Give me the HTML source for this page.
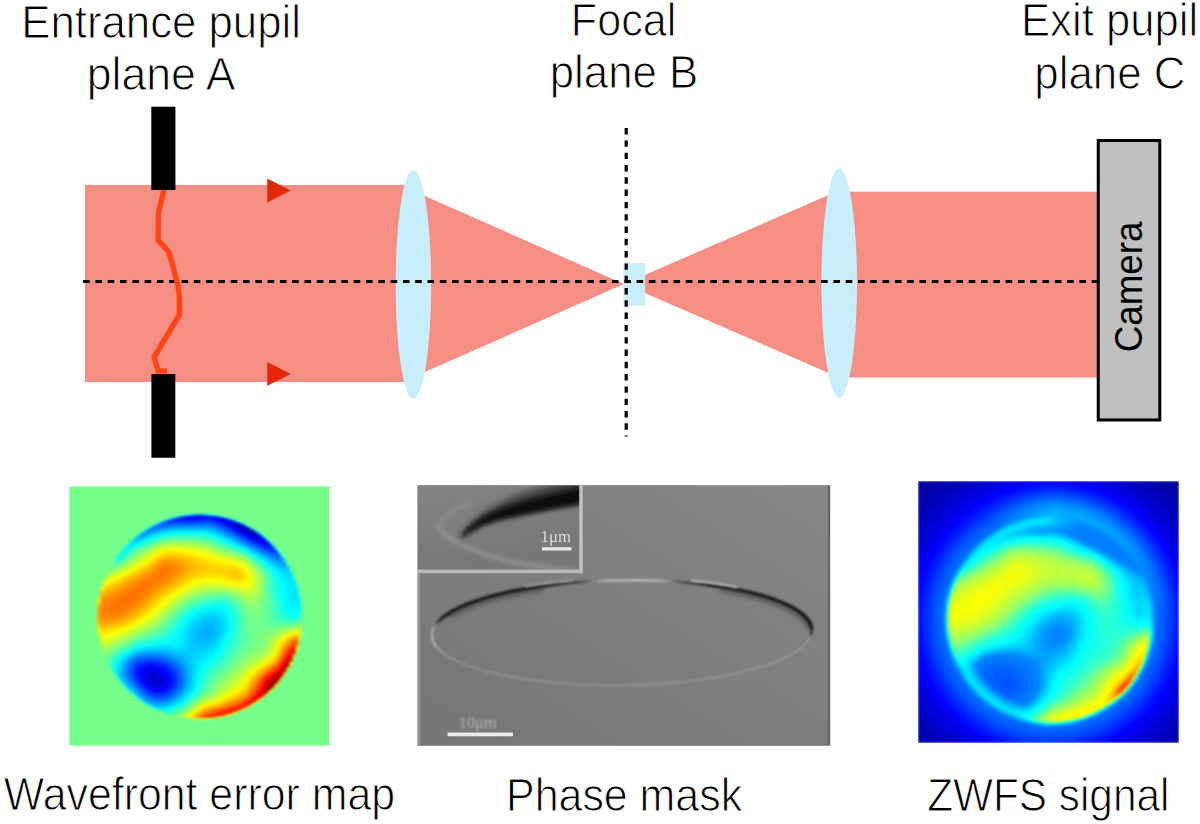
<!DOCTYPE html>
<html><head><meta charset="utf-8"><style>
html,body{margin:0;padding:0;background:#fff;width:1200px;height:824px;overflow:hidden}
#page{position:relative;width:1200px;height:824px}
svg{display:block;position:absolute;left:0;top:0}
.img{position:absolute;overflow:hidden}
.rows{position:absolute;left:0;top:0;width:100%;height:100%}
.rows div{position:absolute;left:0;width:100%}
</style></head>
<body><div id="page"><svg width="1200" height="824" viewBox="0 0 1200 824">
<defs><linearGradient id="pmg" x1="1" y1="0" x2="0" y2="1"><stop offset="0" stop-color="#888"/><stop offset="0.5" stop-color="#7e7e7e"/><stop offset="1" stop-color="#767676"/></linearGradient><filter id="pb06" x="-5%" y="-5%" width="110%" height="110%"><feGaussianBlur stdDeviation="0.6"/></filter><filter id="pb1" x="-20%" y="-50%" width="140%" height="200%"><feGaussianBlur stdDeviation="0.9"/></filter><filter id="pb2" x="-20%" y="-50%" width="140%" height="200%"><feGaussianBlur stdDeviation="2"/></filter><filter id="pb3" x="-30%" y="-60%" width="160%" height="220%"><feGaussianBlur stdDeviation="3.5"/></filter><clipPath id="pmclip"><rect x="417.5" y="485.2" width="412.7" height="260.6"/></clipPath><clipPath id="insclip"><rect x="417.5" y="485.2" width="162" height="84.4"/></clipPath><linearGradient id="insg" x1="0" y1="0" x2="0.3" y2="1"><stop offset="0" stop-color="#848484"/><stop offset="1" stop-color="#777"/></linearGradient></defs>
<rect width="1200" height="824" fill="#fff"/>
<rect x="85" y="185" width="330" height="197" fill="#f58f84"/><polygon points="413,190.69 624,284 413,377.31" fill="#f58f84"/><polygon points="624,284 839,190.52 839,377.48" fill="#f58f84"/><rect x="839" y="191.7" width="259" height="185.8" fill="#f58f84"/><ellipse cx="413.4" cy="284.5" rx="17.75" ry="114.5" fill="#c9eefb"/><ellipse cx="839.2" cy="283.1" rx="17.8" ry="114.7" fill="#c9eefb"/><rect x="623.3" y="263.1" width="21.9" height="42.6" fill="#c9eefb"/><line x1="83.1" y1="281.6" x2="1097" y2="281.6" stroke="#000" stroke-width="3" stroke-dasharray="6.6 5.7"/><line x1="626.2" y1="128.1" x2="626.2" y2="436.6" stroke="#000" stroke-width="3.2" stroke-dasharray="6.4 5.9"/><polygon points="267.25,178.5 290.75,190.5 267.25,202.5" fill="#e22806"/><polygon points="267.25,362 290.75,374 267.25,385.75" fill="#e22806"/><polyline points="164,190 158.4,212.5 158.2,240.5 168.5,251.5 172,262.5 175.2,275 178,286 179.3,296 179.5,314.5 154.2,357 158,371 167,371" fill="none" stroke="#ff4515" stroke-width="5.4" stroke-linejoin="miter"/><rect x="151.3" y="106.7" width="24.1" height="83.3" fill="#000"/><rect x="151.4" y="374" width="23.9" height="83.75" fill="#000"/><rect x="1098.25" y="140.5" width="61.55" height="279.45" fill="#bfbfbf" stroke="#000" stroke-width="3"/><text transform="translate(21.23,37.75) scale(0.9414,1)" font-family="Liberation Sans" font-size="46.5" fill="#000" stroke="#fff" stroke-width="1.0">Entrance pupil</text><text transform="translate(86.76,89.50) scale(0.9593,1)" font-family="Liberation Sans" font-size="46.5" fill="#000" stroke="#fff" stroke-width="1.0">plane A</text><text transform="translate(570.79,36.25) scale(0.9283,1)" font-family="Liberation Sans" font-size="46.5" fill="#000" stroke="#fff" stroke-width="1.0">Focal</text><text transform="translate(549.73,87.75) scale(0.9421,1)" font-family="Liberation Sans" font-size="46.5" fill="#000" stroke="#fff" stroke-width="1.0">plane B</text><text transform="translate(1020.99,36.25) scale(0.9390,1)" font-family="Liberation Sans" font-size="46.5" fill="#000" stroke="#fff" stroke-width="1.0">Exit pupil</text><text transform="translate(1034.22,88.50) scale(0.9444,1)" font-family="Liberation Sans" font-size="46.5" fill="#000" stroke="#fff" stroke-width="1.0">plane C</text><text transform="translate(3.82,809.85) scale(0.9318,1)" font-family="Liberation Sans" font-size="46" fill="#000" stroke="#fff" stroke-width="1.0">Wavefront error map</text><text transform="translate(506.07,810.50) scale(0.9328,1)" font-family="Liberation Sans" font-size="46" fill="#000" stroke="#fff" stroke-width="1.0">Phase mask</text><text transform="translate(927.16,810.50) scale(0.9205,1)" font-family="Liberation Sans" font-size="46" fill="#000" stroke="#fff" stroke-width="1.0">ZWFS signal</text><text transform="translate(1142,352.21) rotate(-90) scale(0.9541,1)" font-family="Liberation Sans" font-size="38.5" fill="#000">Camera</text><rect x="417.5" y="485.2" width="412.7" height="260.6" fill="url(#pmg)"/><g clip-path="url(#pmclip)"><rect x="417.5" y="485.2" width="2.6" height="260.6" fill="#969696" filter="url(#pb06)"/><rect x="827.8000000000001" y="485.2" width="2.4" height="260.6" fill="#666" filter="url(#pb06)"/><g filter="url(#pb2)"><path d="M 449.6,612.8 L 451.0,612.0 L 452.5,611.2 L 454.0,610.4 L 455.6,609.5 L 457.2,608.7 L 458.9,607.9 L 460.6,607.1 L 462.3,606.3 L 464.1,605.6 L 466.0,604.8 L 467.9,604.0 L 469.8,603.3 L 471.8,602.5 L 473.8,601.8 L 475.9,601.1 L 478.1,600.3 L 480.2,599.6 L 482.4,598.9 L 484.7,598.2 L 487.0,597.6 L 489.3,596.9 L 491.7,596.2 L 494.1,595.6 L 496.5,594.9 L 499.0,594.3 L 501.5,593.7 L 504.1,593.1 L 506.7,592.5 L 509.3,591.9 L 512.0,591.4 L 514.7,590.8 L 517.4,590.3 L 520.1,589.8 L 522.9,589.2 L 525.7,588.7 L 528.6,588.3 L 531.5,587.8 L 534.4,587.3 L 537.3,586.9 L 540.2,586.4" fill="none" stroke="#585858" stroke-width="5" stroke-linecap="round" transform="translate(1.5,3)"/><path d="M 722.9,587.1 L 726.4,587.6 L 729.8,588.2 L 733.2,588.9 L 736.6,589.5 L 739.9,590.2 L 743.1,590.9 L 746.3,591.6 L 749.4,592.3 L 752.5,593.0 L 755.5,593.8 L 758.4,594.6 L 761.3,595.4 L 764.1,596.2 L 766.8,597.1 L 769.5,597.9 L 772.1,598.8 L 774.6,599.7 L 777.0,600.6 L 779.4,601.5 L 781.7,602.4 L 783.9,603.4 L 786.0,604.3 L 788.1,605.3 L 790.1,606.3 L 791.9,607.3 L 793.8,608.3 L 795.5,609.4 L 797.1,610.4 L 798.7,611.5 L 800.2,612.5 L 801.5,613.6 L 802.8,614.7 L 804.1,615.8 L 805.2,616.9 L 806.2,618.0 L 807.2,619.1 L 808.0,620.2 L 808.8,621.3 L 809.5,622.5 L 810.0,623.6" fill="none" stroke="#585858" stroke-width="5" stroke-linecap="round" transform="translate(-1.5,3)"/></g><g filter="url(#pb1)"><path d="M810.9,635.1L810.1,636.9" stroke="#969696" stroke-width="1.6" stroke-linecap="round"/><path d="M810.1,636.9L809.2,638.8" stroke="#969696" stroke-width="1.6" stroke-linecap="round"/><path d="M809.2,638.8L808.0,640.6" stroke="#969696" stroke-width="1.6" stroke-linecap="round"/><path d="M808.0,640.6L806.6,642.4" stroke="#969696" stroke-width="1.6" stroke-linecap="round"/><path d="M806.6,642.4L805.0,644.2" stroke="#969696" stroke-width="1.6" stroke-linecap="round"/><path d="M805.0,644.2L803.2,646.0" stroke="#969696" stroke-width="1.6" stroke-linecap="round"/><path d="M803.2,646.0L801.1,647.7" stroke="#969696" stroke-width="1.6" stroke-linecap="round"/><path d="M801.1,647.7L798.8,649.5" stroke="#969696" stroke-width="1.6" stroke-linecap="round"/><path d="M798.8,649.5L796.3,651.2" stroke="#969696" stroke-width="1.6" stroke-linecap="round"/><path d="M796.3,651.2L793.6,652.9" stroke="#969696" stroke-width="1.6" stroke-linecap="round"/><path d="M793.6,652.9L790.7,654.6" stroke="#969696" stroke-width="1.6" stroke-linecap="round"/><path d="M790.7,654.6L787.5,656.3" stroke="#969696" stroke-width="1.6" stroke-linecap="round"/><path d="M787.5,656.3L784.2,657.9" stroke="#969696" stroke-width="1.6" stroke-linecap="round"/><path d="M784.2,657.9L780.7,659.5" stroke="#969696" stroke-width="1.6" stroke-linecap="round"/><path d="M780.7,659.5L777.0,661.0" stroke="#969696" stroke-width="1.6" stroke-linecap="round"/><path d="M777.0,661.0L773.0,662.6" stroke="#969696" stroke-width="1.6" stroke-linecap="round"/><path d="M773.0,662.6L768.9,664.1" stroke="#969696" stroke-width="1.6" stroke-linecap="round"/><path d="M768.9,664.1L764.7,665.5" stroke="#969696" stroke-width="1.6" stroke-linecap="round"/><path d="M764.7,665.5L760.2,666.9" stroke="#969696" stroke-width="1.6" stroke-linecap="round"/><path d="M760.2,666.9L755.6,668.3" stroke="#969696" stroke-width="1.6" stroke-linecap="round"/><path d="M755.6,668.3L750.8,669.6" stroke="#969696" stroke-width="1.6" stroke-linecap="round"/><path d="M750.8,669.6L745.9,670.9" stroke="#969696" stroke-width="1.6" stroke-linecap="round"/><path d="M745.9,670.9L740.8,672.2" stroke="#969696" stroke-width="1.6" stroke-linecap="round"/><path d="M740.8,672.2L735.6,673.4" stroke="#969696" stroke-width="1.6" stroke-linecap="round"/><path d="M735.6,673.4L730.2,674.5" stroke="#969696" stroke-width="1.6" stroke-linecap="round"/><path d="M730.2,674.5L724.7,675.6" stroke="#969696" stroke-width="1.6" stroke-linecap="round"/><path d="M724.7,675.6L719.0,676.6" stroke="#969696" stroke-width="1.6" stroke-linecap="round"/><path d="M719.0,676.6L713.3,677.6" stroke="#969696" stroke-width="1.6" stroke-linecap="round"/><path d="M713.3,677.6L707.4,678.6" stroke="#969696" stroke-width="1.6" stroke-linecap="round"/><path d="M707.4,678.6L701.5,679.4" stroke="#969696" stroke-width="1.6" stroke-linecap="round"/><path d="M701.5,679.4L695.4,680.2" stroke="#969696" stroke-width="1.6" stroke-linecap="round"/><path d="M695.4,680.2L689.2,681.0" stroke="#969696" stroke-width="1.6" stroke-linecap="round"/><path d="M689.2,681.0L683.0,681.7" stroke="#969696" stroke-width="1.6" stroke-linecap="round"/><path d="M683.0,681.7L676.7,682.3" stroke="#969696" stroke-width="1.6" stroke-linecap="round"/><path d="M676.7,682.3L670.3,682.9" stroke="#969696" stroke-width="1.6" stroke-linecap="round"/><path d="M670.3,682.9L663.9,683.5" stroke="#969696" stroke-width="1.6" stroke-linecap="round"/><path d="M663.9,683.5L657.4,683.9" stroke="#969696" stroke-width="1.6" stroke-linecap="round"/><path d="M657.4,683.9L650.9,684.3" stroke="#969696" stroke-width="1.6" stroke-linecap="round"/><path d="M650.9,684.3L644.3,684.6" stroke="#969696" stroke-width="1.6" stroke-linecap="round"/><path d="M644.3,684.6L637.7,684.9" stroke="#969696" stroke-width="1.6" stroke-linecap="round"/><path d="M637.7,684.9L631.1,685.1" stroke="#969696" stroke-width="1.6" stroke-linecap="round"/><path d="M631.1,685.1L624.5,685.3" stroke="#969696" stroke-width="1.6" stroke-linecap="round"/><path d="M624.5,685.3L617.8,685.3" stroke="#969696" stroke-width="1.6" stroke-linecap="round"/><path d="M617.8,685.3L611.2,685.4" stroke="#969696" stroke-width="1.6" stroke-linecap="round"/><path d="M611.2,685.4L604.6,685.3" stroke="#969696" stroke-width="1.6" stroke-linecap="round"/><path d="M604.6,685.3L598.0,685.2" stroke="#969696" stroke-width="1.6" stroke-linecap="round"/><path d="M598.0,685.2L591.5,685.0" stroke="#969696" stroke-width="1.6" stroke-linecap="round"/><path d="M591.5,685.0L584.9,684.8" stroke="#969696" stroke-width="1.6" stroke-linecap="round"/><path d="M584.9,684.8L578.5,684.5" stroke="#969696" stroke-width="1.6" stroke-linecap="round"/><path d="M578.5,684.5L572.0,684.1" stroke="#969696" stroke-width="1.6" stroke-linecap="round"/><path d="M572.0,684.1L565.7,683.7" stroke="#969696" stroke-width="1.6" stroke-linecap="round"/><path d="M565.7,683.7L559.4,683.2" stroke="#969696" stroke-width="1.6" stroke-linecap="round"/><path d="M559.4,683.2L553.1,682.6" stroke="#969696" stroke-width="1.6" stroke-linecap="round"/><path d="M553.1,682.6L547.0,682.0" stroke="#969696" stroke-width="1.6" stroke-linecap="round"/><path d="M547.0,682.0L541.0,681.4" stroke="#969696" stroke-width="1.6" stroke-linecap="round"/><path d="M541.0,681.4L535.0,680.6" stroke="#969696" stroke-width="1.6" stroke-linecap="round"/><path d="M535.0,680.6L529.2,679.8" stroke="#969696" stroke-width="1.6" stroke-linecap="round"/><path d="M529.2,679.8L523.4,679.0" stroke="#969696" stroke-width="1.6" stroke-linecap="round"/><path d="M523.4,679.0L517.8,678.1" stroke="#969696" stroke-width="1.6" stroke-linecap="round"/><path d="M517.8,678.1L512.4,677.1" stroke="#969696" stroke-width="1.6" stroke-linecap="round"/><path d="M512.4,677.1L507.0,676.1" stroke="#969696" stroke-width="1.6" stroke-linecap="round"/><path d="M507.0,676.1L501.8,675.0" stroke="#969696" stroke-width="1.6" stroke-linecap="round"/><path d="M501.8,675.0L496.7,673.9" stroke="#969696" stroke-width="1.6" stroke-linecap="round"/><path d="M496.7,673.9L491.8,672.8" stroke="#969696" stroke-width="1.6" stroke-linecap="round"/><path d="M491.8,672.8L487.1,671.5" stroke="#969696" stroke-width="1.6" stroke-linecap="round"/><path d="M487.1,671.5L482.5,670.3" stroke="#969696" stroke-width="1.6" stroke-linecap="round"/><path d="M482.5,670.3L478.1,669.0" stroke="#969696" stroke-width="1.6" stroke-linecap="round"/><path d="M478.1,669.0L473.8,667.6" stroke="#969696" stroke-width="1.6" stroke-linecap="round"/><path d="M473.8,667.6L469.7,666.2" stroke="#969696" stroke-width="1.6" stroke-linecap="round"/><path d="M469.7,666.2L465.9,664.8" stroke="#969696" stroke-width="1.6" stroke-linecap="round"/><path d="M465.9,664.8L462.2,663.3" stroke="#969696" stroke-width="1.6" stroke-linecap="round"/><path d="M462.2,663.3L458.7,661.8" stroke="#969696" stroke-width="1.6" stroke-linecap="round"/><path d="M458.7,661.8L455.4,660.3" stroke="#969696" stroke-width="1.6" stroke-linecap="round"/><path d="M455.4,660.3L452.3,658.7" stroke="#969696" stroke-width="1.6" stroke-linecap="round"/><path d="M452.3,658.7L449.4,657.1" stroke="#969696" stroke-width="1.6" stroke-linecap="round"/><path d="M449.4,657.1L446.7,655.4" stroke="#969696" stroke-width="1.6" stroke-linecap="round"/><path d="M446.7,655.4L444.3,653.8" stroke="#969696" stroke-width="1.6" stroke-linecap="round"/><path d="M444.3,653.8L442.0,652.1" stroke="#9a9a9a" stroke-width="1.7" stroke-linecap="round"/><path d="M442.0,652.1L440.0,650.3" stroke="#9f9f9f" stroke-width="1.8" stroke-linecap="round"/><path d="M440.0,650.3L438.2,648.6" stroke="#a4a4a4" stroke-width="1.9" stroke-linecap="round"/><path d="M438.2,648.6L436.6,646.8" stroke="#a9a9a9" stroke-width="2.0" stroke-linecap="round"/><path d="M436.6,646.8L435.2,645.1" stroke="#adadad" stroke-width="2.1" stroke-linecap="round"/><path d="M435.2,645.1L434.1,643.3" stroke="#b2b2b2" stroke-width="2.2" stroke-linecap="round"/><path d="M434.1,643.3L433.2,641.5" stroke="#b2b2b2" stroke-width="2.2" stroke-linecap="round"/><path d="M433.2,641.5L432.5,639.7" stroke="#b1b1b1" stroke-width="2.2" stroke-linecap="round"/><path d="M432.5,639.7L432.1,637.8" stroke="#afafaf" stroke-width="2.2" stroke-linecap="round"/><path d="M432.1,637.8L431.9,636.0" stroke="#adadad" stroke-width="2.2" stroke-linecap="round"/><path d="M431.9,636.0L431.9,634.2" stroke="#acacac" stroke-width="2.2" stroke-linecap="round"/><path d="M431.9,634.2L432.2,632.3" stroke="#aaaaaa" stroke-width="2.2" stroke-linecap="round"/><path d="M432.2,632.3L432.6,630.5" stroke="#a8a8a8" stroke-width="2.2" stroke-linecap="round"/><path d="M432.6,630.5L433.4,628.7" stroke="#a7a7a7" stroke-width="2.2" stroke-linecap="round"/><path d="M433.4,628.7L434.3,626.8" stroke="#a5a5a5" stroke-width="2.2" stroke-linecap="round"/><path d="M434.3,626.8L435.5,625.0" stroke="#909090" stroke-width="2.4" stroke-linecap="round"/><path d="M435.5,625.0L436.9,623.2" stroke="#737373" stroke-width="2.6" stroke-linecap="round"/><path d="M436.9,623.2L438.5,621.4" stroke="#565656" stroke-width="2.8" stroke-linecap="round"/><path d="M438.5,621.4L440.3,619.6" stroke="#3a3a3a" stroke-width="3.0" stroke-linecap="round"/><path d="M440.3,619.6L442.4,617.9" stroke="#2f2f2f" stroke-width="3.2" stroke-linecap="round"/><path d="M442.4,617.9L444.7,616.1" stroke="#242424" stroke-width="3.3" stroke-linecap="round"/><path d="M444.7,616.1L447.2,614.4" stroke="#1d1d1d" stroke-width="3.4" stroke-linecap="round"/><path d="M447.2,614.4L449.9,612.7" stroke="#1d1d1d" stroke-width="3.4" stroke-linecap="round"/><path d="M449.9,612.7L452.8,611.0" stroke="#1d1d1d" stroke-width="3.4" stroke-linecap="round"/><path d="M452.8,611.0L456.0,609.3" stroke="#1d1d1d" stroke-width="3.4" stroke-linecap="round"/><path d="M456.0,609.3L459.3,607.7" stroke="#1d1d1d" stroke-width="3.4" stroke-linecap="round"/><path d="M459.3,607.7L462.8,606.1" stroke="#1c1c1c" stroke-width="3.5" stroke-linecap="round"/><path d="M462.8,606.1L466.5,604.6" stroke="#1c1c1c" stroke-width="3.5" stroke-linecap="round"/><path d="M466.5,604.6L470.5,603.0" stroke="#1c1c1c" stroke-width="3.5" stroke-linecap="round"/><path d="M470.5,603.0L474.6,601.5" stroke="#1c1c1c" stroke-width="3.5" stroke-linecap="round"/><path d="M474.6,601.5L478.8,600.1" stroke="#1c1c1c" stroke-width="3.5" stroke-linecap="round"/><path d="M478.8,600.1L483.3,598.7" stroke="#1b1b1b" stroke-width="3.5" stroke-linecap="round"/><path d="M483.3,598.7L487.9,597.3" stroke="#1b1b1b" stroke-width="3.5" stroke-linecap="round"/><path d="M487.9,597.3L492.7,596.0" stroke="#1b1b1b" stroke-width="3.5" stroke-linecap="round"/><path d="M492.7,596.0L497.6,594.7" stroke="#1b1b1b" stroke-width="3.5" stroke-linecap="round"/><path d="M497.6,594.7L502.7,593.4" stroke="#1b1b1b" stroke-width="3.5" stroke-linecap="round"/><path d="M502.7,593.4L507.9,592.2" stroke="#1b1b1b" stroke-width="3.5" stroke-linecap="round"/><path d="M507.9,592.2L513.3,591.1" stroke="#1a1a1a" stroke-width="3.6" stroke-linecap="round"/><path d="M513.3,591.1L518.8,590.0" stroke="#1a1a1a" stroke-width="3.6" stroke-linecap="round"/><path d="M518.8,590.0L524.5,589.0" stroke="#1a1a1a" stroke-width="3.6" stroke-linecap="round"/><path d="M524.5,589.0L530.2,588.0" stroke="#1a1a1a" stroke-width="3.6" stroke-linecap="round"/><path d="M530.2,588.0L536.1,587.0" stroke="#1a1a1a" stroke-width="3.6" stroke-linecap="round"/><path d="M536.1,587.0L542.0,586.2" stroke="#1e1e1e" stroke-width="3.5" stroke-linecap="round"/><path d="M542.0,586.2L548.1,585.4" stroke="#242424" stroke-width="3.4" stroke-linecap="round"/><path d="M548.1,585.4L554.3,584.6" stroke="#2a2a2a" stroke-width="3.2" stroke-linecap="round"/><path d="M554.3,584.6L560.5,583.9" stroke="#303030" stroke-width="3.1" stroke-linecap="round"/><path d="M560.5,583.9L566.8,583.3" stroke="#363636" stroke-width="2.9" stroke-linecap="round"/><path d="M566.8,583.3L573.2,582.7" stroke="#3c3c3c" stroke-width="2.8" stroke-linecap="round"/><path d="M573.2,582.7L579.6,582.1" stroke="#424242" stroke-width="2.7" stroke-linecap="round"/><path d="M579.6,582.1L586.1,581.7" stroke="#535353" stroke-width="2.6" stroke-linecap="round"/><path d="M586.1,581.7L592.6,581.3" stroke="#6d6d6d" stroke-width="2.5" stroke-linecap="round"/><path d="M592.6,581.3L599.2,581.0" stroke="#888888" stroke-width="2.4" stroke-linecap="round"/><path d="M599.2,581.0L605.8,580.7" stroke="#a3a3a3" stroke-width="2.3" stroke-linecap="round"/><path d="M605.8,580.7L612.4,580.5" stroke="#bdbdbd" stroke-width="2.2" stroke-linecap="round"/><path d="M612.4,580.5L619.0,580.3" stroke="#bebebe" stroke-width="2.2" stroke-linecap="round"/><path d="M619.0,580.3L625.7,580.3" stroke="#bfbfbf" stroke-width="2.2" stroke-linecap="round"/><path d="M625.7,580.3L632.3,580.2" stroke="#c0c0c0" stroke-width="2.2" stroke-linecap="round"/><path d="M632.3,580.2L638.9,580.3" stroke="#c0c0c0" stroke-width="2.2" stroke-linecap="round"/><path d="M638.9,580.3L645.5,580.4" stroke="#c1c1c1" stroke-width="2.2" stroke-linecap="round"/><path d="M645.5,580.4L652.0,580.6" stroke="#c2c2c2" stroke-width="2.2" stroke-linecap="round"/><path d="M652.0,580.6L658.6,580.8" stroke="#c2c2c2" stroke-width="2.2" stroke-linecap="round"/><path d="M658.6,580.8L665.0,581.1" stroke="#ababab" stroke-width="2.2" stroke-linecap="round"/><path d="M665.0,581.1L671.5,581.5" stroke="#8e8e8e" stroke-width="2.3" stroke-linecap="round"/><path d="M671.5,581.5L677.8,581.9" stroke="#717171" stroke-width="2.4" stroke-linecap="round"/><path d="M677.8,581.9L684.1,582.4" stroke="#575757" stroke-width="2.4" stroke-linecap="round"/><path d="M684.1,582.4L690.4,583.0" stroke="#4c4c4c" stroke-width="2.6" stroke-linecap="round"/><path d="M690.4,583.0L696.5,583.6" stroke="#414141" stroke-width="2.8" stroke-linecap="round"/><path d="M696.5,583.6L702.5,584.2" stroke="#363636" stroke-width="3.0" stroke-linecap="round"/><path d="M702.5,584.2L708.5,585.0" stroke="#2b2b2b" stroke-width="3.2" stroke-linecap="round"/><path d="M708.5,585.0L714.3,585.8" stroke="#202020" stroke-width="3.4" stroke-linecap="round"/><path d="M714.3,585.8L720.1,586.6" stroke="#1d1d1d" stroke-width="3.4" stroke-linecap="round"/><path d="M720.1,586.6L725.7,587.5" stroke="#1d1d1d" stroke-width="3.4" stroke-linecap="round"/><path d="M725.7,587.5L731.1,588.5" stroke="#1d1d1d" stroke-width="3.4" stroke-linecap="round"/><path d="M731.1,588.5L736.5,589.5" stroke="#1d1d1d" stroke-width="3.4" stroke-linecap="round"/><path d="M736.5,589.5L741.7,590.6" stroke="#1d1d1d" stroke-width="3.4" stroke-linecap="round"/><path d="M741.7,590.6L746.8,591.7" stroke="#1d1d1d" stroke-width="3.4" stroke-linecap="round"/><path d="M746.8,591.7L751.7,592.8" stroke="#1d1d1d" stroke-width="3.4" stroke-linecap="round"/><path d="M751.7,592.8L756.4,594.1" stroke="#1c1c1c" stroke-width="3.5" stroke-linecap="round"/><path d="M756.4,594.1L761.0,595.3" stroke="#1c1c1c" stroke-width="3.5" stroke-linecap="round"/><path d="M761.0,595.3L765.4,596.6" stroke="#1c1c1c" stroke-width="3.5" stroke-linecap="round"/><path d="M765.4,596.6L769.7,598.0" stroke="#1c1c1c" stroke-width="3.5" stroke-linecap="round"/><path d="M769.7,598.0L773.8,599.4" stroke="#1c1c1c" stroke-width="3.5" stroke-linecap="round"/><path d="M773.8,599.4L777.6,600.8" stroke="#1c1c1c" stroke-width="3.5" stroke-linecap="round"/><path d="M777.6,600.8L781.3,602.3" stroke="#1c1c1c" stroke-width="3.5" stroke-linecap="round"/><path d="M781.3,602.3L784.8,603.8" stroke="#1b1b1b" stroke-width="3.5" stroke-linecap="round"/><path d="M784.8,603.8L788.1,605.3" stroke="#1b1b1b" stroke-width="3.5" stroke-linecap="round"/><path d="M788.1,605.3L791.2,606.9" stroke="#1b1b1b" stroke-width="3.5" stroke-linecap="round"/><path d="M791.2,606.9L794.1,608.5" stroke="#1b1b1b" stroke-width="3.5" stroke-linecap="round"/><path d="M794.1,608.5L796.8,610.2" stroke="#1b1b1b" stroke-width="3.5" stroke-linecap="round"/><path d="M796.8,610.2L799.2,611.8" stroke="#1b1b1b" stroke-width="3.5" stroke-linecap="round"/><path d="M799.2,611.8L801.5,613.5" stroke="#1b1b1b" stroke-width="3.5" stroke-linecap="round"/><path d="M801.5,613.5L803.5,615.3" stroke="#1a1a1a" stroke-width="3.6" stroke-linecap="round"/><path d="M803.5,615.3L805.3,617.0" stroke="#1a1a1a" stroke-width="3.6" stroke-linecap="round"/><path d="M805.3,617.0L806.9,618.8" stroke="#1a1a1a" stroke-width="3.6" stroke-linecap="round"/><path d="M806.9,618.8L808.3,620.5" stroke="#1a1a1a" stroke-width="3.6" stroke-linecap="round"/><path d="M808.3,620.5L809.4,622.3" stroke="#1a1a1a" stroke-width="3.6" stroke-linecap="round"/><path d="M809.4,622.3L810.3,624.1" stroke="#1a1a1a" stroke-width="3.6" stroke-linecap="round"/><path d="M810.3,624.1L811.0,625.9" stroke="#1a1a1a" stroke-width="3.6" stroke-linecap="round"/><path d="M811.0,625.9L811.4,627.8" stroke="#1a1a1a" stroke-width="3.6" stroke-linecap="round"/><path d="M811.4,627.8L811.6,629.6" stroke="#232323" stroke-width="3.3" stroke-linecap="round"/><path d="M811.6,629.6L811.6,631.4" stroke="#2c2c2c" stroke-width="3.0" stroke-linecap="round"/><path d="M811.6,631.4L811.3,633.3" stroke="#363636" stroke-width="2.7" stroke-linecap="round"/><path d="M811.3,633.3L810.9,635.1" stroke="#454545" stroke-width="2.4" stroke-linecap="round"/></g><g filter="url(#pb1)"><path d="M 524.5,589.0 L 525.6,588.8 L 526.8,588.6 L 527.9,588.4 L 529.1,588.2 L 530.3,588.0 L 531.5,587.8 L 532.6,587.6 L 533.8,587.4 L 535.0,587.2 L 536.2,587.0 L 537.4,586.8 L 538.6,586.7 L 539.8,586.5 L 541.0,586.3 L 542.3,586.1 L 543.5,586.0 L 544.7,585.8 L 545.9,585.6 L 547.2,585.5 L 548.4,585.3 L 549.6,585.2 L 550.9,585.0 L 552.1,584.8 L 553.4,584.7 L 554.6,584.5 L 555.9,584.4 L 557.2,584.3 L 558.4,584.1 L 559.7,584.0 L 561.0,583.8 L 562.2,583.7 L 563.5,583.6 L 564.8,583.4 L 566.1,583.3 L 567.4,583.2 L 568.6,583.1 L 569.9,583.0 L 571.2,582.8 L 572.5,582.7 L 573.8,582.6" fill="none" stroke="#a0a0a0" stroke-width="2" transform="translate(0,-2.5)"/><path d="M 691.0,583.0 L 692.2,583.1 L 693.5,583.3 L 694.7,583.4 L 695.9,583.5 L 697.2,583.6 L 698.4,583.8 L 699.6,583.9 L 700.9,584.0 L 702.1,584.2 L 703.3,584.3 L 704.5,584.5 L 705.7,584.6 L 706.9,584.8 L 708.1,584.9 L 709.3,585.1 L 710.5,585.2 L 711.7,585.4 L 712.8,585.6 L 714.0,585.7 L 715.2,585.9 L 716.4,586.1 L 717.5,586.2 L 718.7,586.4 L 719.8,586.6 L 721.0,586.8 L 722.1,586.9 L 723.3,587.1 L 724.4,587.3 L 725.5,587.5 L 726.6,587.7 L 727.7,587.9 L 728.9,588.1 L 730.0,588.3 L 731.1,588.5 L 732.2,588.7 L 733.2,588.9 L 734.3,589.1 L 735.4,589.3 L 736.5,589.5 L 737.6,589.7" fill="none" stroke="#b8b8b8" stroke-width="2.2" transform="translate(0,-2.5)"/></g><g clip-path="url(#insclip)"><rect x="417.5" y="485.2" width="162" height="84.4" fill="url(#insg)"/><path d="M 470,503 C 452,510 442,518 438.7,526.5" fill="none" stroke="#909090" stroke-width="3" filter="url(#pb2)"/><path d="M 438.7,526.5 C 446,540 470,550 500,559 C 530,566 556,569 582,572" fill="none" stroke="#9c9c9c" stroke-width="3" filter="url(#pb2)"/><path d="M 582,478 L 582,503.5 C 555,508 525,514 500,519.5 C 485,523 470,531 460,539 C 470,520 490,505 520,494 C 545,486 565,481 582,478 Z" fill="#3c3c3c" filter="url(#pb3)"/><path d="M 582,487 L 582,503.5 C 560,507 530,513 500,519.5 C 485,523 470,531 460,539 C 463,532 470,525 480,519 C 495,510 520,502 545,496 C 560,492 572,489 582,487 Z" fill="#0e0e0e" filter="url(#pb2)"/><rect x="542" y="547.2" width="29.4" height="3.3" fill="#e8e8e8" filter="url(#pb06)"/><text transform="translate(540.5,541.8) scale(1.05,1)" font-family="Liberation Serif" font-size="16" fill="#dcdcdc" filter="url(#pb06)">1μm</text></g><rect x="579.3" y="485.2" width="3.4" height="88" fill="#c4c4c4" filter="url(#pb06)"/><rect x="417.5" y="569.6" width="165.2" height="3.6" fill="#b8b8b8" filter="url(#pb06)"/><rect x="447.5" y="732.5" width="65.4" height="3.8" fill="#ececec" filter="url(#pb06)"/><text transform="translate(458.5,727.5) scale(1.0,1)" font-family="Liberation Serif" font-size="16.5" fill="#b4b4b4" filter="url(#pb1)">10μm</text></g>
</svg>
<div class="img" style="left:69.10px;top:485.70px;width:261.00px;height:260.00px"><div class="rows" style="filter:blur(1.0px);"><div style="top:0.00px;height:2.50px;background:linear-gradient(90deg,#75ff8a,#75ff8a,#75ff8a,#75ff8a,#75ff8a,#75ff8a,#75ff8a,#75ff8a,#75ff8a,#75ff8a,#75ff8a,#75ff8a,#75ff8a,#75ff8a,#75ff8a,#75ff8a,#75ff8a,#75ff8a,#75ff8a,#75ff8a,#75ff8a,#75ff8a,#75ff8a,#75ff8a,#75ff8a,#75ff8a,#75ff8a,#75ff8a,#75ff8a,#75ff8a,#75ff8a,#75ff8a,#75ff8a,#75ff8a,#75ff8a,#75ff8a,#75ff8a,#75ff8a,#75ff8a,#75ff8a,#75ff8a,#75ff8a,#75ff8a,#75ff8a,#75ff8a,#75ff8a,#75ff8a,#75ff8a,#75ff8a,#75ff8a,#75ff8a,#75ff8a,#75ff8a,#75ff8a,#75ff8a,#75ff8a,#75ff8a,#75ff8a,#75ff8a,#75ff8a,#75ff8a,#75ff8a,#75ff8a,#75ff8a,#75ff8a,#75ff8a,#75ff8a,#75ff8a,#75ff8a,#75ff8a,#75ff8a,#75ff8a,#75ff8a,#75ff8a,#75ff8a,#75ff8a,#75ff8a,#75ff8a,#75ff8a,#75ff8a,#75ff8a,#75ff8a,#75ff8a,#75ff8a,#75ff8a,#75ff8a,#75ff8a,#75ff8a)"></div><div style="top:2.00px;height:2.50px;background:linear-gradient(90deg,#75ff8a,#75ff8a,#75ff8a,#75ff8a,#75ff8a,#75ff8a,#75ff8a,#75ff8a,#75ff8a,#75ff8a,#75ff8a,#75ff8a,#75ff8a,#75ff8a,#75ff8a,#75ff8a,#75ff8a,#75ff8a,#75ff8a,#75ff8a,#75ff8a,#75ff8a,#75ff8a,#75ff8a,#75ff8a,#75ff8a,#75ff8a,#75ff8a,#75ff8a,#75ff8a,#75ff8a,#75ff8a,#75ff8a,#75ff8a,#75ff8a,#75ff8a,#75ff8a,#75ff8a,#75ff8a,#75ff8a,#75ff8a,#75ff8a,#75ff8a,#75ff8a,#75ff8a,#75ff8a,#75ff8a,#75ff8a,#75ff8a,#75ff8a,#75ff8a,#75ff8a,#75ff8a,#75ff8a,#75ff8a,#75ff8a,#75ff8a,#75ff8a,#75ff8a,#75ff8a,#75ff8a,#75ff8a,#75ff8a,#75ff8a,#75ff8a,#75ff8a,#75ff8a,#75ff8a,#75ff8a,#75ff8a,#75ff8a,#75ff8a,#75ff8a,#75ff8a,#75ff8a,#75ff8a,#75ff8a,#75ff8a,#75ff8a,#75ff8a,#75ff8a,#75ff8a,#75ff8a,#75ff8a,#75ff8a,#75ff8a,#75ff8a,#75ff8a)"></div><div style="top:4.00px;height:2.50px;background:linear-gradient(90deg,#75ff8a,#75ff8a,#75ff8a,#75ff8a,#75ff8a,#75ff8a,#75ff8a,#75ff8a,#75ff8a,#75ff8a,#75ff8a,#75ff8a,#75ff8a,#75ff8a,#75ff8a,#75ff8a,#75ff8a,#75ff8a,#75ff8a,#75ff8a,#75ff8a,#75ff8a,#75ff8a,#75ff8a,#75ff8a,#75ff8a,#75ff8a,#75ff8a,#75ff8a,#75ff8a,#75ff8a,#75ff8a,#75ff8a,#75ff8a,#75ff8a,#75ff8a,#75ff8a,#75ff8a,#75ff8a,#75ff8a,#75ff8a,#75ff8a,#75ff8a,#75ff8a,#75ff8a,#75ff8a,#75ff8a,#75ff8a,#75ff8a,#75ff8a,#75ff8a,#75ff8a,#75ff8a,#75ff8a,#75ff8a,#75ff8a,#75ff8a,#75ff8a,#75ff8a,#75ff8a,#75ff8a,#75ff8a,#75ff8a,#75ff8a,#75ff8a,#75ff8a,#75ff8a,#75ff8a,#75ff8a,#75ff8a,#75ff8a,#75ff8a,#75ff8a,#75ff8a,#75ff8a,#75ff8a,#75ff8a,#75ff8a,#75ff8a,#75ff8a,#75ff8a,#75ff8a,#75ff8a,#75ff8a,#75ff8a,#75ff8a,#75ff8a,#75ff8a)"></div><div style="top:6.00px;height:2.50px;background:linear-gradient(90deg,#75ff8a,#75ff8a,#75ff8a,#75ff8a,#75ff8a,#75ff8a,#75ff8a,#75ff8a,#75ff8a,#75ff8a,#75ff8a,#75ff8a,#75ff8a,#75ff8a,#75ff8a,#75ff8a,#75ff8a,#75ff8a,#75ff8a,#75ff8a,#75ff8a,#75ff8a,#75ff8a,#75ff8a,#75ff8a,#75ff8a,#75ff8a,#75ff8a,#75ff8a,#75ff8a,#75ff8a,#75ff8a,#75ff8a,#75ff8a,#75ff8a,#75ff8a,#75ff8a,#75ff8a,#75ff8a,#75ff8a,#75ff8a,#75ff8a,#75ff8a,#75ff8a,#75ff8a,#75ff8a,#75ff8a,#75ff8a,#75ff8a,#75ff8a,#75ff8a,#75ff8a,#75ff8a,#75ff8a,#75ff8a,#75ff8a,#75ff8a,#75ff8a,#75ff8a,#75ff8a,#75ff8a,#75ff8a,#75ff8a,#75ff8a,#75ff8a,#75ff8a,#75ff8a,#75ff8a,#75ff8a,#75ff8a,#75ff8a,#75ff8a,#75ff8a,#75ff8a,#75ff8a,#75ff8a,#75ff8a,#75ff8a,#75ff8a,#75ff8a,#75ff8a,#75ff8a,#75ff8a,#75ff8a,#75ff8a,#75ff8a,#75ff8a,#75ff8a)"></div><div style="top:8.00px;height:2.50px;background:linear-gradient(90deg,#75ff8a,#75ff8a,#75ff8a,#75ff8a,#75ff8a,#75ff8a,#75ff8a,#75ff8a,#75ff8a,#75ff8a,#75ff8a,#75ff8a,#75ff8a,#75ff8a,#75ff8a,#75ff8a,#75ff8a,#75ff8a,#75ff8a,#75ff8a,#75ff8a,#75ff8a,#75ff8a,#75ff8a,#75ff8a,#75ff8a,#75ff8a,#75ff8a,#75ff8a,#75ff8a,#75ff8a,#75ff8a,#75ff8a,#75ff8a,#75ff8a,#75ff8a,#75ff8a,#75ff8a,#75ff8a,#75ff8a,#75ff8a,#75ff8a,#75ff8a,#75ff8a,#75ff8a,#75ff8a,#75ff8a,#75ff8a,#75ff8a,#75ff8a,#75ff8a,#75ff8a,#75ff8a,#75ff8a,#75ff8a,#75ff8a,#75ff8a,#75ff8a,#75ff8a,#75ff8a,#75ff8a,#75ff8a,#75ff8a,#75ff8a,#75ff8a,#75ff8a,#75ff8a,#75ff8a,#75ff8a,#75ff8a,#75ff8a,#75ff8a,#75ff8a,#75ff8a,#75ff8a,#75ff8a,#75ff8a,#75ff8a,#75ff8a,#75ff8a,#75ff8a,#75ff8a,#75ff8a,#75ff8a,#75ff8a,#75ff8a,#75ff8a,#75ff8a)"></div><div style="top:10.00px;height:2.50px;background:linear-gradient(90deg,#75ff8a,#75ff8a,#75ff8a,#75ff8a,#75ff8a,#75ff8a,#75ff8a,#75ff8a,#75ff8a,#75ff8a,#75ff8a,#75ff8a,#75ff8a,#75ff8a,#75ff8a,#75ff8a,#75ff8a,#75ff8a,#75ff8a,#75ff8a,#75ff8a,#75ff8a,#75ff8a,#75ff8a,#75ff8a,#75ff8a,#75ff8a,#75ff8a,#75ff8a,#75ff8a,#75ff8a,#75ff8a,#75ff8a,#75ff8a,#75ff8a,#75ff8a,#75ff8a,#75ff8a,#75ff8a,#75ff8a,#75ff8a,#75ff8a,#75ff8a,#75ff8a,#75ff8a,#75ff8a,#75ff8a,#75ff8a,#75ff8a,#75ff8a,#75ff8a,#75ff8a,#75ff8a,#75ff8a,#75ff8a,#75ff8a,#75ff8a,#75ff8a,#75ff8a,#75ff8a,#75ff8a,#75ff8a,#75ff8a,#75ff8a,#75ff8a,#75ff8a,#75ff8a,#75ff8a,#75ff8a,#75ff8a,#75ff8a,#75ff8a,#75ff8a,#75ff8a,#75ff8a,#75ff8a,#75ff8a,#75ff8a,#75ff8a,#75ff8a,#75ff8a,#75ff8a,#75ff8a,#75ff8a,#75ff8a,#75ff8a,#75ff8a,#75ff8a)"></div><div style="top:12.00px;height:2.50px;background:linear-gradient(90deg,#75ff8a,#75ff8a,#75ff8a,#75ff8a,#75ff8a,#75ff8a,#75ff8a,#75ff8a,#75ff8a,#75ff8a,#75ff8a,#75ff8a,#75ff8a,#75ff8a,#75ff8a,#75ff8a,#75ff8a,#75ff8a,#75ff8a,#75ff8a,#75ff8a,#75ff8a,#75ff8a,#75ff8a,#75ff8a,#75ff8a,#75ff8a,#75ff8a,#75ff8a,#75ff8a,#75ff8a,#75ff8a,#75ff8a,#75ff8a,#75ff8a,#75ff8a,#75ff8a,#75ff8a,#75ff8a,#75ff8a,#75ff8a,#75ff8a,#75ff8a,#75ff8a,#75ff8a,#75ff8a,#75ff8a,#75ff8a,#75ff8a,#75ff8a,#75ff8a,#75ff8a,#75ff8a,#75ff8a,#75ff8a,#75ff8a,#75ff8a,#75ff8a,#75ff8a,#75ff8a,#75ff8a,#75ff8a,#75ff8a,#75ff8a,#75ff8a,#75ff8a,#75ff8a,#75ff8a,#75ff8a,#75ff8a,#75ff8a,#75ff8a,#75ff8a,#75ff8a,#75ff8a,#75ff8a,#75ff8a,#75ff8a,#75ff8a,#75ff8a,#75ff8a,#75ff8a,#75ff8a,#75ff8a,#75ff8a,#75ff8a,#75ff8a,#75ff8a)"></div><div style="top:14.00px;height:2.50px;background:linear-gradient(90deg,#75ff8a,#75ff8a,#75ff8a,#75ff8a,#75ff8a,#75ff8a,#75ff8a,#75ff8a,#75ff8a,#75ff8a,#75ff8a,#75ff8a,#75ff8a,#75ff8a,#75ff8a,#75ff8a,#75ff8a,#75ff8a,#75ff8a,#75ff8a,#75ff8a,#75ff8a,#75ff8a,#75ff8a,#75ff8a,#75ff8a,#75ff8a,#75ff8a,#75ff8a,#75ff8a,#75ff8a,#75ff8a,#75ff8a,#75ff8a,#75ff8a,#75ff8a,#75ff8a,#75ff8a,#75ff8a,#75ff8a,#75ff8a,#75ff8a,#75ff8a,#75ff8a,#75ff8a,#75ff8a,#75ff8a,#75ff8a,#75ff8a,#75ff8a,#75ff8a,#75ff8a,#75ff8a,#75ff8a,#75ff8a,#75ff8a,#75ff8a,#75ff8a,#75ff8a,#75ff8a,#75ff8a,#75ff8a,#75ff8a,#75ff8a,#75ff8a,#75ff8a,#75ff8a,#75ff8a,#75ff8a,#75ff8a,#75ff8a,#75ff8a,#75ff8a,#75ff8a,#75ff8a,#75ff8a,#75ff8a,#75ff8a,#75ff8a,#75ff8a,#75ff8a,#75ff8a,#75ff8a,#75ff8a,#75ff8a,#75ff8a,#75ff8a,#75ff8a)"></div><div style="top:16.00px;height:2.50px;background:linear-gradient(90deg,#75ff8a,#75ff8a,#75ff8a,#75ff8a,#75ff8a,#75ff8a,#75ff8a,#75ff8a,#75ff8a,#75ff8a,#75ff8a,#75ff8a,#75ff8a,#75ff8a,#75ff8a,#75ff8a,#75ff8a,#75ff8a,#75ff8a,#75ff8a,#75ff8a,#75ff8a,#75ff8a,#75ff8a,#75ff8a,#75ff8a,#75ff8a,#75ff8a,#75ff8a,#75ff8a,#75ff8a,#75ff8a,#75ff8a,#75ff8a,#75ff8a,#75ff8a,#75ff8a,#75ff8a,#75ff8a,#75ff8a,#75ff8a,#75ff8a,#75ff8a,#75ff8a,#75ff8a,#75ff8a,#75ff8a,#75ff8a,#75ff8a,#75ff8a,#75ff8a,#75ff8a,#75ff8a,#75ff8a,#75ff8a,#75ff8a,#75ff8a,#75ff8a,#75ff8a,#75ff8a,#75ff8a,#75ff8a,#75ff8a,#75ff8a,#75ff8a,#75ff8a,#75ff8a,#75ff8a,#75ff8a,#75ff8a,#75ff8a,#75ff8a,#75ff8a,#75ff8a,#75ff8a,#75ff8a,#75ff8a,#75ff8a,#75ff8a,#75ff8a,#75ff8a,#75ff8a,#75ff8a,#75ff8a,#75ff8a,#75ff8a,#75ff8a,#75ff8a)"></div><div style="top:18.00px;height:2.50px;background:linear-gradient(90deg,#75ff8a,#75ff8a,#75ff8a,#75ff8a,#75ff8a,#75ff8a,#75ff8a,#75ff8a,#75ff8a,#75ff8a,#75ff8a,#75ff8a,#75ff8a,#75ff8a,#75ff8a,#75ff8a,#75ff8a,#75ff8a,#75ff8a,#75ff8a,#75ff8a,#75ff8a,#75ff8a,#75ff8a,#75ff8a,#75ff8a,#75ff8a,#75ff8a,#75ff8a,#75ff8a,#75ff8a,#75ff8a,#75ff8a,#75ff8a,#75ff8a,#75ff8a,#75ff8a,#75ff8a,#75ff8a,#75ff8a,#75ff8a,#75ff8a,#75ff8a,#75ff8a,#75ff8a,#75ff8a,#75ff8a,#75ff8a,#75ff8a,#75ff8a,#75ff8a,#75ff8a,#75ff8a,#75ff8a,#75ff8a,#75ff8a,#75ff8a,#75ff8a,#75ff8a,#75ff8a,#75ff8a,#75ff8a,#75ff8a,#75ff8a,#75ff8a,#75ff8a,#75ff8a,#75ff8a,#75ff8a,#75ff8a,#75ff8a,#75ff8a,#75ff8a,#75ff8a,#75ff8a,#75ff8a,#75ff8a,#75ff8a,#75ff8a,#75ff8a,#75ff8a,#75ff8a,#75ff8a,#75ff8a,#75ff8a,#75ff8a,#75ff8a,#75ff8a)"></div><div style="top:20.00px;height:2.50px;background:linear-gradient(90deg,#75ff8a,#75ff8a,#75ff8a,#75ff8a,#75ff8a,#75ff8a,#75ff8a,#75ff8a,#75ff8a,#75ff8a,#75ff8a,#75ff8a,#75ff8a,#75ff8a,#75ff8a,#75ff8a,#75ff8a,#75ff8a,#75ff8a,#75ff8a,#75ff8a,#75ff8a,#75ff8a,#75ff8a,#75ff8a,#75ff8a,#75ff8a,#75ff8a,#75ff8a,#75ff8a,#75ff8a,#75ff8a,#75ff8a,#75ff8a,#75ff8a,#75ff8a,#75ff8a,#75ff8a,#75ff8a,#75ff8a,#75ff8a,#75ff8a,#75ff8a,#75ff8a,#75ff8a,#75ff8a,#75ff8a,#75ff8a,#75ff8a,#75ff8a,#75ff8a,#75ff8a,#75ff8a,#75ff8a,#75ff8a,#75ff8a,#75ff8a,#75ff8a,#75ff8a,#75ff8a,#75ff8a,#75ff8a,#75ff8a,#75ff8a,#75ff8a,#75ff8a,#75ff8a,#75ff8a,#75ff8a,#75ff8a,#75ff8a,#75ff8a,#75ff8a,#75ff8a,#75ff8a,#75ff8a,#75ff8a,#75ff8a,#75ff8a,#75ff8a,#75ff8a,#75ff8a,#75ff8a,#75ff8a,#75ff8a,#75ff8a,#75ff8a,#75ff8a)"></div><div style="top:22.00px;height:2.50px;background:linear-gradient(90deg,#75ff8a,#75ff8a,#75ff8a,#75ff8a,#75ff8a,#75ff8a,#75ff8a,#75ff8a,#75ff8a,#75ff8a,#75ff8a,#75ff8a,#75ff8a,#75ff8a,#75ff8a,#75ff8a,#75ff8a,#75ff8a,#75ff8a,#75ff8a,#75ff8a,#75ff8a,#75ff8a,#75ff8a,#75ff8a,#75ff8a,#75ff8a,#75ff8a,#75ff8a,#75ff8a,#75ff8a,#75ff8a,#75ff8a,#75ff8a,#75ff8a,#75ff8a,#75ff8a,#75ff8a,#75ff8a,#75ff8a,#75ff8a,#75ff8a,#75ff8a,#75ff8a,#75ff8a,#75ff8a,#75ff8a,#75ff8a,#75ff8a,#75ff8a,#75ff8a,#75ff8a,#75ff8a,#75ff8a,#75ff8a,#75ff8a,#75ff8a,#75ff8a,#75ff8a,#75ff8a,#75ff8a,#75ff8a,#75ff8a,#75ff8a,#75ff8a,#75ff8a,#75ff8a,#75ff8a,#75ff8a,#75ff8a,#75ff8a,#75ff8a,#75ff8a,#75ff8a,#75ff8a,#75ff8a,#75ff8a,#75ff8a,#75ff8a,#75ff8a,#75ff8a,#75ff8a,#75ff8a,#75ff8a,#75ff8a,#75ff8a,#75ff8a,#75ff8a)"></div><div style="top:24.00px;height:2.50px;background:linear-gradient(90deg,#75ff8a,#75ff8a,#75ff8a,#75ff8a,#75ff8a,#75ff8a,#75ff8a,#75ff8a,#75ff8a,#75ff8a,#75ff8a,#75ff8a,#75ff8a,#75ff8a,#75ff8a,#75ff8a,#75ff8a,#75ff8a,#75ff8a,#75ff8a,#75ff8a,#75ff8a,#75ff8a,#75ff8a,#75ff8a,#75ff8a,#75ff8a,#75ff8a,#75ff8a,#75ff8a,#75ff8a,#75ff8a,#75ff8a,#75ff8a,#75ff8a,#75ff8a,#75ff8a,#75ff8a,#75ff8a,#75ff8a,#75ff8a,#75ff8a,#75ff8a,#75ff8a,#75ff8a,#75ff8a,#75ff8a,#75ff8a,#75ff8a,#75ff8a,#75ff8a,#75ff8a,#75ff8a,#75ff8a,#75ff8a,#75ff8a,#75ff8a,#75ff8a,#75ff8a,#75ff8a,#75ff8a,#75ff8a,#75ff8a,#75ff8a,#75ff8a,#75ff8a,#75ff8a,#75ff8a,#75ff8a,#75ff8a,#75ff8a,#75ff8a,#75ff8a,#75ff8a,#75ff8a,#75ff8a,#75ff8a,#75ff8a,#75ff8a,#75ff8a,#75ff8a,#75ff8a,#75ff8a,#75ff8a,#75ff8a,#75ff8a,#75ff8a,#75ff8a)"></div><div style="top:26.00px;height:2.50px;background:linear-gradient(90deg,#75ff8a,#75ff8a,#75ff8a,#75ff8a,#75ff8a,#75ff8a,#75ff8a,#75ff8a,#75ff8a,#75ff8a,#75ff8a,#75ff8a,#75ff8a,#75ff8a,#75ff8a,#75ff8a,#75ff8a,#75ff8a,#75ff8a,#75ff8a,#75ff8a,#75ff8a,#75ff8a,#75ff8a,#75ff8a,#75ff8a,#75ff8a,#75ff8a,#75ff8a,#75ff8a,#75ff8a,#75ff8a,#75ff8a,#75ff8a,#75ff8a,#75ff8a,#75ff8a,#75ff8a,#75ff8a,#75ff8a,#73ff8c,#71ff8e,#6fff90,#6eff91,#6eff91,#6fff90,#71ff8e,#73ff8c,#75ff8a,#75ff8a,#75ff8a,#75ff8a,#75ff8a,#75ff8a,#75ff8a,#75ff8a,#75ff8a,#75ff8a,#75ff8a,#75ff8a,#75ff8a,#75ff8a,#75ff8a,#75ff8a,#75ff8a,#75ff8a,#75ff8a,#75ff8a,#75ff8a,#75ff8a,#75ff8a,#75ff8a,#75ff8a,#75ff8a,#75ff8a,#75ff8a,#75ff8a,#75ff8a,#75ff8a,#75ff8a,#75ff8a,#75ff8a,#75ff8a,#75ff8a,#75ff8a,#75ff8a,#75ff8a,#75ff8a)"></div><div style="top:28.00px;height:2.50px;background:linear-gradient(90deg,#75ff8a,#75ff8a,#75ff8a,#75ff8a,#75ff8a,#75ff8a,#75ff8a,#75ff8a,#75ff8a,#75ff8a,#75ff8a,#75ff8a,#75ff8a,#75ff8a,#75ff8a,#75ff8a,#75ff8a,#75ff8a,#75ff8a,#75ff8a,#75ff8a,#75ff8a,#75ff8a,#75ff8a,#75ff8a,#75ff8a,#75ff8a,#75ff8a,#75ff8a,#75ff8a,#75ff8a,#75ff8a,#75ff8a,#75ff8a,#75ff8a,#75ff8a,#73ff8c,#6cff93,#48ffb7,#1fffe0,#00e3ff,#00acff,#0087ff,#0076ff,#0079ff,#008eff,#00b1ff,#00e2ff,#1bffe4,#42ffbd,#6aff95,#72ff8d,#75ff8a,#75ff8a,#75ff8a,#75ff8a,#75ff8a,#75ff8a,#75ff8a,#75ff8a,#75ff8a,#75ff8a,#75ff8a,#75ff8a,#75ff8a,#75ff8a,#75ff8a,#75ff8a,#75ff8a,#75ff8a,#75ff8a,#75ff8a,#75ff8a,#75ff8a,#75ff8a,#75ff8a,#75ff8a,#75ff8a,#75ff8a,#75ff8a,#75ff8a,#75ff8a,#75ff8a,#75ff8a,#75ff8a,#75ff8a,#75ff8a,#75ff8a)"></div><div style="top:30.00px;height:2.50px;background:linear-gradient(90deg,#75ff8a,#75ff8a,#75ff8a,#75ff8a,#75ff8a,#75ff8a,#75ff8a,#75ff8a,#75ff8a,#75ff8a,#75ff8a,#75ff8a,#75ff8a,#75ff8a,#75ff8a,#75ff8a,#75ff8a,#75ff8a,#75ff8a,#75ff8a,#75ff8a,#75ff8a,#75ff8a,#75ff8a,#75ff8a,#75ff8a,#75ff8a,#75ff8a,#75ff8a,#75ff8a,#75ff8a,#75ff8a,#75ff8a,#75ff8a,#70ff8f,#45ffba,#00edff,#0078ff,#0032ff,#0006ff,#0000f2,#0000ed,#0000ec,#0000f0,#0000f7,#0000ff,#0004ff,#0004ff,#0009ff,#0028ff,#005bff,#00ccff,#33ffcc,#6bff94,#75ff8a,#75ff8a,#75ff8a,#75ff8a,#75ff8a,#75ff8a,#75ff8a,#75ff8a,#75ff8a,#75ff8a,#75ff8a,#75ff8a,#75ff8a,#75ff8a,#75ff8a,#75ff8a,#75ff8a,#75ff8a,#75ff8a,#75ff8a,#75ff8a,#75ff8a,#75ff8a,#75ff8a,#75ff8a,#75ff8a,#75ff8a,#75ff8a,#75ff8a,#75ff8a,#75ff8a,#75ff8a,#75ff8a,#75ff8a)"></div><div style="top:32.00px;height:2.50px;background:linear-gradient(90deg,#75ff8a,#75ff8a,#75ff8a,#75ff8a,#75ff8a,#75ff8a,#75ff8a,#75ff8a,#75ff8a,#75ff8a,#75ff8a,#75ff8a,#75ff8a,#75ff8a,#75ff8a,#75ff8a,#75ff8a,#75ff8a,#75ff8a,#75ff8a,#75ff8a,#75ff8a,#75ff8a,#75ff8a,#75ff8a,#75ff8a,#75ff8a,#75ff8a,#75ff8a,#75ff8a,#75ff8a,#75ff8a,#6eff91,#34ffcb,#00afff,#0047ff,#0016ff,#000cff,#0008ff,#0007ff,#0007ff,#0007ff,#0008ff,#000cff,#0014ff,#001aff,#001bff,#0017ff,#000dff,#0000ff,#0000f2,#0000ea,#0007ff,#0068ff,#10ffef,#67ff98,#75ff8a,#75ff8a,#75ff8a,#75ff8a,#75ff8a,#75ff8a,#75ff8a,#75ff8a,#75ff8a,#75ff8a,#75ff8a,#75ff8a,#75ff8a,#75ff8a,#75ff8a,#75ff8a,#75ff8a,#75ff8a,#75ff8a,#75ff8a,#75ff8a,#75ff8a,#75ff8a,#75ff8a,#75ff8a,#75ff8a,#75ff8a,#75ff8a,#75ff8a,#75ff8a,#75ff8a,#75ff8a)"></div><div style="top:34.00px;height:2.50px;background:linear-gradient(90deg,#75ff8a,#75ff8a,#75ff8a,#75ff8a,#75ff8a,#75ff8a,#75ff8a,#75ff8a,#75ff8a,#75ff8a,#75ff8a,#75ff8a,#75ff8a,#75ff8a,#75ff8a,#75ff8a,#75ff8a,#75ff8a,#75ff8a,#75ff8a,#75ff8a,#75ff8a,#75ff8a,#75ff8a,#75ff8a,#75ff8a,#75ff8a,#75ff8a,#75ff8a,#75ff8a,#73ff8c,#46ffb9,#00b8ff,#004cff,#002cff,#0029ff,#0029ff,#002aff,#002aff,#002aff,#0029ff,#002aff,#002bff,#002fff,#0035ff,#003aff,#003bff,#0036ff,#002cff,#001eff,#000eff,#0000fa,#0000e6,#0000d6,#0000e1,#0054ff,#1bffe4,#6fff90,#75ff8a,#75ff8a,#75ff8a,#75ff8a,#75ff8a,#75ff8a,#75ff8a,#75ff8a,#75ff8a,#75ff8a,#75ff8a,#75ff8a,#75ff8a,#75ff8a,#75ff8a,#75ff8a,#75ff8a,#75ff8a,#75ff8a,#75ff8a,#75ff8a,#75ff8a,#75ff8a,#75ff8a,#75ff8a,#75ff8a,#75ff8a,#75ff8a,#75ff8a,#75ff8a)"></div><div style="top:36.00px;height:2.50px;background:linear-gradient(90deg,#75ff8a,#75ff8a,#75ff8a,#75ff8a,#75ff8a,#75ff8a,#75ff8a,#75ff8a,#75ff8a,#75ff8a,#75ff8a,#75ff8a,#75ff8a,#75ff8a,#75ff8a,#75ff8a,#75ff8a,#75ff8a,#75ff8a,#75ff8a,#75ff8a,#75ff8a,#75ff8a,#75ff8a,#75ff8a,#75ff8a,#75ff8a,#75ff8a,#75ff8a,#68ff97,#00f9ff,#006cff,#0044ff,#0043ff,#0047ff,#004bff,#004dff,#004dff,#004eff,#004dff,#004dff,#004dff,#004fff,#0052ff,#0057ff,#005bff,#005aff,#0055ff,#004aff,#003cff,#002bff,#0018ff,#0003ff,#0000ec,#0000d5,#0000c4,#0000de,#0092ff,#51ffae,#74ff8b,#75ff8a,#75ff8a,#75ff8a,#75ff8a,#75ff8a,#75ff8a,#75ff8a,#75ff8a,#75ff8a,#75ff8a,#75ff8a,#75ff8a,#75ff8a,#75ff8a,#75ff8a,#75ff8a,#75ff8a,#75ff8a,#75ff8a,#75ff8a,#75ff8a,#75ff8a,#75ff8a,#75ff8a,#75ff8a,#75ff8a,#75ff8a,#75ff8a)"></div><div style="top:38.00px;height:2.50px;background:linear-gradient(90deg,#75ff8a,#75ff8a,#75ff8a,#75ff8a,#75ff8a,#75ff8a,#75ff8a,#75ff8a,#75ff8a,#75ff8a,#75ff8a,#75ff8a,#75ff8a,#75ff8a,#75ff8a,#75ff8a,#75ff8a,#75ff8a,#75ff8a,#75ff8a,#75ff8a,#75ff8a,#75ff8a,#75ff8a,#75ff8a,#75ff8a,#75ff8a,#74ff8b,#4fffb0,#00b3ff,#005cff,#0057ff,#005fff,#0065ff,#006aff,#006eff,#0070ff,#0071ff,#0072ff,#0072ff,#0071ff,#0072ff,#0073ff,#0076ff,#0079ff,#007bff,#007aff,#0073ff,#0069ff,#005aff,#0049ff,#0036ff,#0020ff,#000aff,#0000f1,#0000d9,#0000c2,#0000b6,#0017ff,#19ffe6,#72ff8d,#75ff8a,#75ff8a,#75ff8a,#75ff8a,#75ff8a,#75ff8a,#75ff8a,#75ff8a,#75ff8a,#75ff8a,#75ff8a,#75ff8a,#75ff8a,#75ff8a,#75ff8a,#75ff8a,#75ff8a,#75ff8a,#75ff8a,#75ff8a,#75ff8a,#75ff8a,#75ff8a,#75ff8a,#75ff8a,#75ff8a,#75ff8a)"></div><div style="top:40.00px;height:2.50px;background:linear-gradient(90deg,#75ff8a,#75ff8a,#75ff8a,#75ff8a,#75ff8a,#75ff8a,#75ff8a,#75ff8a,#75ff8a,#75ff8a,#75ff8a,#75ff8a,#75ff8a,#75ff8a,#75ff8a,#75ff8a,#75ff8a,#75ff8a,#75ff8a,#75ff8a,#75ff8a,#75ff8a,#75ff8a,#75ff8a,#75ff8a,#75ff8a,#73ff8c,#34ffcb,#0091ff,#0066ff,#006eff,#0078ff,#0081ff,#0088ff,#008dff,#0091ff,#0094ff,#0095ff,#0096ff,#0096ff,#0096ff,#0096ff,#0097ff,#0099ff,#009bff,#009cff,#0099ff,#0092ff,#0087ff,#0078ff,#0066ff,#0052ff,#003dff,#0026ff,#000fff,#0000f5,#0000dd,#0000c4,#0000af,#0000d6,#00d5ff,#6fff90,#75ff8a,#75ff8a,#75ff8a,#75ff8a,#75ff8a,#75ff8a,#75ff8a,#75ff8a,#75ff8a,#75ff8a,#75ff8a,#75ff8a,#75ff8a,#75ff8a,#75ff8a,#75ff8a,#75ff8a,#75ff8a,#75ff8a,#75ff8a,#75ff8a,#75ff8a,#75ff8a,#75ff8a,#75ff8a,#75ff8a)"></div><div style="top:42.00px;height:2.50px;background:linear-gradient(90deg,#75ff8a,#75ff8a,#75ff8a,#75ff8a,#75ff8a,#75ff8a,#75ff8a,#75ff8a,#75ff8a,#75ff8a,#75ff8a,#75ff8a,#75ff8a,#75ff8a,#75ff8a,#75ff8a,#75ff8a,#75ff8a,#75ff8a,#75ff8a,#75ff8a,#75ff8a,#75ff8a,#75ff8a,#75ff8a,#73ff8c,#1cffe3,#0088ff,#0076ff,#0082ff,#008fff,#009aff,#00a3ff,#00abff,#00b0ff,#00b4ff,#00b7ff,#00b9ff,#00baff,#00baff,#00b9ff,#00b9ff,#00baff,#00bbff,#00bcff,#00bcff,#00b8ff,#00b0ff,#00a4ff,#0095ff,#0083ff,#006fff,#005aff,#0043ff,#002bff,#0013ff,#0000f8,#0000df,#0000c6,#0000af,#0000b8,#00a3ff,#69ff96,#75ff8a,#75ff8a,#75ff8a,#75ff8a,#75ff8a,#75ff8a,#75ff8a,#75ff8a,#75ff8a,#75ff8a,#75ff8a,#75ff8a,#75ff8a,#75ff8a,#75ff8a,#75ff8a,#75ff8a,#75ff8a,#75ff8a,#75ff8a,#75ff8a,#75ff8a,#75ff8a,#75ff8a,#75ff8a)"></div><div style="top:44.00px;height:2.50px;background:linear-gradient(90deg,#75ff8a,#75ff8a,#75ff8a,#75ff8a,#75ff8a,#75ff8a,#75ff8a,#75ff8a,#75ff8a,#75ff8a,#75ff8a,#75ff8a,#75ff8a,#75ff8a,#75ff8a,#75ff8a,#75ff8a,#75ff8a,#75ff8a,#75ff8a,#75ff8a,#75ff8a,#75ff8a,#75ff8a,#73ff8c,#15ffea,#008aff,#0084ff,#0093ff,#00a2ff,#00b0ff,#00bcff,#00c5ff,#00cdff,#00d3ff,#00d7ff,#00daff,#00dcff,#00ddff,#00ddff,#00dcff,#00dcff,#00dcff,#00ddff,#00ddff,#00dbff,#00d6ff,#00cdff,#00c1ff,#00b1ff,#009fff,#008cff,#0076ff,#0060ff,#0048ff,#002fff,#0016ff,#0000fb,#0000e1,#0000c8,#0000b1,#0000b2,#008cff,#69ff96,#75ff8a,#75ff8a,#75ff8a,#75ff8a,#75ff8a,#75ff8a,#75ff8a,#75ff8a,#75ff8a,#75ff8a,#75ff8a,#75ff8a,#75ff8a,#75ff8a,#75ff8a,#75ff8a,#75ff8a,#75ff8a,#75ff8a,#75ff8a,#75ff8a,#75ff8a,#75ff8a,#75ff8a)"></div><div style="top:46.00px;height:2.50px;background:linear-gradient(90deg,#75ff8a,#75ff8a,#75ff8a,#75ff8a,#75ff8a,#75ff8a,#75ff8a,#75ff8a,#75ff8a,#75ff8a,#75ff8a,#75ff8a,#75ff8a,#75ff8a,#75ff8a,#75ff8a,#75ff8a,#75ff8a,#75ff8a,#75ff8a,#75ff8a,#75ff8a,#75ff8a,#73ff8c,#1bffe4,#0094ff,#0092ff,#00a3ff,#00b4ff,#00c3ff,#00d1ff,#00ddff,#00e8ff,#00f0ff,#00f6ff,#00faff,#00fdff,#00feff,#00ffff,#00ffff,#00ffff,#00feff,#00feff,#00fdff,#00fcff,#00f9ff,#00f4ff,#00eaff,#00ddff,#00cdff,#00bbff,#00a8ff,#0093ff,#007cff,#0065ff,#004cff,#0032ff,#0018ff,#0000fd,#0000e3,#0000cb,#0000b5,#0000b5,#0092ff,#6cff93,#75ff8a,#75ff8a,#75ff8a,#75ff8a,#75ff8a,#75ff8a,#75ff8a,#75ff8a,#75ff8a,#75ff8a,#75ff8a,#75ff8a,#75ff8a,#75ff8a,#75ff8a,#75ff8a,#75ff8a,#75ff8a,#75ff8a,#75ff8a,#75ff8a,#75ff8a,#75ff8a)"></div><div style="top:48.00px;height:2.50px;background:linear-gradient(90deg,#75ff8a,#75ff8a,#75ff8a,#75ff8a,#75ff8a,#75ff8a,#75ff8a,#75ff8a,#75ff8a,#75ff8a,#75ff8a,#75ff8a,#75ff8a,#75ff8a,#75ff8a,#75ff8a,#75ff8a,#75ff8a,#75ff8a,#75ff8a,#75ff8a,#75ff8a,#74ff8b,#30ffcf,#00a2ff,#009eff,#00b0ff,#00c2ff,#00d4ff,#00e4ff,#00f2ff,#00ffff,#0bfff4,#13ffec,#19ffe6,#1dffe2,#20ffdf,#21ffde,#22ffdd,#21ffde,#21ffde,#20ffdf,#1fffe0,#1dffe2,#1bffe4,#17ffe8,#11ffee,#07fff8,#00f9ff,#00e9ff,#00d7ff,#00c3ff,#00afff,#0099ff,#0081ff,#0069ff,#0050ff,#0035ff,#001bff,#0000ff,#0000e6,#0000d0,#0000bc,#0000c0,#00b0ff,#72ff8d,#75ff8a,#75ff8a,#75ff8a,#75ff8a,#75ff8a,#75ff8a,#75ff8a,#75ff8a,#75ff8a,#75ff8a,#75ff8a,#75ff8a,#75ff8a,#75ff8a,#75ff8a,#75ff8a,#75ff8a,#75ff8a,#75ff8a,#75ff8a,#75ff8a,#75ff8a)"></div><div style="top:50.00px;height:2.50px;background:linear-gradient(90deg,#75ff8a,#75ff8a,#75ff8a,#75ff8a,#75ff8a,#75ff8a,#75ff8a,#75ff8a,#75ff8a,#75ff8a,#75ff8a,#75ff8a,#75ff8a,#75ff8a,#75ff8a,#75ff8a,#75ff8a,#75ff8a,#75ff8a,#75ff8a,#75ff8a,#75ff8a,#4bffb4,#00b5ff,#00aaff,#00bcff,#00cfff,#00e2ff,#00f4ff,#06fff9,#15ffea,#22ffdd,#2dffd2,#35ffca,#3bffc4,#3fffc0,#41ffbe,#42ffbd,#42ffbd,#41ffbe,#40ffbf,#3fffc0,#3effc1,#3cffc3,#38ffc7,#34ffcb,#2cffd3,#22ffdd,#14ffeb,#05fffa,#00f2ff,#00dfff,#00caff,#00b5ff,#009eff,#0087ff,#006eff,#0053ff,#0038ff,#001dff,#0004ff,#0000ec,#0000d7,#0000c6,#0000d3,#00f0ff,#74ff8b,#75ff8a,#75ff8a,#75ff8a,#75ff8a,#75ff8a,#75ff8a,#75ff8a,#75ff8a,#75ff8a,#75ff8a,#75ff8a,#75ff8a,#75ff8a,#75ff8a,#75ff8a,#75ff8a,#75ff8a,#75ff8a,#75ff8a,#75ff8a,#75ff8a)"></div><div style="top:52.00px;height:2.50px;background:linear-gradient(90deg,#75ff8a,#75ff8a,#75ff8a,#75ff8a,#75ff8a,#75ff8a,#75ff8a,#75ff8a,#75ff8a,#75ff8a,#75ff8a,#75ff8a,#75ff8a,#75ff8a,#75ff8a,#75ff8a,#75ff8a,#75ff8a,#75ff8a,#75ff8a,#75ff8a,#62ff9d,#00d7ff,#00b8ff,#00c8ff,#00daff,#00eeff,#02fffd,#15ffea,#27ffd8,#36ffc9,#44ffbb,#4effb1,#56ffa9,#5cffa3,#5fffa0,#61ff9e,#62ff9d,#61ff9e,#60ff9f,#5fffa0,#5dffa2,#5bffa4,#58ffa7,#54ffab,#4fffb0,#47ffb8,#3cffc3,#2fffd0,#1fffe0,#0efff1,#00faff,#00e6ff,#00d1ff,#00bbff,#00a4ff,#008cff,#0072ff,#0057ff,#003cff,#0021ff,#0009ff,#0000f4,#0000e1,#0000d2,#0000f2,#2bffd4,#75ff8a,#75ff8a,#75ff8a,#75ff8a,#75ff8a,#75ff8a,#75ff8a,#75ff8a,#75ff8a,#75ff8a,#75ff8a,#75ff8a,#75ff8a,#75ff8a,#75ff8a,#75ff8a,#75ff8a,#75ff8a,#75ff8a,#75ff8a,#75ff8a)"></div><div style="top:54.00px;height:2.50px;background:linear-gradient(90deg,#75ff8a,#75ff8a,#75ff8a,#75ff8a,#75ff8a,#75ff8a,#75ff8a,#75ff8a,#75ff8a,#75ff8a,#75ff8a,#75ff8a,#75ff8a,#75ff8a,#75ff8a,#75ff8a,#75ff8a,#75ff8a,#75ff8a,#75ff8a,#70ff8f,#00fcff,#00c8ff,#00d6ff,#00e7ff,#00f9ff,#0dfff2,#21ffde,#35ffca,#47ffb8,#57ffa8,#65ff9a,#70ff8f,#77ff88,#7cff83,#7fff80,#81ff7e,#80ff7f,#7fff80,#7eff81,#7cff83,#7aff85,#77ff88,#74ff8b,#6fff90,#69ff96,#60ff9f,#55ffaa,#48ffb7,#39ffc6,#28ffd7,#15ffea,#02fffd,#00edff,#00d9ff,#00c3ff,#00abff,#0092ff,#0077ff,#005bff,#0040ff,#0027ff,#0012ff,#0000fe,#0000ed,#0000df,#0034ff,#5fffa0,#75ff8a,#75ff8a,#75ff8a,#75ff8a,#75ff8a,#75ff8a,#75ff8a,#75ff8a,#75ff8a,#75ff8a,#75ff8a,#75ff8a,#75ff8a,#75ff8a,#75ff8a,#75ff8a,#75ff8a,#75ff8a,#75ff8a,#75ff8a)"></div><div style="top:56.00px;height:2.50px;background:linear-gradient(90deg,#75ff8a,#75ff8a,#75ff8a,#75ff8a,#75ff8a,#75ff8a,#75ff8a,#75ff8a,#75ff8a,#75ff8a,#75ff8a,#75ff8a,#75ff8a,#75ff8a,#75ff8a,#75ff8a,#75ff8a,#75ff8a,#75ff8a,#75ff8a,#2fffd0,#00d6ff,#00e3ff,#00f5ff,#07fff8,#19ffe6,#2cffd3,#40ffbf,#54ffab,#67ff98,#78ff87,#86ff79,#90ff6f,#97ff68,#9cff63,#9eff61,#9fff60,#9eff61,#9dff62,#9bff64,#98ff67,#96ff69,#92ff6d,#8eff71,#89ff76,#82ff7d,#79ff86,#6eff91,#61ff9e,#52ffad,#41ffbe,#2fffd0,#1dffe2,#0afff5,#00f6ff,#00e1ff,#00cbff,#00b2ff,#0098ff,#007cff,#0060ff,#0046ff,#0030ff,#001cff,#000aff,#0000f9,#0000ef,#00a1ff,#72ff8d,#75ff8a,#75ff8a,#75ff8a,#75ff8a,#75ff8a,#75ff8a,#75ff8a,#75ff8a,#75ff8a,#75ff8a,#75ff8a,#75ff8a,#75ff8a,#75ff8a,#75ff8a,#75ff8a,#75ff8a,#75ff8a,#75ff8a)"></div><div style="top:58.00px;height:2.50px;background:linear-gradient(90deg,#75ff8a,#75ff8a,#75ff8a,#75ff8a,#75ff8a,#75ff8a,#75ff8a,#75ff8a,#75ff8a,#75ff8a,#75ff8a,#75ff8a,#75ff8a,#75ff8a,#75ff8a,#75ff8a,#75ff8a,#75ff8a,#75ff8a,#5cffa3,#00e8ff,#00ecff,#03fffc,#15ffea,#25ffda,#36ffc9,#49ffb6,#5effa1,#73ff8c,#87ff78,#98ff67,#a5ff5a,#afff50,#b6ff49,#baff45,#bbff44,#bcff43,#baff45,#b9ff46,#b6ff49,#b3ff4c,#b0ff4f,#acff53,#a7ff58,#a1ff5e,#9aff65,#91ff6e,#86ff79,#79ff86,#6aff95,#5affa5,#49ffb6,#38ffc7,#26ffd9,#15ffea,#02fffd,#00ebff,#00d4ff,#00baff,#009eff,#0082ff,#0067ff,#0050ff,#003bff,#0027ff,#0016ff,#0006ff,#000dff,#1dffe2,#75ff8a,#75ff8a,#75ff8a,#75ff8a,#75ff8a,#75ff8a,#75ff8a,#75ff8a,#75ff8a,#75ff8a,#75ff8a,#75ff8a,#75ff8a,#75ff8a,#75ff8a,#75ff8a,#75ff8a,#75ff8a,#75ff8a)"></div><div style="top:60.00px;height:2.50px;background:linear-gradient(90deg,#75ff8a,#75ff8a,#75ff8a,#75ff8a,#75ff8a,#75ff8a,#75ff8a,#75ff8a,#75ff8a,#75ff8a,#75ff8a,#75ff8a,#75ff8a,#75ff8a,#75ff8a,#75ff8a,#75ff8a,#75ff8a,#71ff8e,#0afff5,#00efff,#09fff6,#20ffdf,#32ffcd,#42ffbd,#53ffac,#65ff9a,#7aff85,#90ff6f,#a5ff5a,#b7ff48,#c4ff3b,#cdff32,#d3ff2c,#d6ff29,#d7ff28,#d7ff28,#d5ff2a,#d3ff2c,#d0ff2f,#ccff33,#c8ff37,#c4ff3b,#beff41,#b8ff47,#b1ff4e,#a8ff57,#9dff62,#90ff6f,#82ff7d,#73ff8c,#62ff9d,#52ffad,#42ffbd,#32ffcd,#21ffde,#0dfff2,#00f6ff,#00ddff,#00c2ff,#00a5ff,#008aff,#0071ff,#005aff,#0045ff,#0032ff,#0021ff,#0013ff,#0050ff,#63ff9c,#75ff8a,#75ff8a,#75ff8a,#75ff8a,#75ff8a,#75ff8a,#75ff8a,#75ff8a,#75ff8a,#75ff8a,#75ff8a,#75ff8a,#75ff8a,#75ff8a,#75ff8a,#75ff8a,#75ff8a,#75ff8a)"></div><div style="top:62.00px;height:2.50px;background:linear-gradient(90deg,#75ff8a,#75ff8a,#75ff8a,#75ff8a,#75ff8a,#75ff8a,#75ff8a,#75ff8a,#75ff8a,#75ff8a,#75ff8a,#75ff8a,#75ff8a,#75ff8a,#75ff8a,#75ff8a,#75ff8a,#75ff8a,#43ffbc,#00efff,#07fff8,#24ffdb,#3bffc4,#4dffb2,#5cffa3,#6dff92,#80ff7f,#95ff6a,#abff54,#c1ff3e,#d3ff2c,#e0ff1f,#e9ff16,#eeff11,#f1ff0e,#f1ff0e,#f0ff0f,#eeff11,#ebff14,#e8ff17,#e3ff1c,#dfff20,#daff25,#d4ff2b,#ceff31,#c7ff38,#beff41,#b3ff4c,#a7ff58,#99ff66,#8bff74,#7bff84,#6cff93,#5effa1,#50ffaf,#40ffbf,#2effd1,#1affe5,#02fffd,#00e6ff,#00c9ff,#00adff,#0092ff,#0079ff,#0062ff,#004eff,#003cff,#002dff,#0024ff,#00d0ff,#74ff8b,#75ff8a,#75ff8a,#75ff8a,#75ff8a,#75ff8a,#75ff8a,#75ff8a,#75ff8a,#75ff8a,#75ff8a,#75ff8a,#75ff8a,#75ff8a,#75ff8a,#75ff8a,#75ff8a,#75ff8a)"></div><div style="top:64.00px;height:2.50px;background:linear-gradient(90deg,#75ff8a,#75ff8a,#75ff8a,#75ff8a,#75ff8a,#75ff8a,#75ff8a,#75ff8a,#75ff8a,#75ff8a,#75ff8a,#75ff8a,#75ff8a,#75ff8a,#75ff8a,#75ff8a,#75ff8a,#6eff91,#01fffe,#00feff,#1effe1,#3bffc4,#53ffac,#65ff9a,#75ff8a,#85ff7a,#98ff67,#adff52,#c4ff3b,#daff25,#edff12,#faff05,#fffc00,#fff700,#fff500,#fff500,#fff600,#fff900,#fffd00,#fdff02,#f8ff07,#f3ff0c,#eeff11,#e8ff17,#e2ff1d,#dbff24,#d2ff2d,#c8ff37,#bcff43,#b0ff4f,#a2ff5d,#94ff6b,#86ff79,#7aff85,#6dff92,#5fffa0,#4fffb0,#3cffc3,#26ffd9,#0bfff4,#00edff,#00d0ff,#00b3ff,#0098ff,#0080ff,#006aff,#0057ff,#0047ff,#0039ff,#0047ff,#4dffb2,#75ff8a,#75ff8a,#75ff8a,#75ff8a,#75ff8a,#75ff8a,#75ff8a,#75ff8a,#75ff8a,#75ff8a,#75ff8a,#75ff8a,#75ff8a,#75ff8a,#75ff8a,#75ff8a,#75ff8a)"></div><div style="top:66.00px;height:2.50px;background:linear-gradient(90deg,#75ff8a,#75ff8a,#75ff8a,#75ff8a,#75ff8a,#75ff8a,#75ff8a,#75ff8a,#75ff8a,#75ff8a,#75ff8a,#75ff8a,#75ff8a,#75ff8a,#75ff8a,#75ff8a,#75ff8a,#37ffc8,#00f8ff,#13ffec,#33ffcc,#50ffaf,#68ff97,#7bff84,#8bff74,#9cff63,#aeff51,#c4ff3b,#daff25,#f0ff0f,#fffb00,#ffed00,#ffe500,#ffe000,#ffde00,#ffdf00,#ffe100,#ffe400,#ffe900,#ffed00,#fff300,#fff800,#fffd00,#fbff04,#f4ff0b,#edff12,#e5ff1a,#dbff24,#d1ff2e,#c5ff3a,#b9ff46,#acff53,#a0ff5f,#95ff6a,#8aff75,#7eff81,#70ff8f,#5effa1,#49ffb6,#2fffd0,#12ffed,#00f2ff,#00d4ff,#00b7ff,#009dff,#0086ff,#0072ff,#0061ff,#0052ff,#0047ff,#00bdff,#74ff8b,#75ff8a,#75ff8a,#75ff8a,#75ff8a,#75ff8a,#75ff8a,#75ff8a,#75ff8a,#75ff8a,#75ff8a,#75ff8a,#75ff8a,#75ff8a,#75ff8a,#75ff8a,#75ff8a)"></div><div style="top:68.00px;height:2.50px;background:linear-gradient(90deg,#75ff8a,#75ff8a,#75ff8a,#75ff8a,#75ff8a,#75ff8a,#75ff8a,#75ff8a,#75ff8a,#75ff8a,#75ff8a,#75ff8a,#75ff8a,#75ff8a,#75ff8a,#75ff8a,#6cff93,#05fffa,#0afff5,#28ffd7,#47ffb8,#63ff9c,#7bff84,#8fff70,#9fff60,#b0ff4f,#c3ff3c,#d8ff27,#efff10,#fff900,#ffe600,#ffd900,#ffd000,#ffcb00,#ffca00,#ffcb00,#ffce00,#ffd200,#ffd700,#ffdc00,#ffe200,#ffe800,#ffed00,#fff300,#fff900,#feff01,#f6ff09,#edff12,#e4ff1b,#d9ff26,#ceff31,#c4ff3b,#b9ff46,#b0ff4f,#a6ff59,#9cff63,#8fff70,#7fff80,#6bff94,#52ffad,#33ffcc,#14ffeb,#00f4ff,#00d6ff,#00baff,#00a1ff,#008dff,#007bff,#006bff,#005dff,#0063ff,#48ffb7,#75ff8a,#75ff8a,#75ff8a,#75ff8a,#75ff8a,#75ff8a,#75ff8a,#75ff8a,#75ff8a,#75ff8a,#75ff8a,#75ff8a,#75ff8a,#75ff8a,#75ff8a,#75ff8a)"></div><div style="top:70.00px;height:2.50px;background:linear-gradient(90deg,#75ff8a,#75ff8a,#75ff8a,#75ff8a,#75ff8a,#75ff8a,#75ff8a,#75ff8a,#75ff8a,#75ff8a,#75ff8a,#75ff8a,#75ff8a,#75ff8a,#75ff8a,#75ff8a,#41ffbe,#0afff5,#20ffdf,#3dffc2,#5bffa4,#77ff88,#8eff71,#a1ff5e,#b2ff4d,#c3ff3c,#d5ff2a,#ebff14,#fffc00,#ffe600,#ffd400,#ffc600,#ffbd00,#ffb800,#ffb800,#ffba00,#ffbd00,#ffc200,#ffc800,#ffce00,#ffd300,#ffd900,#ffdf00,#ffe500,#ffeb00,#fff100,#fff800,#feff01,#f5ff0a,#ecff13,#e3ff1c,#d9ff26,#d1ff2e,#c9ff36,#c1ff3e,#b8ff47,#acff53,#9dff62,#8bff74,#71ff8e,#53ffac,#33ffcc,#13ffec,#00f3ff,#00d6ff,#00bdff,#00a7ff,#0094ff,#0083ff,#0075ff,#0069ff,#00caff,#74ff8b,#75ff8a,#75ff8a,#75ff8a,#75ff8a,#75ff8a,#75ff8a,#75ff8a,#75ff8a,#75ff8a,#75ff8a,#75ff8a,#75ff8a,#75ff8a,#75ff8a,#75ff8a)"></div><div style="top:72.00px;height:2.50px;background:linear-gradient(90deg,#75ff8a,#75ff8a,#75ff8a,#75ff8a,#75ff8a,#75ff8a,#75ff8a,#75ff8a,#75ff8a,#75ff8a,#75ff8a,#75ff8a,#75ff8a,#75ff8a,#75ff8a,#71ff8e,#21ffde,#21ffde,#38ffc7,#54ffab,#70ff8f,#8aff75,#a1ff5e,#b4ff4b,#c5ff3a,#d5ff2a,#e7ff18,#fdff02,#ffeb00,#ffd500,#ffc300,#ffb500,#ffac00,#ffa800,#ffa800,#ffaa00,#ffaf00,#ffb500,#ffbb00,#ffc100,#ffc700,#ffce00,#ffd300,#ffd900,#ffdf00,#ffe400,#ffeb00,#fff200,#fff900,#fdff02,#f5ff0a,#edff12,#e7ff18,#e0ff1f,#daff25,#d2ff2d,#c7ff38,#b9ff46,#a7ff58,#8eff71,#71ff8e,#51ffae,#30ffcf,#11ffee,#00f2ff,#00d7ff,#00c0ff,#00acff,#009aff,#008bff,#007eff,#0083ff,#56ffa9,#75ff8a,#75ff8a,#75ff8a,#75ff8a,#75ff8a,#75ff8a,#75ff8a,#75ff8a,#75ff8a,#75ff8a,#75ff8a,#75ff8a,#75ff8a,#75ff8a,#75ff8a)"></div><div style="top:74.00px;height:2.50px;background:linear-gradient(90deg,#75ff8a,#75ff8a,#75ff8a,#75ff8a,#75ff8a,#75ff8a,#75ff8a,#75ff8a,#75ff8a,#75ff8a,#75ff8a,#75ff8a,#75ff8a,#75ff8a,#75ff8a,#5affa5,#2cffd3,#3bffc4,#51ffae,#6bff94,#85ff7a,#9eff61,#b4ff4b,#c7ff38,#d8ff27,#e7ff18,#f9ff06,#fff000,#ffda00,#ffc500,#ffb300,#ffa600,#ff9d00,#ff9a00,#ff9a00,#ff9e00,#ffa300,#ffaa00,#ffb000,#ffb700,#ffbe00,#ffc400,#ffca00,#ffcf00,#ffd500,#ffda00,#ffdf00,#ffe600,#ffec00,#fff300,#fff900,#ffff00,#faff05,#f5ff0a,#f0ff0f,#e9ff16,#e0ff1f,#d3ff2c,#c0ff3f,#a8ff57,#8bff74,#6cff93,#4bffb4,#2bffd4,#0dfff2,#00f1ff,#00d9ff,#00c3ff,#00b1ff,#00a1ff,#0093ff,#0088ff,#00f4ff,#75ff8a,#75ff8a,#75ff8a,#75ff8a,#75ff8a,#75ff8a,#75ff8a,#75ff8a,#75ff8a,#75ff8a,#75ff8a,#75ff8a,#75ff8a,#75ff8a,#75ff8a)"></div><div style="top:76.00px;height:2.50px;background:linear-gradient(90deg,#75ff8a,#75ff8a,#75ff8a,#75ff8a,#75ff8a,#75ff8a,#75ff8a,#75ff8a,#75ff8a,#75ff8a,#75ff8a,#75ff8a,#75ff8a,#75ff8a,#74ff8b,#4affb5,#44ffbb,#56ffa9,#6bff94,#83ff7c,#9cff63,#b3ff4c,#c8ff37,#daff25,#ebff14,#faff05,#fff200,#ffde00,#ffca00,#ffb600,#ffa500,#ff9800,#ff9000,#ff8d00,#ff8f00,#ff9400,#ff9a00,#ffa100,#ffa800,#ffb000,#ffb700,#ffbd00,#ffc300,#ffc900,#ffcd00,#ffd200,#ffd600,#ffdc00,#ffe200,#ffe700,#ffec00,#fff000,#fff300,#fff600,#fffa00,#ffff00,#f6ff09,#e9ff16,#d7ff28,#c0ff3f,#a4ff5b,#85ff7a,#65ff9a,#45ffba,#26ffd9,#0afff5,#00f0ff,#00d9ff,#00c6ff,#00b5ff,#00a6ff,#009aff,#00a7ff,#6aff95,#75ff8a,#75ff8a,#75ff8a,#75ff8a,#75ff8a,#75ff8a,#75ff8a,#75ff8a,#75ff8a,#75ff8a,#75ff8a,#75ff8a,#75ff8a,#75ff8a)"></div><div style="top:78.00px;height:2.50px;background:linear-gradient(90deg,#75ff8a,#75ff8a,#75ff8a,#75ff8a,#75ff8a,#75ff8a,#75ff8a,#75ff8a,#75ff8a,#75ff8a,#75ff8a,#75ff8a,#75ff8a,#75ff8a,#70ff8f,#53ffac,#5fffa0,#71ff8e,#85ff7a,#9cff63,#b2ff4d,#c8ff37,#dcff23,#eeff11,#feff01,#fff000,#ffe000,#ffcd00,#ffba00,#ffa900,#ff9900,#ff8d00,#ff8500,#ff8400,#ff8700,#ff8c00,#ff9300,#ff9b00,#ffa300,#ffab00,#ffb200,#ffb900,#ffbf00,#ffc400,#ffc900,#ffcc00,#ffd000,#ffd500,#ffda00,#ffde00,#ffe100,#ffe400,#ffe600,#ffe700,#ffe900,#ffed00,#fff400,#feff01,#ecff13,#d5ff2a,#baff45,#9bff64,#7bff84,#5cffa3,#3dffc2,#20ffdf,#06fff9,#00eeff,#00d9ff,#00c8ff,#00b9ff,#00acff,#00a3ff,#2cffd3,#75ff8a,#75ff8a,#75ff8a,#75ff8a,#75ff8a,#75ff8a,#75ff8a,#75ff8a,#75ff8a,#75ff8a,#75ff8a,#75ff8a,#75ff8a,#75ff8a)"></div><div style="top:80.00px;height:2.50px;background:linear-gradient(90deg,#75ff8a,#75ff8a,#75ff8a,#75ff8a,#75ff8a,#75ff8a,#75ff8a,#75ff8a,#75ff8a,#75ff8a,#75ff8a,#75ff8a,#75ff8a,#75ff8a,#70ff8f,#6aff95,#7aff85,#8cff73,#9fff60,#b4ff4b,#c9ff36,#ddff22,#f0ff0f,#fffd00,#ffed00,#ffde00,#ffce00,#ffbd00,#ffac00,#ff9c00,#ff8f00,#ff8400,#ff7d00,#ff7d00,#ff8100,#ff8700,#ff8f00,#ff9700,#ffa000,#ffa800,#ffb000,#ffb700,#ffbe00,#ffc300,#ffc700,#ffca00,#ffcd00,#ffd100,#ffd500,#ffd800,#ffda00,#ffdb00,#ffdb00,#ffdb00,#ffdb00,#ffdd00,#ffe300,#ffef00,#feff01,#e8ff17,#cdff32,#b0ff4f,#90ff6f,#70ff8f,#52ffad,#35ffca,#1affe5,#01fffe,#00ebff,#00d9ff,#00c9ff,#00bcff,#00b1ff,#00daff,#73ff8c,#75ff8a,#75ff8a,#75ff8a,#75ff8a,#75ff8a,#75ff8a,#75ff8a,#75ff8a,#75ff8a,#75ff8a,#75ff8a,#75ff8a,#75ff8a)"></div><div style="top:82.00px;height:2.50px;background:linear-gradient(90deg,#75ff8a,#75ff8a,#75ff8a,#75ff8a,#75ff8a,#75ff8a,#75ff8a,#75ff8a,#75ff8a,#75ff8a,#75ff8a,#75ff8a,#75ff8a,#76ff89,#7cff83,#83ff7c,#94ff6b,#a6ff59,#b9ff46,#ccff33,#e0ff1f,#f2ff0d,#fffa00,#ffea00,#ffda00,#ffcc00,#ffbd00,#ffae00,#ffa000,#ff9200,#ff8600,#ff7e00,#ff7900,#ff7900,#ff7e00,#ff8500,#ff8d00,#ff9600,#ff9f00,#ffa800,#ffb100,#ffb800,#ffbf00,#ffc400,#ffc800,#ffcb00,#ffcd00,#ffd000,#ffd300,#ffd500,#ffd600,#ffd500,#ffd400,#ffd200,#ffd100,#ffd100,#ffd600,#ffe000,#fff000,#f8ff07,#deff21,#c1ff3e,#a2ff5d,#83ff7c,#64ff9b,#47ffb8,#2bffd4,#12ffed,#00fbff,#00e8ff,#00d8ff,#00cbff,#00c0ff,#00bfff,#60ff9f,#75ff8a,#75ff8a,#75ff8a,#75ff8a,#75ff8a,#75ff8a,#75ff8a,#75ff8a,#75ff8a,#75ff8a,#75ff8a,#75ff8a,#75ff8a)"></div><div style="top:84.00px;height:2.50px;background:linear-gradient(90deg,#75ff8a,#75ff8a,#75ff8a,#75ff8a,#75ff8a,#75ff8a,#75ff8a,#75ff8a,#75ff8a,#75ff8a,#75ff8a,#75ff8a,#75ff8a,#7fff80,#90ff6f,#9dff62,#aeff51,#c0ff3f,#d2ff2d,#e4ff1b,#f6ff09,#fff700,#ffe700,#ffd700,#ffc900,#ffbb00,#ffae00,#ffa100,#ff9500,#ff8a00,#ff8000,#ff7a00,#ff7700,#ff7800,#ff7d00,#ff8500,#ff8e00,#ff9700,#ffa100,#ffab00,#ffb300,#ffbb00,#ffc200,#ffc700,#ffcb00,#ffce00,#ffd000,#ffd200,#ffd400,#ffd500,#ffd500,#ffd300,#ffd100,#ffcd00,#ffca00,#ffc900,#ffcb00,#ffd500,#ffe400,#fff900,#ecff13,#d0ff2f,#b2ff4d,#93ff6c,#74ff8b,#56ffa9,#3affc5,#20ffdf,#0afff5,#00f5ff,#00e5ff,#00d8ff,#00cdff,#00c5ff,#27ffd8,#75ff8a,#75ff8a,#75ff8a,#75ff8a,#75ff8a,#75ff8a,#75ff8a,#75ff8a,#75ff8a,#75ff8a,#75ff8a,#75ff8a,#75ff8a)"></div><div style="top:86.00px;height:2.50px;background:linear-gradient(90deg,#75ff8a,#75ff8a,#75ff8a,#75ff8a,#75ff8a,#75ff8a,#75ff8a,#75ff8a,#75ff8a,#75ff8a,#75ff8a,#75ff8a,#75ff8a,#97ff68,#a6ff59,#b6ff49,#c7ff38,#d8ff27,#e9ff16,#faff05,#fff300,#ffe300,#ffd400,#ffc500,#ffb800,#ffab00,#ffa000,#ff9500,#ff8b00,#ff8300,#ff7c00,#ff7800,#ff7700,#ff7a00,#ff7f00,#ff8700,#ff9100,#ff9b00,#ffa500,#ffaf00,#ffb800,#ffc100,#ffc800,#ffcd00,#ffd100,#ffd400,#ffd600,#ffd700,#ffd800,#ffd800,#ffd700,#ffd500,#ffd100,#ffcd00,#ffc800,#ffc400,#ffc500,#ffcd00,#ffdc00,#fff000,#f6ff09,#dbff24,#beff41,#a0ff5f,#81ff7e,#63ff9c,#47ffb8,#2cffd3,#15ffea,#01fffe,#00f0ff,#00e3ff,#00d8ff,#00d0ff,#00ecff,#74ff8b,#75ff8a,#75ff8a,#75ff8a,#75ff8a,#75ff8a,#75ff8a,#75ff8a,#75ff8a,#75ff8a,#75ff8a,#75ff8a,#75ff8a)"></div><div style="top:88.00px;height:2.50px;background:linear-gradient(90deg,#75ff8a,#75ff8a,#75ff8a,#75ff8a,#75ff8a,#75ff8a,#75ff8a,#75ff8a,#75ff8a,#75ff8a,#75ff8a,#75ff8a,#78ff87,#b2ff4d,#beff41,#ceff31,#deff21,#efff10,#fffe00,#ffef00,#ffdf00,#ffd100,#ffc200,#ffb500,#ffa900,#ff9d00,#ff9300,#ff8b00,#ff8400,#ff7e00,#ff7a00,#ff7800,#ff7900,#ff7d00,#ff8300,#ff8c00,#ff9600,#ffa000,#ffab00,#ffb600,#ffc000,#ffc800,#ffd000,#ffd600,#ffda00,#ffdd00,#ffde00,#ffdf00,#ffdf00,#ffdf00,#ffdd00,#ffda00,#ffd600,#ffd000,#ffca00,#ffc500,#ffc400,#ffca00,#ffd800,#ffea00,#feff01,#e4ff1b,#c8ff37,#aaff55,#8cff73,#6eff91,#51ffae,#36ffc9,#1effe1,#0afff5,#00f9ff,#00ecff,#00e2ff,#00d9ff,#00d8ff,#65ff9a,#75ff8a,#75ff8a,#75ff8a,#75ff8a,#75ff8a,#75ff8a,#75ff8a,#75ff8a,#75ff8a,#75ff8a,#75ff8a,#75ff8a)"></div><div style="top:90.00px;height:2.50px;background:linear-gradient(90deg,#75ff8a,#75ff8a,#75ff8a,#75ff8a,#75ff8a,#75ff8a,#75ff8a,#75ff8a,#75ff8a,#75ff8a,#75ff8a,#75ff8a,#88ff77,#c8ff37,#d5ff2a,#e4ff1b,#f4ff0b,#fff900,#ffea00,#ffdb00,#ffcd00,#ffbf00,#ffb200,#ffa600,#ff9b00,#ff9100,#ff8900,#ff8300,#ff7f00,#ff7c00,#ff7a00,#ff7b00,#ff7d00,#ff8200,#ff8900,#ff9200,#ff9d00,#ffa800,#ffb300,#ffbe00,#ffc900,#ffd200,#ffda00,#ffe000,#ffe500,#ffe700,#ffe900,#ffe900,#ffe900,#ffe900,#ffe700,#ffe300,#ffde00,#ffd800,#ffd100,#ffcb00,#ffc800,#ffcd00,#ffd900,#ffe900,#fffd00,#eaff15,#cfff30,#b2ff4d,#94ff6b,#76ff89,#59ffa6,#3dffc2,#25ffda,#11ffee,#00ffff,#00f3ff,#00e9ff,#00e0ff,#00d9ff,#3effc1,#75ff8a,#75ff8a,#75ff8a,#75ff8a,#75ff8a,#75ff8a,#75ff8a,#75ff8a,#75ff8a,#75ff8a,#75ff8a,#75ff8a)"></div><div style="top:92.00px;height:2.50px;background:linear-gradient(90deg,#75ff8a,#75ff8a,#75ff8a,#75ff8a,#75ff8a,#75ff8a,#75ff8a,#75ff8a,#75ff8a,#75ff8a,#75ff8a,#75ff8a,#aeff51,#ddff22,#ebff14,#faff05,#fff500,#ffe600,#ffd700,#ffc900,#ffbc00,#ffb000,#ffa400,#ff9900,#ff8f00,#ff8700,#ff8100,#ff7d00,#ff7c00,#ff7b00,#ff7c00,#ff7e00,#ff8300,#ff8900,#ff9100,#ff9a00,#ffa500,#ffb100,#ffbd00,#ffc800,#ffd300,#ffdd00,#ffe600,#ffed00,#fff100,#fff400,#fff600,#fff600,#fff600,#fff500,#fff300,#ffef00,#ffea00,#ffe300,#ffdc00,#ffd600,#ffd300,#ffd500,#ffde00,#ffeb00,#fffc00,#ecff13,#d2ff2d,#b6ff49,#99ff66,#7bff84,#5effa1,#42ffbd,#2affd5,#15ffea,#05fffa,#00f7ff,#00edff,#00e5ff,#00ddff,#09fff6,#75ff8a,#75ff8a,#75ff8a,#75ff8a,#75ff8a,#75ff8a,#75ff8a,#75ff8a,#75ff8a,#75ff8a,#75ff8a,#75ff8a)"></div><div style="top:94.00px;height:2.50px;background:linear-gradient(90deg,#75ff8a,#75ff8a,#75ff8a,#75ff8a,#75ff8a,#75ff8a,#75ff8a,#75ff8a,#75ff8a,#75ff8a,#75ff8a,#76ff89,#d9ff26,#f2ff0d,#ffff00,#fff000,#ffe200,#ffd300,#ffc600,#ffb900,#ffad00,#ffa200,#ff9700,#ff8e00,#ff8600,#ff7f00,#ff7b00,#ff7a00,#ff7a00,#ff7c00,#ff8000,#ff8400,#ff8a00,#ff9100,#ff9a00,#ffa400,#ffaf00,#ffbb00,#ffc800,#ffd400,#ffdf00,#ffea00,#fff300,#fffa00,#ffff00,#fcff03,#faff05,#f9ff06,#f9ff06,#f9ff06,#fcff03,#ffff00,#fff900,#fff200,#ffeb00,#ffe500,#ffe100,#ffe100,#ffe700,#fff100,#ffff00,#ebff14,#d3ff2c,#b8ff47,#9cff63,#7eff81,#61ff9e,#46ffb9,#2dffd2,#18ffe7,#08fff7,#00fbff,#00f1ff,#00e9ff,#00e1ff,#00e9ff,#71ff8e,#75ff8a,#75ff8a,#75ff8a,#75ff8a,#75ff8a,#75ff8a,#75ff8a,#75ff8a,#75ff8a,#75ff8a,#75ff8a)"></div><div style="top:96.00px;height:2.50px;background:linear-gradient(90deg,#75ff8a,#75ff8a,#75ff8a,#75ff8a,#75ff8a,#75ff8a,#75ff8a,#75ff8a,#75ff8a,#75ff8a,#75ff8a,#7eff81,#f9ff06,#fff800,#ffeb00,#ffde00,#ffd000,#ffc300,#ffb600,#ffaa00,#ff9f00,#ff9500,#ff8c00,#ff8500,#ff7e00,#ff7900,#ff7700,#ff7800,#ff7b00,#ff8000,#ff8500,#ff8b00,#ff9200,#ff9a00,#ffa400,#ffaf00,#ffbb00,#ffc700,#ffd400,#ffe100,#ffed00,#fff800,#fdff02,#f5ff0a,#f0ff0f,#ecff13,#e9ff16,#e8ff17,#e7ff18,#e8ff17,#eaff15,#eeff11,#f3ff0c,#faff05,#fffd00,#fff700,#fff200,#fff000,#fff300,#fffa00,#f9ff06,#e8ff17,#d2ff2d,#b8ff47,#9dff62,#80ff7f,#63ff9c,#48ffb7,#2fffd0,#1affe5,#0afff5,#00fdff,#00f3ff,#00ebff,#00e3ff,#00dfff,#61ff9e,#75ff8a,#75ff8a,#75ff8a,#75ff8a,#75ff8a,#75ff8a,#75ff8a,#75ff8a,#75ff8a,#75ff8a,#75ff8a)"></div><div style="top:98.00px;height:2.50px;background:linear-gradient(90deg,#75ff8a,#75ff8a,#75ff8a,#75ff8a,#75ff8a,#75ff8a,#75ff8a,#75ff8a,#75ff8a,#75ff8a,#75ff8a,#95ff6a,#fff100,#ffe500,#ffd900,#ffcd00,#ffc000,#ffb400,#ffa800,#ff9e00,#ff9400,#ff8b00,#ff8300,#ff7d00,#ff7900,#ff7600,#ff7600,#ff7900,#ff7f00,#ff8500,#ff8c00,#ff9300,#ff9b00,#ffa500,#ffaf00,#ffbb00,#ffc700,#ffd400,#ffe100,#ffee00,#fffb00,#f8ff07,#eeff11,#e6ff19,#dfff20,#dbff24,#d8ff27,#d6ff29,#d5ff2a,#d5ff2a,#d7ff28,#daff25,#dfff20,#e5ff1a,#ecff13,#f3ff0c,#f9ff06,#fcff03,#fcff03,#f8ff07,#f0ff0f,#e1ff1e,#ceff31,#b6ff49,#9cff63,#80ff7f,#64ff9b,#49ffb6,#30ffcf,#1bffe4,#0bfff4,#00feff,#00f5ff,#00edff,#00e5ff,#00dfff,#42ffbd,#75ff8a,#75ff8a,#75ff8a,#75ff8a,#75ff8a,#75ff8a,#75ff8a,#75ff8a,#75ff8a,#75ff8a,#75ff8a)"></div><div style="top:100.00px;height:2.50px;background:linear-gradient(90deg,#75ff8a,#75ff8a,#75ff8a,#75ff8a,#75ff8a,#75ff8a,#75ff8a,#75ff8a,#75ff8a,#75ff8a,#75ff8a,#c1ff3e,#ffdf00,#ffd400,#ffc900,#ffbd00,#ffb200,#ffa700,#ff9c00,#ff9200,#ff8a00,#ff8200,#ff7c00,#ff7800,#ff7600,#ff7500,#ff7800,#ff7c00,#ff8300,#ff8b00,#ff9400,#ff9d00,#ffa600,#ffb000,#ffbb00,#ffc800,#ffd500,#ffe200,#fff000,#fffd00,#f4ff0b,#e8ff17,#deff21,#d5ff2a,#ceff31,#c9ff36,#c5ff3a,#c3ff3c,#c1ff3e,#c0ff3f,#c1ff3e,#c4ff3b,#c9ff36,#cfff30,#d6ff29,#ddff22,#e4ff1b,#e9ff16,#ecff13,#ebff14,#e5ff1a,#daff25,#c8ff37,#b3ff4c,#9aff65,#80ff7f,#64ff9b,#4affb5,#30ffcf,#1bffe4,#0cfff3,#00ffff,#00f6ff,#00eeff,#00e7ff,#00e1ff,#17ffe8,#75ff8a,#75ff8a,#75ff8a,#75ff8a,#75ff8a,#75ff8a,#75ff8a,#75ff8a,#75ff8a,#75ff8a,#75ff8a)"></div><div style="top:102.00px;height:2.50px;background:linear-gradient(90deg,#75ff8a,#75ff8a,#75ff8a,#75ff8a,#75ff8a,#75ff8a,#75ff8a,#75ff8a,#75ff8a,#75ff8a,#76ff89,#f8ff07,#ffcf00,#ffc400,#ffba00,#ffaf00,#ffa500,#ff9b00,#ff9100,#ff8900,#ff8100,#ff7b00,#ff7700,#ff7500,#ff7400,#ff7600,#ff7a00,#ff8100,#ff8a00,#ff9300,#ff9d00,#ffa700,#ffb200,#ffbc00,#ffc800,#ffd500,#ffe300,#fff100,#ffff00,#f1ff0e,#e4ff1b,#d8ff27,#cdff32,#c4ff3b,#bdff42,#b7ff48,#b2ff4d,#afff50,#acff53,#abff54,#abff54,#aeff51,#b2ff4d,#b8ff47,#bfff40,#c6ff39,#ceff31,#d5ff2a,#dbff24,#ddff22,#daff25,#d1ff2e,#c2ff3d,#afff50,#98ff67,#7fff80,#64ff9b,#4affb5,#32ffcd,#1dffe2,#0dfff2,#02fffd,#00f7ff,#00efff,#00e8ff,#00e2ff,#00f8ff,#74ff8b,#75ff8a,#75ff8a,#75ff8a,#75ff8a,#75ff8a,#75ff8a,#75ff8a,#75ff8a,#75ff8a,#75ff8a)"></div><div style="top:104.00px;height:2.50px;background:linear-gradient(90deg,#75ff8a,#75ff8a,#75ff8a,#75ff8a,#75ff8a,#75ff8a,#75ff8a,#75ff8a,#75ff8a,#75ff8a,#78ff87,#ffdf00,#ffc000,#ffb600,#ffac00,#ffa300,#ff9900,#ff9000,#ff8800,#ff8100,#ff7b00,#ff7600,#ff7300,#ff7300,#ff7400,#ff7800,#ff7e00,#ff8700,#ff9100,#ff9c00,#ffa800,#ffb300,#ffbe00,#ffc900,#ffd600,#ffe300,#fff200,#feff01,#efff10,#e1ff1e,#d3ff2c,#c7ff38,#bcff43,#b2ff4d,#aaff55,#a4ff5b,#9eff61,#9aff65,#97ff68,#95ff6a,#95ff6a,#96ff69,#9aff65,#a0ff5f,#a7ff58,#afff50,#b8ff47,#c2ff3d,#caff35,#cfff30,#ceff31,#c8ff37,#bbff44,#aaff55,#95ff6a,#7dff82,#64ff9b,#4cffb3,#34ffcb,#20ffdf,#10ffef,#03fffc,#00f8ff,#00f0ff,#00e9ff,#00e3ff,#00e8ff,#71ff8e,#75ff8a,#75ff8a,#75ff8a,#75ff8a,#75ff8a,#75ff8a,#75ff8a,#75ff8a,#75ff8a,#75ff8a)"></div><div style="top:106.00px;height:2.50px;background:linear-gradient(90deg,#75ff8a,#75ff8a,#75ff8a,#75ff8a,#75ff8a,#75ff8a,#75ff8a,#75ff8a,#75ff8a,#75ff8a,#7dff82,#ffc000,#ffb200,#ffa900,#ffa000,#ff9800,#ff9000,#ff8800,#ff8100,#ff7b00,#ff7600,#ff7200,#ff7100,#ff7300,#ff7600,#ff7c00,#ff8400,#ff8e00,#ff9900,#ffa600,#ffb300,#ffbf00,#ffca00,#ffd600,#ffe400,#fff200,#fdff02,#eeff11,#deff21,#d0ff2f,#c2ff3d,#b5ff4a,#aaff55,#a0ff5f,#98ff67,#90ff6f,#8aff75,#85ff7a,#82ff7d,#7fff80,#7eff81,#7fff80,#82ff7d,#88ff77,#90ff6f,#99ff66,#a3ff5c,#afff50,#baff45,#c1ff3e,#c3ff3c,#bfff40,#b5ff4a,#a5ff5a,#92ff6d,#7cff83,#65ff9a,#4dffb2,#37ffc8,#23ffdc,#13ffec,#06fff9,#00faff,#00f1ff,#00eaff,#00e5ff,#00e3ff,#64ff9b,#75ff8a,#75ff8a,#75ff8a,#75ff8a,#75ff8a,#75ff8a,#75ff8a,#75ff8a,#75ff8a,#75ff8a)"></div><div style="top:108.00px;height:2.50px;background:linear-gradient(90deg,#75ff8a,#75ff8a,#75ff8a,#75ff8a,#75ff8a,#75ff8a,#75ff8a,#75ff8a,#75ff8a,#75ff8a,#92ff6d,#ffb000,#ffa600,#ff9e00,#ff9600,#ff8e00,#ff8700,#ff8100,#ff7b00,#ff7600,#ff7200,#ff7000,#ff7100,#ff7400,#ff7900,#ff8000,#ff8a00,#ff9500,#ffa200,#ffb000,#ffbe00,#ffcb00,#ffd700,#ffe400,#fff200,#fdff02,#edff12,#ddff22,#cdff32,#beff41,#b0ff4f,#a3ff5c,#98ff67,#8eff71,#85ff7a,#7dff82,#77ff88,#71ff8e,#6dff92,#69ff96,#68ff97,#68ff97,#6bff94,#72ff8d,#7bff84,#85ff7a,#90ff6f,#9dff62,#aaff55,#b4ff4b,#b9ff46,#b7ff48,#aeff51,#a0ff5f,#8fff70,#7aff85,#65ff9a,#4fffb0,#3affc5,#27ffd8,#16ffe9,#08fff7,#00fcff,#00f2ff,#00ebff,#00e6ff,#00e3ff,#54ffab,#75ff8a,#75ff8a,#75ff8a,#75ff8a,#75ff8a,#75ff8a,#75ff8a,#75ff8a,#75ff8a,#75ff8a)"></div><div style="top:110.00px;height:2.50px;background:linear-gradient(90deg,#75ff8a,#75ff8a,#75ff8a,#75ff8a,#75ff8a,#75ff8a,#75ff8a,#75ff8a,#75ff8a,#75ff8a,#aaff55,#ffa500,#ff9c00,#ff9500,#ff8d00,#ff8700,#ff8100,#ff7b00,#ff7700,#ff7300,#ff7100,#ff7000,#ff7200,#ff7700,#ff7d00,#ff8600,#ff9100,#ff9d00,#ffab00,#ffba00,#ffc900,#ffd600,#ffe400,#fff100,#feff01,#eeff11,#ddff22,#ccff33,#bcff43,#adff52,#9eff61,#91ff6e,#85ff7a,#7bff84,#72ff8d,#6aff95,#63ff9c,#5dffa2,#58ffa7,#54ffab,#52ffad,#52ffad,#55ffaa,#5dffa2,#67ff98,#73ff8c,#80ff7f,#8fff70,#9dff62,#a9ff56,#afff50,#afff50,#a8ff57,#9cff63,#8cff73,#79ff86,#65ff9a,#51ffae,#3dffc2,#2affd5,#19ffe6,#0bfff4,#00fdff,#00f4ff,#00ecff,#00e7ff,#00e4ff,#3dffc2,#75ff8a,#75ff8a,#75ff8a,#75ff8a,#75ff8a,#75ff8a,#75ff8a,#75ff8a,#75ff8a,#75ff8a)"></div><div style="top:112.00px;height:2.50px;background:linear-gradient(90deg,#75ff8a,#75ff8a,#75ff8a,#75ff8a,#75ff8a,#75ff8a,#75ff8a,#75ff8a,#75ff8a,#75ff8a,#cfff30,#ff9b00,#ff9300,#ff8d00,#ff8600,#ff8000,#ff7b00,#ff7700,#ff7400,#ff7100,#ff7100,#ff7200,#ff7500,#ff7b00,#ff8300,#ff8d00,#ff9900,#ffa600,#ffb500,#ffc400,#ffd300,#ffe200,#fff000,#ffff00,#efff10,#dfff20,#cdff32,#bcff43,#abff54,#9bff64,#8cff73,#7fff80,#73ff8c,#68ff97,#5fffa0,#57ffa8,#50ffaf,#4affb5,#45ffba,#41ffbe,#3effc1,#3effc1,#41ffbe,#4affb5,#55ffaa,#63ff9c,#72ff8d,#82ff7d,#91ff6e,#9eff61,#a6ff59,#a7ff58,#a2ff5d,#97ff68,#89ff76,#78ff87,#66ff99,#53ffac,#40ffbf,#2effd1,#1dffe2,#0dfff2,#00ffff,#00f5ff,#00edff,#00e8ff,#00e6ff,#24ffdb,#75ff8a,#75ff8a,#75ff8a,#75ff8a,#75ff8a,#75ff8a,#75ff8a,#75ff8a,#75ff8a,#75ff8a)"></div><div style="top:114.00px;height:2.50px;background:linear-gradient(90deg,#75ff8a,#75ff8a,#75ff8a,#75ff8a,#75ff8a,#75ff8a,#75ff8a,#75ff8a,#75ff8a,#75ff8a,#f9ff06,#ff9300,#ff8c00,#ff8600,#ff8100,#ff7c00,#ff7800,#ff7400,#ff7200,#ff7100,#ff7200,#ff7500,#ff7900,#ff8000,#ff8900,#ff9400,#ffa100,#ffaf00,#ffbf00,#ffcf00,#ffde00,#ffee00,#fffd00,#f1ff0e,#e1ff1e,#cfff30,#bdff42,#aaff55,#99ff66,#89ff76,#7aff85,#6dff92,#61ff9e,#56ffa9,#4cffb3,#44ffbb,#3dffc2,#37ffc8,#32ffcd,#2effd1,#2cffd3,#2cffd3,#30ffcf,#39ffc6,#46ffb9,#55ffaa,#65ff9a,#76ff89,#86ff79,#94ff6b,#9dff62,#a0ff5f,#9cff63,#93ff6c,#86ff79,#77ff88,#66ff99,#55ffaa,#43ffbc,#31ffce,#20ffdf,#10ffef,#02fffd,#00f6ff,#00eeff,#00e9ff,#00e8ff,#0ffff0,#75ff8a,#75ff8a,#75ff8a,#75ff8a,#75ff8a,#75ff8a,#75ff8a,#75ff8a,#75ff8a,#75ff8a)"></div><div style="top:116.00px;height:2.50px;background:linear-gradient(90deg,#75ff8a,#75ff8a,#75ff8a,#75ff8a,#75ff8a,#75ff8a,#75ff8a,#75ff8a,#75ff8a,#75ff8a,#ffde00,#ff8d00,#ff8700,#ff8100,#ff7c00,#ff7800,#ff7500,#ff7300,#ff7200,#ff7300,#ff7500,#ff7900,#ff7f00,#ff8700,#ff9100,#ff9d00,#ffaa00,#ffb900,#ffc900,#ffd900,#ffea00,#fffa00,#f3ff0c,#e3ff1c,#d2ff2d,#bfff40,#acff53,#9aff65,#87ff78,#77ff88,#68ff97,#5bffa4,#4effb1,#44ffbb,#3bffc4,#33ffcc,#2cffd3,#26ffd9,#21ffde,#1effe1,#1cffe3,#1dffe2,#22ffdd,#2cffd3,#39ffc6,#49ffb6,#5affa5,#6cff93,#7cff83,#8bff74,#95ff6a,#98ff67,#96ff69,#8eff71,#83ff7c,#75ff8a,#66ff99,#56ffa9,#46ffb9,#34ffcb,#23ffdc,#13ffec,#04fffb,#00f8ff,#00efff,#00ebff,#00eaff,#06fff9,#74ff8b,#75ff8a,#75ff8a,#75ff8a,#75ff8a,#75ff8a,#75ff8a,#75ff8a,#75ff8a,#75ff8a)"></div><div style="top:118.00px;height:2.50px;background:linear-gradient(90deg,#75ff8a,#75ff8a,#75ff8a,#75ff8a,#75ff8a,#75ff8a,#75ff8a,#75ff8a,#75ff8a,#76ff89,#ffc300,#ff8800,#ff8200,#ff7e00,#ff7a00,#ff7600,#ff7400,#ff7300,#ff7300,#ff7500,#ff7900,#ff7e00,#ff8500,#ff8e00,#ff9900,#ffa600,#ffb400,#ffc400,#ffd400,#ffe500,#fff600,#f7ff08,#e6ff19,#d5ff2a,#c3ff3c,#b0ff4f,#9cff63,#89ff76,#76ff89,#66ff99,#57ffa8,#49ffb6,#3dffc2,#33ffcc,#29ffd6,#22ffdd,#1bffe4,#16ffe9,#12ffed,#0ffff0,#0efff1,#10ffef,#16ffe9,#20ffdf,#2effd1,#3fffc0,#51ffae,#63ff9c,#74ff8b,#82ff7d,#8cff73,#91ff6e,#90ff6f,#8aff75,#80ff7f,#74ff8b,#66ff99,#57ffa8,#48ffb7,#37ffc8,#26ffd9,#15ffea,#06fff9,#00f9ff,#00f1ff,#00edff,#00edff,#02fffd,#74ff8b,#75ff8a,#75ff8a,#75ff8a,#75ff8a,#75ff8a,#75ff8a,#75ff8a,#75ff8a,#75ff8a)"></div><div style="top:120.00px;height:2.50px;background:linear-gradient(90deg,#75ff8a,#75ff8a,#75ff8a,#75ff8a,#75ff8a,#75ff8a,#75ff8a,#75ff8a,#75ff8a,#77ff88,#ffb400,#ff8400,#ff7f00,#ff7c00,#ff7800,#ff7600,#ff7400,#ff7400,#ff7600,#ff7900,#ff7e00,#ff8400,#ff8d00,#ff9700,#ffa300,#ffb000,#ffbf00,#ffcf00,#ffdf00,#fff100,#fcff03,#eaff15,#d9ff26,#c6ff39,#b4ff4b,#a0ff5f,#8cff73,#79ff86,#66ff99,#55ffaa,#46ffb9,#38ffc7,#2cffd3,#22ffdd,#19ffe6,#12ffed,#0cfff3,#07fff8,#03fffc,#02fffd,#02fffd,#05fffa,#0cfff3,#17ffe8,#26ffd9,#36ffc9,#48ffb7,#5bffa4,#6cff93,#7aff85,#85ff7a,#8aff75,#8aff75,#85ff7a,#7dff82,#72ff8d,#66ff99,#58ffa7,#49ffb6,#3affc5,#28ffd7,#17ffe8,#08fff7,#00fbff,#00f3ff,#00f0ff,#00f1ff,#00ffff,#73ff8c,#75ff8a,#75ff8a,#75ff8a,#75ff8a,#75ff8a,#75ff8a,#75ff8a,#75ff8a,#75ff8a)"></div><div style="top:122.00px;height:2.50px;background:linear-gradient(90deg,#75ff8a,#75ff8a,#75ff8a,#75ff8a,#75ff8a,#75ff8a,#75ff8a,#75ff8a,#75ff8a,#78ff87,#ffa800,#ff8200,#ff7e00,#ff7b00,#ff7900,#ff7700,#ff7600,#ff7700,#ff7900,#ff7e00,#ff8400,#ff8c00,#ff9500,#ffa100,#ffad00,#ffbb00,#ffca00,#ffda00,#ffeb00,#fffd00,#efff10,#ddff22,#cbff34,#b8ff47,#a5ff5a,#91ff6e,#7dff82,#69ff96,#56ffa9,#45ffba,#36ffc9,#29ffd6,#1dffe2,#13ffec,#0afff5,#03fffc,#00fdff,#00f8ff,#00f6ff,#00f5ff,#00f6ff,#00fbff,#04fffb,#0ffff0,#1effe1,#2fffd0,#41ffbe,#54ffab,#65ff9a,#73ff8c,#7eff81,#84ff7b,#85ff7a,#81ff7e,#7aff85,#71ff8e,#65ff9a,#58ffa7,#4affb5,#3bffc4,#2affd5,#1affe5,#0bfff4,#00feff,#00f6ff,#00f3ff,#00f5ff,#01fffe,#73ff8c,#75ff8a,#75ff8a,#75ff8a,#75ff8a,#75ff8a,#75ff8a,#75ff8a,#75ff8a,#75ff8a)"></div><div style="top:124.00px;height:2.50px;background:linear-gradient(90deg,#75ff8a,#75ff8a,#75ff8a,#75ff8a,#75ff8a,#75ff8a,#75ff8a,#75ff8a,#75ff8a,#79ff86,#ff9f00,#ff8100,#ff7e00,#ff7c00,#ff7a00,#ff7900,#ff7900,#ff7b00,#ff7f00,#ff8400,#ff8c00,#ff9500,#ff9f00,#ffab00,#ffb800,#ffc700,#ffd600,#ffe600,#fff800,#f5ff0a,#e3ff1c,#d0ff2f,#beff41,#aaff55,#97ff68,#83ff7c,#6fff90,#5bffa4,#48ffb7,#37ffc8,#28ffd7,#1bffe4,#0ffff0,#05fffa,#00fcff,#00f5ff,#00f0ff,#00ecff,#00eaff,#00eaff,#00edff,#00f2ff,#00fbff,#08fff7,#18ffe7,#29ffd6,#3cffc3,#4effb1,#5fffa0,#6eff91,#79ff86,#7fff80,#81ff7e,#7eff81,#78ff87,#6fff90,#64ff9b,#58ffa7,#4affb5,#3cffc3,#2cffd3,#1cffe3,#0efff1,#03fffc,#00fbff,#00f9ff,#00fcff,#06fff9,#72ff8d,#75ff8a,#75ff8a,#75ff8a,#75ff8a,#75ff8a,#75ff8a,#75ff8a,#75ff8a,#75ff8a)"></div><div style="top:126.00px;height:2.50px;background:linear-gradient(90deg,#75ff8a,#75ff8a,#75ff8a,#75ff8a,#75ff8a,#75ff8a,#75ff8a,#75ff8a,#75ff8a,#7aff85,#ff9b00,#ff8200,#ff7f00,#ff7e00,#ff7d00,#ff7d00,#ff7e00,#ff8000,#ff8500,#ff8c00,#ff9500,#ff9f00,#ffaa00,#ffb700,#ffc400,#ffd300,#ffe300,#fff300,#faff05,#e8ff17,#d6ff29,#c3ff3c,#b0ff4f,#9dff62,#89ff76,#75ff8a,#61ff9e,#4effb1,#3bffc4,#2affd5,#1bffe4,#0efff1,#02fffd,#00f7ff,#00efff,#00e9ff,#00e4ff,#00e1ff,#00e0ff,#00e1ff,#00e5ff,#00ebff,#00f5ff,#03fffc,#12ffed,#24ffdb,#37ffc8,#49ffb6,#5affa5,#69ff96,#74ff8b,#7bff84,#7dff82,#7bff84,#76ff89,#6eff91,#64ff9b,#58ffa7,#4bffb4,#3dffc2,#2effd1,#20ffdf,#13ffec,#08fff7,#02fffd,#00ffff,#05fffa,#0ffff0,#70ff8f,#75ff8a,#75ff8a,#75ff8a,#75ff8a,#75ff8a,#75ff8a,#75ff8a,#75ff8a,#75ff8a)"></div><div style="top:128.00px;height:2.50px;background:linear-gradient(90deg,#75ff8a,#75ff8a,#75ff8a,#75ff8a,#75ff8a,#75ff8a,#75ff8a,#75ff8a,#75ff8a,#7aff85,#ff9a00,#ff8500,#ff8300,#ff8200,#ff8300,#ff8300,#ff8400,#ff8800,#ff8d00,#ff9500,#ff9f00,#ffaa00,#ffb600,#ffc300,#ffd100,#ffe000,#fff000,#feff01,#ecff13,#dbff24,#c9ff36,#b6ff49,#a3ff5c,#90ff6f,#7cff83,#68ff97,#54ffab,#41ffbe,#2fffd0,#1effe1,#0ffff0,#02fffd,#00f5ff,#00ecff,#00e4ff,#00deff,#00daff,#00d8ff,#00d7ff,#00d9ff,#00ddff,#00e5ff,#00efff,#00fdff,#0efff1,#20ffdf,#33ffcc,#45ffba,#57ffa8,#65ff9a,#71ff8e,#78ff87,#7aff85,#79ff86,#74ff8b,#6dff92,#63ff9c,#58ffa7,#4cffb3,#3fffc0,#32ffcd,#25ffda,#19ffe6,#10ffef,#0afff5,#09fff6,#10ffef,#1bffe4,#70ff8f,#75ff8a,#75ff8a,#75ff8a,#75ff8a,#75ff8a,#75ff8a,#75ff8a,#75ff8a,#75ff8a)"></div><div style="top:130.00px;height:2.50px;background:linear-gradient(90deg,#75ff8a,#75ff8a,#75ff8a,#75ff8a,#75ff8a,#75ff8a,#75ff8a,#75ff8a,#75ff8a,#7aff85,#ff9d00,#ff8a00,#ff8900,#ff8900,#ff8a00,#ff8b00,#ff8d00,#ff9000,#ff9700,#ffa000,#ffab00,#ffb700,#ffc400,#ffd100,#ffdf00,#ffee00,#fffe00,#f0ff0f,#dfff20,#cdff32,#bbff44,#a9ff56,#96ff69,#83ff7c,#6fff90,#5cffa3,#48ffb7,#36ffc9,#24ffdb,#13ffec,#05fffa,#00f6ff,#00ebff,#00e2ff,#00daff,#00d5ff,#00d1ff,#00cfff,#00cfff,#00d2ff,#00d7ff,#00e0ff,#00ebff,#00f9ff,#0bfff4,#1dffe2,#30ffcf,#42ffbd,#54ffab,#63ff9c,#6eff91,#75ff8a,#78ff87,#77ff88,#73ff8c,#6cff93,#64ff9b,#59ffa6,#4effb1,#43ffbc,#37ffc8,#2cffd3,#22ffdd,#1affe5,#15ffea,#15ffea,#1dffe2,#2affd5,#70ff8f,#75ff8a,#75ff8a,#75ff8a,#75ff8a,#75ff8a,#75ff8a,#75ff8a,#75ff8a,#75ff8a)"></div><div style="top:132.00px;height:2.50px;background:linear-gradient(90deg,#75ff8a,#75ff8a,#75ff8a,#75ff8a,#75ff8a,#75ff8a,#75ff8a,#75ff8a,#75ff8a,#7aff85,#ffa400,#ff9000,#ff9000,#ff9100,#ff9300,#ff9500,#ff9700,#ff9b00,#ffa200,#ffac00,#ffb800,#ffc500,#ffd200,#ffe000,#ffee00,#fffd00,#f2ff0d,#e2ff1d,#d1ff2e,#c0ff3f,#aeff51,#9cff63,#8aff75,#77ff88,#63ff9c,#50ffaf,#3dffc2,#2bffd4,#1affe5,#0afff5,#00faff,#00edff,#00e2ff,#00d9ff,#00d1ff,#00ccff,#00c9ff,#00c7ff,#00c8ff,#00ccff,#00d2ff,#00dbff,#00e7ff,#00f6ff,#08fff7,#1affe5,#2dffd2,#40ffbf,#52ffad,#61ff9e,#6cff93,#74ff8b,#77ff88,#77ff88,#73ff8c,#6dff92,#65ff9a,#5bffa4,#51ffae,#47ffb8,#3effc1,#35ffca,#2dffd2,#27ffd8,#23ffdc,#25ffda,#2fffd0,#3dffc2,#72ff8d,#75ff8a,#75ff8a,#75ff8a,#75ff8a,#75ff8a,#75ff8a,#75ff8a,#75ff8a,#75ff8a)"></div><div style="top:134.00px;height:2.50px;background:linear-gradient(90deg,#75ff8a,#75ff8a,#75ff8a,#75ff8a,#75ff8a,#75ff8a,#75ff8a,#75ff8a,#75ff8a,#79ff86,#ffae00,#ff9900,#ff9a00,#ff9c00,#ff9e00,#ffa000,#ffa300,#ffa800,#ffb000,#ffbb00,#ffc700,#ffd500,#ffe200,#fff000,#fffe00,#f2ff0d,#e3ff1c,#d3ff2c,#c3ff3c,#b2ff4d,#a1ff5e,#8fff70,#7dff82,#6bff94,#58ffa7,#45ffba,#33ffcc,#21ffde,#10ffef,#01fffe,#00f1ff,#00e5ff,#00daff,#00d1ff,#00caff,#00c5ff,#00c2ff,#00c1ff,#00c2ff,#00c6ff,#00ceff,#00d8ff,#00e4ff,#00f4ff,#06fff9,#19ffe6,#2cffd3,#3fffc0,#50ffaf,#60ff9f,#6cff93,#73ff8c,#77ff88,#76ff89,#73ff8c,#6eff91,#67ff98,#5fffa0,#56ffa9,#4effb1,#47ffb8,#41ffbe,#3bffc4,#38ffc7,#36ffc9,#39ffc6,#45ffba,#53ffac,#74ff8b,#75ff8a,#75ff8a,#75ff8a,#75ff8a,#75ff8a,#75ff8a,#75ff8a,#75ff8a,#75ff8a)"></div><div style="top:136.00px;height:2.50px;background:linear-gradient(90deg,#75ff8a,#75ff8a,#75ff8a,#75ff8a,#75ff8a,#75ff8a,#75ff8a,#75ff8a,#75ff8a,#78ff87,#ffbc00,#ffa300,#ffa500,#ffa800,#ffab00,#ffae00,#ffb200,#ffb700,#ffbf00,#ffcb00,#ffd800,#ffe500,#fff300,#fdff02,#f0ff0f,#e2ff1d,#d3ff2c,#c4ff3b,#b5ff4a,#a4ff5b,#94ff6b,#83ff7c,#71ff8e,#5fffa0,#4dffb2,#3bffc4,#29ffd6,#18ffe7,#08fff7,#00f8ff,#00eaff,#00ddff,#00d3ff,#00caff,#00c3ff,#00bfff,#00bcff,#00bbff,#00bdff,#00c2ff,#00caff,#00d5ff,#00e2ff,#00f2ff,#05fffa,#18ffe7,#2bffd4,#3effc1,#50ffaf,#5fffa0,#6bff94,#73ff8c,#76ff89,#76ff89,#74ff8b,#6fff90,#69ff96,#63ff9c,#5cffa3,#56ffa9,#52ffad,#4fffb0,#4dffb2,#4cffb3,#4dffb2,#53ffac,#60ff9f,#6dff92,#75ff8a,#75ff8a,#75ff8a,#75ff8a,#75ff8a,#75ff8a,#75ff8a,#75ff8a,#75ff8a,#75ff8a)"></div><div style="top:138.00px;height:2.50px;background:linear-gradient(90deg,#75ff8a,#75ff8a,#75ff8a,#75ff8a,#75ff8a,#75ff8a,#75ff8a,#75ff8a,#75ff8a,#78ff87,#ffcd00,#ffaf00,#ffb200,#ffb600,#ffba00,#ffbd00,#ffc100,#ffc800,#ffd000,#ffdc00,#ffe900,#fff700,#f9ff06,#ebff14,#deff21,#d1ff2e,#c3ff3c,#b5ff4a,#a6ff59,#97ff68,#87ff78,#76ff89,#66ff99,#55ffaa,#43ffbc,#31ffce,#20ffdf,#10ffef,#00ffff,#00f1ff,#00e3ff,#00d7ff,#00cdff,#00c4ff,#00beff,#00b9ff,#00b7ff,#00b7ff,#00b9ff,#00bfff,#00c7ff,#00d3ff,#00e1ff,#00f2ff,#05fffa,#18ffe7,#2bffd4,#3effc1,#4fffb0,#5fffa0,#6bff94,#73ff8c,#76ff89,#76ff89,#75ff8a,#71ff8e,#6dff92,#68ff97,#64ff9b,#61ff9e,#5fffa0,#5fffa0,#60ff9f,#63ff9c,#68ff97,#71ff8e,#7fff80,#89ff76,#76ff89,#75ff8a,#75ff8a,#75ff8a,#75ff8a,#75ff8a,#75ff8a,#75ff8a,#75ff8a,#75ff8a)"></div><div style="top:140.00px;height:2.50px;background:linear-gradient(90deg,#75ff8a,#75ff8a,#75ff8a,#75ff8a,#75ff8a,#75ff8a,#75ff8a,#75ff8a,#75ff8a,#77ff88,#ffe000,#ffbc00,#ffc000,#ffc500,#ffc900,#ffcd00,#ffd200,#ffd900,#ffe200,#ffee00,#fffc00,#f4ff0b,#e6ff19,#d9ff26,#ccff33,#c0ff3f,#b3ff4c,#a5ff5a,#97ff68,#89ff76,#7aff85,#6aff95,#5affa5,#4affb5,#3affc5,#29ffd6,#18ffe7,#08fff7,#00f9ff,#00ebff,#00deff,#00d2ff,#00c8ff,#00c0ff,#00b9ff,#00b5ff,#00b4ff,#00b4ff,#00b7ff,#00bcff,#00c6ff,#00d2ff,#00e1ff,#00f2ff,#06fff9,#19ffe6,#2cffd3,#3effc1,#4fffb0,#5effa1,#6bff94,#72ff8d,#76ff89,#77ff88,#76ff89,#74ff8b,#71ff8e,#6eff91,#6dff92,#6cff93,#6eff91,#71ff8e,#76ff89,#7dff82,#86ff79,#91ff6e,#a0ff5f,#a5ff5a,#76ff89,#75ff8a,#75ff8a,#75ff8a,#75ff8a,#75ff8a,#75ff8a,#75ff8a,#75ff8a,#75ff8a)"></div><div style="top:142.00px;height:2.50px;background:linear-gradient(90deg,#75ff8a,#75ff8a,#75ff8a,#75ff8a,#75ff8a,#75ff8a,#75ff8a,#75ff8a,#75ff8a,#76ff89,#fff500,#ffc900,#ffcf00,#ffd500,#ffda00,#ffde00,#ffe300,#ffeb00,#fff400,#fdff02,#f0ff0f,#e1ff1e,#d3ff2c,#c6ff39,#baff45,#aeff51,#a2ff5d,#96ff69,#88ff77,#7bff84,#6dff92,#5effa1,#50ffaf,#40ffbf,#31ffce,#21ffde,#11ffee,#02fffd,#00f4ff,#00e6ff,#00daff,#00ceff,#00c4ff,#00bcff,#00b6ff,#00b3ff,#00b1ff,#00b2ff,#00b5ff,#00bbff,#00c5ff,#00d2ff,#00e2ff,#00f4ff,#07fff8,#1affe5,#2dffd2,#3effc1,#4fffb0,#5dffa2,#69ff96,#71ff8e,#75ff8a,#77ff88,#77ff88,#76ff89,#76ff89,#75ff8a,#76ff89,#79ff86,#7eff81,#85ff7a,#8eff71,#99ff66,#a5ff5a,#b3ff4c,#c3ff3c,#bfff40,#76ff89,#75ff8a,#75ff8a,#75ff8a,#75ff8a,#75ff8a,#75ff8a,#75ff8a,#75ff8a,#75ff8a)"></div><div style="top:144.00px;height:2.50px;background:linear-gradient(90deg,#75ff8a,#75ff8a,#75ff8a,#75ff8a,#75ff8a,#75ff8a,#75ff8a,#75ff8a,#75ff8a,#75ff8a,#ebff14,#ffd600,#ffdd00,#ffe400,#ffea00,#ffef00,#fff500,#fffd00,#f7ff08,#ebff14,#ddff22,#ceff31,#c0ff3f,#b3ff4c,#a8ff57,#9dff62,#91ff6e,#86ff79,#79ff86,#6dff92,#60ff9f,#52ffad,#45ffba,#37ffc8,#29ffd6,#1affe5,#0cfff3,#00fdff,#00efff,#00e3ff,#00d6ff,#00cbff,#00c1ff,#00b9ff,#00b4ff,#00b1ff,#00b0ff,#00b1ff,#00b4ff,#00bbff,#00c5ff,#00d3ff,#00e4ff,#00f6ff,#0afff5,#1cffe3,#2effd1,#3fffc0,#4fffb0,#5dffa2,#68ff97,#70ff8f,#74ff8b,#77ff88,#78ff87,#79ff86,#7aff85,#7dff82,#80ff7f,#87ff78,#8fff70,#9aff65,#a7ff58,#b6ff49,#c6ff39,#d7ff28,#e8ff17,#d5ff2a,#76ff89,#75ff8a,#75ff8a,#75ff8a,#75ff8a,#75ff8a,#75ff8a,#75ff8a,#75ff8a,#75ff8a)"></div><div style="top:146.00px;height:2.50px;background:linear-gradient(90deg,#75ff8a,#75ff8a,#75ff8a,#75ff8a,#75ff8a,#75ff8a,#75ff8a,#75ff8a,#75ff8a,#75ff8a,#c9ff36,#ffe300,#ffeb00,#fff300,#fff900,#ffff00,#f8ff07,#f0ff0f,#e5ff1a,#d9ff26,#caff35,#bbff44,#adff52,#a1ff5e,#95ff6a,#8aff75,#80ff7f,#75ff8a,#6aff95,#5fffa0,#53ffac,#46ffb9,#3affc5,#2effd1,#21ffde,#14ffeb,#07fff8,#00f9ff,#00ecff,#00e0ff,#00d4ff,#00c9ff,#00bfff,#00b8ff,#00b3ff,#00b0ff,#00b0ff,#00b1ff,#00b5ff,#00bcff,#00c6ff,#00d6ff,#00e8ff,#00faff,#0dfff2,#1fffe0,#30ffcf,#40ffbf,#4fffb0,#5cffa3,#67ff98,#6eff91,#74ff8b,#77ff88,#7aff85,#7cff83,#7fff80,#84ff7b,#8bff74,#94ff6b,#a0ff5f,#b0ff4f,#c1ff3e,#d4ff2b,#e8ff17,#fbff04,#fff100,#e0ff1f,#75ff8a,#75ff8a,#75ff8a,#75ff8a,#75ff8a,#75ff8a,#75ff8a,#75ff8a,#75ff8a,#75ff8a)"></div><div style="top:148.00px;height:2.50px;background:linear-gradient(90deg,#75ff8a,#75ff8a,#75ff8a,#75ff8a,#75ff8a,#75ff8a,#75ff8a,#75ff8a,#75ff8a,#75ff8a,#a9ff56,#fff000,#fff800,#fdff02,#f6ff09,#efff10,#e7ff18,#deff21,#d3ff2c,#c6ff39,#b8ff47,#a9ff56,#9aff65,#8eff71,#82ff7d,#78ff87,#6eff91,#64ff9b,#5affa5,#50ffaf,#45ffba,#3affc5,#2fffd0,#25ffda,#1affe5,#0efff1,#03fffc,#00f6ff,#00eaff,#00deff,#00d3ff,#00c8ff,#00bfff,#00b7ff,#00b3ff,#00b1ff,#00b1ff,#00b3ff,#00b7ff,#00beff,#00c9ff,#00daff,#00ecff,#00ffff,#11ffee,#22ffdd,#32ffcd,#42ffbd,#50ffaf,#5cffa3,#66ff99,#6dff92,#73ff8c,#77ff88,#7bff84,#7fff80,#84ff7b,#8bff74,#95ff6a,#a2ff5d,#b2ff4d,#c5ff3a,#dbff24,#f3ff0c,#fff400,#ffde00,#ffcc00,#d8ff27,#75ff8a,#75ff8a,#75ff8a,#75ff8a,#75ff8a,#75ff8a,#75ff8a,#75ff8a,#75ff8a,#75ff8a)"></div><div style="top:150.00px;height:2.50px;background:linear-gradient(90deg,#75ff8a,#75ff8a,#75ff8a,#75ff8a,#75ff8a,#75ff8a,#75ff8a,#75ff8a,#75ff8a,#75ff8a,#92ff6d,#fffd00,#f9ff06,#f0ff0f,#e7ff18,#dfff20,#d7ff28,#cdff32,#c2ff3d,#b4ff4b,#a6ff59,#96ff69,#87ff78,#7aff85,#6fff90,#65ff9a,#5cffa3,#53ffac,#4affb5,#41ffbe,#37ffc8,#2effd1,#24ffdb,#1bffe4,#12ffed,#09fff6,#00feff,#00f3ff,#00e8ff,#00ddff,#00d2ff,#00c8ff,#00bfff,#00b8ff,#00b5ff,#00b3ff,#00b3ff,#00b6ff,#00bbff,#00c3ff,#00cfff,#00e0ff,#00f2ff,#05fffa,#16ffe9,#26ffd9,#35ffca,#44ffbb,#51ffae,#5cffa3,#65ff9a,#6dff92,#72ff8d,#77ff88,#7cff83,#81ff7e,#88ff77,#92ff6d,#9fff60,#afff50,#c3ff3c,#daff25,#f5ff0a,#ffed00,#ffd100,#ffba00,#ffa700,#c0ff3f,#75ff8a,#75ff8a,#75ff8a,#75ff8a,#75ff8a,#75ff8a,#75ff8a,#75ff8a,#75ff8a,#75ff8a)"></div><div style="top:152.00px;height:2.50px;background:linear-gradient(90deg,#75ff8a,#75ff8a,#75ff8a,#75ff8a,#75ff8a,#75ff8a,#75ff8a,#75ff8a,#75ff8a,#75ff8a,#82ff7d,#f4ff0b,#ecff13,#e3ff1c,#d9ff26,#d0ff2f,#c6ff39,#bcff43,#b0ff4f,#a2ff5d,#93ff6c,#83ff7c,#74ff8b,#66ff99,#5bffa4,#51ffae,#48ffb7,#41ffbe,#39ffc6,#31ffce,#29ffd6,#21ffde,#19ffe6,#12ffed,#0afff5,#03fffc,#00faff,#00f1ff,#00e7ff,#00dcff,#00d2ff,#00c8ff,#00c0ff,#00baff,#00b7ff,#00b6ff,#00b7ff,#00baff,#00c0ff,#00c9ff,#00d6ff,#00e6ff,#00f9ff,#0bfff4,#1bffe4,#2affd5,#39ffc6,#46ffb9,#52ffad,#5dffa2,#65ff9a,#6cff93,#72ff8d,#78ff87,#7dff82,#84ff7b,#8dff72,#99ff66,#a9ff56,#bcff43,#d4ff2b,#efff10,#fff000,#ffcf00,#ffb000,#ff9600,#ff8600,#a5ff5a,#75ff8a,#75ff8a,#75ff8a,#75ff8a,#75ff8a,#75ff8a,#75ff8a,#75ff8a,#75ff8a,#75ff8a)"></div><div style="top:154.00px;height:2.50px;background:linear-gradient(90deg,#75ff8a,#75ff8a,#75ff8a,#75ff8a,#75ff8a,#75ff8a,#75ff8a,#75ff8a,#75ff8a,#75ff8a,#78ff87,#e2ff1d,#e0ff1f,#d5ff2a,#cbff34,#c0ff3f,#b6ff49,#abff54,#9eff61,#90ff6f,#81ff7e,#70ff8f,#60ff9f,#51ffae,#45ffba,#3cffc3,#34ffcb,#2effd1,#27ffd8,#20ffdf,#19ffe6,#12ffed,#0cfff3,#07fff8,#02fffd,#00fcff,#00f6ff,#00eeff,#00e5ff,#00dcff,#00d2ff,#00caff,#00c2ff,#00bdff,#00baff,#00b9ff,#00bbff,#00bfff,#00c5ff,#00cfff,#00ddff,#00eeff,#01fffe,#11ffee,#20ffdf,#2fffd0,#3cffc3,#49ffb6,#54ffab,#5effa1,#66ff99,#6dff92,#73ff8c,#78ff87,#7fff80,#86ff79,#91ff6e,#9fff60,#b2ff4d,#c9ff36,#e4ff1b,#fffa00,#ffd700,#ffb300,#ff8f00,#ff7300,#ff6900,#8dff72,#75ff8a,#75ff8a,#75ff8a,#75ff8a,#75ff8a,#75ff8a,#75ff8a,#75ff8a,#75ff8a,#75ff8a)"></div><div style="top:156.00px;height:2.50px;background:linear-gradient(90deg,#75ff8a,#75ff8a,#75ff8a,#75ff8a,#75ff8a,#75ff8a,#75ff8a,#75ff8a,#75ff8a,#75ff8a,#76ff89,#cbff34,#d4ff2b,#c8ff37,#bcff43,#b1ff4e,#a5ff5a,#99ff66,#8cff73,#7eff81,#6dff92,#5bffa4,#4affb5,#3bffc4,#2fffd0,#25ffda,#1effe1,#19ffe6,#14ffeb,#0efff1,#08fff7,#03fffc,#00feff,#00fbff,#00f8ff,#00f5ff,#00f1ff,#00ebff,#00e4ff,#00dbff,#00d2ff,#00cbff,#00c5ff,#00c0ff,#00beff,#00beff,#00c0ff,#00c5ff,#00ccff,#00d6ff,#00e4ff,#00f4ff,#07fff8,#16ffe9,#25ffda,#33ffcc,#40ffbf,#4cffb3,#57ffa8,#60ff9f,#68ff97,#6eff91,#74ff8b,#7aff85,#81ff7e,#89ff76,#95ff6a,#a5ff5a,#baff45,#d4ff2b,#f4ff0b,#ffe700,#ffc000,#ff9800,#ff7200,#ff5400,#ff6300,#7bff84,#75ff8a,#75ff8a,#75ff8a,#75ff8a,#75ff8a,#75ff8a,#75ff8a,#75ff8a,#75ff8a,#75ff8a)"></div><div style="top:158.00px;height:2.50px;background:linear-gradient(90deg,#75ff8a,#75ff8a,#75ff8a,#75ff8a,#75ff8a,#75ff8a,#75ff8a,#75ff8a,#75ff8a,#75ff8a,#75ff8a,#afff50,#c7ff38,#baff45,#aeff51,#a1ff5e,#94ff6b,#87ff78,#79ff86,#6aff95,#59ffa6,#45ffba,#33ffcc,#23ffdc,#17ffe8,#0efff1,#07fff8,#03fffc,#00feff,#00f9ff,#00f5ff,#00f1ff,#00efff,#00eeff,#00eeff,#00eeff,#00ecff,#00e8ff,#00e1ff,#00daff,#00d2ff,#00ccff,#00c7ff,#00c4ff,#00c2ff,#00c3ff,#00c5ff,#00cbff,#00d2ff,#00ddff,#00eaff,#00faff,#0bfff4,#1bffe4,#2affd5,#38ffc7,#44ffbb,#50ffaf,#5affa5,#63ff9c,#6aff95,#70ff8f,#76ff89,#7cff83,#83ff7c,#8cff73,#99ff66,#abff54,#c2ff3d,#e0ff1f,#fffb00,#ffd400,#ffaa00,#ff8000,#ff5800,#ff3900,#ff7b00,#77ff88,#75ff8a,#75ff8a,#75ff8a,#75ff8a,#75ff8a,#75ff8a,#75ff8a,#75ff8a,#75ff8a,#75ff8a)"></div><div style="top:160.00px;height:2.50px;background:linear-gradient(90deg,#75ff8a,#75ff8a,#75ff8a,#75ff8a,#75ff8a,#75ff8a,#75ff8a,#75ff8a,#75ff8a,#75ff8a,#75ff8a,#91ff6e,#bbff44,#adff52,#9fff60,#91ff6e,#82ff7d,#74ff8b,#65ff9a,#55ffaa,#43ffbc,#2effd1,#1affe5,#0afff5,#00fdff,#00f4ff,#00eeff,#00eaff,#00e7ff,#00e4ff,#00e1ff,#00dfff,#00dfff,#00e0ff,#00e2ff,#00e4ff,#00e5ff,#00e3ff,#00deff,#00d8ff,#00d2ff,#00cdff,#00c9ff,#00c7ff,#00c7ff,#00c8ff,#00cbff,#00d1ff,#00d9ff,#00e3ff,#00f0ff,#00ffff,#10ffef,#20ffdf,#2effd1,#3cffc3,#49ffb6,#54ffab,#5effa1,#66ff99,#6dff92,#73ff8c,#79ff86,#7fff80,#86ff79,#90ff6f,#9eff61,#b1ff4e,#cbff34,#ebff14,#ffed00,#ffc300,#ff9600,#ff6a00,#ff4100,#ff2100,#ffc300,#75ff8a,#75ff8a,#75ff8a,#75ff8a,#75ff8a,#75ff8a,#75ff8a,#75ff8a,#75ff8a,#75ff8a,#75ff8a)"></div><div style="top:162.00px;height:2.50px;background:linear-gradient(90deg,#75ff8a,#75ff8a,#75ff8a,#75ff8a,#75ff8a,#75ff8a,#75ff8a,#75ff8a,#75ff8a,#75ff8a,#75ff8a,#7fff80,#adff52,#a0ff5f,#90ff6f,#80ff7f,#70ff8f,#60ff9f,#50ffaf,#3effc1,#2affd5,#14ffeb,#00ffff,#00efff,#00e2ff,#00daff,#00d4ff,#00d1ff,#00ceff,#00cdff,#00ccff,#00ccff,#00ceff,#00d1ff,#00d5ff,#00d9ff,#00dcff,#00dcff,#00d9ff,#00d5ff,#00d1ff,#00ceff,#00cbff,#00cbff,#00cbff,#00cdff,#00d1ff,#00d7ff,#00e0ff,#00eaff,#00f6ff,#05fffa,#15ffea,#24ffdb,#33ffcc,#41ffbe,#4effb1,#59ffa6,#63ff9c,#6aff95,#71ff8e,#77ff88,#7dff82,#84ff7b,#8bff74,#95ff6a,#a3ff5c,#b7ff48,#d3ff2c,#f6ff09,#ffdf00,#ffb200,#ff8200,#ff5400,#ff2b00,#ff0c00,#d7ff28,#75ff8a,#75ff8a,#75ff8a,#75ff8a,#75ff8a,#75ff8a,#75ff8a,#75ff8a,#75ff8a,#75ff8a,#75ff8a)"></div><div style="top:164.00px;height:2.50px;background:linear-gradient(90deg,#75ff8a,#75ff8a,#75ff8a,#75ff8a,#75ff8a,#75ff8a,#75ff8a,#75ff8a,#75ff8a,#75ff8a,#75ff8a,#77ff88,#9dff62,#92ff6d,#81ff7e,#70ff8f,#5effa1,#4cffb3,#3affc5,#26ffd9,#10ffef,#00f8ff,#00e4ff,#00d3ff,#00c7ff,#00bfff,#00baff,#00b7ff,#00b5ff,#00b5ff,#00b6ff,#00b8ff,#00bcff,#00c0ff,#00c6ff,#00ccff,#00d1ff,#00d3ff,#00d3ff,#00d1ff,#00cfff,#00ceff,#00ceff,#00ceff,#00d0ff,#00d3ff,#00d8ff,#00deff,#00e6ff,#00f1ff,#00fdff,#0bfff4,#19ffe6,#29ffd6,#38ffc7,#47ffb8,#54ffab,#5fffa0,#68ff97,#70ff8f,#76ff89,#7dff82,#83ff7c,#89ff76,#91ff6e,#9bff64,#aaff55,#beff41,#dcff23,#fffd00,#ffd100,#ffa100,#ff6f00,#ff4000,#ff1500,#ff0300,#98ff67,#75ff8a,#75ff8a,#75ff8a,#75ff8a,#75ff8a,#75ff8a,#75ff8a,#75ff8a,#75ff8a,#75ff8a,#75ff8a)"></div><div style="top:166.00px;height:2.50px;background:linear-gradient(90deg,#75ff8a,#75ff8a,#75ff8a,#75ff8a,#75ff8a,#75ff8a,#75ff8a,#75ff8a,#75ff8a,#75ff8a,#75ff8a,#75ff8a,#8bff74,#85ff7a,#73ff8c,#60ff9f,#4cffb3,#38ffc7,#23ffdc,#0dfff2,#00f4ff,#00dcff,#00c8ff,#00b7ff,#00acff,#00a4ff,#009fff,#009cff,#009cff,#009dff,#009fff,#00a3ff,#00a8ff,#00afff,#00b6ff,#00beff,#00c5ff,#00c9ff,#00cbff,#00cdff,#00cdff,#00ceff,#00cfff,#00d1ff,#00d5ff,#00d9ff,#00deff,#00e5ff,#00edff,#00f8ff,#04fffb,#11ffee,#1fffe0,#2effd1,#3effc1,#4cffb3,#5affa5,#65ff9a,#6eff91,#75ff8a,#7cff83,#83ff7c,#8aff75,#91ff6e,#99ff66,#a4ff5b,#b2ff4d,#c7ff38,#e6ff19,#fff100,#ffc300,#ff9000,#ff5c00,#ff2a00,#fe0000,#ff2200,#7bff84,#75ff8a,#75ff8a,#75ff8a,#75ff8a,#75ff8a,#75ff8a,#75ff8a,#75ff8a,#75ff8a,#75ff8a,#75ff8a)"></div><div style="top:168.00px;height:2.50px;background:linear-gradient(90deg,#75ff8a,#75ff8a,#75ff8a,#75ff8a,#75ff8a,#75ff8a,#75ff8a,#75ff8a,#75ff8a,#75ff8a,#75ff8a,#75ff8a,#7cff83,#79ff86,#65ff9a,#50ffaf,#3bffc4,#24ffdb,#0dfff2,#00f3ff,#00d9ff,#00c1ff,#00acff,#009cff,#0090ff,#0089ff,#0084ff,#0082ff,#0083ff,#0085ff,#0088ff,#008dff,#0094ff,#009dff,#00a6ff,#00afff,#00b7ff,#00beff,#00c3ff,#00c7ff,#00cbff,#00ceff,#00d1ff,#00d5ff,#00d9ff,#00dfff,#00e5ff,#00ecff,#00f5ff,#00ffff,#0bfff4,#17ffe8,#25ffda,#34ffcb,#43ffbc,#52ffad,#60ff9f,#6bff94,#74ff8b,#7cff83,#83ff7c,#8aff75,#92ff6d,#9aff65,#a3ff5c,#aeff51,#beff41,#d3ff2c,#f2ff0d,#ffe400,#ffb300,#ff7e00,#ff4800,#ff1500,#e80000,#ff8800,#76ff89,#75ff8a,#75ff8a,#75ff8a,#75ff8a,#75ff8a,#75ff8a,#75ff8a,#75ff8a,#75ff8a,#75ff8a,#75ff8a)"></div><div style="top:170.00px;height:2.50px;background:linear-gradient(90deg,#75ff8a,#75ff8a,#75ff8a,#75ff8a,#75ff8a,#75ff8a,#75ff8a,#75ff8a,#75ff8a,#75ff8a,#75ff8a,#75ff8a,#75ff8a,#6cff93,#58ffa7,#42ffbd,#2affd5,#12ffed,#00f7ff,#00dcff,#00c0ff,#00a6ff,#0091ff,#0081ff,#0076ff,#006fff,#006bff,#0069ff,#006aff,#006dff,#0071ff,#0078ff,#0080ff,#008aff,#0094ff,#009fff,#00aaff,#00b3ff,#00bbff,#00c2ff,#00c8ff,#00ceff,#00d3ff,#00d9ff,#00deff,#00e5ff,#00ecff,#00f3ff,#00fcff,#07fff8,#13ffec,#1fffe0,#2cffd3,#3bffc4,#4affb5,#59ffa6,#66ff99,#71ff8e,#7bff84,#83ff7c,#8bff74,#93ff6c,#9bff64,#a5ff5a,#afff50,#bcff43,#ccff33,#e2ff1d,#fffd00,#ffd500,#ffa300,#ff6b00,#ff3300,#fd0000,#d70000,#e2ff1d,#75ff8a,#75ff8a,#75ff8a,#75ff8a,#75ff8a,#75ff8a,#75ff8a,#75ff8a,#75ff8a,#75ff8a,#75ff8a,#75ff8a)"></div><div style="top:172.00px;height:2.50px;background:linear-gradient(90deg,#75ff8a,#75ff8a,#75ff8a,#75ff8a,#75ff8a,#75ff8a,#75ff8a,#75ff8a,#75ff8a,#75ff8a,#75ff8a,#75ff8a,#75ff8a,#61ff9e,#4cffb3,#34ffcb,#1bffe4,#00ffff,#00e4ff,#00c7ff,#00aaff,#008eff,#0078ff,#0068ff,#005eff,#0056ff,#0052ff,#0051ff,#0052ff,#0055ff,#005bff,#0062ff,#006cff,#0077ff,#0083ff,#0090ff,#009cff,#00a8ff,#00b3ff,#00bcff,#00c5ff,#00cdff,#00d5ff,#00dcff,#00e4ff,#00ebff,#00f3ff,#00fbff,#05fffa,#10ffef,#1bffe4,#27ffd8,#34ffcb,#42ffbd,#51ffae,#5fffa0,#6cff93,#78ff87,#82ff7d,#8bff74,#94ff6b,#9dff62,#a7ff58,#b2ff4d,#beff41,#cdff32,#deff21,#f5ff0a,#ffeb00,#ffc300,#ff8f00,#ff5600,#ff1d00,#e70000,#dd0000,#8eff71,#75ff8a,#75ff8a,#75ff8a,#75ff8a,#75ff8a,#75ff8a,#75ff8a,#75ff8a,#75ff8a,#75ff8a,#75ff8a,#75ff8a)"></div><div style="top:174.00px;height:2.50px;background:linear-gradient(90deg,#75ff8a,#75ff8a,#75ff8a,#75ff8a,#75ff8a,#75ff8a,#75ff8a,#75ff8a,#75ff8a,#75ff8a,#75ff8a,#75ff8a,#75ff8a,#60ff9f,#41ffbe,#28ffd7,#0dfff2,#00f0ff,#00d3ff,#00b5ff,#0096ff,#0079ff,#0062ff,#0053ff,#0047ff,#0040ff,#003bff,#0039ff,#003bff,#003eff,#0045ff,#004dff,#0058ff,#0064ff,#0072ff,#0080ff,#008fff,#009dff,#00aaff,#00b7ff,#00c2ff,#00cdff,#00d7ff,#00e0ff,#00e9ff,#00f2ff,#00faff,#04fffb,#0efff1,#18ffe7,#23ffdc,#2fffd0,#3cffc3,#4affb5,#58ffa7,#66ff99,#73ff8c,#7fff80,#8aff75,#94ff6b,#9eff61,#a8ff57,#b4ff4b,#c1ff3e,#cfff30,#e0ff1f,#f3ff0c,#fff200,#ffd400,#ffad00,#ff7900,#ff4000,#ff0600,#d10000,#ff3600,#78ff87,#75ff8a,#75ff8a,#75ff8a,#75ff8a,#75ff8a,#75ff8a,#75ff8a,#75ff8a,#75ff8a,#75ff8a,#75ff8a,#75ff8a)"></div><div style="top:176.00px;height:2.50px;background:linear-gradient(90deg,#75ff8a,#75ff8a,#75ff8a,#75ff8a,#75ff8a,#75ff8a,#75ff8a,#75ff8a,#75ff8a,#75ff8a,#75ff8a,#75ff8a,#75ff8a,#6bff94,#37ffc8,#1effe1,#02fffd,#00e4ff,#00c5ff,#00a6ff,#0087ff,#006aff,#0052ff,#0040ff,#0034ff,#002bff,#0026ff,#0024ff,#0025ff,#0029ff,#0030ff,#0039ff,#0045ff,#0052ff,#0061ff,#0071ff,#0081ff,#0092ff,#00a2ff,#00b1ff,#00bfff,#00cdff,#00d9ff,#00e4ff,#00eeff,#00f8ff,#03fffc,#0dfff2,#17ffe8,#21ffde,#2dffd2,#38ffc7,#45ffba,#52ffad,#60ff9f,#6dff92,#7bff84,#87ff78,#93ff6c,#9eff61,#a8ff57,#b4ff4b,#c2ff3d,#d1ff2e,#e2ff1d,#f6ff09,#fff200,#ffd900,#ffb900,#ff9100,#ff5f00,#ff2700,#ef0000,#c00000,#ffee00,#75ff8a,#75ff8a,#75ff8a,#75ff8a,#75ff8a,#75ff8a,#75ff8a,#75ff8a,#75ff8a,#75ff8a,#75ff8a,#75ff8a,#75ff8a)"></div><div style="top:178.00px;height:2.50px;background:linear-gradient(90deg,#75ff8a,#75ff8a,#75ff8a,#75ff8a,#75ff8a,#75ff8a,#75ff8a,#75ff8a,#75ff8a,#75ff8a,#75ff8a,#75ff8a,#75ff8a,#74ff8b,#33ffcc,#15ffea,#00f7ff,#00d9ff,#00baff,#009aff,#007bff,#005dff,#0045ff,#0032ff,#0024ff,#001aff,#0013ff,#0011ff,#0011ff,#0015ff,#001cff,#0026ff,#0032ff,#0041ff,#0051ff,#0062ff,#0075ff,#0087ff,#009aff,#00acff,#00bdff,#00ccff,#00daff,#00e7ff,#00f4ff,#00ffff,#0bfff4,#16ffe9,#20ffdf,#2bffd4,#36ffc9,#41ffbe,#4effb1,#5affa5,#67ff98,#75ff8a,#82ff7d,#8fff70,#9cff63,#a8ff57,#b4ff4b,#c1ff3e,#d1ff2e,#e4ff1b,#f8ff07,#fff000,#ffd800,#ffbc00,#ff9b00,#ff7300,#ff4200,#ff0e00,#d80000,#ce0000,#94ff6b,#75ff8a,#75ff8a,#75ff8a,#75ff8a,#75ff8a,#75ff8a,#75ff8a,#75ff8a,#75ff8a,#75ff8a,#75ff8a,#75ff8a,#75ff8a)"></div><div style="top:180.00px;height:2.50px;background:linear-gradient(90deg,#75ff8a,#75ff8a,#75ff8a,#75ff8a,#75ff8a,#75ff8a,#75ff8a,#75ff8a,#75ff8a,#75ff8a,#75ff8a,#75ff8a,#75ff8a,#75ff8a,#48ffb7,#0efff1,#00f0ff,#00d2ff,#00b2ff,#0092ff,#0072ff,#0055ff,#003bff,#0026ff,#0016ff,#000bff,#0003ff,#0000fe,#0000fe,#0003ff,#000aff,#0014ff,#0021ff,#0030ff,#0042ff,#0055ff,#0069ff,#007eff,#0093ff,#00a7ff,#00bbff,#00ccff,#00dcff,#00ebff,#00f9ff,#07fff8,#13ffec,#1fffe0,#2affd5,#34ffcb,#3fffc0,#4bffb4,#56ffa9,#63ff9c,#70ff8f,#7dff82,#8aff75,#98ff67,#a6ff59,#b3ff4c,#c0ff3f,#d0ff2f,#e2ff1d,#f7ff08,#ffef00,#ffd600,#ffbb00,#ff9d00,#ff7b00,#ff5300,#ff2500,#f20000,#c10000,#ff4e00,#77ff88,#75ff8a,#75ff8a,#75ff8a,#75ff8a,#75ff8a,#75ff8a,#75ff8a,#75ff8a,#75ff8a,#75ff8a,#75ff8a,#75ff8a,#75ff8a)"></div><div style="top:182.00px;height:2.50px;background:linear-gradient(90deg,#75ff8a,#75ff8a,#75ff8a,#75ff8a,#75ff8a,#75ff8a,#75ff8a,#75ff8a,#75ff8a,#75ff8a,#75ff8a,#75ff8a,#75ff8a,#75ff8a,#69ff96,#0afff5,#00ecff,#00cdff,#00adff,#008dff,#006dff,#004fff,#0034ff,#001eff,#000cff,#0000fe,#0000f5,#0000ef,#0000ee,#0000f2,#0000f8,#0004ff,#0011ff,#0022ff,#0034ff,#0048ff,#005eff,#0074ff,#008cff,#00a3ff,#00b9ff,#00cdff,#00deff,#00efff,#00feff,#0efff1,#1bffe4,#28ffd7,#33ffcc,#3effc1,#49ffb6,#54ffab,#60ff9f,#6cff93,#78ff87,#85ff7a,#93ff6c,#a1ff5e,#afff50,#bdff42,#cdff32,#dfff20,#f4ff0b,#fff200,#ffd700,#ffbb00,#ff9e00,#ff7e00,#ff5a00,#ff3200,#ff0600,#d60000,#b30000,#e1ff1e,#75ff8a,#75ff8a,#75ff8a,#75ff8a,#75ff8a,#75ff8a,#75ff8a,#75ff8a,#75ff8a,#75ff8a,#75ff8a,#75ff8a,#75ff8a,#75ff8a)"></div><div style="top:184.00px;height:2.50px;background:linear-gradient(90deg,#75ff8a,#75ff8a,#75ff8a,#75ff8a,#75ff8a,#75ff8a,#75ff8a,#75ff8a,#75ff8a,#75ff8a,#75ff8a,#75ff8a,#75ff8a,#75ff8a,#74ff8b,#1bffe4,#00eaff,#00cbff,#00abff,#008bff,#006bff,#004cff,#0030ff,#0018ff,#0005ff,#0000f5,#0000ea,#0000e3,#0000e1,#0000e4,#0000ea,#0000f5,#0004ff,#0014ff,#0028ff,#003dff,#0054ff,#006cff,#0085ff,#009fff,#00b7ff,#00cdff,#00e0ff,#00f2ff,#04fffb,#14ffeb,#23ffdc,#30ffcf,#3cffc3,#47ffb8,#52ffad,#5dffa2,#69ff96,#74ff8b,#81ff7e,#8eff71,#9bff64,#aaff55,#b9ff46,#c9ff36,#daff25,#efff10,#fff700,#ffdc00,#ffbe00,#ff9f00,#ff7f00,#ff5e00,#ff3a00,#ff1200,#e70000,#bb0000,#f10000,#82ff7d,#75ff8a,#75ff8a,#75ff8a,#75ff8a,#75ff8a,#75ff8a,#75ff8a,#75ff8a,#75ff8a,#75ff8a,#75ff8a,#75ff8a,#75ff8a,#75ff8a)"></div><div style="top:186.00px;height:2.50px;background:linear-gradient(90deg,#75ff8a,#75ff8a,#75ff8a,#75ff8a,#75ff8a,#75ff8a,#75ff8a,#75ff8a,#75ff8a,#75ff8a,#75ff8a,#75ff8a,#75ff8a,#75ff8a,#75ff8a,#55ffaa,#00e9ff,#00ccff,#00acff,#008cff,#006bff,#004cff,#002fff,#0016ff,#0000ff,#0000ee,#0000e2,#0000da,#0000d7,#0000d8,#0000de,#0000e9,#0000f7,#0009ff,#001dff,#0033ff,#004bff,#0065ff,#0080ff,#009bff,#00b5ff,#00cdff,#00e1ff,#00f4ff,#08fff7,#1affe5,#2affd5,#38ffc7,#45ffba,#51ffae,#5cffa3,#67ff98,#72ff8d,#7eff81,#8aff75,#97ff68,#a4ff5b,#b3ff4c,#c3ff3c,#d4ff2b,#e8ff17,#ffff00,#ffe400,#ffc600,#ffa400,#ff8300,#ff6100,#ff3e00,#ff1900,#f20000,#c90000,#a50000,#ffc200,#76ff89,#75ff8a,#75ff8a,#75ff8a,#75ff8a,#75ff8a,#75ff8a,#75ff8a,#75ff8a,#75ff8a,#75ff8a,#75ff8a,#75ff8a,#75ff8a,#75ff8a)"></div><div style="top:188.00px;height:2.50px;background:linear-gradient(90deg,#75ff8a,#75ff8a,#75ff8a,#75ff8a,#75ff8a,#75ff8a,#75ff8a,#75ff8a,#75ff8a,#75ff8a,#75ff8a,#75ff8a,#75ff8a,#75ff8a,#75ff8a,#71ff8e,#00fbff,#00ceff,#00afff,#008fff,#006fff,#0050ff,#0031ff,#0016ff,#0000fe,#0000ec,#0000de,#0000d5,#0000d0,#0000d0,#0000d5,#0000df,#0000ed,#0000ff,#0014ff,#002bff,#0044ff,#005fff,#007bff,#0098ff,#00b3ff,#00ccff,#00e2ff,#00f7ff,#0bfff4,#1effe1,#30ffcf,#40ffbf,#4dffb2,#59ffa6,#65ff9a,#70ff8f,#7bff84,#87ff78,#93ff6c,#a0ff5f,#adff52,#bcff43,#cdff32,#e0ff1f,#f6ff09,#ffee00,#ffd100,#ffaf00,#ff8b00,#ff6600,#ff4300,#ff1f00,#f90000,#d30000,#ad0000,#c30000,#90ff6f,#75ff8a,#75ff8a,#75ff8a,#75ff8a,#75ff8a,#75ff8a,#75ff8a,#75ff8a,#75ff8a,#75ff8a,#75ff8a,#75ff8a,#75ff8a,#75ff8a,#75ff8a)"></div><div style="top:190.00px;height:2.50px;background:linear-gradient(90deg,#75ff8a,#75ff8a,#75ff8a,#75ff8a,#75ff8a,#75ff8a,#75ff8a,#75ff8a,#75ff8a,#75ff8a,#75ff8a,#75ff8a,#75ff8a,#75ff8a,#75ff8a,#75ff8a,#41ffbe,#00d2ff,#00b5ff,#0096ff,#0076ff,#0056ff,#0037ff,#001aff,#0001ff,#0000ec,#0000dd,#0000d2,#0000cc,#0000cb,#0000cf,#0000d8,#0000e7,#0000f9,#000eff,#0025ff,#003fff,#005bff,#0078ff,#0095ff,#00b2ff,#00cbff,#00e3ff,#00f9ff,#0ffff0,#23ffdc,#35ffca,#46ffb9,#55ffaa,#62ff9d,#6dff92,#78ff87,#84ff7b,#90ff6f,#9cff63,#a9ff56,#b6ff49,#c5ff3a,#d7ff28,#ebff14,#fffa00,#ffde00,#ffbe00,#ff9900,#ff7200,#ff4b00,#ff2600,#ff0200,#dc0000,#b70000,#960000,#ff9200,#76ff89,#75ff8a,#75ff8a,#75ff8a,#75ff8a,#75ff8a,#75ff8a,#75ff8a,#75ff8a,#75ff8a,#75ff8a,#75ff8a,#75ff8a,#75ff8a,#75ff8a,#75ff8a)"></div><div style="top:192.00px;height:2.50px;background:linear-gradient(90deg,#75ff8a,#75ff8a,#75ff8a,#75ff8a,#75ff8a,#75ff8a,#75ff8a,#75ff8a,#75ff8a,#75ff8a,#75ff8a,#75ff8a,#75ff8a,#75ff8a,#75ff8a,#75ff8a,#6fff90,#00ebff,#00bdff,#009fff,#007fff,#005fff,#0040ff,#0021ff,#0007ff,#0000f1,#0000e0,#0000d4,#0000cb,#0000c8,#0000cb,#0000d4,#0000e3,#0000f5,#000bff,#0022ff,#003cff,#0058ff,#0076ff,#0094ff,#00b1ff,#00ccff,#00e4ff,#00fbff,#12ffed,#27ffd8,#3affc5,#4cffb3,#5cffa3,#69ff96,#75ff8a,#81ff7e,#8cff73,#99ff66,#a5ff5a,#b2ff4d,#bfff40,#ceff31,#e1ff1e,#f7ff08,#ffed00,#ffcf00,#ffac00,#ff8500,#ff5b00,#ff3200,#ff0c00,#e60000,#c10000,#9c0000,#b30000,#99ff66,#75ff8a,#75ff8a,#75ff8a,#75ff8a,#75ff8a,#75ff8a,#75ff8a,#75ff8a,#75ff8a,#75ff8a,#75ff8a,#75ff8a,#75ff8a,#75ff8a,#75ff8a,#75ff8a)"></div><div style="top:194.00px;height:2.50px;background:linear-gradient(90deg,#75ff8a,#75ff8a,#75ff8a,#75ff8a,#75ff8a,#75ff8a,#75ff8a,#75ff8a,#75ff8a,#75ff8a,#75ff8a,#75ff8a,#75ff8a,#75ff8a,#75ff8a,#75ff8a,#75ff8a,#41ffbe,#00c5ff,#00aaff,#008bff,#006cff,#004cff,#002dff,#0011ff,#0000fa,#0000e7,#0000d8,#0000ce,#0000c9,#0000cb,#0000d3,#0000e2,#0000f4,#000bff,#0022ff,#003cff,#0059ff,#0077ff,#0095ff,#00b2ff,#00cdff,#00e6ff,#00feff,#15ffea,#2bffd4,#3fffc0,#52ffad,#62ff9d,#70ff8f,#7dff82,#89ff76,#95ff6a,#a1ff5e,#aeff51,#bbff44,#c8ff37,#d8ff27,#ebff14,#fffc00,#ffe000,#ffc000,#ff9b00,#ff7200,#ff4700,#ff1d00,#f40000,#ce0000,#a90000,#8a0000,#ff9800,#76ff89,#75ff8a,#75ff8a,#75ff8a,#75ff8a,#75ff8a,#75ff8a,#75ff8a,#75ff8a,#75ff8a,#75ff8a,#75ff8a,#75ff8a,#75ff8a,#75ff8a,#75ff8a,#75ff8a)"></div><div style="top:196.00px;height:2.50px;background:linear-gradient(90deg,#75ff8a,#75ff8a,#75ff8a,#75ff8a,#75ff8a,#75ff8a,#75ff8a,#75ff8a,#75ff8a,#75ff8a,#75ff8a,#75ff8a,#75ff8a,#75ff8a,#75ff8a,#75ff8a,#75ff8a,#70ff8f,#00ecff,#00b7ff,#009aff,#007bff,#005cff,#003cff,#001fff,#0007ff,#0000f1,#0000e0,#0000d4,#0000ce,#0000ce,#0000d6,#0000e4,#0000f7,#000dff,#0026ff,#0040ff,#005cff,#007aff,#0098ff,#00b5ff,#00d0ff,#00e9ff,#03fffc,#1affe5,#2fffd0,#44ffbb,#57ffa8,#68ff97,#77ff88,#84ff7b,#91ff6e,#9eff61,#aaff55,#b7ff48,#c4ff3b,#d1ff2e,#e1ff1e,#f5ff0a,#fff100,#ffd300,#ffb100,#ff8b00,#ff6200,#ff3600,#ff0a00,#df0000,#b80000,#930000,#d00000,#90ff6f,#75ff8a,#75ff8a,#75ff8a,#75ff8a,#75ff8a,#75ff8a,#75ff8a,#75ff8a,#75ff8a,#75ff8a,#75ff8a,#75ff8a,#75ff8a,#75ff8a,#75ff8a,#75ff8a,#75ff8a)"></div><div style="top:198.00px;height:2.50px;background:linear-gradient(90deg,#75ff8a,#75ff8a,#75ff8a,#75ff8a,#75ff8a,#75ff8a,#75ff8a,#75ff8a,#75ff8a,#75ff8a,#75ff8a,#75ff8a,#75ff8a,#75ff8a,#75ff8a,#75ff8a,#75ff8a,#75ff8a,#51ffae,#00c6ff,#00aaff,#008dff,#006eff,#004eff,#0030ff,#0016ff,#0000fe,#0000ec,#0000de,#0000d6,#0000d5,#0000dc,#0000ea,#0000fd,#0013ff,#002cff,#0046ff,#0062ff,#0080ff,#009dff,#00baff,#00d5ff,#00eeff,#08fff7,#1fffe0,#35ffca,#49ffb6,#5cffa3,#6eff91,#7eff81,#8cff73,#9aff65,#a7ff58,#b4ff4b,#c0ff3f,#cdff32,#dbff24,#ebff14,#ffff00,#ffe500,#ffc700,#ffa300,#ff7c00,#ff5200,#ff2700,#f90000,#ce0000,#a50000,#8e0000,#ffe800,#76ff89,#75ff8a,#75ff8a,#75ff8a,#75ff8a,#75ff8a,#75ff8a,#75ff8a,#75ff8a,#75ff8a,#75ff8a,#75ff8a,#75ff8a,#75ff8a,#75ff8a,#75ff8a,#75ff8a,#75ff8a)"></div><div style="top:200.00px;height:2.50px;background:linear-gradient(90deg,#75ff8a,#75ff8a,#75ff8a,#75ff8a,#75ff8a,#75ff8a,#75ff8a,#75ff8a,#75ff8a,#75ff8a,#75ff8a,#75ff8a,#75ff8a,#75ff8a,#75ff8a,#75ff8a,#75ff8a,#75ff8a,#74ff8b,#12ffed,#00baff,#00a0ff,#0082ff,#0062ff,#0043ff,#0027ff,#000fff,#0000fa,#0000ec,#0000e2,#0000e0,#0000e7,#0000f4,#0007ff,#001cff,#0034ff,#004fff,#006bff,#0088ff,#00a5ff,#00c1ff,#00dcff,#00f5ff,#0ffff0,#26ffd9,#3cffc3,#50ffaf,#63ff9c,#75ff8a,#85ff7a,#95ff6a,#a3ff5c,#b1ff4e,#beff41,#cbff34,#d8ff27,#e6ff19,#f6ff09,#fff300,#ffd900,#ffb900,#ff9500,#ff6d00,#ff4300,#ff1800,#ea0000,#be0000,#960000,#ff1c00,#81ff7e,#75ff8a,#75ff8a,#75ff8a,#75ff8a,#75ff8a,#75ff8a,#75ff8a,#75ff8a,#75ff8a,#75ff8a,#75ff8a,#75ff8a,#75ff8a,#75ff8a,#75ff8a,#75ff8a,#75ff8a,#75ff8a)"></div><div style="top:202.00px;height:2.50px;background:linear-gradient(90deg,#75ff8a,#75ff8a,#75ff8a,#75ff8a,#75ff8a,#75ff8a,#75ff8a,#75ff8a,#75ff8a,#75ff8a,#75ff8a,#75ff8a,#75ff8a,#75ff8a,#75ff8a,#75ff8a,#75ff8a,#75ff8a,#75ff8a,#6aff95,#00ddff,#00b4ff,#0097ff,#0077ff,#0057ff,#003bff,#0021ff,#000dff,#0000fc,#0000f2,#0000f0,#0000f5,#0002ff,#0014ff,#0028ff,#0040ff,#005aff,#0075ff,#0092ff,#00aeff,#00caff,#00e5ff,#00ffff,#18ffe7,#30ffcf,#45ffba,#59ffa6,#6bff94,#7dff82,#8fff70,#9fff60,#aeff51,#bcff43,#caff35,#d7ff28,#e5ff1a,#f3ff0c,#fffb00,#ffe600,#ffcb00,#ffab00,#ff8600,#ff5e00,#ff3400,#ff0900,#db0000,#af0000,#ba0000,#bdff42,#75ff8a,#75ff8a,#75ff8a,#75ff8a,#75ff8a,#75ff8a,#75ff8a,#75ff8a,#75ff8a,#75ff8a,#75ff8a,#75ff8a,#75ff8a,#75ff8a,#75ff8a,#75ff8a,#75ff8a,#75ff8a,#75ff8a)"></div><div style="top:204.00px;height:2.50px;background:linear-gradient(90deg,#75ff8a,#75ff8a,#75ff8a,#75ff8a,#75ff8a,#75ff8a,#75ff8a,#75ff8a,#75ff8a,#75ff8a,#75ff8a,#75ff8a,#75ff8a,#75ff8a,#75ff8a,#75ff8a,#75ff8a,#75ff8a,#75ff8a,#75ff8a,#4bffb4,#00c8ff,#00acff,#008cff,#006cff,#004fff,#0035ff,#0020ff,#0010ff,#0006ff,#0003ff,#0008ff,#0013ff,#0023ff,#0037ff,#004eff,#0067ff,#0082ff,#009eff,#00baff,#00d6ff,#00f1ff,#0bfff4,#24ffdb,#3bffc4,#50ffaf,#63ff9c,#75ff8a,#87ff78,#9aff65,#aaff55,#baff45,#c9ff36,#d7ff28,#e5ff1a,#f3ff0c,#fffc00,#ffec00,#ffd700,#ffbc00,#ff9b00,#ff7500,#ff4d00,#ff2300,#f70000,#cb0000,#b00000,#ffcd00,#77ff88,#75ff8a,#75ff8a,#75ff8a,#75ff8a,#75ff8a,#75ff8a,#75ff8a,#75ff8a,#75ff8a,#75ff8a,#75ff8a,#75ff8a,#75ff8a,#75ff8a,#75ff8a,#75ff8a,#75ff8a,#75ff8a,#75ff8a)"></div><div style="top:206.00px;height:2.50px;background:linear-gradient(90deg,#75ff8a,#75ff8a,#75ff8a,#75ff8a,#75ff8a,#75ff8a,#75ff8a,#75ff8a,#75ff8a,#75ff8a,#75ff8a,#75ff8a,#75ff8a,#75ff8a,#75ff8a,#75ff8a,#75ff8a,#75ff8a,#75ff8a,#75ff8a,#74ff8b,#1dffe2,#00bdff,#00a1ff,#0081ff,#0064ff,#004aff,#0035ff,#0025ff,#001bff,#0018ff,#001cff,#0026ff,#0035ff,#0048ff,#005eff,#0077ff,#0091ff,#00acff,#00c8ff,#00e3ff,#00feff,#19ffe6,#32ffcd,#49ffb6,#5effa1,#71ff8e,#82ff7d,#94ff6b,#a7ff58,#b8ff47,#c8ff37,#d8ff27,#e7ff18,#f6ff09,#fffa00,#ffeb00,#ffda00,#ffc500,#ffaa00,#ff8800,#ff6300,#ff3b00,#ff1100,#e50000,#c00000,#ff6800,#80ff7f,#75ff8a,#75ff8a,#75ff8a,#75ff8a,#75ff8a,#75ff8a,#75ff8a,#75ff8a,#75ff8a,#75ff8a,#75ff8a,#75ff8a,#75ff8a,#75ff8a,#75ff8a,#75ff8a,#75ff8a,#75ff8a,#75ff8a,#75ff8a)"></div><div style="top:208.00px;height:2.50px;background:linear-gradient(90deg,#75ff8a,#75ff8a,#75ff8a,#75ff8a,#75ff8a,#75ff8a,#75ff8a,#75ff8a,#75ff8a,#75ff8a,#75ff8a,#75ff8a,#75ff8a,#75ff8a,#75ff8a,#75ff8a,#75ff8a,#75ff8a,#75ff8a,#75ff8a,#75ff8a,#6eff91,#00f4ff,#00b3ff,#0096ff,#007aff,#0061ff,#004cff,#003cff,#0032ff,#002fff,#0032ff,#003bff,#0049ff,#005bff,#0070ff,#0088ff,#00a2ff,#00bdff,#00d8ff,#00f3ff,#0ffff0,#29ffd6,#43ffbc,#5affa5,#6fff90,#82ff7d,#93ff6c,#a4ff5b,#b5ff4a,#c7ff38,#d8ff27,#e9ff16,#f9ff06,#fff500,#ffe600,#ffd600,#ffc500,#ffaf00,#ff9500,#ff7400,#ff4f00,#ff2700,#fc0000,#d50000,#ff1f00,#92ff6d,#75ff8a,#75ff8a,#75ff8a,#75ff8a,#75ff8a,#75ff8a,#75ff8a,#75ff8a,#75ff8a,#75ff8a,#75ff8a,#75ff8a,#75ff8a,#75ff8a,#75ff8a,#75ff8a,#75ff8a,#75ff8a,#75ff8a,#75ff8a,#75ff8a)"></div><div style="top:210.00px;height:2.50px;background:linear-gradient(90deg,#75ff8a,#75ff8a,#75ff8a,#75ff8a,#75ff8a,#75ff8a,#75ff8a,#75ff8a,#75ff8a,#75ff8a,#75ff8a,#75ff8a,#75ff8a,#75ff8a,#75ff8a,#75ff8a,#75ff8a,#75ff8a,#75ff8a,#75ff8a,#75ff8a,#75ff8a,#65ff9a,#00dcff,#00aaff,#0090ff,#0077ff,#0063ff,#0054ff,#004aff,#0047ff,#0049ff,#0052ff,#005fff,#0070ff,#0084ff,#009bff,#00b4ff,#00ceff,#00e9ff,#05fffa,#20ffdf,#3bffc4,#55ffaa,#6eff91,#83ff7c,#96ff69,#a6ff59,#b6ff49,#c7ff38,#d9ff26,#ebff14,#fcff03,#fff000,#ffe000,#ffd000,#ffbf00,#ffad00,#ff9700,#ff7d00,#ff5d00,#ff3800,#ff1100,#e90000,#ff0b00,#beff41,#75ff8a,#75ff8a,#75ff8a,#75ff8a,#75ff8a,#75ff8a,#75ff8a,#75ff8a,#75ff8a,#75ff8a,#75ff8a,#75ff8a,#75ff8a,#75ff8a,#75ff8a,#75ff8a,#75ff8a,#75ff8a,#75ff8a,#75ff8a,#75ff8a,#75ff8a)"></div><div style="top:212.00px;height:2.50px;background:linear-gradient(90deg,#75ff8a,#75ff8a,#75ff8a,#75ff8a,#75ff8a,#75ff8a,#75ff8a,#75ff8a,#75ff8a,#75ff8a,#75ff8a,#75ff8a,#75ff8a,#75ff8a,#75ff8a,#75ff8a,#75ff8a,#75ff8a,#75ff8a,#75ff8a,#75ff8a,#75ff8a,#75ff8a,#56ffa9,#00ceff,#00a5ff,#008fff,#007bff,#006dff,#0063ff,#0060ff,#0062ff,#006aff,#0076ff,#0086ff,#0099ff,#00afff,#00c7ff,#00e1ff,#00fbff,#17ffe8,#33ffcc,#4fffb0,#6bff94,#84ff7b,#9aff65,#adff52,#bdff42,#ccff33,#dbff24,#edff12,#fffe00,#ffeb00,#ffd900,#ffc800,#ffb700,#ffa600,#ff9300,#ff7d00,#ff6200,#ff4300,#ff1f00,#f90000,#ff0700,#d8ff27,#76ff89,#75ff8a,#75ff8a,#75ff8a,#75ff8a,#75ff8a,#75ff8a,#75ff8a,#75ff8a,#75ff8a,#75ff8a,#75ff8a,#75ff8a,#75ff8a,#75ff8a,#75ff8a,#75ff8a,#75ff8a,#75ff8a,#75ff8a,#75ff8a,#75ff8a,#75ff8a)"></div><div style="top:214.00px;height:2.50px;background:linear-gradient(90deg,#75ff8a,#75ff8a,#75ff8a,#75ff8a,#75ff8a,#75ff8a,#75ff8a,#75ff8a,#75ff8a,#75ff8a,#75ff8a,#75ff8a,#75ff8a,#75ff8a,#75ff8a,#75ff8a,#75ff8a,#75ff8a,#75ff8a,#75ff8a,#75ff8a,#75ff8a,#75ff8a,#75ff8a,#4fffb0,#00c8ff,#00a5ff,#0094ff,#0086ff,#007eff,#007aff,#007cff,#0083ff,#008fff,#009eff,#00b0ff,#00c5ff,#00dcff,#00f5ff,#0ffff0,#2bffd4,#47ffb8,#65ff9a,#82ff7d,#9dff62,#b4ff4b,#c7ff38,#d7ff28,#e5ff1a,#f3ff0c,#fff900,#ffe500,#ffd200,#ffc000,#ffae00,#ff9d00,#ff8a00,#ff7600,#ff6000,#ff4500,#ff2700,#ff0600,#ff1200,#e4ff1b,#77ff88,#75ff8a,#75ff8a,#75ff8a,#75ff8a,#75ff8a,#75ff8a,#75ff8a,#75ff8a,#75ff8a,#75ff8a,#75ff8a,#75ff8a,#75ff8a,#75ff8a,#75ff8a,#75ff8a,#75ff8a,#75ff8a,#75ff8a,#75ff8a,#75ff8a,#75ff8a,#75ff8a)"></div><div style="top:216.00px;height:2.50px;background:linear-gradient(90deg,#75ff8a,#75ff8a,#75ff8a,#75ff8a,#75ff8a,#75ff8a,#75ff8a,#75ff8a,#75ff8a,#75ff8a,#75ff8a,#75ff8a,#75ff8a,#75ff8a,#75ff8a,#75ff8a,#75ff8a,#75ff8a,#75ff8a,#75ff8a,#75ff8a,#75ff8a,#75ff8a,#75ff8a,#75ff8a,#4effb1,#00ceff,#00acff,#00a1ff,#0098ff,#0095ff,#0097ff,#009eff,#00a8ff,#00b7ff,#00c8ff,#00dcff,#00f2ff,#0afff5,#24ffdb,#3fffc0,#5effa1,#7dff82,#9cff63,#b8ff47,#d1ff2e,#e5ff1a,#f4ff0b,#fffc00,#ffee00,#ffdd00,#ffc900,#ffb600,#ffa300,#ff9200,#ff8000,#ff6d00,#ff5900,#ff4100,#ff2700,#ff0c00,#ff2300,#e1ff1e,#77ff88,#75ff8a,#75ff8a,#75ff8a,#75ff8a,#75ff8a,#75ff8a,#75ff8a,#75ff8a,#75ff8a,#75ff8a,#75ff8a,#75ff8a,#75ff8a,#75ff8a,#75ff8a,#75ff8a,#75ff8a,#75ff8a,#75ff8a,#75ff8a,#75ff8a,#75ff8a,#75ff8a,#75ff8a)"></div><div style="top:218.00px;height:2.50px;background:linear-gradient(90deg,#75ff8a,#75ff8a,#75ff8a,#75ff8a,#75ff8a,#75ff8a,#75ff8a,#75ff8a,#75ff8a,#75ff8a,#75ff8a,#75ff8a,#75ff8a,#75ff8a,#75ff8a,#75ff8a,#75ff8a,#75ff8a,#75ff8a,#75ff8a,#75ff8a,#75ff8a,#75ff8a,#75ff8a,#75ff8a,#75ff8a,#55ffaa,#00deff,#00b9ff,#00b4ff,#00b1ff,#00b3ff,#00b9ff,#00c3ff,#00d1ff,#00e1ff,#00f4ff,#0afff5,#21ffde,#3affc5,#56ffa9,#75ff8a,#97ff68,#b8ff47,#d6ff29,#f0ff0f,#fff900,#ffe900,#ffdc00,#ffce00,#ffbd00,#ffa900,#ff9700,#ff8500,#ff7300,#ff6100,#ff4e00,#ff3a00,#ff2300,#ff0e00,#ff3f00,#cfff30,#77ff88,#75ff8a,#75ff8a,#75ff8a,#75ff8a,#75ff8a,#75ff8a,#75ff8a,#75ff8a,#75ff8a,#75ff8a,#75ff8a,#75ff8a,#75ff8a,#75ff8a,#75ff8a,#75ff8a,#75ff8a,#75ff8a,#75ff8a,#75ff8a,#75ff8a,#75ff8a,#75ff8a,#75ff8a,#75ff8a)"></div><div style="top:220.00px;height:2.50px;background:linear-gradient(90deg,#75ff8a,#75ff8a,#75ff8a,#75ff8a,#75ff8a,#75ff8a,#75ff8a,#75ff8a,#75ff8a,#75ff8a,#75ff8a,#75ff8a,#75ff8a,#75ff8a,#75ff8a,#75ff8a,#75ff8a,#75ff8a,#75ff8a,#75ff8a,#75ff8a,#75ff8a,#75ff8a,#75ff8a,#75ff8a,#75ff8a,#75ff8a,#61ff9e,#00ffff,#00cdff,#00cdff,#00cfff,#00d5ff,#00deff,#00ebff,#00fbff,#0efff1,#23ffdc,#39ffc6,#51ffae,#6eff91,#8fff70,#b3ff4c,#d6ff29,#f6ff09,#ffed00,#ffd800,#ffc700,#ffb900,#ffaa00,#ff9900,#ff8700,#ff7500,#ff6400,#ff5300,#ff4200,#ff2f00,#ff1b00,#ff0f00,#ff6a00,#b0ff4f,#76ff89,#75ff8a,#75ff8a,#75ff8a,#75ff8a,#75ff8a,#75ff8a,#75ff8a,#75ff8a,#75ff8a,#75ff8a,#75ff8a,#75ff8a,#75ff8a,#75ff8a,#75ff8a,#75ff8a,#75ff8a,#75ff8a,#75ff8a,#75ff8a,#75ff8a,#75ff8a,#75ff8a,#75ff8a,#75ff8a,#75ff8a)"></div><div style="top:222.00px;height:2.50px;background:linear-gradient(90deg,#75ff8a,#75ff8a,#75ff8a,#75ff8a,#75ff8a,#75ff8a,#75ff8a,#75ff8a,#75ff8a,#75ff8a,#75ff8a,#75ff8a,#75ff8a,#75ff8a,#75ff8a,#75ff8a,#75ff8a,#75ff8a,#75ff8a,#75ff8a,#75ff8a,#75ff8a,#75ff8a,#75ff8a,#75ff8a,#75ff8a,#75ff8a,#75ff8a,#6eff91,#2dffd2,#00ecff,#00eaff,#00f1ff,#00fbff,#08fff7,#18ffe7,#29ffd6,#3dffc2,#53ffac,#6bff94,#87ff78,#aaff55,#d1ff2e,#f7ff08,#ffe700,#ffcc00,#ffb600,#ffa400,#ff9400,#ff8400,#ff7300,#ff6300,#ff5200,#ff4300,#ff3200,#ff2100,#ff1200,#ff2300,#ffbe00,#91ff6e,#76ff89,#75ff8a,#75ff8a,#75ff8a,#75ff8a,#75ff8a,#75ff8a,#75ff8a,#75ff8a,#75ff8a,#75ff8a,#75ff8a,#75ff8a,#75ff8a,#75ff8a,#75ff8a,#75ff8a,#75ff8a,#75ff8a,#75ff8a,#75ff8a,#75ff8a,#75ff8a,#75ff8a,#75ff8a,#75ff8a,#75ff8a,#75ff8a)"></div><div style="top:224.00px;height:2.50px;background:linear-gradient(90deg,#75ff8a,#75ff8a,#75ff8a,#75ff8a,#75ff8a,#75ff8a,#75ff8a,#75ff8a,#75ff8a,#75ff8a,#75ff8a,#75ff8a,#75ff8a,#75ff8a,#75ff8a,#75ff8a,#75ff8a,#75ff8a,#75ff8a,#75ff8a,#75ff8a,#75ff8a,#75ff8a,#75ff8a,#75ff8a,#75ff8a,#75ff8a,#75ff8a,#75ff8a,#74ff8b,#58ffa7,#1bffe4,#0bfff4,#17ffe8,#25ffda,#34ffcb,#45ffba,#59ffa6,#6fff90,#88ff77,#a4ff5b,#c8ff37,#f2ff0d,#ffe600,#ffc500,#ffaa00,#ff9400,#ff8100,#ff7000,#ff5e00,#ff4d00,#ff3d00,#ff2f00,#ff2000,#ff1300,#ff1300,#ff6400,#d6ff29,#7cff83,#75ff8a,#75ff8a,#75ff8a,#75ff8a,#75ff8a,#75ff8a,#75ff8a,#75ff8a,#75ff8a,#75ff8a,#75ff8a,#75ff8a,#75ff8a,#75ff8a,#75ff8a,#75ff8a,#75ff8a,#75ff8a,#75ff8a,#75ff8a,#75ff8a,#75ff8a,#75ff8a,#75ff8a,#75ff8a,#75ff8a,#75ff8a,#75ff8a,#75ff8a)"></div><div style="top:226.00px;height:2.50px;background:linear-gradient(90deg,#75ff8a,#75ff8a,#75ff8a,#75ff8a,#75ff8a,#75ff8a,#75ff8a,#75ff8a,#75ff8a,#75ff8a,#75ff8a,#75ff8a,#75ff8a,#75ff8a,#75ff8a,#75ff8a,#75ff8a,#75ff8a,#75ff8a,#75ff8a,#75ff8a,#75ff8a,#75ff8a,#75ff8a,#75ff8a,#75ff8a,#75ff8a,#75ff8a,#75ff8a,#75ff8a,#75ff8a,#70ff8f,#53ffac,#37ffc8,#3cffc3,#4fffb0,#63ff9c,#77ff88,#8dff72,#a7ff58,#c5ff3a,#eaff15,#ffe900,#ffc300,#ffa400,#ff8a00,#ff7300,#ff5f00,#ff4c00,#ff3900,#ff2800,#ff1a00,#ff1000,#ff1200,#ff5100,#fff200,#91ff6e,#76ff89,#75ff8a,#75ff8a,#75ff8a,#75ff8a,#75ff8a,#75ff8a,#75ff8a,#75ff8a,#75ff8a,#75ff8a,#75ff8a,#75ff8a,#75ff8a,#75ff8a,#75ff8a,#75ff8a,#75ff8a,#75ff8a,#75ff8a,#75ff8a,#75ff8a,#75ff8a,#75ff8a,#75ff8a,#75ff8a,#75ff8a,#75ff8a,#75ff8a,#75ff8a,#75ff8a)"></div><div style="top:228.00px;height:2.50px;background:linear-gradient(90deg,#75ff8a,#75ff8a,#75ff8a,#75ff8a,#75ff8a,#75ff8a,#75ff8a,#75ff8a,#75ff8a,#75ff8a,#75ff8a,#75ff8a,#75ff8a,#75ff8a,#75ff8a,#75ff8a,#75ff8a,#75ff8a,#75ff8a,#75ff8a,#75ff8a,#75ff8a,#75ff8a,#75ff8a,#75ff8a,#75ff8a,#75ff8a,#75ff8a,#75ff8a,#75ff8a,#75ff8a,#75ff8a,#75ff8a,#70ff8f,#65ff9a,#63ff9c,#75ff8a,#8fff70,#aaff55,#c7ff38,#e7ff18,#fff100,#ffc700,#ffa100,#ff8300,#ff6a00,#ff5300,#ff3e00,#ff2b00,#ff1b00,#ff1200,#ff2800,#ff6c00,#fffe00,#98ff67,#78ff87,#75ff8a,#75ff8a,#75ff8a,#75ff8a,#75ff8a,#75ff8a,#75ff8a,#75ff8a,#75ff8a,#75ff8a,#75ff8a,#75ff8a,#75ff8a,#75ff8a,#75ff8a,#75ff8a,#75ff8a,#75ff8a,#75ff8a,#75ff8a,#75ff8a,#75ff8a,#75ff8a,#75ff8a,#75ff8a,#75ff8a,#75ff8a,#75ff8a,#75ff8a,#75ff8a,#75ff8a,#75ff8a)"></div><div style="top:230.00px;height:2.50px;background:linear-gradient(90deg,#75ff8a,#75ff8a,#75ff8a,#75ff8a,#75ff8a,#75ff8a,#75ff8a,#75ff8a,#75ff8a,#75ff8a,#75ff8a,#75ff8a,#75ff8a,#75ff8a,#75ff8a,#75ff8a,#75ff8a,#75ff8a,#75ff8a,#75ff8a,#75ff8a,#75ff8a,#75ff8a,#75ff8a,#75ff8a,#75ff8a,#75ff8a,#75ff8a,#75ff8a,#75ff8a,#75ff8a,#75ff8a,#75ff8a,#75ff8a,#75ff8a,#75ff8a,#76ff89,#82ff7d,#9fff60,#c4ff3b,#edff12,#ffe200,#ffb400,#ff8f00,#ff7100,#ff5a00,#ff4b00,#ff4e00,#ff5e00,#ff8700,#ffe400,#beff41,#85ff7a,#77ff88,#75ff8a,#75ff8a,#75ff8a,#75ff8a,#75ff8a,#75ff8a,#75ff8a,#75ff8a,#75ff8a,#75ff8a,#75ff8a,#75ff8a,#75ff8a,#75ff8a,#75ff8a,#75ff8a,#75ff8a,#75ff8a,#75ff8a,#75ff8a,#75ff8a,#75ff8a,#75ff8a,#75ff8a,#75ff8a,#75ff8a,#75ff8a,#75ff8a,#75ff8a,#75ff8a,#75ff8a,#75ff8a,#75ff8a,#75ff8a)"></div><div style="top:232.00px;height:2.50px;background:linear-gradient(90deg,#75ff8a,#75ff8a,#75ff8a,#75ff8a,#75ff8a,#75ff8a,#75ff8a,#75ff8a,#75ff8a,#75ff8a,#75ff8a,#75ff8a,#75ff8a,#75ff8a,#75ff8a,#75ff8a,#75ff8a,#75ff8a,#75ff8a,#75ff8a,#75ff8a,#75ff8a,#75ff8a,#75ff8a,#75ff8a,#75ff8a,#75ff8a,#75ff8a,#75ff8a,#75ff8a,#75ff8a,#75ff8a,#75ff8a,#75ff8a,#75ff8a,#75ff8a,#75ff8a,#76ff89,#77ff88,#7eff81,#8cff73,#9eff61,#b7ff48,#cdff32,#d8ff27,#d4ff2b,#c4ff3b,#b3ff4c,#98ff67,#7eff81,#78ff87,#75ff8a,#75ff8a,#75ff8a,#75ff8a,#75ff8a,#75ff8a,#75ff8a,#75ff8a,#75ff8a,#75ff8a,#75ff8a,#75ff8a,#75ff8a,#75ff8a,#75ff8a,#75ff8a,#75ff8a,#75ff8a,#75ff8a,#75ff8a,#75ff8a,#75ff8a,#75ff8a,#75ff8a,#75ff8a,#75ff8a,#75ff8a,#75ff8a,#75ff8a,#75ff8a,#75ff8a,#75ff8a,#75ff8a,#75ff8a,#75ff8a,#75ff8a,#75ff8a)"></div><div style="top:234.00px;height:2.50px;background:linear-gradient(90deg,#75ff8a,#75ff8a,#75ff8a,#75ff8a,#75ff8a,#75ff8a,#75ff8a,#75ff8a,#75ff8a,#75ff8a,#75ff8a,#75ff8a,#75ff8a,#75ff8a,#75ff8a,#75ff8a,#75ff8a,#75ff8a,#75ff8a,#75ff8a,#75ff8a,#75ff8a,#75ff8a,#75ff8a,#75ff8a,#75ff8a,#75ff8a,#75ff8a,#75ff8a,#75ff8a,#75ff8a,#75ff8a,#75ff8a,#75ff8a,#75ff8a,#75ff8a,#75ff8a,#75ff8a,#75ff8a,#75ff8a,#75ff8a,#75ff8a,#76ff89,#76ff89,#77ff88,#76ff89,#75ff8a,#75ff8a,#75ff8a,#75ff8a,#75ff8a,#75ff8a,#75ff8a,#75ff8a,#75ff8a,#75ff8a,#75ff8a,#75ff8a,#75ff8a,#75ff8a,#75ff8a,#75ff8a,#75ff8a,#75ff8a,#75ff8a,#75ff8a,#75ff8a,#75ff8a,#75ff8a,#75ff8a,#75ff8a,#75ff8a,#75ff8a,#75ff8a,#75ff8a,#75ff8a,#75ff8a,#75ff8a,#75ff8a,#75ff8a,#75ff8a,#75ff8a,#75ff8a,#75ff8a,#75ff8a,#75ff8a,#75ff8a,#75ff8a)"></div><div style="top:236.00px;height:2.50px;background:linear-gradient(90deg,#75ff8a,#75ff8a,#75ff8a,#75ff8a,#75ff8a,#75ff8a,#75ff8a,#75ff8a,#75ff8a,#75ff8a,#75ff8a,#75ff8a,#75ff8a,#75ff8a,#75ff8a,#75ff8a,#75ff8a,#75ff8a,#75ff8a,#75ff8a,#75ff8a,#75ff8a,#75ff8a,#75ff8a,#75ff8a,#75ff8a,#75ff8a,#75ff8a,#75ff8a,#75ff8a,#75ff8a,#75ff8a,#75ff8a,#75ff8a,#75ff8a,#75ff8a,#75ff8a,#75ff8a,#75ff8a,#75ff8a,#75ff8a,#75ff8a,#75ff8a,#75ff8a,#75ff8a,#75ff8a,#75ff8a,#75ff8a,#75ff8a,#75ff8a,#75ff8a,#75ff8a,#75ff8a,#75ff8a,#75ff8a,#75ff8a,#75ff8a,#75ff8a,#75ff8a,#75ff8a,#75ff8a,#75ff8a,#75ff8a,#75ff8a,#75ff8a,#75ff8a,#75ff8a,#75ff8a,#75ff8a,#75ff8a,#75ff8a,#75ff8a,#75ff8a,#75ff8a,#75ff8a,#75ff8a,#75ff8a,#75ff8a,#75ff8a,#75ff8a,#75ff8a,#75ff8a,#75ff8a,#75ff8a,#75ff8a,#75ff8a,#75ff8a,#75ff8a)"></div><div style="top:238.00px;height:2.50px;background:linear-gradient(90deg,#75ff8a,#75ff8a,#75ff8a,#75ff8a,#75ff8a,#75ff8a,#75ff8a,#75ff8a,#75ff8a,#75ff8a,#75ff8a,#75ff8a,#75ff8a,#75ff8a,#75ff8a,#75ff8a,#75ff8a,#75ff8a,#75ff8a,#75ff8a,#75ff8a,#75ff8a,#75ff8a,#75ff8a,#75ff8a,#75ff8a,#75ff8a,#75ff8a,#75ff8a,#75ff8a,#75ff8a,#75ff8a,#75ff8a,#75ff8a,#75ff8a,#75ff8a,#75ff8a,#75ff8a,#75ff8a,#75ff8a,#75ff8a,#75ff8a,#75ff8a,#75ff8a,#75ff8a,#75ff8a,#75ff8a,#75ff8a,#75ff8a,#75ff8a,#75ff8a,#75ff8a,#75ff8a,#75ff8a,#75ff8a,#75ff8a,#75ff8a,#75ff8a,#75ff8a,#75ff8a,#75ff8a,#75ff8a,#75ff8a,#75ff8a,#75ff8a,#75ff8a,#75ff8a,#75ff8a,#75ff8a,#75ff8a,#75ff8a,#75ff8a,#75ff8a,#75ff8a,#75ff8a,#75ff8a,#75ff8a,#75ff8a,#75ff8a,#75ff8a,#75ff8a,#75ff8a,#75ff8a,#75ff8a,#75ff8a,#75ff8a,#75ff8a,#75ff8a)"></div><div style="top:240.00px;height:2.50px;background:linear-gradient(90deg,#75ff8a,#75ff8a,#75ff8a,#75ff8a,#75ff8a,#75ff8a,#75ff8a,#75ff8a,#75ff8a,#75ff8a,#75ff8a,#75ff8a,#75ff8a,#75ff8a,#75ff8a,#75ff8a,#75ff8a,#75ff8a,#75ff8a,#75ff8a,#75ff8a,#75ff8a,#75ff8a,#75ff8a,#75ff8a,#75ff8a,#75ff8a,#75ff8a,#75ff8a,#75ff8a,#75ff8a,#75ff8a,#75ff8a,#75ff8a,#75ff8a,#75ff8a,#75ff8a,#75ff8a,#75ff8a,#75ff8a,#75ff8a,#75ff8a,#75ff8a,#75ff8a,#75ff8a,#75ff8a,#75ff8a,#75ff8a,#75ff8a,#75ff8a,#75ff8a,#75ff8a,#75ff8a,#75ff8a,#75ff8a,#75ff8a,#75ff8a,#75ff8a,#75ff8a,#75ff8a,#75ff8a,#75ff8a,#75ff8a,#75ff8a,#75ff8a,#75ff8a,#75ff8a,#75ff8a,#75ff8a,#75ff8a,#75ff8a,#75ff8a,#75ff8a,#75ff8a,#75ff8a,#75ff8a,#75ff8a,#75ff8a,#75ff8a,#75ff8a,#75ff8a,#75ff8a,#75ff8a,#75ff8a,#75ff8a,#75ff8a,#75ff8a,#75ff8a)"></div><div style="top:242.00px;height:2.50px;background:linear-gradient(90deg,#75ff8a,#75ff8a,#75ff8a,#75ff8a,#75ff8a,#75ff8a,#75ff8a,#75ff8a,#75ff8a,#75ff8a,#75ff8a,#75ff8a,#75ff8a,#75ff8a,#75ff8a,#75ff8a,#75ff8a,#75ff8a,#75ff8a,#75ff8a,#75ff8a,#75ff8a,#75ff8a,#75ff8a,#75ff8a,#75ff8a,#75ff8a,#75ff8a,#75ff8a,#75ff8a,#75ff8a,#75ff8a,#75ff8a,#75ff8a,#75ff8a,#75ff8a,#75ff8a,#75ff8a,#75ff8a,#75ff8a,#75ff8a,#75ff8a,#75ff8a,#75ff8a,#75ff8a,#75ff8a,#75ff8a,#75ff8a,#75ff8a,#75ff8a,#75ff8a,#75ff8a,#75ff8a,#75ff8a,#75ff8a,#75ff8a,#75ff8a,#75ff8a,#75ff8a,#75ff8a,#75ff8a,#75ff8a,#75ff8a,#75ff8a,#75ff8a,#75ff8a,#75ff8a,#75ff8a,#75ff8a,#75ff8a,#75ff8a,#75ff8a,#75ff8a,#75ff8a,#75ff8a,#75ff8a,#75ff8a,#75ff8a,#75ff8a,#75ff8a,#75ff8a,#75ff8a,#75ff8a,#75ff8a,#75ff8a,#75ff8a,#75ff8a,#75ff8a)"></div><div style="top:244.00px;height:2.50px;background:linear-gradient(90deg,#75ff8a,#75ff8a,#75ff8a,#75ff8a,#75ff8a,#75ff8a,#75ff8a,#75ff8a,#75ff8a,#75ff8a,#75ff8a,#75ff8a,#75ff8a,#75ff8a,#75ff8a,#75ff8a,#75ff8a,#75ff8a,#75ff8a,#75ff8a,#75ff8a,#75ff8a,#75ff8a,#75ff8a,#75ff8a,#75ff8a,#75ff8a,#75ff8a,#75ff8a,#75ff8a,#75ff8a,#75ff8a,#75ff8a,#75ff8a,#75ff8a,#75ff8a,#75ff8a,#75ff8a,#75ff8a,#75ff8a,#75ff8a,#75ff8a,#75ff8a,#75ff8a,#75ff8a,#75ff8a,#75ff8a,#75ff8a,#75ff8a,#75ff8a,#75ff8a,#75ff8a,#75ff8a,#75ff8a,#75ff8a,#75ff8a,#75ff8a,#75ff8a,#75ff8a,#75ff8a,#75ff8a,#75ff8a,#75ff8a,#75ff8a,#75ff8a,#75ff8a,#75ff8a,#75ff8a,#75ff8a,#75ff8a,#75ff8a,#75ff8a,#75ff8a,#75ff8a,#75ff8a,#75ff8a,#75ff8a,#75ff8a,#75ff8a,#75ff8a,#75ff8a,#75ff8a,#75ff8a,#75ff8a,#75ff8a,#75ff8a,#75ff8a,#75ff8a)"></div><div style="top:246.00px;height:2.50px;background:linear-gradient(90deg,#75ff8a,#75ff8a,#75ff8a,#75ff8a,#75ff8a,#75ff8a,#75ff8a,#75ff8a,#75ff8a,#75ff8a,#75ff8a,#75ff8a,#75ff8a,#75ff8a,#75ff8a,#75ff8a,#75ff8a,#75ff8a,#75ff8a,#75ff8a,#75ff8a,#75ff8a,#75ff8a,#75ff8a,#75ff8a,#75ff8a,#75ff8a,#75ff8a,#75ff8a,#75ff8a,#75ff8a,#75ff8a,#75ff8a,#75ff8a,#75ff8a,#75ff8a,#75ff8a,#75ff8a,#75ff8a,#75ff8a,#75ff8a,#75ff8a,#75ff8a,#75ff8a,#75ff8a,#75ff8a,#75ff8a,#75ff8a,#75ff8a,#75ff8a,#75ff8a,#75ff8a,#75ff8a,#75ff8a,#75ff8a,#75ff8a,#75ff8a,#75ff8a,#75ff8a,#75ff8a,#75ff8a,#75ff8a,#75ff8a,#75ff8a,#75ff8a,#75ff8a,#75ff8a,#75ff8a,#75ff8a,#75ff8a,#75ff8a,#75ff8a,#75ff8a,#75ff8a,#75ff8a,#75ff8a,#75ff8a,#75ff8a,#75ff8a,#75ff8a,#75ff8a,#75ff8a,#75ff8a,#75ff8a,#75ff8a,#75ff8a,#75ff8a,#75ff8a)"></div><div style="top:248.00px;height:2.50px;background:linear-gradient(90deg,#75ff8a,#75ff8a,#75ff8a,#75ff8a,#75ff8a,#75ff8a,#75ff8a,#75ff8a,#75ff8a,#75ff8a,#75ff8a,#75ff8a,#75ff8a,#75ff8a,#75ff8a,#75ff8a,#75ff8a,#75ff8a,#75ff8a,#75ff8a,#75ff8a,#75ff8a,#75ff8a,#75ff8a,#75ff8a,#75ff8a,#75ff8a,#75ff8a,#75ff8a,#75ff8a,#75ff8a,#75ff8a,#75ff8a,#75ff8a,#75ff8a,#75ff8a,#75ff8a,#75ff8a,#75ff8a,#75ff8a,#75ff8a,#75ff8a,#75ff8a,#75ff8a,#75ff8a,#75ff8a,#75ff8a,#75ff8a,#75ff8a,#75ff8a,#75ff8a,#75ff8a,#75ff8a,#75ff8a,#75ff8a,#75ff8a,#75ff8a,#75ff8a,#75ff8a,#75ff8a,#75ff8a,#75ff8a,#75ff8a,#75ff8a,#75ff8a,#75ff8a,#75ff8a,#75ff8a,#75ff8a,#75ff8a,#75ff8a,#75ff8a,#75ff8a,#75ff8a,#75ff8a,#75ff8a,#75ff8a,#75ff8a,#75ff8a,#75ff8a,#75ff8a,#75ff8a,#75ff8a,#75ff8a,#75ff8a,#75ff8a,#75ff8a,#75ff8a)"></div><div style="top:250.00px;height:2.50px;background:linear-gradient(90deg,#75ff8a,#75ff8a,#75ff8a,#75ff8a,#75ff8a,#75ff8a,#75ff8a,#75ff8a,#75ff8a,#75ff8a,#75ff8a,#75ff8a,#75ff8a,#75ff8a,#75ff8a,#75ff8a,#75ff8a,#75ff8a,#75ff8a,#75ff8a,#75ff8a,#75ff8a,#75ff8a,#75ff8a,#75ff8a,#75ff8a,#75ff8a,#75ff8a,#75ff8a,#75ff8a,#75ff8a,#75ff8a,#75ff8a,#75ff8a,#75ff8a,#75ff8a,#75ff8a,#75ff8a,#75ff8a,#75ff8a,#75ff8a,#75ff8a,#75ff8a,#75ff8a,#75ff8a,#75ff8a,#75ff8a,#75ff8a,#75ff8a,#75ff8a,#75ff8a,#75ff8a,#75ff8a,#75ff8a,#75ff8a,#75ff8a,#75ff8a,#75ff8a,#75ff8a,#75ff8a,#75ff8a,#75ff8a,#75ff8a,#75ff8a,#75ff8a,#75ff8a,#75ff8a,#75ff8a,#75ff8a,#75ff8a,#75ff8a,#75ff8a,#75ff8a,#75ff8a,#75ff8a,#75ff8a,#75ff8a,#75ff8a,#75ff8a,#75ff8a,#75ff8a,#75ff8a,#75ff8a,#75ff8a,#75ff8a,#75ff8a,#75ff8a,#75ff8a)"></div><div style="top:252.00px;height:2.50px;background:linear-gradient(90deg,#75ff8a,#75ff8a,#75ff8a,#75ff8a,#75ff8a,#75ff8a,#75ff8a,#75ff8a,#75ff8a,#75ff8a,#75ff8a,#75ff8a,#75ff8a,#75ff8a,#75ff8a,#75ff8a,#75ff8a,#75ff8a,#75ff8a,#75ff8a,#75ff8a,#75ff8a,#75ff8a,#75ff8a,#75ff8a,#75ff8a,#75ff8a,#75ff8a,#75ff8a,#75ff8a,#75ff8a,#75ff8a,#75ff8a,#75ff8a,#75ff8a,#75ff8a,#75ff8a,#75ff8a,#75ff8a,#75ff8a,#75ff8a,#75ff8a,#75ff8a,#75ff8a,#75ff8a,#75ff8a,#75ff8a,#75ff8a,#75ff8a,#75ff8a,#75ff8a,#75ff8a,#75ff8a,#75ff8a,#75ff8a,#75ff8a,#75ff8a,#75ff8a,#75ff8a,#75ff8a,#75ff8a,#75ff8a,#75ff8a,#75ff8a,#75ff8a,#75ff8a,#75ff8a,#75ff8a,#75ff8a,#75ff8a,#75ff8a,#75ff8a,#75ff8a,#75ff8a,#75ff8a,#75ff8a,#75ff8a,#75ff8a,#75ff8a,#75ff8a,#75ff8a,#75ff8a,#75ff8a,#75ff8a,#75ff8a,#75ff8a,#75ff8a,#75ff8a)"></div><div style="top:254.00px;height:2.50px;background:linear-gradient(90deg,#75ff8a,#75ff8a,#75ff8a,#75ff8a,#75ff8a,#75ff8a,#75ff8a,#75ff8a,#75ff8a,#75ff8a,#75ff8a,#75ff8a,#75ff8a,#75ff8a,#75ff8a,#75ff8a,#75ff8a,#75ff8a,#75ff8a,#75ff8a,#75ff8a,#75ff8a,#75ff8a,#75ff8a,#75ff8a,#75ff8a,#75ff8a,#75ff8a,#75ff8a,#75ff8a,#75ff8a,#75ff8a,#75ff8a,#75ff8a,#75ff8a,#75ff8a,#75ff8a,#75ff8a,#75ff8a,#75ff8a,#75ff8a,#75ff8a,#75ff8a,#75ff8a,#75ff8a,#75ff8a,#75ff8a,#75ff8a,#75ff8a,#75ff8a,#75ff8a,#75ff8a,#75ff8a,#75ff8a,#75ff8a,#75ff8a,#75ff8a,#75ff8a,#75ff8a,#75ff8a,#75ff8a,#75ff8a,#75ff8a,#75ff8a,#75ff8a,#75ff8a,#75ff8a,#75ff8a,#75ff8a,#75ff8a,#75ff8a,#75ff8a,#75ff8a,#75ff8a,#75ff8a,#75ff8a,#75ff8a,#75ff8a,#75ff8a,#75ff8a,#75ff8a,#75ff8a,#75ff8a,#75ff8a,#75ff8a,#75ff8a,#75ff8a,#75ff8a)"></div><div style="top:256.00px;height:2.50px;background:linear-gradient(90deg,#75ff8a,#75ff8a,#75ff8a,#75ff8a,#75ff8a,#75ff8a,#75ff8a,#75ff8a,#75ff8a,#75ff8a,#75ff8a,#75ff8a,#75ff8a,#75ff8a,#75ff8a,#75ff8a,#75ff8a,#75ff8a,#75ff8a,#75ff8a,#75ff8a,#75ff8a,#75ff8a,#75ff8a,#75ff8a,#75ff8a,#75ff8a,#75ff8a,#75ff8a,#75ff8a,#75ff8a,#75ff8a,#75ff8a,#75ff8a,#75ff8a,#75ff8a,#75ff8a,#75ff8a,#75ff8a,#75ff8a,#75ff8a,#75ff8a,#75ff8a,#75ff8a,#75ff8a,#75ff8a,#75ff8a,#75ff8a,#75ff8a,#75ff8a,#75ff8a,#75ff8a,#75ff8a,#75ff8a,#75ff8a,#75ff8a,#75ff8a,#75ff8a,#75ff8a,#75ff8a,#75ff8a,#75ff8a,#75ff8a,#75ff8a,#75ff8a,#75ff8a,#75ff8a,#75ff8a,#75ff8a,#75ff8a,#75ff8a,#75ff8a,#75ff8a,#75ff8a,#75ff8a,#75ff8a,#75ff8a,#75ff8a,#75ff8a,#75ff8a,#75ff8a,#75ff8a,#75ff8a,#75ff8a,#75ff8a,#75ff8a,#75ff8a,#75ff8a)"></div><div style="top:258.00px;height:2.50px;background:linear-gradient(90deg,#75ff8a,#75ff8a,#75ff8a,#75ff8a,#75ff8a,#75ff8a,#75ff8a,#75ff8a,#75ff8a,#75ff8a,#75ff8a,#75ff8a,#75ff8a,#75ff8a,#75ff8a,#75ff8a,#75ff8a,#75ff8a,#75ff8a,#75ff8a,#75ff8a,#75ff8a,#75ff8a,#75ff8a,#75ff8a,#75ff8a,#75ff8a,#75ff8a,#75ff8a,#75ff8a,#75ff8a,#75ff8a,#75ff8a,#75ff8a,#75ff8a,#75ff8a,#75ff8a,#75ff8a,#75ff8a,#75ff8a,#75ff8a,#75ff8a,#75ff8a,#75ff8a,#75ff8a,#75ff8a,#75ff8a,#75ff8a,#75ff8a,#75ff8a,#75ff8a,#75ff8a,#75ff8a,#75ff8a,#75ff8a,#75ff8a,#75ff8a,#75ff8a,#75ff8a,#75ff8a,#75ff8a,#75ff8a,#75ff8a,#75ff8a,#75ff8a,#75ff8a,#75ff8a,#75ff8a,#75ff8a,#75ff8a,#75ff8a,#75ff8a,#75ff8a,#75ff8a,#75ff8a,#75ff8a,#75ff8a,#75ff8a,#75ff8a,#75ff8a,#75ff8a,#75ff8a,#75ff8a,#75ff8a,#75ff8a,#75ff8a,#75ff8a,#75ff8a)"></div></div></div><div class="img" style="left:917.50px;top:481.30px;width:261.50px;height:261.60px"><div class="rows" style="filter:blur(1.0px);"><div style="top:0.00px;height:2.51px;background:linear-gradient(90deg,#00009e,#00009e,#00009e,#00009f,#0000a1,#0000a4,#0000a7,#0000aa,#0000ac,#0000af,#0000b1,#0000b4,#0000b7,#0000b9,#0000bc,#0000be,#0000c1,#0000c3,#0000c5,#0000c8,#0000ca,#0000cd,#0000cf,#0000d2,#0000d4,#0000d7,#0000d9,#0000dc,#0000df,#0000e1,#0000e4,#0000e7,#0000ea,#0000ec,#0000ef,#0000f2,#0000f4,#0000f7,#0000f9,#0000fb,#0000fd,#0000fe,#0001ff,#0002ff,#0002ff,#0002ff,#0002ff,#0001ff,#0000ff,#0000fe,#0000fc,#0000fa,#0000f8,#0000f6,#0000f4,#0000f1,#0000ee,#0000eb,#0000e9,#0000e6,#0000e3,#0000e0,#0000dd,#0000da,#0000d7,#0000d4,#0000d1,#0000ce,#0000cc,#0000c9,#0000c6,#0000c4,#0000c1,#0000be,#0000bc,#0000b9,#0000b7,#0000b4,#0000b1,#0000af,#0000ac,#0000a9,#0000a7,#0000a4,#0000a1,#00009f,#00009e,#00009e)"></div><div style="top:2.01px;height:2.51px;background:linear-gradient(90deg,#00009e,#00009e,#00009f,#0000a1,#0000a3,#0000a6,#0000a9,#0000ab,#0000ae,#0000b1,#0000b3,#0000b6,#0000b9,#0000bb,#0000be,#0000c0,#0000c3,#0000c5,#0000c8,#0000ca,#0000cd,#0000d0,#0000d2,#0000d5,#0000d7,#0000da,#0000dd,#0000e0,#0000e3,#0000e6,#0000e9,#0000ec,#0000ef,#0000f2,#0000f5,#0000f8,#0000fb,#0000fd,#0001ff,#0003ff,#0005ff,#0007ff,#0008ff,#000aff,#000aff,#000aff,#000aff,#0009ff,#0008ff,#0006ff,#0005ff,#0003ff,#0000ff,#0000fd,#0000fa,#0000f7,#0000f4,#0000f1,#0000ee,#0000eb,#0000e8,#0000e4,#0000e1,#0000de,#0000db,#0000d8,#0000d4,#0000d1,#0000cf,#0000cc,#0000c9,#0000c6,#0000c3,#0000c1,#0000be,#0000bb,#0000b9,#0000b6,#0000b3,#0000b1,#0000ae,#0000ab,#0000a9,#0000a6,#0000a3,#0000a0,#00009f,#00009e)"></div><div style="top:4.02px;height:2.51px;background:linear-gradient(90deg,#00009e,#00009f,#0000a0,#0000a2,#0000a5,#0000a8,#0000ab,#0000ae,#0000b0,#0000b3,#0000b6,#0000b8,#0000bb,#0000be,#0000c0,#0000c3,#0000c6,#0000c8,#0000cb,#0000cd,#0000d0,#0000d3,#0000d6,#0000d8,#0000db,#0000de,#0000e2,#0000e5,#0000e8,#0000eb,#0000ef,#0000f2,#0000f6,#0000f9,#0000fc,#0000ff,#0004ff,#0007ff,#0009ff,#000cff,#000eff,#0010ff,#0012ff,#0013ff,#0014ff,#0014ff,#0014ff,#0013ff,#0012ff,#0010ff,#000eff,#000cff,#0009ff,#0007ff,#0004ff,#0000ff,#0000fc,#0000f9,#0000f5,#0000f2,#0000ee,#0000ea,#0000e7,#0000e3,#0000df,#0000dc,#0000d9,#0000d5,#0000d2,#0000cf,#0000cc,#0000c9,#0000c6,#0000c3,#0000c1,#0000be,#0000bb,#0000b8,#0000b6,#0000b3,#0000b0,#0000ae,#0000ab,#0000a8,#0000a5,#0000a2,#0000a0,#00009f)"></div><div style="top:6.04px;height:2.51px;background:linear-gradient(90deg,#00009e,#00009f,#0000a2,#0000a4,#0000a7,#0000aa,#0000ad,#0000b0,#0000b3,#0000b5,#0000b8,#0000bb,#0000bd,#0000c0,#0000c3,#0000c6,#0000c8,#0000cb,#0000ce,#0000d1,#0000d4,#0000d7,#0000d9,#0000dc,#0000e0,#0000e3,#0000e6,#0000ea,#0000ee,#0000f1,#0000f5,#0000f9,#0000fd,#0002ff,#0005ff,#0009ff,#000cff,#0010ff,#0013ff,#0016ff,#0018ff,#001bff,#001dff,#001eff,#001fff,#001fff,#001fff,#001eff,#001cff,#001bff,#0019ff,#0016ff,#0013ff,#0010ff,#000dff,#0009ff,#0006ff,#0002ff,#0000fd,#0000f9,#0000f5,#0000f1,#0000ed,#0000e9,#0000e5,#0000e1,#0000dd,#0000da,#0000d6,#0000d3,#0000d0,#0000cc,#0000c9,#0000c6,#0000c3,#0000c1,#0000be,#0000bb,#0000b8,#0000b5,#0000b3,#0000b0,#0000ad,#0000aa,#0000a7,#0000a4,#0000a2,#0000a0)"></div><div style="top:8.05px;height:2.51px;background:linear-gradient(90deg,#00009f,#0000a1,#0000a3,#0000a6,#0000a9,#0000ac,#0000af,#0000b2,#0000b5,#0000b8,#0000ba,#0000bd,#0000c0,#0000c3,#0000c6,#0000c8,#0000cb,#0000ce,#0000d1,#0000d4,#0000d7,#0000da,#0000de,#0000e1,#0000e4,#0000e8,#0000ec,#0000f0,#0000f4,#0000f8,#0000fc,#0001ff,#0006ff,#000aff,#000eff,#0012ff,#0016ff,#001aff,#001dff,#0020ff,#0023ff,#0026ff,#0028ff,#002aff,#002bff,#002bff,#002bff,#002aff,#0028ff,#0026ff,#0024ff,#0021ff,#001eff,#001bff,#0017ff,#0013ff,#000fff,#000bff,#0007ff,#0002ff,#0000fd,#0000f8,#0000f3,#0000ef,#0000eb,#0000e6,#0000e2,#0000de,#0000da,#0000d7,#0000d3,#0000d0,#0000cd,#0000c9,#0000c6,#0000c3,#0000c0,#0000bd,#0000bb,#0000b8,#0000b5,#0000b2,#0000af,#0000ac,#0000a9,#0000a6,#0000a3,#0000a1)"></div><div style="top:10.06px;height:2.51px;background:linear-gradient(90deg,#0000a0,#0000a3,#0000a5,#0000a8,#0000ab,#0000ae,#0000b1,#0000b4,#0000b7,#0000ba,#0000bd,#0000c0,#0000c3,#0000c5,#0000c8,#0000cb,#0000ce,#0000d1,#0000d5,#0000d8,#0000db,#0000de,#0000e2,#0000e5,#0000e9,#0000ed,#0000f2,#0000f6,#0000fa,#0000ff,#0005ff,#0009ff,#000eff,#0013ff,#0017ff,#001cff,#0020ff,#0024ff,#0028ff,#002cff,#002fff,#0032ff,#0034ff,#0037ff,#0038ff,#0038ff,#0037ff,#0036ff,#0034ff,#0032ff,#0030ff,#002dff,#002aff,#0026ff,#0022ff,#001eff,#0019ff,#0015ff,#0010ff,#000bff,#0006ff,#0001ff,#0000fb,#0000f6,#0000f1,#0000ec,#0000e8,#0000e3,#0000df,#0000db,#0000d7,#0000d4,#0000d0,#0000cd,#0000c9,#0000c6,#0000c3,#0000c0,#0000bd,#0000ba,#0000b7,#0000b4,#0000b1,#0000ae,#0000ab,#0000a8,#0000a5,#0000a3)"></div><div style="top:12.07px;height:2.51px;background:linear-gradient(90deg,#0000a2,#0000a5,#0000a8,#0000ab,#0000ae,#0000b1,#0000b3,#0000b6,#0000b9,#0000bc,#0000bf,#0000c2,#0000c5,#0000c8,#0000cb,#0000ce,#0000d1,#0000d5,#0000d8,#0000dc,#0000df,#0000e3,#0000e7,#0000ea,#0000ef,#0000f3,#0000f8,#0000fd,#0003ff,#0008ff,#000dff,#0012ff,#0017ff,#001cff,#0021ff,#0026ff,#002bff,#002fff,#0034ff,#0038ff,#003bff,#003eff,#0041ff,#0044ff,#0045ff,#0045ff,#0044ff,#0043ff,#0041ff,#003fff,#003dff,#0039ff,#0036ff,#0032ff,#002eff,#0029ff,#0024ff,#001fff,#001aff,#0014ff,#000fff,#0009ff,#0004ff,#0000fd,#0000f8,#0000f3,#0000ee,#0000e9,#0000e4,#0000e0,#0000db,#0000d7,#0000d4,#0000d0,#0000cc,#0000c9,#0000c6,#0000c3,#0000bf,#0000bc,#0000b9,#0000b6,#0000b3,#0000b0,#0000ad,#0000aa,#0000a7,#0000a5)"></div><div style="top:14.09px;height:2.51px;background:linear-gradient(90deg,#0000a4,#0000a7,#0000aa,#0000ad,#0000b0,#0000b3,#0000b6,#0000b9,#0000bc,#0000bf,#0000c2,#0000c5,#0000c8,#0000cb,#0000ce,#0000d1,#0000d5,#0000d8,#0000dc,#0000e0,#0000e4,#0000e7,#0000ec,#0000f0,#0000f4,#0000f9,#0000fe,#0005ff,#000aff,#0010ff,#0015ff,#001bff,#0021ff,#0026ff,#002cff,#0031ff,#0036ff,#003bff,#0040ff,#0044ff,#0048ff,#004bff,#004eff,#0051ff,#0053ff,#0053ff,#0052ff,#0051ff,#004fff,#004dff,#004aff,#0046ff,#0043ff,#003fff,#003aff,#0035ff,#0030ff,#002aff,#0025ff,#001fff,#0019ff,#0013ff,#000dff,#0007ff,#0001ff,#0000fa,#0000f4,#0000ef,#0000ea,#0000e5,#0000e0,#0000dc,#0000d7,#0000d3,#0000d0,#0000cc,#0000c9,#0000c5,#0000c2,#0000bf,#0000bc,#0000b9,#0000b6,#0000b3,#0000b0,#0000ad,#0000a9,#0000a7)"></div><div style="top:16.10px;height:2.51px;background:linear-gradient(90deg,#0000a6,#0000a8,#0000ac,#0000af,#0000b2,#0000b5,#0000b8,#0000bb,#0000be,#0000c1,#0000c4,#0000c7,#0000ca,#0000ce,#0000d1,#0000d5,#0000d8,#0000dc,#0000e0,#0000e4,#0000e8,#0000ec,#0000f1,#0000f5,#0000fa,#0001ff,#0006ff,#000cff,#0012ff,#0018ff,#001eff,#0025ff,#002bff,#0031ff,#0037ff,#003cff,#0042ff,#0047ff,#004cff,#0050ff,#0055ff,#0058ff,#005cff,#005fff,#0060ff,#0061ff,#0060ff,#005fff,#005dff,#005aff,#0057ff,#0054ff,#0050ff,#004cff,#0047ff,#0042ff,#003cff,#0036ff,#0030ff,#002aff,#0023ff,#001dff,#0016ff,#000fff,#0009ff,#0002ff,#0000fb,#0000f5,#0000f0,#0000ea,#0000e5,#0000e0,#0000dc,#0000d7,#0000d3,#0000cf,#0000cc,#0000c8,#0000c5,#0000c1,#0000be,#0000bb,#0000b8,#0000b5,#0000b2,#0000af,#0000ac,#0000a9)"></div><div style="top:18.11px;height:2.51px;background:linear-gradient(90deg,#0000a8,#0000aa,#0000ae,#0000b1,#0000b4,#0000b7,#0000ba,#0000bd,#0000c0,#0000c3,#0000c7,#0000ca,#0000cd,#0000d1,#0000d4,#0000d8,#0000dc,#0000e0,#0000e4,#0000e9,#0000ed,#0000f2,#0000f7,#0000fc,#0002ff,#0008ff,#000eff,#0014ff,#001bff,#0021ff,#0028ff,#002eff,#0035ff,#003bff,#0042ff,#0048ff,#004eff,#0053ff,#0058ff,#005dff,#0062ff,#0066ff,#0069ff,#006cff,#006eff,#006fff,#006eff,#006cff,#006aff,#0068ff,#0065ff,#0061ff,#005dff,#0059ff,#0054ff,#004eff,#0049ff,#0042ff,#003cff,#0035ff,#002eff,#0027ff,#0020ff,#0019ff,#0012ff,#000bff,#0004ff,#0000fc,#0000f6,#0000f0,#0000ea,#0000e5,#0000e0,#0000db,#0000d7,#0000d3,#0000cf,#0000cb,#0000c7,#0000c4,#0000c1,#0000bd,#0000ba,#0000b7,#0000b4,#0000b1,#0000ae,#0000ab)"></div><div style="top:20.12px;height:2.51px;background:linear-gradient(90deg,#0000aa,#0000ac,#0000b0,#0000b3,#0000b6,#0000b9,#0000bc,#0000bf,#0000c3,#0000c6,#0000c9,#0000cd,#0000d0,#0000d4,#0000d8,#0000dc,#0000e0,#0000e4,#0000e9,#0000ee,#0000f2,#0000f7,#0000fd,#0003ff,#0009ff,#000fff,#0016ff,#001dff,#0024ff,#002bff,#0032ff,#0039ff,#0040ff,#0046ff,#004dff,#0053ff,#0059ff,#005fff,#0065ff,#006aff,#006eff,#0073ff,#0076ff,#007aff,#007cff,#007cff,#007bff,#007aff,#0078ff,#0076ff,#0073ff,#006fff,#006bff,#0066ff,#0061ff,#005cff,#0056ff,#004fff,#0048ff,#0041ff,#003aff,#0032ff,#002aff,#0023ff,#001bff,#0013ff,#000cff,#0005ff,#0000fd,#0000f6,#0000f0,#0000ea,#0000e5,#0000df,#0000db,#0000d6,#0000d2,#0000ce,#0000ca,#0000c6,#0000c3,#0000c0,#0000bc,#0000b9,#0000b6,#0000b3,#0000b0,#0000ad)"></div><div style="top:22.14px;height:2.51px;background:linear-gradient(90deg,#0000ac,#0000ae,#0000b2,#0000b5,#0000b8,#0000bb,#0000be,#0000c2,#0000c5,#0000c8,#0000cc,#0000cf,#0000d3,#0000d7,#0000db,#0000df,#0000e4,#0000e9,#0000ee,#0000f3,#0000f8,#0000fe,#0004ff,#000aff,#0010ff,#0017ff,#001eff,#0025ff,#002dff,#0034ff,#003cff,#0043ff,#004aff,#0051ff,#0058ff,#005fff,#0065ff,#006bff,#0071ff,#0076ff,#007bff,#007fff,#0083ff,#0087ff,#0089ff,#0089ff,#0088ff,#0087ff,#0085ff,#0083ff,#0080ff,#007cff,#0078ff,#0074ff,#006fff,#0069ff,#0063ff,#005cff,#0055ff,#004dff,#0046ff,#003eff,#0035ff,#002dff,#0025ff,#001dff,#0015ff,#000dff,#0005ff,#0000fd,#0000f6,#0000f0,#0000ea,#0000e4,#0000df,#0000da,#0000d5,#0000d1,#0000cd,#0000c9,#0000c6,#0000c2,#0000bf,#0000bb,#0000b8,#0000b5,#0000b2,#0000af)"></div><div style="top:24.15px;height:2.51px;background:linear-gradient(90deg,#0000ae,#0000b0,#0000b3,#0000b7,#0000ba,#0000bd,#0000c1,#0000c4,#0000c7,#0000cb,#0000cf,#0000d2,#0000d6,#0000da,#0000df,#0000e3,#0000e8,#0000ed,#0000f3,#0000f8,#0000fe,#0005ff,#000bff,#0011ff,#0018ff,#001fff,#0027ff,#002eff,#0036ff,#003eff,#0046ff,#004dff,#0055ff,#005cff,#0063ff,#006aff,#0070ff,#0076ff,#007cff,#0081ff,#0086ff,#008bff,#008fff,#0092ff,#0094ff,#0095ff,#0094ff,#0093ff,#0091ff,#008fff,#008cff,#0089ff,#0085ff,#0081ff,#007bff,#0076ff,#0070ff,#0069ff,#0062ff,#005aff,#0052ff,#004aff,#0041ff,#0038ff,#002fff,#0027ff,#001eff,#0015ff,#000dff,#0005ff,#0000fd,#0000f6,#0000ef,#0000e9,#0000e3,#0000de,#0000d9,#0000d4,#0000d0,#0000cc,#0000c8,#0000c4,#0000c1,#0000bd,#0000ba,#0000b7,#0000b3,#0000b1)"></div><div style="top:26.16px;height:2.51px;background:linear-gradient(90deg,#0000b0,#0000b2,#0000b5,#0000b9,#0000bc,#0000bf,#0000c3,#0000c6,#0000ca,#0000ce,#0000d1,#0000d5,#0000da,#0000de,#0000e3,#0000e8,#0000ed,#0000f2,#0000f8,#0000fe,#0005ff,#000cff,#0012ff,#0018ff,#0020ff,#0027ff,#002fff,#0037ff,#0040ff,#0048ff,#0050ff,#0057ff,#005fff,#0066ff,#006eff,#0074ff,#007bff,#0080ff,#0086ff,#008bff,#0090ff,#0094ff,#0098ff,#009cff,#009eff,#009fff,#009eff,#009dff,#009cff,#009aff,#0097ff,#0094ff,#0091ff,#008dff,#0088ff,#0082ff,#007cff,#0075ff,#006eff,#0066ff,#005eff,#0056ff,#004dff,#0044ff,#003aff,#0031ff,#0028ff,#001fff,#0016ff,#000dff,#0005ff,#0000fc,#0000f5,#0000ee,#0000e8,#0000e2,#0000dd,#0000d8,#0000d3,#0000cf,#0000cb,#0000c7,#0000c3,#0000c0,#0000bc,#0000b9,#0000b5,#0000b3)"></div><div style="top:28.17px;height:2.51px;background:linear-gradient(90deg,#0000b2,#0000b4,#0000b7,#0000bb,#0000be,#0000c2,#0000c5,#0000c9,#0000cc,#0000d0,#0000d4,#0000d9,#0000dd,#0000e2,#0000e7,#0000ec,#0000f2,#0000f8,#0000fe,#0005ff,#000cff,#0013ff,#0019ff,#0020ff,#0028ff,#0030ff,#0038ff,#0041ff,#0049ff,#0051ff,#0059ff,#0061ff,#0069ff,#0070ff,#0077ff,#007dff,#0083ff,#0089ff,#008eff,#0093ff,#0097ff,#009bff,#009fff,#00a3ff,#00a5ff,#00a6ff,#00a6ff,#00a5ff,#00a4ff,#00a2ff,#00a0ff,#009eff,#009bff,#0097ff,#0093ff,#008eff,#0088ff,#0082ff,#007bff,#0073ff,#006bff,#0062ff,#0059ff,#004fff,#0046ff,#003cff,#0032ff,#0028ff,#001fff,#0015ff,#000dff,#0004ff,#0000fb,#0000f4,#0000ed,#0000e7,#0000e1,#0000db,#0000d6,#0000d2,#0000ce,#0000c9,#0000c6,#0000c2,#0000be,#0000bb,#0000b7,#0000b5)"></div><div style="top:30.18px;height:2.51px;background:linear-gradient(90deg,#0000b3,#0000b6,#0000b9,#0000bd,#0000c0,#0000c4,#0000c7,#0000cb,#0000cf,#0000d3,#0000d7,#0000dc,#0000e1,#0000e6,#0000eb,#0000f1,#0000f7,#0000fd,#0005ff,#000cff,#0013ff,#001aff,#0021ff,#0028ff,#0030ff,#0038ff,#0041ff,#004aff,#0052ff,#005bff,#0063ff,#006aff,#0072ff,#0078ff,#007eff,#0084ff,#008aff,#008fff,#0094ff,#0099ff,#009dff,#00a1ff,#00a6ff,#00a9ff,#00acff,#00acff,#00acff,#00abff,#00aaff,#00a8ff,#00a7ff,#00a5ff,#00a2ff,#00a0ff,#009cff,#0098ff,#0093ff,#008dff,#0086ff,#007fff,#0077ff,#006eff,#0065ff,#005bff,#0051ff,#0047ff,#003cff,#0032ff,#0028ff,#001eff,#0015ff,#000cff,#0003ff,#0000fa,#0000f3,#0000ec,#0000e5,#0000df,#0000da,#0000d5,#0000d0,#0000cc,#0000c8,#0000c4,#0000c0,#0000bd,#0000b9,#0000b7)"></div><div style="top:32.20px;height:2.51px;background:linear-gradient(90deg,#0000b5,#0000b8,#0000bb,#0000bf,#0000c2,#0000c6,#0000ca,#0000ce,#0000d2,#0000d6,#0000da,#0000df,#0000e4,#0000ea,#0000f0,#0000f6,#0000fc,#0004ff,#000bff,#0013ff,#001aff,#0021ff,#0029ff,#0030ff,#0038ff,#0041ff,#004aff,#0052ff,#005bff,#0063ff,#006bff,#0072ff,#0079ff,#007fff,#0084ff,#008aff,#008fff,#0095ff,#009aff,#00a0ff,#00a6ff,#00abff,#00afff,#00b2ff,#00b4ff,#00b3ff,#00b1ff,#00b0ff,#00aeff,#00adff,#00abff,#00aaff,#00a8ff,#00a6ff,#00a3ff,#00a0ff,#009cff,#0097ff,#0091ff,#008aff,#0082ff,#0079ff,#0070ff,#0066ff,#005cff,#0052ff,#0047ff,#003cff,#0032ff,#0027ff,#001dff,#0013ff,#000aff,#0001ff,#0000f8,#0000f1,#0000ea,#0000e3,#0000de,#0000d8,#0000d3,#0000cf,#0000cb,#0000c7,#0000c3,#0000bf,#0000bb,#0000b9)"></div><div style="top:34.21px;height:2.51px;background:linear-gradient(90deg,#0000b7,#0000ba,#0000bd,#0000c1,#0000c4,#0000c8,#0000cc,#0000d0,#0000d4,#0000d9,#0000de,#0000e3,#0000e8,#0000ee,#0000f5,#0000fb,#0003ff,#000aff,#0012ff,#001aff,#0021ff,#0029ff,#0031ff,#0038ff,#0040ff,#0049ff,#0052ff,#005bff,#0063ff,#006bff,#0072ff,#0078ff,#007eff,#0084ff,#008aff,#0090ff,#0098ff,#00a0ff,#00a9ff,#00b1ff,#00b9ff,#00c0ff,#00c4ff,#00c5ff,#00c2ff,#00beff,#00b9ff,#00b5ff,#00b1ff,#00aeff,#00acff,#00abff,#00abff,#00aaff,#00a8ff,#00a5ff,#00a2ff,#009eff,#0099ff,#0093ff,#008dff,#0084ff,#007cff,#0072ff,#0068ff,#005dff,#0052ff,#0047ff,#003cff,#0031ff,#0026ff,#001cff,#0012ff,#0008ff,#0000fe,#0000f6,#0000ef,#0000e8,#0000e2,#0000dc,#0000d7,#0000d2,#0000cd,#0000c9,#0000c5,#0000c1,#0000bd,#0000ba)"></div><div style="top:36.22px;height:2.51px;background:linear-gradient(90deg,#0000b9,#0000bc,#0000bf,#0000c3,#0000c7,#0000ca,#0000cf,#0000d3,#0000d7,#0000dc,#0000e1,#0000e7,#0000ed,#0000f3,#0000fa,#0002ff,#0009ff,#0011ff,#0019ff,#0021ff,#0029ff,#0031ff,#0038ff,#0040ff,#0048ff,#0051ff,#005aff,#0062ff,#006aff,#0071ff,#0077ff,#007dff,#0083ff,#008bff,#0094ff,#00a0ff,#00adff,#00baff,#00c6ff,#00cfff,#00d6ff,#00dbff,#00ddff,#00d9ff,#00d2ff,#00c9ff,#00c1ff,#00b9ff,#00b2ff,#00acff,#00a8ff,#00a6ff,#00a6ff,#00a7ff,#00a8ff,#00a8ff,#00a7ff,#00a4ff,#00a0ff,#009bff,#0095ff,#008eff,#0086ff,#007dff,#0073ff,#0068ff,#005dff,#0052ff,#0046ff,#003bff,#002fff,#0024ff,#001aff,#000fff,#0006ff,#0000fc,#0000f4,#0000ec,#0000e6,#0000df,#0000da,#0000d5,#0000d0,#0000cb,#0000c7,#0000c3,#0000bf,#0000bc)"></div><div style="top:38.23px;height:2.51px;background:linear-gradient(90deg,#0000bb,#0000be,#0000c1,#0000c5,#0000c9,#0000cd,#0000d1,#0000d6,#0000da,#0000df,#0000e5,#0000eb,#0000f1,#0000f8,#0000ff,#0008ff,#000fff,#0017ff,#0020ff,#0028ff,#0030ff,#0038ff,#0040ff,#0048ff,#0050ff,#0059ff,#0061ff,#0068ff,#006fff,#0075ff,#007bff,#0083ff,#008eff,#009dff,#00afff,#00c0ff,#00cfff,#00daff,#00e0ff,#00e5ff,#00e7ff,#00e7ff,#00e6ff,#00e0ff,#00d6ff,#00ccff,#00c3ff,#00baff,#00b2ff,#00aaff,#00a3ff,#009eff,#009bff,#009cff,#009fff,#00a3ff,#00a6ff,#00a7ff,#00a5ff,#00a1ff,#009cff,#0097ff,#008fff,#0087ff,#007dff,#0073ff,#0068ff,#005cff,#0050ff,#0044ff,#0039ff,#002dff,#0022ff,#0017ff,#000dff,#0003ff,#0000f9,#0000f1,#0000ea,#0000e3,#0000dd,#0000d8,#0000d3,#0000ce,#0000c9,#0000c5,#0000c1,#0000be)"></div><div style="top:40.25px;height:2.51px;background:linear-gradient(90deg,#0000bd,#0000bf,#0000c3,#0000c7,#0000cb,#0000cf,#0000d4,#0000d8,#0000dd,#0000e3,#0000e9,#0000ef,#0000f6,#0000fd,#0006ff,#000eff,#0016ff,#001eff,#0027ff,#002fff,#0038ff,#0040ff,#0048ff,#004fff,#0057ff,#005fff,#0066ff,#006dff,#0073ff,#007aff,#0085ff,#0095ff,#00aaff,#00c0ff,#00d2ff,#00deff,#00e5ff,#00e7ff,#00e7ff,#00e5ff,#00e3ff,#00e1ff,#00ddff,#00d7ff,#00ceff,#00c5ff,#00bdff,#00b6ff,#00aeff,#00a7ff,#009fff,#0098ff,#0092ff,#008fff,#0090ff,#0095ff,#009dff,#00a3ff,#00a6ff,#00a5ff,#00a2ff,#009dff,#0097ff,#0090ff,#0087ff,#007dff,#0072ff,#0067ff,#005bff,#004eff,#0042ff,#0036ff,#002aff,#001fff,#0014ff,#000aff,#0000ff,#0000f7,#0000ef,#0000e7,#0000e1,#0000db,#0000d5,#0000d0,#0000cc,#0000c8,#0000c3,#0000c0)"></div><div style="top:42.26px;height:2.51px;background:linear-gradient(90deg,#0000be,#0000c1,#0000c5,#0000c9,#0000cd,#0000d2,#0000d6,#0000db,#0000e1,#0000e6,#0000ed,#0000f3,#0000fb,#0003ff,#000bff,#0014ff,#001cff,#0025ff,#002eff,#0037ff,#003fff,#0048ff,#004fff,#0056ff,#005dff,#0064ff,#006bff,#0071ff,#007aff,#0088ff,#009eff,#00b8ff,#00cfff,#00dfff,#00e6ff,#00e7ff,#00e5ff,#00e0ff,#00dbff,#00d7ff,#00d2ff,#00cfff,#00cbff,#00c5ff,#00beff,#00b8ff,#00b2ff,#00adff,#00a7ff,#00a1ff,#009bff,#0095ff,#008fff,#0089ff,#0085ff,#0087ff,#008dff,#0096ff,#009eff,#00a4ff,#00a4ff,#00a2ff,#009dff,#0097ff,#0090ff,#0087ff,#007cff,#0071ff,#0065ff,#0058ff,#004cff,#003fff,#0033ff,#0027ff,#001bff,#0011ff,#0006ff,#0000fc,#0000f3,#0000ec,#0000e5,#0000de,#0000d8,#0000d3,#0000ce,#0000ca,#0000c6,#0000c2)"></div><div style="top:44.27px;height:2.51px;background:linear-gradient(90deg,#0000c0,#0000c3,#0000c7,#0000cb,#0000cf,#0000d4,#0000d9,#0000de,#0000e4,#0000ea,#0000f1,#0000f8,#0001ff,#0009ff,#0011ff,#001aff,#0023ff,#002cff,#0035ff,#003eff,#0047ff,#004fff,#0056ff,#005cff,#0062ff,#0068ff,#006fff,#0079ff,#008bff,#00a7ff,#00c4ff,#00daff,#00e5ff,#00e7ff,#00e4ff,#00deff,#00d7ff,#00cfff,#00c9ff,#00c3ff,#00beff,#00baff,#00b6ff,#00b2ff,#00adff,#00a9ff,#00a5ff,#00a2ff,#009eff,#009aff,#0096ff,#0091ff,#008cff,#0087ff,#0082ff,#0081ff,#0083ff,#0088ff,#0090ff,#009aff,#00a1ff,#00a3ff,#00a1ff,#009cff,#0096ff,#008fff,#0085ff,#007aff,#006fff,#0062ff,#0055ff,#0049ff,#003cff,#002fff,#0023ff,#0018ff,#000dff,#0003ff,#0000f9,#0000f0,#0000e9,#0000e2,#0000dc,#0000d6,#0000d1,#0000cc,#0000c8,#0000c4)"></div><div style="top:46.28px;height:2.51px;background:linear-gradient(90deg,#0000c2,#0000c5,#0000c9,#0000cd,#0000d2,#0000d7,#0000dc,#0000e1,#0000e7,#0000ee,#0000f5,#0000fd,#0006ff,#000eff,#0017ff,#0021ff,#002aff,#0033ff,#003cff,#0045ff,#004eff,#0055ff,#005cff,#0061ff,#0066ff,#006dff,#0078ff,#008fff,#00afff,#00ceff,#00e1ff,#00e7ff,#00e5ff,#00deff,#00d6ff,#00cdff,#00c5ff,#00beff,#00b7ff,#00b1ff,#00acff,#00a9ff,#00a6ff,#00a3ff,#00a0ff,#009dff,#009bff,#0098ff,#0095ff,#0093ff,#0090ff,#008dff,#0089ff,#0085ff,#0081ff,#0080ff,#0080ff,#0081ff,#0085ff,#008cff,#0096ff,#009fff,#00a2ff,#00a0ff,#009cff,#0095ff,#008dff,#0083ff,#0078ff,#006cff,#005fff,#0052ff,#0045ff,#0038ff,#002bff,#001fff,#0013ff,#0009ff,#0000fe,#0000f5,#0000ed,#0000e5,#0000df,#0000d9,#0000d3,#0000ce,#0000ca,#0000c6)"></div><div style="top:48.30px;height:2.51px;background:linear-gradient(90deg,#0000c4,#0000c7,#0000cb,#0000d0,#0000d4,#0000d9,#0000df,#0000e5,#0000eb,#0000f2,#0000fa,#0003ff,#000bff,#0014ff,#001eff,#0027ff,#0031ff,#003aff,#0043ff,#004cff,#0054ff,#005bff,#0060ff,#0064ff,#006aff,#0077ff,#0091ff,#00b5ff,#00d4ff,#00e4ff,#00e7ff,#00e2ff,#00daff,#00d1ff,#00c8ff,#00c0ff,#00baff,#00b3ff,#00aeff,#00a9ff,#00a5ff,#00a2ff,#00a0ff,#009eff,#009dff,#009cff,#009aff,#0096ff,#0092ff,#008eff,#008bff,#0088ff,#0086ff,#0083ff,#0081ff,#0080ff,#0080ff,#0080ff,#0080ff,#0083ff,#0089ff,#0093ff,#009dff,#00a1ff,#009fff,#009aff,#0094ff,#008bff,#0081ff,#0075ff,#0068ff,#005bff,#004eff,#0040ff,#0033ff,#0026ff,#001aff,#000fff,#0004ff,#0000fa,#0000f1,#0000e9,#0000e2,#0000dc,#0000d6,#0000d1,#0000cc,#0000c8)"></div><div style="top:50.31px;height:2.51px;background:linear-gradient(90deg,#0000c6,#0000c9,#0000cd,#0000d2,#0000d7,#0000dc,#0000e2,#0000e8,#0000ef,#0000f6,#0000fe,#0008ff,#0011ff,#001aff,#0024ff,#002eff,#0037ff,#0041ff,#004aff,#0053ff,#005aff,#0060ff,#0064ff,#0069ff,#0074ff,#0090ff,#00b8ff,#00d8ff,#00e6ff,#00e6ff,#00e0ff,#00d8ff,#00d0ff,#00c9ff,#00c4ff,#00bfff,#00bbff,#00b8ff,#00b4ff,#00b1ff,#00afff,#00adff,#00acff,#00abff,#00abff,#00aaff,#00a7ff,#00a1ff,#009aff,#0092ff,#008bff,#0086ff,#0084ff,#0082ff,#0080ff,#007fff,#007fff,#007fff,#0080ff,#0080ff,#0082ff,#0087ff,#0091ff,#009bff,#009fff,#009eff,#0098ff,#0091ff,#0088ff,#007dff,#0071ff,#0064ff,#0056ff,#0049ff,#003bff,#002eff,#0021ff,#0015ff,#000aff,#0000ff,#0000f6,#0000ed,#0000e6,#0000df,#0000d9,#0000d3,#0000ce,#0000ca)"></div><div style="top:52.32px;height:2.51px;background:linear-gradient(90deg,#0000c8,#0000cb,#0000cf,#0000d4,#0000d9,#0000df,#0000e5,#0000ec,#0000f3,#0000fb,#0004ff,#000dff,#0016ff,#0020ff,#002aff,#0034ff,#003eff,#0048ff,#0051ff,#0059ff,#005fff,#0063ff,#0068ff,#0072ff,#008eff,#00b8ff,#00daff,#00e7ff,#00e6ff,#00dfff,#00d9ff,#00d3ff,#00d0ff,#00cfff,#00ceff,#00cdff,#00ccff,#00cbff,#00caff,#00c9ff,#00c8ff,#00c7ff,#00c7ff,#00c6ff,#00c6ff,#00c4ff,#00c0ff,#00b9ff,#00aeff,#00a2ff,#0095ff,#008bff,#0085ff,#0081ff,#0080ff,#007fff,#007fff,#007fff,#007fff,#0080ff,#0080ff,#0081ff,#0086ff,#0090ff,#009aff,#009eff,#009cff,#0096ff,#008fff,#0085ff,#007aff,#006dff,#005fff,#0051ff,#0043ff,#0036ff,#0028ff,#001cff,#0010ff,#0005ff,#0000fa,#0000f1,#0000e9,#0000e2,#0000dc,#0000d6,#0000d0,#0000cc)"></div><div style="top:54.33px;height:2.51px;background:linear-gradient(90deg,#0000c9,#0000cd,#0000d1,#0000d6,#0000dc,#0000e2,#0000e8,#0000ef,#0000f7,#0000ff,#0009ff,#0012ff,#001cff,#0026ff,#0031ff,#003bff,#0045ff,#004eff,#0057ff,#005eff,#0063ff,#0067ff,#0070ff,#008aff,#00b6ff,#00daff,#00e8ff,#00e7ff,#00e1ff,#00dcff,#00daff,#00daff,#00dcff,#00dfff,#00e2ff,#00e3ff,#00e5ff,#00e5ff,#00e6ff,#00e6ff,#00e5ff,#00e4ff,#00e4ff,#00e3ff,#00e2ff,#00e0ff,#00dbff,#00d4ff,#00c8ff,#00baff,#00aaff,#009bff,#008eff,#0085ff,#0081ff,#007fff,#007fff,#007fff,#007fff,#007fff,#0080ff,#0080ff,#0081ff,#0086ff,#0090ff,#009aff,#009dff,#009aff,#0094ff,#008cff,#0081ff,#0075ff,#0068ff,#005aff,#004bff,#003dff,#0030ff,#0023ff,#0016ff,#000bff,#0000ff,#0000f6,#0000ed,#0000e5,#0000de,#0000d8,#0000d3,#0000ce)"></div><div style="top:56.34px;height:2.51px;background:linear-gradient(90deg,#0000cb,#0000cf,#0000d4,#0000d9,#0000de,#0000e5,#0000ec,#0000f3,#0000fb,#0005ff,#000eff,#0018ff,#0022ff,#002cff,#0037ff,#0041ff,#004bff,#0054ff,#005cff,#0061ff,#0066ff,#006dff,#0084ff,#00b1ff,#00d8ff,#00e8ff,#00e8ff,#00e3ff,#00e0ff,#00e1ff,#00e5ff,#00eaff,#00f0ff,#00f5ff,#00f9ff,#00fbff,#00fdff,#00feff,#00feff,#00feff,#00feff,#00fdff,#00fcff,#00fbff,#00faff,#00f7ff,#00f3ff,#00ecff,#00e2ff,#00d5ff,#00c4ff,#00b2ff,#00a0ff,#0091ff,#0087ff,#0082ff,#007fff,#007fff,#007fff,#007fff,#007fff,#007fff,#0080ff,#0081ff,#0086ff,#0090ff,#009aff,#009cff,#0097ff,#0091ff,#0088ff,#007dff,#0070ff,#0062ff,#0054ff,#0045ff,#0037ff,#0029ff,#001dff,#0010ff,#0005ff,#0000fa,#0000f1,#0000e9,#0000e1,#0000db,#0000d5,#0000d1)"></div><div style="top:58.36px;height:2.51px;background:linear-gradient(90deg,#0000cd,#0000d1,#0000d6,#0000db,#0000e1,#0000e8,#0000ef,#0000f7,#0000ff,#0009ff,#0013ff,#001dff,#0028ff,#0033ff,#003dff,#0047ff,#0051ff,#005aff,#0060ff,#0065ff,#006bff,#007eff,#00a8ff,#00d5ff,#00e8ff,#00e9ff,#00e6ff,#00e5ff,#00e8ff,#00eeff,#00f6ff,#00feff,#06fff9,#0bfff4,#0ffff0,#12ffed,#14ffeb,#14ffeb,#14ffeb,#14ffeb,#13ffec,#12ffed,#11ffee,#10ffef,#0efff1,#0bfff4,#07fff8,#01fffe,#00f7ff,#00ecff,#00deff,#00cdff,#00baff,#00a7ff,#0096ff,#008aff,#0083ff,#0080ff,#007fff,#007fff,#007fff,#007fff,#007fff,#0080ff,#0081ff,#0087ff,#0091ff,#009aff,#009aff,#0095ff,#008dff,#0083ff,#0077ff,#006aff,#005bff,#004dff,#003eff,#0030ff,#0023ff,#0016ff,#000aff,#0000ff,#0000f5,#0000ec,#0000e5,#0000de,#0000d7,#0000d3)"></div><div style="top:60.37px;height:2.51px;background:linear-gradient(90deg,#0000cf,#0000d3,#0000d8,#0000de,#0000e4,#0000eb,#0000f2,#0000fb,#0005ff,#000eff,#0018ff,#0023ff,#002eff,#0039ff,#0043ff,#004dff,#0057ff,#005eff,#0063ff,#0068ff,#0077ff,#009eff,#00ceff,#00e7ff,#00ebff,#00e9ff,#00e9ff,#00eeff,#00f6ff,#01fffe,#0bfff4,#14ffeb,#1bffe4,#21ffde,#25ffda,#28ffd7,#29ffd6,#2affd5,#29ffd6,#29ffd6,#27ffd8,#26ffd9,#24ffdb,#22ffdd,#20ffdf,#1cffe3,#17ffe8,#11ffee,#0afff5,#00ffff,#00f4ff,#00e5ff,#00d4ff,#00c1ff,#00adff,#009bff,#008dff,#0085ff,#0080ff,#007fff,#007fff,#007fff,#007fff,#007fff,#0080ff,#0082ff,#0088ff,#0093ff,#0099ff,#0097ff,#0091ff,#0089ff,#007eff,#0071ff,#0063ff,#0054ff,#0046ff,#0037ff,#0029ff,#001cff,#0010ff,#0004ff,#0000f9,#0000f0,#0000e8,#0000e0,#0000da,#0000d5)"></div><div style="top:62.38px;height:2.51px;background:linear-gradient(90deg,#0000d1,#0000d5,#0000da,#0000e0,#0000e7,#0000ee,#0000f6,#0000ff,#0009ff,#0013ff,#001eff,#0029ff,#0034ff,#003fff,#0049ff,#0053ff,#005bff,#0061ff,#0066ff,#0070ff,#0091ff,#00c4ff,#00e5ff,#00edff,#00edff,#00eeff,#00f4ff,#00fdff,#09fff6,#15ffea,#20ffdf,#2affd5,#33ffcc,#3affc5,#3effc1,#41ffbe,#42ffbd,#42ffbd,#41ffbe,#40ffbf,#3effc1,#3cffc3,#3affc5,#36ffc9,#33ffcc,#2effd1,#28ffd7,#21ffde,#19ffe6,#10ffef,#06fff9,#00faff,#00ecff,#00dbff,#00c9ff,#00b5ff,#00a2ff,#0092ff,#0087ff,#0081ff,#007fff,#007fff,#007fff,#007fff,#0080ff,#0080ff,#0082ff,#008bff,#0095ff,#0098ff,#0094ff,#008dff,#0084ff,#0078ff,#006aff,#005cff,#004dff,#003eff,#0030ff,#0022ff,#0015ff,#0009ff,#0000fd,#0000f4,#0000eb,#0000e3,#0000dc,#0000d7)"></div><div style="top:64.39px;height:2.51px;background:linear-gradient(90deg,#0000d3,#0000d7,#0000dd,#0000e3,#0000ea,#0000f1,#0000fa,#0004ff,#000eff,#0018ff,#0023ff,#002eff,#0039ff,#0044ff,#004fff,#0058ff,#005fff,#0064ff,#006bff,#0083ff,#00b5ff,#00dfff,#00eeff,#00f1ff,#00f4ff,#00faff,#04fffb,#0ffff0,#1cffe3,#2affd5,#38ffc7,#44ffbb,#4effb1,#55ffaa,#5affa5,#5dffa2,#5effa1,#5dffa2,#5cffa3,#5affa5,#57ffa8,#55ffaa,#51ffae,#4dffb2,#48ffb7,#43ffbc,#3bffc4,#33ffcc,#2affd5,#20ffdf,#16ffe9,#0cfff3,#00ffff,#00f2ff,#00e3ff,#00d2ff,#00bfff,#00aaff,#0098ff,#008aff,#0082ff,#0080ff,#007fff,#007fff,#007fff,#0080ff,#0080ff,#0084ff,#008dff,#0096ff,#0096ff,#0091ff,#0089ff,#007eff,#0071ff,#0063ff,#0054ff,#0045ff,#0036ff,#0028ff,#001bff,#000eff,#0003ff,#0000f8,#0000ee,#0000e6,#0000df,#0000da)"></div><div style="top:66.41px;height:2.51px;background:linear-gradient(90deg,#0000d5,#0000d9,#0000df,#0000e6,#0000ed,#0000f5,#0000fe,#0008ff,#0012ff,#001dff,#0028ff,#0034ff,#003fff,#004aff,#0054ff,#005cff,#0062ff,#0068ff,#0077ff,#00a2ff,#00d5ff,#00edff,#00f4ff,#00f9ff,#01fffe,#0afff5,#15ffea,#22ffdd,#31ffce,#43ffbc,#53ffac,#61ff9e,#6bff94,#72ff8d,#76ff89,#78ff87,#79ff86,#78ff87,#76ff89,#74ff8b,#71ff8e,#6dff92,#69ff96,#65ff9a,#5fffa0,#59ffa6,#51ffae,#47ffb8,#3dffc2,#31ffce,#26ffd9,#1bffe4,#11ffee,#06fff9,#00faff,#00edff,#00dcff,#00c9ff,#00b3ff,#009eff,#008dff,#0084ff,#0080ff,#007fff,#007fff,#007fff,#0080ff,#0081ff,#0086ff,#0090ff,#0096ff,#0093ff,#008cff,#0083ff,#0077ff,#0069ff,#005bff,#004cff,#003dff,#002eff,#0020ff,#0013ff,#0007ff,#0000fc,#0000f2,#0000e9,#0000e2,#0000dc)"></div><div style="top:68.42px;height:2.51px;background:linear-gradient(90deg,#0000d7,#0000db,#0000e1,#0000e8,#0000f0,#0000f8,#0002ff,#000cff,#0017ff,#0022ff,#002eff,#0039ff,#0044ff,#004fff,#0059ff,#0060ff,#0065ff,#006eff,#008dff,#00c5ff,#00e8ff,#00f4ff,#00fdff,#07fff8,#10ffef,#1affe5,#27ffd8,#36ffc9,#49ffb6,#5dffa2,#6fff90,#7cff83,#85ff7a,#8bff74,#8eff71,#90ff6f,#90ff6f,#8fff70,#8dff72,#8aff75,#87ff78,#83ff7c,#7fff80,#7bff84,#75ff8a,#6eff91,#66ff99,#5dffa2,#51ffae,#45ffba,#39ffc6,#2cffd3,#21ffde,#18ffe7,#0efff1,#04fffb,#00f6ff,#00e7ff,#00d3ff,#00bbff,#00a4ff,#0091ff,#0086ff,#0081ff,#0080ff,#007fff,#0080ff,#0080ff,#0082ff,#0089ff,#0092ff,#0094ff,#008fff,#0087ff,#007dff,#0070ff,#0061ff,#0052ff,#0043ff,#0034ff,#0026ff,#0018ff,#000cff,#0001ff,#0000f5,#0000ec,#0000e4,#0000de)"></div><div style="top:70.43px;height:2.51px;background:linear-gradient(90deg,#0000d9,#0000dd,#0000e4,#0000eb,#0000f3,#0000fc,#0006ff,#0011ff,#001cff,#0027ff,#0033ff,#003eff,#004aff,#0054ff,#005dff,#0063ff,#0069ff,#007bff,#00adff,#00dfff,#00f2ff,#00fdff,#0afff5,#15ffea,#20ffdf,#2bffd4,#3affc5,#4cffb3,#61ff9e,#76ff89,#87ff78,#93ff6c,#9bff64,#9fff60,#a2ff5d,#a2ff5d,#a2ff5d,#a1ff5e,#9fff60,#9cff63,#99ff66,#96ff69,#92ff6d,#8eff71,#88ff77,#82ff7d,#7bff84,#71ff8e,#67ff98,#5affa5,#4dffb2,#40ffbf,#34ffcb,#2affd5,#21ffde,#18ffe7,#0dfff2,#01fffe,#00f0ff,#00dcff,#00c3ff,#00a9ff,#0095ff,#0087ff,#0082ff,#0080ff,#0080ff,#0080ff,#0080ff,#0083ff,#008cff,#0093ff,#0091ff,#008bff,#0081ff,#0075ff,#0067ff,#0058ff,#0049ff,#003aff,#002bff,#001dff,#0010ff,#0005ff,#0000f9,#0000ef,#0000e7,#0000e1)"></div><div style="top:72.44px;height:2.51px;background:linear-gradient(90deg,#0000db,#0000df,#0000e6,#0000ee,#0000f6,#0000ff,#000aff,#0015ff,#0020ff,#002cff,#0038ff,#0044ff,#004fff,#0059ff,#0060ff,#0065ff,#006fff,#0093ff,#00cdff,#00edff,#00faff,#08fff7,#17ffe8,#24ffdb,#30ffcf,#3effc1,#4fffb0,#62ff9d,#77ff88,#8bff74,#9aff65,#a5ff5a,#abff54,#afff50,#b1ff4e,#b1ff4e,#b0ff4f,#afff50,#adff52,#aaff55,#a7ff58,#a4ff5b,#a0ff5f,#9cff63,#98ff67,#93ff6c,#8cff73,#84ff7b,#7bff84,#6fff90,#63ff9c,#57ffa8,#4affb5,#3fffc0,#36ffc9,#2cffd3,#22ffdd,#17ffe8,#0afff5,#00f8ff,#00e2ff,#00c8ff,#00aeff,#0097ff,#0089ff,#0082ff,#0080ff,#0080ff,#0080ff,#0081ff,#0086ff,#008fff,#0092ff,#008dff,#0085ff,#007aff,#006dff,#005eff,#004fff,#0040ff,#0031ff,#0022ff,#0015ff,#0009ff,#0000fd,#0000f3,#0000ea,#0000e3)"></div><div style="top:74.46px;height:2.51px;background:linear-gradient(90deg,#0000dd,#0000e2,#0000e9,#0000f1,#0000f9,#0004ff,#000eff,#0019ff,#0025ff,#0031ff,#003dff,#0049ff,#0053ff,#005cff,#0063ff,#0069ff,#007dff,#00b3ff,#00e3ff,#00f6ff,#04fffb,#14ffeb,#24ffdb,#33ffcc,#42ffbd,#51ffae,#63ff9c,#77ff88,#8bff74,#9cff63,#a9ff56,#b3ff4c,#b9ff46,#bdff42,#beff41,#beff41,#bdff42,#bbff44,#b8ff47,#b5ff4a,#b2ff4d,#afff50,#abff54,#a8ff57,#a4ff5b,#9fff60,#9aff65,#94ff6b,#8cff73,#83ff7c,#78ff87,#6dff92,#62ff9d,#58ffa7,#4effb1,#44ffbb,#3affc5,#2effd1,#21ffde,#11ffee,#00fdff,#00e6ff,#00cbff,#00b0ff,#0099ff,#008aff,#0083ff,#0080ff,#0080ff,#0080ff,#0082ff,#008aff,#0090ff,#008fff,#0088ff,#007fff,#0072ff,#0064ff,#0055ff,#0045ff,#0036ff,#0027ff,#001aff,#000dff,#0001ff,#0000f6,#0000ed,#0000e6)"></div><div style="top:76.47px;height:2.51px;background:linear-gradient(90deg,#0000df,#0000e4,#0000eb,#0000f4,#0000fd,#0008ff,#0012ff,#001eff,#002aff,#0036ff,#0042ff,#004dff,#0058ff,#0060ff,#0065ff,#006fff,#0095ff,#00d1ff,#00f1ff,#00ffff,#0ffff0,#21ffde,#32ffcd,#44ffbb,#54ffab,#65ff9a,#76ff89,#89ff76,#9aff65,#a9ff56,#b5ff4a,#bfff40,#c5ff3a,#c9ff36,#caff35,#caff35,#c8ff37,#c5ff3a,#c2ff3d,#bfff40,#bcff43,#b8ff47,#b5ff4a,#b1ff4e,#adff52,#a9ff56,#a5ff5a,#a0ff5f,#9aff65,#93ff6c,#8aff75,#82ff7d,#79ff86,#70ff8f,#67ff98,#5effa1,#54ffab,#47ffb8,#39ffc6,#28ffd7,#15ffea,#00ffff,#00e7ff,#00ccff,#00b0ff,#0099ff,#008bff,#0083ff,#0081ff,#0080ff,#0080ff,#0085ff,#008dff,#008fff,#008aff,#0082ff,#0077ff,#0069ff,#005aff,#004bff,#003bff,#002cff,#001eff,#0011ff,#0005ff,#0000f9,#0000ef,#0000e8)"></div><div style="top:78.48px;height:2.51px;background:linear-gradient(90deg,#0000e1,#0000e6,#0000ee,#0000f6,#0001ff,#000bff,#0016ff,#0022ff,#002eff,#003aff,#0046ff,#0052ff,#005bff,#0062ff,#0068ff,#007dff,#00b5ff,#00e8ff,#00fcff,#0bfff4,#1cffe3,#2fffd0,#43ffbc,#56ffa9,#67ff98,#77ff88,#87ff78,#98ff67,#a7ff58,#b5ff4a,#c0ff3f,#caff35,#d0ff2f,#d3ff2c,#d5ff2a,#d4ff2b,#d2ff2d,#cfff30,#cbff34,#c7ff38,#c4ff3b,#c0ff3f,#bcff43,#b9ff46,#b5ff4a,#b2ff4d,#aeff51,#a9ff56,#a5ff5a,#9fff60,#99ff66,#93ff6c,#8cff73,#86ff79,#7fff80,#78ff87,#6eff91,#62ff9d,#53ffac,#3fffc0,#2affd5,#15ffea,#00feff,#00e6ff,#00cbff,#00b1ff,#009bff,#008cff,#0084ff,#0081ff,#0080ff,#0082ff,#0089ff,#008eff,#008cff,#0085ff,#007bff,#006eff,#005fff,#0050ff,#0040ff,#0031ff,#0023ff,#0015ff,#0008ff,#0000fc,#0000f2,#0000eb)"></div><div style="top:80.49px;height:2.51px;background:linear-gradient(90deg,#0000e3,#0000e8,#0000f0,#0000f9,#0004ff,#000fff,#001aff,#0026ff,#0033ff,#003fff,#004bff,#0056ff,#005eff,#0065ff,#006eff,#0095ff,#00d7ff,#00faff,#0afff5,#19ffe6,#2bffd4,#40ffbf,#55ffaa,#68ff97,#79ff86,#88ff77,#96ff69,#a4ff5b,#b2ff4d,#bfff40,#caff35,#d3ff2c,#daff25,#ddff22,#deff21,#dcff23,#daff25,#d6ff29,#d2ff2d,#ceff31,#caff35,#c6ff39,#c3ff3c,#bfff40,#bcff43,#b9ff46,#b5ff4a,#b1ff4e,#adff52,#a9ff56,#a4ff5b,#a0ff5f,#9bff64,#97ff68,#93ff6c,#8dff72,#86ff79,#7bff84,#6cff93,#58ffa7,#40ffbf,#28ffd7,#12ffed,#00fcff,#00e4ff,#00caff,#00b1ff,#009cff,#008eff,#0085ff,#0082ff,#0081ff,#0085ff,#008cff,#008cff,#0087ff,#007eff,#0073ff,#0064ff,#0055ff,#0045ff,#0036ff,#0027ff,#0019ff,#000cff,#0000ff,#0000f5,#0000ed)"></div><div style="top:82.50px;height:2.51px;background:linear-gradient(90deg,#0000e5,#0000eb,#0000f3,#0000fc,#0007ff,#0012ff,#001eff,#002aff,#0037ff,#0043ff,#004fff,#0059ff,#0061ff,#0067ff,#007aff,#00b8ff,#00f4ff,#0cfff3,#19ffe6,#2affd5,#3dffc2,#53ffac,#68ff97,#7bff84,#8aff75,#97ff68,#a3ff5c,#b0ff4f,#bcff43,#c9ff36,#d4ff2b,#dcff23,#e2ff1d,#e5ff1a,#e5ff1a,#e3ff1c,#e0ff1f,#dcff23,#d8ff27,#d4ff2b,#cfff30,#cbff34,#c8ff37,#c4ff3b,#c1ff3e,#beff41,#bbff44,#b8ff47,#b4ff4b,#b0ff4f,#adff52,#aaff55,#a7ff58,#a4ff5b,#a1ff5e,#9eff61,#98ff67,#90ff6f,#83ff7c,#6fff90,#57ffa8,#3cffc3,#24ffdb,#0efff1,#00f9ff,#00e2ff,#00c9ff,#00b2ff,#009eff,#008fff,#0087ff,#0082ff,#0083ff,#0089ff,#008cff,#0088ff,#0081ff,#0076ff,#0069ff,#005aff,#004aff,#003aff,#002bff,#001dff,#0010ff,#0004ff,#0000f8,#0000f0)"></div><div style="top:84.52px;height:2.51px;background:linear-gradient(90deg,#0000e7,#0000ed,#0000f6,#0000ff,#000bff,#0016ff,#0022ff,#002eff,#003bff,#0047ff,#0053ff,#005dff,#0063ff,#006bff,#0090ff,#00deff,#0dfff2,#1dffe2,#2bffd4,#3dffc2,#52ffad,#68ff97,#7cff83,#8cff73,#99ff66,#a4ff5b,#afff50,#baff45,#c6ff39,#d2ff2d,#dcff23,#e4ff1b,#eaff15,#ecff13,#ebff14,#e9ff16,#e5ff1a,#e1ff1e,#dcff23,#d7ff28,#d3ff2c,#cfff30,#cbff34,#c8ff37,#c5ff3a,#c2ff3d,#bfff40,#bcff43,#b9ff46,#b6ff49,#b4ff4b,#b1ff4e,#b0ff4f,#aeff51,#adff52,#aaff55,#a6ff59,#a0ff5f,#95ff6a,#84ff7b,#6cff93,#51ffae,#36ffc9,#1effe1,#0afff5,#00f5ff,#00dfff,#00c7ff,#00b1ff,#009fff,#0091ff,#0088ff,#0084ff,#0086ff,#008bff,#0089ff,#0083ff,#0079ff,#006dff,#005eff,#004fff,#003fff,#0030ff,#0021ff,#0013ff,#0007ff,#0000fb,#0000f2)"></div><div style="top:86.53px;height:2.51px;background:linear-gradient(90deg,#0000e9,#0000ef,#0000f8,#0003ff,#000eff,#001aff,#0026ff,#0032ff,#003fff,#004bff,#0057ff,#005fff,#0065ff,#0074ff,#00b2ff,#02fffd,#22ffdd,#30ffcf,#40ffbf,#54ffab,#68ff97,#7cff83,#8eff71,#9bff64,#a7ff58,#b0ff4f,#baff45,#c5ff3a,#cfff30,#daff25,#e3ff1c,#eaff15,#efff10,#f1ff0e,#f0ff0f,#edff12,#e9ff16,#e4ff1b,#dfff20,#daff25,#d5ff2a,#d1ff2e,#cdff32,#c9ff36,#c6ff39,#c4ff3b,#c2ff3d,#bfff40,#bdff42,#bbff44,#b9ff46,#b7ff48,#b7ff48,#b6ff49,#b5ff4a,#b4ff4b,#b1ff4e,#acff53,#a2ff5d,#94ff6b,#7fff80,#65ff9a,#48ffb7,#2dffd2,#18ffe7,#05fffa,#00f0ff,#00dbff,#00c5ff,#00b1ff,#00a0ff,#0093ff,#008aff,#0088ff,#008bff,#008aff,#0084ff,#007cff,#0070ff,#0062ff,#0053ff,#0043ff,#0034ff,#0025ff,#0017ff,#000aff,#0000fd,#0000f5)"></div><div style="top:88.54px;height:2.51px;background:linear-gradient(90deg,#0000eb,#0000f2,#0000fb,#0006ff,#0011ff,#001dff,#002aff,#0036ff,#0043ff,#004fff,#005aff,#0062ff,#0068ff,#0086ff,#00dcff,#21ffde,#37ffc8,#46ffb9,#58ffa7,#6bff94,#7eff81,#8fff70,#9dff62,#a9ff56,#b2ff4d,#bcff43,#c5ff3a,#cfff30,#d8ff27,#e1ff1e,#e9ff16,#efff10,#f3ff0c,#f4ff0b,#f3ff0c,#efff10,#ebff14,#e6ff19,#e0ff1f,#dbff24,#d6ff29,#d1ff2e,#cdff32,#c9ff36,#c7ff38,#c4ff3b,#c3ff3c,#c1ff3e,#bfff40,#bdff42,#bcff43,#bbff44,#bbff44,#bcff43,#bcff43,#bcff43,#baff45,#b5ff4a,#adff52,#a1ff5e,#8fff70,#76ff89,#59ffa6,#3dffc2,#25ffda,#11ffee,#00feff,#00ebff,#00d6ff,#00c1ff,#00afff,#00a0ff,#0095ff,#008eff,#008dff,#008bff,#0085ff,#007eff,#0074ff,#0066ff,#0057ff,#0047ff,#0038ff,#0028ff,#001aff,#000dff,#0001ff,#0000f7)"></div><div style="top:90.55px;height:2.51px;background:linear-gradient(90deg,#0000ed,#0000f4,#0000fd,#0009ff,#0014ff,#0020ff,#002dff,#003aff,#0047ff,#0053ff,#005dff,#0064ff,#006eff,#00a3ff,#08fff7,#3cffc3,#4effb1,#5fffa0,#70ff8f,#82ff7d,#91ff6e,#9fff60,#aaff55,#b4ff4b,#beff41,#c6ff39,#cfff30,#d7ff28,#e0ff1f,#e7ff18,#eeff11,#f3ff0c,#f6ff09,#f6ff09,#f4ff0b,#f0ff0f,#ebff14,#e6ff19,#e0ff1f,#daff25,#d5ff2a,#d0ff2f,#cbff34,#c8ff37,#c5ff3a,#c3ff3c,#c1ff3e,#c0ff3f,#bfff40,#beff41,#bdff42,#bdff42,#beff41,#bfff40,#c1ff3e,#c2ff3d,#c1ff3e,#bdff42,#b5ff4a,#aaff55,#9aff65,#85ff7a,#69ff96,#4cffb3,#31ffce,#1cffe3,#0afff5,#00f7ff,#00e4ff,#00d0ff,#00beff,#00aeff,#00a2ff,#0098ff,#0093ff,#008dff,#0086ff,#007fff,#0076ff,#0069ff,#005bff,#004bff,#003bff,#002cff,#001eff,#0010ff,#0004ff,#0000fa)"></div><div style="top:92.57px;height:2.51px;background:linear-gradient(90deg,#0000ef,#0000f6,#0001ff,#000cff,#0017ff,#0024ff,#0031ff,#003eff,#004aff,#0056ff,#005fff,#0066ff,#0078ff,#00ccff,#31ffce,#55ffaa,#66ff99,#77ff88,#87ff78,#95ff6a,#a1ff5e,#acff53,#b6ff49,#c0ff3f,#c8ff37,#d0ff2f,#d8ff27,#dfff20,#e6ff19,#ecff13,#f1ff0e,#f5ff0a,#f7ff08,#f6ff09,#f4ff0b,#efff10,#eaff15,#e4ff1b,#deff21,#d8ff27,#d2ff2d,#cdff32,#c9ff36,#c5ff3a,#c2ff3d,#c0ff3f,#bfff40,#beff41,#bdff42,#bcff43,#bcff43,#bdff42,#beff41,#c1ff3e,#c3ff3c,#c5ff3a,#c5ff3a,#c2ff3d,#bbff44,#b0ff4f,#a2ff5d,#90ff6f,#76ff89,#59ffa6,#3dffc2,#25ffda,#12ffed,#02fffd,#00efff,#00ddff,#00caff,#00bbff,#00aeff,#00a4ff,#009cff,#0092ff,#0088ff,#0081ff,#0078ff,#006dff,#005eff,#004fff,#003fff,#002fff,#0021ff,#0013ff,#0007ff,#0000fc)"></div><div style="top:94.58px;height:2.51px;background:linear-gradient(90deg,#0000f1,#0000f8,#0003ff,#000eff,#001aff,#0027ff,#0034ff,#0041ff,#004eff,#0059ff,#0061ff,#0068ff,#008bff,#00fcff,#54ffab,#6dff92,#7dff82,#8cff73,#99ff66,#a5ff5a,#afff50,#b8ff47,#c2ff3d,#caff35,#d2ff2d,#daff25,#e0ff1f,#e6ff19,#ecff13,#f0ff0f,#f4ff0b,#f6ff09,#f6ff09,#f5ff0a,#f2ff0d,#edff12,#e8ff17,#e2ff1d,#dbff24,#d5ff2a,#cfff30,#c9ff36,#c5ff3a,#c1ff3e,#beff41,#bcff43,#baff45,#baff45,#b9ff46,#b9ff46,#b9ff46,#baff45,#bdff42,#bfff40,#c2ff3d,#c5ff3a,#c6ff39,#c4ff3b,#beff41,#b4ff4b,#a7ff58,#97ff68,#80ff7f,#64ff9b,#47ffb8,#2dffd2,#19ffe6,#09fff6,#00f7ff,#00e6ff,#00d4ff,#00c5ff,#00b8ff,#00aeff,#00a6ff,#0099ff,#008aff,#0081ff,#007aff,#006fff,#0061ff,#0052ff,#0042ff,#0033ff,#0024ff,#0016ff,#0009ff,#0000fe)"></div><div style="top:96.59px;height:2.51px;background:linear-gradient(90deg,#0000f3,#0000fa,#0006ff,#0011ff,#001dff,#002aff,#0037ff,#0044ff,#0051ff,#005bff,#0063ff,#006dff,#00aaff,#2effd1,#71ff8e,#83ff7c,#91ff6e,#9dff62,#a8ff57,#b2ff4d,#bbff44,#c4ff3b,#ccff33,#d4ff2b,#dbff24,#e2ff1d,#e7ff18,#ecff13,#f0ff0f,#f3ff0c,#f5ff0a,#f5ff0a,#f5ff0a,#f3ff0c,#efff10,#eaff15,#e4ff1b,#deff21,#d7ff28,#d0ff2f,#caff35,#c4ff3b,#bfff40,#bbff44,#b8ff47,#b6ff49,#b5ff4a,#b4ff4b,#b4ff4b,#b4ff4b,#b4ff4b,#b6ff49,#b8ff47,#bcff43,#bfff40,#c3ff3c,#c5ff3a,#c4ff3b,#beff41,#b6ff49,#aaff55,#9cff63,#87ff78,#6cff93,#50ffaf,#34ffcb,#1fffe0,#0efff1,#00fdff,#00edff,#00dcff,#00cdff,#00c1ff,#00b7ff,#00afff,#00a2ff,#008fff,#0082ff,#007bff,#0071ff,#0064ff,#0055ff,#0045ff,#0036ff,#0027ff,#0019ff,#000cff,#0002ff)"></div><div style="top:98.60px;height:2.51px;background:linear-gradient(90deg,#0000f5,#0000fc,#0008ff,#0014ff,#0020ff,#002dff,#003aff,#0047ff,#0054ff,#005eff,#0064ff,#0075ff,#00d3ff,#5affa5,#88ff77,#96ff69,#a1ff5e,#abff54,#b5ff4a,#bdff42,#c6ff39,#ceff31,#d6ff29,#ddff22,#e3ff1c,#e9ff16,#edff12,#f1ff0e,#f3ff0c,#f4ff0b,#f5ff0a,#f4ff0b,#f2ff0d,#efff10,#ebff14,#e6ff19,#e0ff1f,#d9ff26,#d2ff2d,#cbff34,#c4ff3b,#beff41,#b9ff46,#b4ff4b,#b1ff4e,#afff50,#adff52,#adff52,#acff53,#adff52,#aeff51,#afff50,#b2ff4d,#b6ff49,#baff45,#beff41,#c0ff3f,#c0ff3f,#bcff43,#b5ff4a,#abff54,#9eff61,#8bff74,#72ff8d,#56ffa9,#3affc5,#23ffdc,#12ffed,#02fffd,#00f2ff,#00e2ff,#00d3ff,#00c8ff,#00bfff,#00b7ff,#00acff,#0095ff,#0084ff,#007cff,#0073ff,#0067ff,#0058ff,#0048ff,#0039ff,#002aff,#001bff,#000eff,#0004ff)"></div><div style="top:100.62px;height:2.51px;background:linear-gradient(90deg,#0000f7,#0000fe,#000aff,#0016ff,#0023ff,#0030ff,#003dff,#004aff,#0056ff,#005fff,#0066ff,#0084ff,#03fffc,#7cff83,#9aff65,#a4ff5b,#aeff51,#b7ff48,#c0ff3f,#c8ff37,#d0ff2f,#d7ff28,#deff21,#e4ff1b,#eaff15,#efff10,#f2ff0d,#f4ff0b,#f5ff0a,#f4ff0b,#f3ff0c,#f2ff0d,#efff10,#ebff14,#e6ff19,#e1ff1e,#daff25,#d3ff2c,#ccff33,#c4ff3b,#bdff42,#b7ff48,#b1ff4e,#acff53,#a9ff56,#a6ff59,#a5ff5a,#a4ff5b,#a4ff5b,#a4ff5b,#a5ff5a,#a7ff58,#aaff55,#adff52,#b2ff4d,#b6ff49,#b9ff46,#b9ff46,#b7ff48,#b1ff4e,#a9ff56,#9eff61,#8dff72,#75ff8a,#59ffa6,#3dffc2,#26ffd9,#14ffeb,#05fffa,#00f5ff,#00e6ff,#00d7ff,#00cdff,#00c5ff,#00bfff,#00b5ff,#009eff,#0086ff,#007cff,#0074ff,#0069ff,#005bff,#004bff,#003cff,#002cff,#001eff,#0010ff,#0006ff)"></div><div style="top:102.63px;height:2.51px;background:linear-gradient(90deg,#0000f8,#0001ff,#000cff,#0019ff,#0025ff,#0033ff,#0040ff,#004dff,#0059ff,#0061ff,#0069ff,#009aff,#33ffcc,#95ff6a,#a8ff57,#b1ff4e,#b9ff46,#c2ff3d,#caff35,#d2ff2d,#d9ff26,#dfff20,#e5ff1a,#ebff14,#efff10,#f3ff0c,#f5ff0a,#f6ff09,#f5ff0a,#f3ff0c,#f1ff0e,#eeff11,#eaff15,#e6ff19,#e1ff1e,#daff25,#d4ff2b,#ccff33,#c5ff3a,#bdff42,#b6ff49,#afff50,#a9ff56,#a4ff5b,#a0ff5f,#9dff62,#9bff64,#9aff65,#99ff66,#99ff66,#9aff65,#9cff63,#9fff60,#a3ff5c,#a7ff58,#acff53,#afff50,#b0ff4f,#afff50,#acff53,#a5ff5a,#9bff64,#8cff73,#75ff8a,#5bffa4,#3fffc0,#28ffd7,#16ffe9,#06fff9,#00f7ff,#00e8ff,#00daff,#00d0ff,#00c9ff,#00c4ff,#00bdff,#00a8ff,#008aff,#007dff,#0075ff,#006bff,#005dff,#004eff,#003eff,#002fff,#0020ff,#0012ff,#0008ff)"></div><div style="top:104.64px;height:2.51px;background:linear-gradient(90deg,#0000fa,#0003ff,#000fff,#001bff,#0028ff,#0035ff,#0043ff,#0050ff,#005bff,#0063ff,#006dff,#00b8ff,#5dffa2,#a7ff58,#b4ff4b,#bcff43,#c4ff3b,#ccff33,#d3ff2c,#daff25,#e1ff1e,#e6ff19,#ecff13,#f0ff0f,#f4ff0b,#f6ff09,#f7ff08,#f6ff09,#f4ff0b,#f1ff0e,#eeff11,#eaff15,#e5ff1a,#e0ff1f,#daff25,#d4ff2b,#ccff33,#c5ff3a,#bdff42,#b5ff4a,#adff52,#a6ff59,#9fff60,#9aff65,#95ff6a,#91ff6e,#8eff71,#8cff73,#8bff74,#8bff74,#8cff73,#8eff71,#91ff6e,#95ff6a,#9aff65,#9fff60,#a3ff5c,#a6ff59,#a6ff59,#a4ff5b,#a0ff5f,#97ff68,#88ff77,#73ff8c,#5affa5,#40ffbf,#29ffd6,#17ffe8,#07fff8,#00f8ff,#00eaff,#00dcff,#00d2ff,#00ccff,#00c8ff,#00c3ff,#00b2ff,#0090ff,#007eff,#0076ff,#006cff,#005fff,#0050ff,#0040ff,#0031ff,#0022ff,#0014ff,#000aff)"></div><div style="top:106.65px;height:2.51px;background:linear-gradient(90deg,#0000fc,#0005ff,#0011ff,#001dff,#002aff,#0038ff,#0045ff,#0052ff,#005dff,#0064ff,#0074ff,#00ddff,#81ff7e,#b5ff4a,#bfff40,#c6ff39,#cdff32,#d4ff2b,#dbff24,#e2ff1d,#e7ff18,#edff12,#f1ff0e,#f4ff0b,#f7ff08,#f8ff07,#f7ff08,#f5ff0a,#f2ff0d,#eeff11,#e9ff16,#e5ff1a,#dfff20,#daff25,#d3ff2c,#ccff33,#c5ff3a,#bdff42,#b4ff4b,#acff53,#a4ff5b,#9cff63,#95ff6a,#8dff72,#87ff78,#82ff7d,#7eff81,#7bff84,#79ff86,#79ff86,#79ff86,#7bff84,#7fff80,#84ff7b,#89ff76,#8fff70,#95ff6a,#99ff66,#9bff64,#9bff64,#98ff67,#91ff6e,#83ff7c,#6fff90,#58ffa7,#3fffc0,#29ffd6,#17ffe8,#08fff7,#00f8ff,#00eaff,#00ddff,#00d3ff,#00ceff,#00cbff,#00c8ff,#00bbff,#0097ff,#007fff,#0076ff,#006dff,#0061ff,#0052ff,#0043ff,#0033ff,#0024ff,#0016ff,#000bff)"></div><div style="top:108.66px;height:2.51px;background:linear-gradient(90deg,#0000fe,#0007ff,#0013ff,#001fff,#002dff,#003aff,#0048ff,#0054ff,#005eff,#0065ff,#007eff,#06fff9,#9dff62,#c1ff3e,#c8ff37,#cfff30,#d6ff29,#dcff23,#e3ff1c,#e8ff17,#edff12,#f2ff0d,#f5ff0a,#f7ff08,#f8ff07,#f8ff07,#f7ff08,#f3ff0c,#efff10,#eaff15,#e4ff1b,#dfff20,#d9ff26,#d2ff2d,#ccff33,#c4ff3b,#bcff43,#b4ff4b,#abff54,#a3ff5c,#9aff65,#90ff6f,#87ff78,#7eff81,#77ff88,#71ff8e,#6cff93,#68ff97,#66ff99,#65ff9a,#65ff9a,#66ff99,#6aff95,#6fff90,#75ff8a,#7cff83,#82ff7d,#89ff76,#8dff72,#90ff6f,#8fff70,#88ff77,#7cff83,#6bff94,#55ffaa,#3effc1,#29ffd6,#18ffe7,#08fff7,#00f9ff,#00ecff,#00deff,#00d4ff,#00cfff,#00cdff,#00ccff,#00c4ff,#00a0ff,#0080ff,#0076ff,#006eff,#0062ff,#0054ff,#0044ff,#0035ff,#0026ff,#0018ff,#000dff)"></div><div style="top:110.68px;height:2.51px;background:linear-gradient(90deg,#0000ff,#0009ff,#0014ff,#0021ff,#002fff,#003cff,#004aff,#0056ff,#0060ff,#0067ff,#008dff,#2effd1,#b3ff4c,#cbff34,#d1ff2e,#d7ff28,#ddff22,#e3ff1c,#e9ff16,#eeff11,#f2ff0d,#f5ff0a,#f8ff07,#f9ff06,#f9ff06,#f8ff07,#f5ff0a,#f1ff0e,#ebff14,#e5ff1a,#dfff20,#d8ff27,#d2ff2d,#cbff34,#c4ff3b,#bcff43,#b3ff4c,#abff54,#a1ff5e,#98ff67,#8dff72,#82ff7d,#77ff88,#6dff92,#65ff9a,#5effa1,#59ffa6,#55ffaa,#52ffad,#50ffaf,#4fffb0,#50ffaf,#53ffac,#58ffa7,#5effa1,#66ff99,#6eff91,#76ff89,#7dff82,#82ff7d,#83ff7c,#7fff80,#75ff8a,#65ff9a,#51ffae,#3cffc3,#28ffd7,#18ffe7,#09fff6,#00faff,#00edff,#00e0ff,#00d6ff,#00d0ff,#00cfff,#00cfff,#00cbff,#00aaff,#0083ff,#0076ff,#006fff,#0063ff,#0055ff,#0046ff,#0037ff,#0028ff,#001aff,#000fff)"></div><div style="top:112.69px;height:2.51px;background:linear-gradient(90deg,#0001ff,#000aff,#0016ff,#0023ff,#0031ff,#003eff,#004cff,#0058ff,#0061ff,#0069ff,#00a0ff,#54ffab,#c3ff3c,#d3ff2c,#d9ff26,#dfff20,#e4ff1b,#e9ff16,#eeff11,#f2ff0d,#f6ff09,#f8ff07,#faff05,#faff05,#f9ff06,#f6ff09,#f2ff0d,#edff12,#e7ff18,#e0ff1f,#d8ff27,#d1ff2e,#caff35,#c3ff3c,#bbff44,#b3ff4c,#aaff55,#a1ff5e,#96ff69,#8aff75,#7eff81,#71ff8e,#66ff99,#5cffa3,#53ffac,#4cffb3,#46ffb9,#41ffbe,#3effc1,#3cffc3,#3bffc4,#3bffc4,#3dffc2,#42ffbd,#48ffb7,#4fffb0,#58ffa7,#62ff9d,#6bff94,#73ff8c,#77ff88,#75ff8a,#6dff92,#5fffa0,#4effb1,#39ffc6,#27ffd8,#18ffe7,#0afff5,#00fcff,#00f0ff,#00e3ff,#00d7ff,#00d1ff,#00d0ff,#00d2ff,#00d0ff,#00b4ff,#0087ff,#0076ff,#006fff,#0064ff,#0057ff,#0048ff,#0038ff,#0029ff,#001bff,#0010ff)"></div><div style="top:114.70px;height:2.51px;background:linear-gradient(90deg,#0003ff,#000cff,#0018ff,#0025ff,#0032ff,#0040ff,#004eff,#0059ff,#0062ff,#006cff,#00b7ff,#76ff89,#cfff30,#dbff24,#e0ff1f,#e5ff1a,#eaff15,#eeff11,#f2ff0d,#f6ff09,#f8ff07,#faff05,#fbff04,#faff05,#f8ff07,#f4ff0b,#efff10,#e9ff16,#e2ff1d,#daff25,#d2ff2d,#caff35,#c3ff3c,#bbff44,#b3ff4c,#aaff55,#a1ff5e,#95ff6a,#89ff76,#7bff84,#6dff92,#60ff9f,#54ffab,#4affb5,#41ffbe,#3affc5,#35ffca,#30ffcf,#2dffd2,#2affd5,#29ffd6,#29ffd6,#2bffd4,#2effd1,#34ffcb,#3bffc4,#44ffbb,#4fffb0,#5bffa4,#65ff9a,#6bff94,#6bff94,#65ff9a,#5affa5,#4affb5,#37ffc8,#27ffd8,#19ffe6,#0bfff4,#00feff,#00f2ff,#00e5ff,#00d9ff,#00d2ff,#00d1ff,#00d4ff,#00d5ff,#00beff,#008dff,#0077ff,#006fff,#0065ff,#0058ff,#0049ff,#003aff,#002bff,#001dff,#0011ff)"></div><div style="top:116.71px;height:2.51px;background:linear-gradient(90deg,#0004ff,#000dff,#0019ff,#0026ff,#0034ff,#0042ff,#004fff,#005bff,#0063ff,#006fff,#00d0ff,#92ff6d,#d9ff26,#e1ff1e,#e6ff19,#eaff15,#efff10,#f2ff0d,#f6ff09,#f8ff07,#faff05,#fbff04,#fbff04,#f9ff06,#f6ff09,#f1ff0e,#ebff14,#e4ff1b,#dcff23,#d4ff2b,#cbff34,#c3ff3c,#bbff44,#b3ff4c,#aaff55,#a1ff5e,#95ff6a,#88ff77,#79ff86,#6aff95,#5cffa3,#4effb1,#43ffbc,#39ffc6,#31ffce,#2bffd4,#26ffd9,#22ffdd,#1fffe0,#1cffe3,#1bffe4,#1affe5,#1bffe4,#1fffe0,#24ffdb,#2bffd4,#34ffcb,#3fffc0,#4cffb3,#57ffa8,#5fffa0,#62ff9d,#5effa1,#54ffab,#46ffb9,#35ffca,#26ffd9,#19ffe6,#0dfff2,#01fffe,#00f5ff,#00e8ff,#00dbff,#00d3ff,#00d2ff,#00d6ff,#00d9ff,#00c7ff,#0093ff,#0077ff,#006fff,#0066ff,#0059ff,#004aff,#003bff,#002cff,#001eff,#0012ff)"></div><div style="top:118.73px;height:2.51px;background:linear-gradient(90deg,#0005ff,#000eff,#001bff,#0028ff,#0036ff,#0043ff,#0051ff,#005cff,#0064ff,#0074ff,#00eaff,#a9ff56,#e0ff1f,#e7ff18,#ebff14,#efff10,#f2ff0d,#f5ff0a,#f8ff07,#faff05,#fbff04,#fbff04,#faff05,#f7ff08,#f3ff0c,#edff12,#e7ff18,#dfff20,#d7ff28,#ceff31,#c5ff3a,#bcff43,#b3ff4c,#abff54,#a1ff5e,#96ff69,#89ff76,#79ff86,#68ff97,#58ffa7,#4affb5,#3dffc2,#33ffcc,#2affd5,#23ffdc,#1effe1,#19ffe6,#16ffe9,#12ffed,#10ffef,#0efff1,#0efff1,#0ffff0,#12ffed,#18ffe7,#1fffe0,#27ffd8,#32ffcd,#3fffc0,#4bffb4,#55ffaa,#59ffa6,#57ffa8,#4effb1,#42ffbd,#33ffcc,#26ffd9,#1affe5,#0efff1,#03fffc,#00f7ff,#00ebff,#00deff,#00d5ff,#00d3ff,#00d7ff,#00dcff,#00cfff,#009aff,#0077ff,#006fff,#0066ff,#0059ff,#004bff,#003cff,#002dff,#001fff,#0013ff)"></div><div style="top:120.74px;height:2.51px;background:linear-gradient(90deg,#0006ff,#000fff,#001cff,#0029ff,#0037ff,#0045ff,#0052ff,#005dff,#0064ff,#007aff,#05fffa,#bbff44,#e6ff19,#ebff14,#efff10,#f2ff0d,#f5ff0a,#f8ff07,#f9ff06,#fbff04,#fbff04,#faff05,#f8ff07,#f4ff0b,#efff10,#e9ff16,#e2ff1d,#daff25,#d1ff2e,#c8ff37,#beff41,#b5ff4a,#acff53,#a2ff5d,#97ff68,#8aff75,#7aff85,#68ff97,#57ffa8,#47ffb8,#39ffc6,#2effd1,#25ffda,#1effe1,#18ffe7,#13ffec,#0efff1,#0afff5,#07fff8,#04fffb,#03fffc,#02fffd,#03fffc,#07fff8,#0dfff2,#15ffea,#1effe1,#28ffd7,#34ffcb,#41ffbe,#4bffb4,#51ffae,#50ffaf,#49ffb6,#3effc1,#31ffce,#25ffda,#1affe5,#0ffff0,#05fffa,#00f9ff,#00edff,#00e0ff,#00d6ff,#00d4ff,#00d9ff,#00dfff,#00d6ff,#00a1ff,#0078ff,#006eff,#0066ff,#005aff,#004cff,#003dff,#002eff,#0020ff,#0014ff)"></div><div style="top:122.75px;height:2.51px;background:linear-gradient(90deg,#0007ff,#0010ff,#001dff,#002aff,#0038ff,#0046ff,#0053ff,#005eff,#0065ff,#0081ff,#1effe1,#c9ff36,#eaff15,#efff10,#f2ff0d,#f5ff0a,#f7ff08,#f9ff06,#faff05,#faff05,#faff05,#f8ff07,#f5ff0a,#f1ff0e,#ebff14,#e5ff1a,#ddff22,#d4ff2b,#cbff34,#c1ff3e,#b7ff48,#aeff51,#a4ff5b,#99ff66,#8cff73,#7cff83,#6aff95,#58ffa7,#46ffb9,#37ffc8,#2bffd4,#21ffde,#1affe5,#13ffec,#0dfff2,#08fff7,#03fffc,#00feff,#00fbff,#00f8ff,#00f7ff,#00f6ff,#00f8ff,#00fdff,#04fffb,#0dfff2,#16ffe9,#20ffdf,#2bffd4,#37ffc8,#42ffbd,#49ffb6,#49ffb6,#44ffbb,#3affc5,#2fffd0,#25ffda,#1bffe4,#11ffee,#06fff9,#00fbff,#00f0ff,#00e2ff,#00d7ff,#00d5ff,#00daff,#00e2ff,#00dcff,#00a9ff,#0079ff,#006eff,#0066ff,#005aff,#004cff,#003dff,#002eff,#0020ff,#0015ff)"></div><div style="top:124.76px;height:2.51px;background:linear-gradient(90deg,#0008ff,#0011ff,#001eff,#002cff,#0039ff,#0047ff,#0054ff,#005eff,#0066ff,#0088ff,#34ffcb,#d3ff2c,#eeff11,#f2ff0d,#f4ff0b,#f7ff08,#f8ff07,#faff05,#faff05,#faff05,#f8ff07,#f5ff0a,#f2ff0d,#edff12,#e6ff19,#dfff20,#d7ff28,#ceff31,#c4ff3b,#baff45,#b0ff4f,#a6ff59,#9bff64,#8eff71,#7eff81,#6dff92,#5affa5,#48ffb7,#37ffc8,#2affd5,#1fffe0,#16ffe9,#0ffff0,#08fff7,#02fffd,#00fcff,#00f7ff,#00f3ff,#00efff,#00edff,#00ebff,#00ebff,#00eeff,#00f4ff,#00fcff,#06fff9,#10ffef,#1affe5,#25ffda,#30ffcf,#3affc5,#41ffbe,#42ffbd,#3effc1,#36ffc9,#2dffd2,#24ffdb,#1bffe4,#12ffed,#08fff7,#00fdff,#00f2ff,#00e4ff,#00d9ff,#00d6ff,#00dcff,#00e4ff,#00e1ff,#00b0ff,#007bff,#006dff,#0065ff,#005aff,#004cff,#003eff,#002fff,#0021ff,#0016ff)"></div><div style="top:126.78px;height:2.51px;background:linear-gradient(90deg,#0009ff,#0012ff,#001fff,#002cff,#003aff,#0048ff,#0055ff,#005fff,#0066ff,#008eff,#47ffb8,#dbff24,#f0ff0f,#f3ff0c,#f6ff09,#f8ff07,#f9ff06,#f9ff06,#f9ff06,#f8ff07,#f5ff0a,#f2ff0d,#eeff11,#e8ff17,#e1ff1e,#d9ff26,#d1ff2e,#c8ff37,#beff41,#b3ff4c,#a9ff56,#9eff61,#91ff6e,#82ff7d,#70ff8f,#5effa1,#4bffb4,#39ffc6,#2affd5,#1effe1,#15ffea,#0cfff3,#05fffa,#00fdff,#00f6ff,#00f1ff,#00ebff,#00e6ff,#00e2ff,#00dfff,#00deff,#00e0ff,#00e4ff,#00ecff,#00f5ff,#00ffff,#0afff5,#15ffea,#1fffe0,#29ffd6,#33ffcc,#39ffc6,#3cffc3,#39ffc6,#33ffcc,#2bffd4,#23ffdc,#1bffe4,#12ffed,#09fff6,#00feff,#00f3ff,#00e6ff,#00dbff,#00d8ff,#00ddff,#00e6ff,#00e5ff,#00b6ff,#007cff,#006cff,#0065ff,#005aff,#004cff,#003eff,#002fff,#0021ff,#0016ff)"></div><div style="top:128.79px;height:2.51px;background:linear-gradient(90deg,#0009ff,#0013ff,#0020ff,#002dff,#003bff,#0049ff,#0056ff,#005fff,#0067ff,#0095ff,#56ffa9,#e1ff1e,#f2ff0d,#f4ff0b,#f6ff09,#f8ff07,#f8ff07,#f8ff07,#f7ff08,#f5ff0a,#f2ff0d,#eeff11,#e9ff16,#e2ff1d,#dbff24,#d3ff2c,#caff35,#c1ff3e,#b7ff48,#acff53,#a1ff5e,#95ff6a,#86ff79,#74ff8b,#62ff9d,#4fffb0,#3cffc3,#2cffd3,#1fffe0,#14ffeb,#0bfff4,#02fffd,#00f9ff,#00f2ff,#00eaff,#00e4ff,#00deff,#00d8ff,#00d5ff,#00d2ff,#00d2ff,#00d5ff,#00daff,#00e4ff,#00efff,#00faff,#06fff9,#10ffef,#1bffe4,#24ffdb,#2dffd2,#33ffcc,#36ffc9,#34ffcb,#30ffcf,#29ffd6,#23ffdc,#1bffe4,#13ffec,#0afff5,#00ffff,#00f5ff,#00e9ff,#00ddff,#00d9ff,#00deff,#00e7ff,#00e8ff,#00baff,#007dff,#006bff,#0064ff,#005aff,#004cff,#003eff,#002fff,#0021ff,#0016ff)"></div><div style="top:130.80px;height:2.51px;background:linear-gradient(90deg,#000aff,#0013ff,#0020ff,#002eff,#003cff,#0049ff,#0056ff,#0060ff,#0068ff,#009bff,#62ff9d,#e4ff1b,#f3ff0c,#f4ff0b,#f6ff09,#f7ff08,#f7ff08,#f6ff09,#f5ff0a,#f2ff0d,#eeff11,#e9ff16,#e3ff1c,#dcff23,#d5ff2a,#ccff33,#c3ff3c,#baff45,#afff50,#a4ff5b,#99ff66,#8aff75,#79ff86,#67ff98,#54ffab,#41ffbe,#30ffcf,#22ffdd,#16ffe9,#0bfff4,#02fffd,#00f8ff,#00efff,#00e6ff,#00ddff,#00d6ff,#00d0ff,#00cbff,#00c8ff,#00c6ff,#00c7ff,#00cbff,#00d2ff,#00dcff,#00e9ff,#00f5ff,#02fffd,#0cfff3,#17ffe8,#20ffdf,#28ffd7,#2effd1,#31ffce,#30ffcf,#2dffd2,#28ffd7,#22ffdd,#1bffe4,#13ffec,#0bfff4,#01fffe,#00f7ff,#00ebff,#00e0ff,#00dcff,#00e0ff,#00e8ff,#00e9ff,#00beff,#007eff,#006bff,#0063ff,#0059ff,#004cff,#003eff,#002fff,#0021ff,#0016ff)"></div><div style="top:132.81px;height:2.51px;background:linear-gradient(90deg,#000aff,#0014ff,#0020ff,#002eff,#003cff,#004aff,#0057ff,#0060ff,#0068ff,#00a1ff,#6aff95,#e5ff1a,#f2ff0d,#f4ff0b,#f4ff0b,#f5ff0a,#f5ff0a,#f4ff0b,#f1ff0e,#eeff11,#e9ff16,#e4ff1b,#ddff22,#d6ff29,#ceff31,#c5ff3a,#bcff43,#b2ff4d,#a8ff57,#9cff63,#8fff70,#7eff81,#6cff93,#59ffa6,#46ffb9,#35ffca,#26ffd9,#19ffe6,#0efff1,#03fffc,#00f8ff,#00eeff,#00e3ff,#00d9ff,#00d0ff,#00c8ff,#00c3ff,#00beff,#00bcff,#00bbff,#00bdff,#00c2ff,#00caff,#00d5ff,#00e3ff,#00f1ff,#00fdff,#09fff6,#14ffeb,#1dffe2,#25ffda,#2affd5,#2dffd2,#2dffd2,#2bffd4,#27ffd8,#21ffde,#1bffe4,#13ffec,#0bfff4,#02fffd,#00f8ff,#00eeff,#00e4ff,#00dfff,#00e2ff,#00e9ff,#00eaff,#00c0ff,#007eff,#006aff,#0063ff,#0059ff,#004cff,#003eff,#002fff,#0021ff,#0016ff)"></div><div style="top:134.82px;height:2.51px;background:linear-gradient(90deg,#000aff,#0014ff,#0021ff,#002fff,#003cff,#004aff,#0057ff,#0060ff,#0069ff,#00a4ff,#6eff91,#e5ff1a,#f1ff0e,#f2ff0d,#f2ff0d,#f2ff0d,#f1ff0e,#f0ff0f,#edff12,#e9ff16,#e3ff1c,#ddff22,#d6ff29,#cfff30,#c6ff39,#bdff42,#b4ff4b,#aaff55,#9fff60,#93ff6c,#83ff7c,#71ff8e,#5fffa0,#4cffb3,#3affc5,#2affd5,#1dffe2,#11ffee,#06fff9,#00faff,#00efff,#00e3ff,#00d7ff,#00ccff,#00c3ff,#00bcff,#00b7ff,#00b3ff,#00b1ff,#00b2ff,#00b5ff,#00baff,#00c3ff,#00cfff,#00deff,#00edff,#00faff,#07fff8,#11ffee,#1bffe4,#22ffdd,#28ffd7,#2bffd4,#2bffd4,#29ffd6,#26ffd9,#21ffde,#1affe5,#13ffec,#0cfff3,#04fffb,#00fbff,#00f2ff,#00e9ff,#00e4ff,#00e6ff,#00ebff,#00ebff,#00c2ff,#007fff,#0069ff,#0062ff,#0058ff,#004bff,#003dff,#002fff,#0021ff,#0016ff)"></div><div style="top:136.84px;height:2.51px;background:linear-gradient(90deg,#000aff,#0014ff,#0021ff,#002fff,#003dff,#004aff,#0057ff,#0060ff,#0069ff,#00a6ff,#6fff90,#e3ff1c,#eeff11,#eeff11,#eeff11,#eeff11,#edff12,#ebff14,#e8ff17,#e3ff1c,#ddff22,#d6ff29,#ceff31,#c7ff38,#beff41,#b5ff4a,#acff53,#a1ff5e,#96ff69,#87ff78,#77ff88,#64ff9b,#52ffad,#40ffbf,#2fffd0,#21ffde,#15ffea,#0afff5,#00feff,#00f2ff,#00e5ff,#00d8ff,#00ccff,#00c1ff,#00b8ff,#00b1ff,#00acff,#00a9ff,#00a8ff,#00a9ff,#00adff,#00b4ff,#00beff,#00caff,#00daff,#00eaff,#00f8ff,#04fffb,#0ffff0,#19ffe6,#21ffde,#26ffd9,#29ffd6,#2affd5,#28ffd7,#25ffda,#20ffdf,#1bffe4,#14ffeb,#0dfff2,#06fff9,#00feff,#00f6ff,#00efff,#00ebff,#00ebff,#00eeff,#00eeff,#00c6ff,#007fff,#0068ff,#0061ff,#0057ff,#004aff,#003dff,#002fff,#0021ff,#0016ff)"></div><div style="top:138.85px;height:2.51px;background:linear-gradient(90deg,#000aff,#0014ff,#0021ff,#002fff,#003dff,#004aff,#0057ff,#0060ff,#0069ff,#00a5ff,#6dff92,#e0ff1f,#eaff15,#eaff15,#e9ff16,#e9ff16,#e7ff18,#e5ff1a,#e1ff1e,#dcff23,#d5ff2a,#ceff31,#c6ff39,#beff41,#b5ff4a,#acff53,#a3ff5c,#98ff67,#8aff75,#7bff84,#69ff96,#58ffa7,#45ffba,#34ffcb,#26ffd9,#1affe5,#0efff1,#03fffc,#00f7ff,#00eaff,#00dcff,#00ceff,#00c1ff,#00b7ff,#00aeff,#00a8ff,#00a3ff,#00a0ff,#00a0ff,#00a2ff,#00a6ff,#00aeff,#00b9ff,#00c6ff,#00d6ff,#00e7ff,#00f6ff,#03fffc,#0efff1,#17ffe8,#1fffe0,#25ffda,#28ffd7,#29ffd6,#28ffd7,#25ffda,#21ffde,#1bffe4,#15ffea,#0ffff0,#09fff6,#02fffd,#00fcff,#00f6ff,#00f3ff,#00f2ff,#00f5ff,#00f5ff,#00cbff,#0080ff,#0067ff,#0060ff,#0057ff,#004aff,#003cff,#002eff,#0021ff,#0016ff)"></div><div style="top:140.86px;height:2.51px;background:linear-gradient(90deg,#000aff,#0014ff,#0021ff,#002eff,#003cff,#004aff,#0057ff,#0060ff,#0069ff,#00a2ff,#68ff97,#dbff24,#e5ff1a,#e4ff1b,#e3ff1c,#e2ff1d,#e0ff1f,#deff21,#daff25,#d4ff2b,#cdff32,#c5ff3a,#bdff42,#b4ff4b,#acff53,#a3ff5c,#99ff66,#8cff73,#7eff81,#6dff92,#5cffa3,#4bffb4,#3affc5,#2bffd4,#1effe1,#13ffec,#07fff8,#00fbff,#00efff,#00e1ff,#00d2ff,#00c4ff,#00b8ff,#00aeff,#00a5ff,#009fff,#009bff,#0099ff,#0099ff,#009bff,#00a1ff,#00a9ff,#00b5ff,#00c3ff,#00d4ff,#00e5ff,#00f5ff,#02fffd,#0cfff3,#16ffe9,#1effe1,#24ffdb,#28ffd7,#29ffd6,#28ffd7,#25ffda,#21ffde,#1cffe3,#17ffe8,#12ffed,#0cfff3,#08fff7,#03fffc,#00ffff,#00fcff,#00fcff,#00ffff,#01fffe,#00d1ff,#0080ff,#0067ff,#0060ff,#0056ff,#004aff,#003cff,#002eff,#0020ff,#0016ff)"></div><div style="top:142.87px;height:2.51px;background:linear-gradient(90deg,#000aff,#0014ff,#0020ff,#002eff,#003cff,#004aff,#0057ff,#0060ff,#0068ff,#009eff,#5fffa0,#d4ff2b,#dfff20,#deff21,#dcff23,#daff25,#d9ff26,#d6ff29,#d1ff2e,#cbff34,#c3ff3c,#bbff44,#b3ff4c,#aaff55,#a2ff5d,#98ff67,#8cff73,#7fff80,#70ff8f,#60ff9f,#4fffb0,#3fffc0,#2fffd0,#23ffdc,#17ffe8,#0cfff3,#01fffe,#00f5ff,#00e7ff,#00d8ff,#00c9ff,#00bcff,#00b0ff,#00a6ff,#009eff,#0098ff,#0094ff,#0092ff,#0093ff,#0096ff,#009cff,#00a6ff,#00b2ff,#00c1ff,#00d2ff,#00e4ff,#00f4ff,#01fffe,#0cfff3,#16ffe9,#1effe1,#24ffdb,#27ffd8,#28ffd7,#28ffd7,#25ffda,#22ffdd,#1effe1,#1affe5,#15ffea,#11ffee,#0efff1,#0bfff4,#09fff6,#09fff6,#0afff5,#0efff1,#0efff1,#00d8ff,#0081ff,#0067ff,#0060ff,#0056ff,#0049ff,#003cff,#002eff,#0020ff,#0015ff)"></div><div style="top:144.89px;height:2.51px;background:linear-gradient(90deg,#000aff,#0013ff,#0020ff,#002eff,#003cff,#0049ff,#0056ff,#0060ff,#0068ff,#0098ff,#53ffac,#cdff32,#d8ff27,#d6ff29,#d4ff2b,#d2ff2d,#cfff30,#ccff33,#c7ff38,#c1ff3e,#b9ff46,#b1ff4e,#a8ff57,#9fff60,#96ff69,#8bff74,#7eff81,#70ff8f,#61ff9e,#52ffad,#42ffbd,#33ffcc,#27ffd8,#1cffe3,#11ffee,#06fff9,#00faff,#00eeff,#00e0ff,#00d0ff,#00c2ff,#00b5ff,#00a9ff,#009fff,#0097ff,#0092ff,#008eff,#008dff,#008eff,#0092ff,#0099ff,#00a3ff,#00b0ff,#00c0ff,#00d1ff,#00e3ff,#00f3ff,#01fffe,#0bfff4,#15ffea,#1dffe2,#24ffdb,#27ffd8,#28ffd7,#28ffd7,#26ffd9,#23ffdc,#20ffdf,#1dffe2,#1affe5,#17ffe8,#16ffe9,#15ffea,#15ffea,#16ffe9,#19ffe6,#1fffe0,#1fffe0,#00e0ff,#0081ff,#0067ff,#005fff,#0056ff,#0049ff,#003bff,#002dff,#0020ff,#0015ff)"></div><div style="top:146.90px;height:2.51px;background:linear-gradient(90deg,#0009ff,#0013ff,#001fff,#002dff,#003bff,#0049ff,#0056ff,#005fff,#0067ff,#0091ff,#44ffbb,#c3ff3c,#cfff30,#cdff32,#cbff34,#c8ff37,#c6ff39,#c2ff3d,#bdff42,#b6ff49,#aeff51,#a5ff5a,#9cff63,#92ff6d,#87ff78,#7bff84,#6eff91,#61ff9e,#52ffad,#44ffbb,#36ffc9,#2affd5,#1fffe0,#15ffea,#0bfff4,#01fffe,#00f5ff,#00e7ff,#00d8ff,#00c9ff,#00bbff,#00aeff,#00a3ff,#0099ff,#0092ff,#008dff,#008aff,#0089ff,#008aff,#008eff,#0096ff,#00a1ff,#00afff,#00bfff,#00d1ff,#00e4ff,#00f4ff,#01fffe,#0bfff4,#15ffea,#1dffe2,#23ffdc,#27ffd8,#28ffd7,#28ffd7,#27ffd8,#25ffda,#23ffdc,#21ffde,#1fffe0,#1fffe0,#1fffe0,#20ffdf,#23ffdc,#27ffd8,#2dffd2,#36ffc9,#36ffc9,#00e8ff,#0081ff,#0066ff,#005fff,#0055ff,#0048ff,#003bff,#002dff,#001fff,#0014ff)"></div><div style="top:148.91px;height:2.51px;background:linear-gradient(90deg,#0009ff,#0012ff,#001fff,#002cff,#003aff,#0048ff,#0055ff,#005fff,#0066ff,#008aff,#32ffcd,#b8ff47,#c7ff38,#c4ff3b,#c1ff3e,#beff41,#bbff44,#b7ff48,#b2ff4d,#abff54,#a2ff5d,#98ff67,#8dff72,#82ff7d,#76ff89,#6aff95,#5effa1,#51ffae,#44ffbb,#37ffc8,#2bffd4,#21ffde,#18ffe7,#0ffff0,#05fffa,#00faff,#00efff,#00e1ff,#00d2ff,#00c4ff,#00b6ff,#00a9ff,#009eff,#0095ff,#008eff,#0089ff,#0086ff,#0086ff,#0088ff,#008cff,#0094ff,#00a0ff,#00afff,#00c0ff,#00d2ff,#00e5ff,#00f4ff,#01fffe,#0bfff4,#15ffea,#1dffe2,#23ffdc,#26ffd9,#28ffd7,#28ffd7,#28ffd7,#27ffd8,#26ffd9,#25ffda,#26ffd9,#27ffd8,#2affd5,#2fffd0,#35ffca,#3dffc2,#47ffb8,#53ffac,#50ffaf,#00f0ff,#007fff,#0066ff,#005fff,#0054ff,#0048ff,#003aff,#002cff,#001eff,#0014ff)"></div><div style="top:150.92px;height:2.51px;background:linear-gradient(90deg,#0008ff,#0011ff,#001eff,#002bff,#0039ff,#0047ff,#0054ff,#005eff,#0066ff,#0084ff,#1dffe2,#abff54,#beff41,#bbff44,#b7ff48,#b4ff4b,#b1ff4e,#acff53,#a7ff58,#9fff60,#95ff6a,#89ff76,#7cff83,#70ff8f,#64ff9b,#59ffa6,#4dffb2,#41ffbe,#36ffc9,#2cffd3,#22ffdd,#1affe5,#11ffee,#09fff6,#00ffff,#00f5ff,#00e9ff,#00dbff,#00cdff,#00bfff,#00b2ff,#00a5ff,#009aff,#0091ff,#008bff,#0087ff,#0085ff,#0085ff,#0086ff,#008bff,#0094ff,#00a0ff,#00b0ff,#00c1ff,#00d4ff,#00e6ff,#00f5ff,#01fffe,#0bfff4,#14ffeb,#1cffe3,#22ffdd,#26ffd9,#28ffd7,#29ffd6,#29ffd6,#29ffd6,#29ffd6,#2bffd4,#2dffd2,#32ffcd,#38ffc7,#41ffbe,#4cffb3,#58ffa7,#65ff9a,#73ff8c,#69ff96,#00f4ff,#007dff,#0065ff,#005eff,#0054ff,#0047ff,#0039ff,#002bff,#001eff,#0013ff)"></div><div style="top:152.94px;height:2.51px;background:linear-gradient(90deg,#0007ff,#0010ff,#001dff,#002aff,#0038ff,#0046ff,#0053ff,#005eff,#0065ff,#007dff,#07fff8,#9dff62,#b5ff4a,#b2ff4d,#aeff51,#aaff55,#a6ff59,#a1ff5e,#9aff65,#91ff6e,#86ff79,#78ff87,#6aff95,#5dffa2,#52ffad,#47ffb8,#3dffc2,#33ffcc,#2affd5,#22ffdd,#1affe5,#12ffed,#0bfff4,#03fffc,#00faff,#00f0ff,#00e4ff,#00d6ff,#00c9ff,#00bbff,#00aeff,#00a2ff,#0098ff,#008fff,#0089ff,#0085ff,#0084ff,#0084ff,#0086ff,#008bff,#0094ff,#00a1ff,#00b2ff,#00c4ff,#00d7ff,#00e9ff,#00f7ff,#02fffd,#0cfff3,#14ffeb,#1cffe3,#21ffde,#25ffda,#28ffd7,#29ffd6,#2affd5,#2bffd4,#2dffd2,#31ffce,#37ffc8,#3fffc0,#49ffb6,#56ffa9,#65ff9a,#75ff8a,#84ff7b,#91ff6e,#7dff82,#00f1ff,#007aff,#0065ff,#005dff,#0053ff,#0045ff,#0038ff,#002aff,#001dff,#0012ff)"></div><div style="top:154.95px;height:2.51px;background:linear-gradient(90deg,#0006ff,#000fff,#001cff,#0029ff,#0037ff,#0045ff,#0052ff,#005dff,#0064ff,#0077ff,#00eeff,#8dff72,#acff53,#a9ff56,#a4ff5b,#a0ff5f,#9bff64,#95ff6a,#8dff72,#82ff7d,#74ff8b,#66ff99,#58ffa7,#4bffb4,#40ffbf,#36ffc9,#2effd1,#26ffd9,#1fffe0,#19ffe6,#12ffed,#0bfff4,#04fffb,#00fcff,#00f4ff,#00ebff,#00dfff,#00d2ff,#00c5ff,#00b9ff,#00acff,#00a1ff,#0096ff,#008eff,#0088ff,#0085ff,#0084ff,#0085ff,#0087ff,#008dff,#0096ff,#00a4ff,#00b6ff,#00c8ff,#00dbff,#00ecff,#00f8ff,#03fffc,#0cfff3,#14ffeb,#1bffe4,#21ffde,#25ffda,#27ffd8,#2affd5,#2cffd3,#2effd1,#32ffcd,#38ffc7,#41ffbe,#4dffb2,#5cffa3,#6dff92,#7fff80,#90ff6f,#9fff60,#aaff55,#89ff76,#00e8ff,#0076ff,#0064ff,#005cff,#0051ff,#0044ff,#0036ff,#0029ff,#001bff,#0011ff)"></div><div style="top:156.96px;height:2.51px;background:linear-gradient(90deg,#0005ff,#000eff,#001aff,#0028ff,#0036ff,#0043ff,#0050ff,#005cff,#0063ff,#0072ff,#00d6ff,#7aff85,#a3ff5c,#a0ff5f,#9bff64,#95ff6a,#8fff70,#87ff78,#7dff82,#70ff8f,#62ff9d,#53ffac,#45ffba,#39ffc6,#30ffcf,#28ffd7,#21ffde,#1bffe4,#15ffea,#10ffef,#09fff6,#03fffc,#00fcff,#00f6ff,#00eeff,#00e5ff,#00daff,#00ceff,#00c3ff,#00b7ff,#00abff,#00a0ff,#0096ff,#008eff,#0088ff,#0086ff,#0085ff,#0086ff,#008aff,#0090ff,#009aff,#00a9ff,#00bbff,#00cdff,#00e0ff,#00efff,#00faff,#05fffa,#0dfff2,#15ffea,#1bffe4,#20ffdf,#24ffdb,#27ffd8,#2affd5,#2dffd2,#31ffce,#37ffc8,#41ffbe,#4dffb2,#5cffa3,#6eff91,#82ff7d,#95ff6a,#a7ff58,#b6ff49,#c0ff3f,#8eff71,#00daff,#0072ff,#0063ff,#005bff,#0050ff,#0043ff,#0035ff,#0027ff,#001aff,#0010ff)"></div><div style="top:158.97px;height:2.51px;background:linear-gradient(90deg,#0004ff,#000dff,#0019ff,#0026ff,#0034ff,#0042ff,#004fff,#005aff,#0063ff,#006eff,#00beff,#63ff9c,#9aff65,#97ff68,#90ff6f,#88ff77,#80ff7f,#76ff89,#6bff94,#5fffa0,#50ffaf,#42ffbd,#35ffca,#2affd5,#22ffdd,#1bffe4,#15ffea,#10ffef,#0bfff4,#06fff9,#01fffe,#00faff,#00f4ff,#00eeff,#00e7ff,#00dfff,#00d5ff,#00cbff,#00c0ff,#00b5ff,#00aaff,#00a0ff,#0096ff,#008fff,#008aff,#0087ff,#0087ff,#0089ff,#008dff,#0095ff,#00a0ff,#00afff,#00c1ff,#00d4ff,#00e5ff,#00f2ff,#00fcff,#06fff9,#0efff1,#15ffea,#1bffe4,#20ffdf,#24ffdb,#27ffd8,#2affd5,#2effd1,#34ffcb,#3dffc2,#48ffb7,#58ffa7,#6aff95,#7fff80,#94ff6b,#a8ff57,#bbff44,#ccff33,#d4ff2b,#8cff73,#00c9ff,#006eff,#0062ff,#005aff,#004eff,#0041ff,#0033ff,#0026ff,#0019ff,#000eff)"></div><div style="top:160.98px;height:2.51px;background:linear-gradient(90deg,#0003ff,#000bff,#0018ff,#0025ff,#0032ff,#0040ff,#004dff,#0059ff,#0062ff,#006aff,#00a8ff,#48ffb7,#8eff71,#8cff73,#83ff7c,#7aff85,#70ff8f,#66ff99,#5affa5,#4dffb2,#3fffc0,#31ffce,#26ffd9,#1cffe3,#15ffea,#0efff1,#09fff6,#05fffa,#00ffff,#00fbff,#00f5ff,#00f0ff,#00eaff,#00e5ff,#00deff,#00d8ff,#00d0ff,#00c8ff,#00beff,#00b4ff,#00aaff,#00a0ff,#0097ff,#0091ff,#008cff,#008aff,#008bff,#008dff,#0092ff,#009aff,#00a6ff,#00b6ff,#00c8ff,#00daff,#00eaff,#00f6ff,#00ffff,#08fff7,#0ffff0,#16ffe9,#1cffe3,#20ffdf,#24ffdb,#28ffd7,#2bffd4,#30ffcf,#37ffc8,#42ffbd,#50ffaf,#62ff9d,#78ff87,#8fff70,#a4ff5b,#b9ff46,#ceff31,#e0ff1f,#e3ff1c,#7fff80,#00b5ff,#006bff,#0061ff,#0059ff,#004dff,#003fff,#0032ff,#0024ff,#0017ff,#000dff)"></div><div style="top:163.00px;height:2.51px;background:linear-gradient(90deg,#0001ff,#000aff,#0016ff,#0023ff,#0030ff,#003eff,#004bff,#0058ff,#0061ff,#0068ff,#0095ff,#29ffd6,#80ff7f,#80ff7f,#75ff8a,#6bff94,#60ff9f,#54ffab,#48ffb7,#3cffc3,#2fffd0,#23ffdc,#18ffe7,#0ffff0,#07fff8,#01fffe,#00fbff,#00f7ff,#00f2ff,#00eeff,#00e8ff,#00e3ff,#00deff,#00d9ff,#00d5ff,#00d0ff,#00cbff,#00c5ff,#00bcff,#00b3ff,#00aaff,#00a1ff,#0099ff,#0093ff,#0090ff,#008eff,#008fff,#0092ff,#0098ff,#00a1ff,#00adff,#00bdff,#00cfff,#00e0ff,#00eeff,#00f9ff,#02fffd,#0afff5,#11ffee,#17ffe8,#1cffe3,#21ffde,#25ffda,#28ffd7,#2cffd3,#32ffcd,#3affc5,#47ffb8,#57ffa8,#6cff93,#84ff7b,#9cff63,#b2ff4d,#c9ff36,#dfff20,#f0ff0f,#eaff15,#67ff98,#00a1ff,#0069ff,#0060ff,#0057ff,#004bff,#003eff,#0030ff,#0022ff,#0016ff,#000bff)"></div><div style="top:165.01px;height:2.51px;background:linear-gradient(90deg,#0000ff,#0008ff,#0014ff,#0021ff,#002eff,#003cff,#0049ff,#0056ff,#005fff,#0066ff,#0085ff,#06fff9,#6dff92,#73ff8c,#67ff98,#5bffa4,#4fffb0,#43ffbc,#38ffc7,#2cffd3,#21ffde,#16ffe9,#0bfff4,#01fffe,#00f7ff,#00f0ff,#00eaff,#00e5ff,#00e1ff,#00dcff,#00d7ff,#00d3ff,#00cfff,#00ccff,#00caff,#00c8ff,#00c5ff,#00c1ff,#00baff,#00b2ff,#00a9ff,#00a2ff,#009bff,#0096ff,#0093ff,#0093ff,#0094ff,#0098ff,#009eff,#00a8ff,#00b4ff,#00c3ff,#00d5ff,#00e5ff,#00f2ff,#00fcff,#05fffa,#0cfff3,#13ffec,#19ffe6,#1effe1,#22ffdd,#26ffd9,#29ffd6,#2dffd2,#34ffcb,#3effc1,#4cffb3,#5effa1,#75ff8a,#8fff70,#a7ff58,#bfff40,#d7ff28,#edff12,#fcff03,#e7ff18,#44ffbb,#008fff,#0067ff,#005fff,#0055ff,#0049ff,#003cff,#002eff,#0021ff,#0014ff,#000aff)"></div><div style="top:167.02px;height:2.51px;background:linear-gradient(90deg,#0000fd,#0007ff,#0012ff,#001fff,#002cff,#003aff,#0047ff,#0054ff,#005eff,#0065ff,#0079ff,#00e1ff,#56ffa9,#65ff9a,#59ffa6,#4cffb3,#3fffc0,#33ffcc,#29ffd6,#1effe1,#14ffeb,#08fff7,#00faff,#00efff,#00e4ff,#00dbff,#00d4ff,#00cfff,#00cbff,#00c7ff,#00c3ff,#00c0ff,#00beff,#00beff,#00beff,#00beff,#00beff,#00bbff,#00b6ff,#00afff,#00a9ff,#00a2ff,#009dff,#0099ff,#0097ff,#0097ff,#009aff,#009eff,#00a5ff,#00afff,#00bbff,#00caff,#00daff,#00eaff,#00f5ff,#00feff,#07fff8,#0ffff0,#15ffea,#1bffe4,#1fffe0,#23ffdc,#27ffd8,#2bffd4,#30ffcf,#37ffc8,#42ffbd,#51ffae,#65ff9a,#7eff81,#99ff66,#b1ff4e,#cbff34,#e4ff1b,#f8ff07,#fffb00,#daff25,#1bffe4,#0080ff,#0065ff,#005eff,#0053ff,#0047ff,#0039ff,#002cff,#001fff,#0012ff,#0008ff)"></div><div style="top:169.03px;height:2.51px;background:linear-gradient(90deg,#0000fc,#0005ff,#0010ff,#001dff,#002aff,#0037ff,#0045ff,#0052ff,#005cff,#0064ff,#0071ff,#00bfff,#3bffc4,#56ffa9,#4affb5,#3dffc2,#30ffcf,#25ffda,#1bffe4,#11ffee,#05fffa,#00f6ff,#00e7ff,#00d8ff,#00cbff,#00c2ff,#00bbff,#00b6ff,#00b3ff,#00b1ff,#00aeff,#00adff,#00adff,#00aeff,#00b0ff,#00b3ff,#00b5ff,#00b5ff,#00b1ff,#00acff,#00a7ff,#00a3ff,#009fff,#009cff,#009cff,#009dff,#009fff,#00a4ff,#00acff,#00b5ff,#00c2ff,#00d0ff,#00dfff,#00eeff,#00f8ff,#02fffd,#0afff5,#11ffee,#18ffe7,#1dffe2,#22ffdd,#25ffda,#29ffd6,#2dffd2,#33ffcc,#3bffc4,#46ffb9,#56ffa9,#6cff93,#86ff79,#a1ff5e,#bbff44,#d6ff29,#efff10,#fffd00,#fff600,#c6ff39,#00f0ff,#0075ff,#0064ff,#005cff,#0051ff,#0044ff,#0037ff,#002aff,#001cff,#0010ff,#0006ff)"></div><div style="top:171.05px;height:2.51px;background:linear-gradient(90deg,#0000fa,#0003ff,#000eff,#001bff,#0028ff,#0035ff,#0042ff,#004fff,#005aff,#0062ff,#006bff,#00a1ff,#1bffe4,#47ffb8,#3dffc2,#2fffd0,#23ffdc,#19ffe6,#0efff1,#03fffc,#00f3ff,#00e2ff,#00cfff,#00beff,#00b1ff,#00a8ff,#00a2ff,#009eff,#009cff,#009aff,#009aff,#009aff,#009bff,#009eff,#00a2ff,#00a6ff,#00aaff,#00acff,#00abff,#00a8ff,#00a5ff,#00a2ff,#00a0ff,#009fff,#00a0ff,#00a2ff,#00a6ff,#00abff,#00b3ff,#00bcff,#00c8ff,#00d6ff,#00e4ff,#00f1ff,#00fbff,#05fffa,#0dfff2,#15ffea,#1bffe4,#20ffdf,#24ffdb,#28ffd7,#2cffd3,#31ffce,#38ffc7,#40ffbf,#4cffb3,#5cffa3,#73ff8c,#8eff71,#a9ff56,#c4ff3b,#e0ff1f,#f8ff07,#fff600,#fff100,#a8ff57,#00c9ff,#006eff,#0062ff,#005aff,#004fff,#0042ff,#0035ff,#0027ff,#001aff,#000eff,#0005ff)"></div><div style="top:173.06px;height:2.51px;background:linear-gradient(90deg,#0000f8,#0001ff,#000cff,#0018ff,#0025ff,#0032ff,#0040ff,#004dff,#0058ff,#0061ff,#0068ff,#008aff,#00f5ff,#35ffca,#30ffcf,#24ffdb,#18ffe7,#0dfff2,#00ffff,#00f1ff,#00deff,#00c8ff,#00b4ff,#00a4ff,#0098ff,#0091ff,#008dff,#008bff,#008aff,#008aff,#008aff,#008aff,#008cff,#008fff,#0093ff,#0099ff,#009eff,#00a2ff,#00a3ff,#00a3ff,#00a2ff,#00a2ff,#00a2ff,#00a2ff,#00a4ff,#00a7ff,#00acff,#00b2ff,#00baff,#00c4ff,#00cfff,#00dcff,#00e9ff,#00f5ff,#00ffff,#09fff6,#11ffee,#18ffe7,#1effe1,#23ffdc,#28ffd7,#2cffd3,#31ffce,#37ffc8,#3effc1,#47ffb8,#53ffac,#64ff9b,#7bff84,#96ff69,#b1ff4e,#ceff31,#eaff15,#fffe00,#ffed00,#ffee00,#7eff81,#00a7ff,#0069ff,#0061ff,#0058ff,#004cff,#003fff,#0032ff,#0025ff,#0018ff,#000cff,#0003ff)"></div><div style="top:175.07px;height:2.51px;background:linear-gradient(90deg,#0000f6,#0000fe,#000aff,#0016ff,#0022ff,#0030ff,#003dff,#004aff,#0056ff,#005fff,#0066ff,#007aff,#00d0ff,#21ffde,#26ffd9,#1affe5,#0efff1,#01fffe,#00f0ff,#00dcff,#00c5ff,#00aeff,#009bff,#008fff,#0087ff,#0083ff,#0081ff,#0080ff,#0080ff,#0080ff,#0080ff,#0081ff,#0082ff,#0085ff,#0088ff,#008cff,#0092ff,#0097ff,#009aff,#009dff,#009fff,#00a1ff,#00a3ff,#00a5ff,#00a9ff,#00adff,#00b2ff,#00b9ff,#00c1ff,#00cbff,#00d6ff,#00e3ff,#00eeff,#00f9ff,#03fffc,#0cfff3,#14ffeb,#1cffe3,#22ffdd,#27ffd8,#2cffd3,#31ffce,#37ffc8,#3effc1,#46ffb9,#50ffaf,#5dffa2,#6eff91,#85ff7a,#9fff60,#baff45,#d7ff28,#f3ff0c,#fff700,#ffe100,#fff500,#48ffb7,#008cff,#0066ff,#005fff,#0056ff,#0049ff,#003cff,#002fff,#0022ff,#0015ff,#000aff,#0001ff)"></div><div style="top:177.08px;height:2.51px;background:linear-gradient(90deg,#0000f5,#0000fc,#0008ff,#0013ff,#0020ff,#002dff,#003aff,#0047ff,#0053ff,#005dff,#0064ff,#0070ff,#00aeff,#09fff6,#1cffe3,#11ffee,#04fffb,#00f3ff,#00dfff,#00c6ff,#00acff,#0097ff,#0089ff,#0082ff,#007eff,#007bff,#007aff,#007aff,#007aff,#007aff,#007bff,#007cff,#007dff,#007fff,#0081ff,#0084ff,#0088ff,#008dff,#0092ff,#0097ff,#009bff,#00a0ff,#00a4ff,#00a8ff,#00adff,#00b3ff,#00b9ff,#00c0ff,#00c9ff,#00d3ff,#00deff,#00e9ff,#00f4ff,#00fdff,#07fff8,#10ffef,#18ffe7,#1fffe0,#26ffd9,#2bffd4,#31ffce,#38ffc7,#3fffc0,#48ffb7,#51ffae,#5bffa4,#69ff96,#7aff85,#90ff6f,#a8ff57,#c3ff3c,#e1ff1e,#fbff04,#ffed00,#ffd300,#f4ff0b,#0cfff3,#007aff,#0064ff,#005dff,#0053ff,#0047ff,#0039ff,#002cff,#001fff,#0013ff,#0007ff,#0000fd)"></div><div style="top:179.10px;height:2.51px;background:linear-gradient(90deg,#0000f3,#0000fa,#0005ff,#0011ff,#001dff,#002aff,#0037ff,#0044ff,#0050ff,#005bff,#0063ff,#006aff,#0093ff,#00ebff,#11ffee,#08fff7,#00f9ff,#00e7ff,#00ceff,#00b0ff,#0098ff,#0087ff,#007fff,#007aff,#0078ff,#0076ff,#0075ff,#0075ff,#0075ff,#0075ff,#0076ff,#0077ff,#0079ff,#007bff,#007dff,#007fff,#0082ff,#0085ff,#008aff,#0090ff,#0097ff,#009eff,#00a5ff,#00abff,#00b2ff,#00b9ff,#00c0ff,#00c8ff,#00d1ff,#00dbff,#00e5ff,#00f0ff,#00f8ff,#02fffd,#0bfff4,#13ffec,#1cffe3,#23ffdc,#2affd5,#31ffce,#38ffc7,#40ffbf,#49ffb6,#52ffad,#5dffa2,#69ff96,#77ff88,#88ff77,#9cff63,#b3ff4c,#cdff32,#ebff14,#fffb00,#ffe000,#ffc600,#caff35,#00d3ff,#006fff,#0062ff,#005bff,#0050ff,#0043ff,#0036ff,#0029ff,#001cff,#0010ff,#0005ff,#0000fb)"></div><div style="top:181.11px;height:2.51px;background:linear-gradient(90deg,#0000f1,#0000f8,#0003ff,#000eff,#001aff,#0026ff,#0034ff,#0041ff,#004dff,#0058ff,#0061ff,#0067ff,#007fff,#00cbff,#03fffc,#01fffe,#00f1ff,#00deff,#00c0ff,#009fff,#008aff,#007fff,#0079ff,#0075ff,#0073ff,#0071ff,#0070ff,#0070ff,#0070ff,#0070ff,#0071ff,#0073ff,#0075ff,#0077ff,#0079ff,#007cff,#007eff,#0081ff,#0085ff,#008bff,#0093ff,#009dff,#00a6ff,#00aeff,#00b7ff,#00bfff,#00c7ff,#00d0ff,#00d9ff,#00e3ff,#00edff,#00f6ff,#00fdff,#07fff8,#0ffff0,#17ffe8,#20ffdf,#28ffd7,#2fffd0,#38ffc7,#41ffbe,#4affb5,#54ffab,#5fffa0,#6bff94,#79ff86,#88ff77,#98ff67,#aaff55,#bfff40,#d9ff26,#f5ff0a,#fff200,#ffce00,#ffc100,#8cff73,#00a6ff,#0069ff,#0061ff,#0058ff,#004dff,#0040ff,#0033ff,#0026ff,#0019ff,#000eff,#0003ff,#0000f9)"></div><div style="top:183.12px;height:2.51px;background:linear-gradient(90deg,#0000ef,#0000f6,#0000ff,#000bff,#0017ff,#0023ff,#0030ff,#003dff,#004aff,#0056ff,#005fff,#0065ff,#0072ff,#00abff,#00efff,#00f8ff,#00ecff,#00d8ff,#00b7ff,#0095ff,#0082ff,#007aff,#0075ff,#0071ff,#006fff,#006dff,#006cff,#006bff,#006bff,#006cff,#006dff,#006fff,#0071ff,#0073ff,#0076ff,#0079ff,#007cff,#007fff,#0082ff,#0087ff,#0090ff,#009bff,#00a7ff,#00b1ff,#00bbff,#00c5ff,#00cfff,#00d8ff,#00e2ff,#00ebff,#00f4ff,#00fbff,#04fffb,#0bfff4,#13ffec,#1cffe3,#24ffdb,#2dffd2,#36ffc9,#40ffbf,#4affb5,#55ffaa,#60ff9f,#6dff92,#7bff84,#89ff76,#98ff67,#a7ff58,#b8ff47,#cdff32,#e6ff19,#feff01,#ffe500,#ffb900,#ffd200,#3effc1,#0086ff,#0065ff,#005eff,#0055ff,#0049ff,#003dff,#0030ff,#0023ff,#0016ff,#000bff,#0000ff,#0000f7)"></div><div style="top:185.13px;height:2.51px;background:linear-gradient(90deg,#0000ed,#0000f3,#0000fd,#0008ff,#0014ff,#0020ff,#002dff,#0039ff,#0046ff,#0052ff,#005cff,#0063ff,#006bff,#008fff,#00d6ff,#00f1ff,#00eaff,#00d6ff,#00b5ff,#0093ff,#007fff,#0077ff,#0072ff,#006eff,#006bff,#0069ff,#0068ff,#0067ff,#0067ff,#0068ff,#0069ff,#006bff,#006dff,#006fff,#0072ff,#0076ff,#0079ff,#007cff,#0080ff,#0084ff,#008dff,#009aff,#00a8ff,#00b4ff,#00c0ff,#00ccff,#00d6ff,#00e1ff,#00eaff,#00f2ff,#00faff,#02fffd,#09fff6,#10ffef,#18ffe7,#20ffdf,#29ffd6,#33ffcc,#3effc1,#49ffb6,#54ffab,#60ff9f,#6dff92,#7cff83,#8bff74,#9aff65,#a8ff57,#b7ff48,#c9ff36,#deff21,#f4ff0b,#fff500,#ffd300,#ffa600,#faff05,#00efff,#0073ff,#0063ff,#005cff,#0052ff,#0046ff,#0039ff,#002cff,#001fff,#0013ff,#0008ff,#0000fd,#0000f5)"></div><div style="top:187.14px;height:2.51px;background:linear-gradient(90deg,#0000eb,#0000f1,#0000fa,#0006ff,#0011ff,#001dff,#0029ff,#0036ff,#0042ff,#004fff,#0059ff,#0061ff,#0067ff,#007bff,#00b9ff,#00e7ff,#00eaff,#00d8ff,#00b8ff,#0097ff,#0080ff,#0075ff,#006fff,#006bff,#0068ff,#0066ff,#0064ff,#0064ff,#0063ff,#0064ff,#0065ff,#0067ff,#0069ff,#006cff,#006fff,#0073ff,#0076ff,#007aff,#007eff,#0082ff,#008bff,#0099ff,#00a9ff,#00b8ff,#00c5ff,#00d2ff,#00deff,#00e9ff,#00f1ff,#00f9ff,#00ffff,#07fff8,#0efff1,#15ffea,#1dffe2,#25ffda,#2fffd0,#3affc5,#47ffb8,#53ffac,#5fffa0,#6cff93,#7bff84,#8bff74,#9aff65,#a9ff56,#b8ff47,#c8ff37,#dbff24,#eeff11,#fffe00,#ffe600,#ffb900,#ffa200,#a6ff59,#00b0ff,#006aff,#0061ff,#0059ff,#004eff,#0042ff,#0035ff,#0029ff,#001cff,#0010ff,#0005ff,#0000fa,#0000f2)"></div><div style="top:189.16px;height:2.51px;background:linear-gradient(90deg,#0000e9,#0000ef,#0000f8,#0003ff,#000dff,#0019ff,#0025ff,#0032ff,#003fff,#004bff,#0056ff,#005fff,#0065ff,#0070ff,#009cff,#00d9ff,#00eaff,#00dcff,#00bfff,#009fff,#0084ff,#0075ff,#006eff,#0069ff,#0066ff,#0063ff,#0061ff,#0060ff,#0060ff,#0060ff,#0062ff,#0063ff,#0066ff,#0069ff,#006cff,#0070ff,#0074ff,#0078ff,#007cff,#0081ff,#0089ff,#0099ff,#00aaff,#00bbff,#00caff,#00d8ff,#00e5ff,#00f0ff,#00f8ff,#00ffff,#06fff9,#0dfff2,#14ffeb,#1bffe4,#22ffdd,#2bffd4,#35ffca,#42ffbd,#4fffb0,#5dffa2,#6bff94,#7aff85,#8aff75,#9aff65,#a9ff56,#b8ff47,#c9ff36,#daff25,#ecff13,#fcff03,#fff000,#ffd000,#ff9a00,#ffbf00,#40ffbf,#0087ff,#0066ff,#005fff,#0056ff,#004aff,#003eff,#0031ff,#0025ff,#0019ff,#000dff,#0002ff,#0000f8,#0000f0)"></div><div style="top:191.17px;height:2.51px;background:linear-gradient(90deg,#0000e7,#0000ed,#0000f5,#0000ff,#000aff,#0015ff,#0021ff,#002eff,#003aff,#0047ff,#0052ff,#005cff,#0063ff,#006aff,#0085ff,#00c3ff,#00e7ff,#00e2ff,#00c9ff,#00aaff,#008dff,#0077ff,#006dff,#0068ff,#0064ff,#0061ff,#005fff,#005dff,#005dff,#005dff,#005eff,#0060ff,#0063ff,#0066ff,#0069ff,#006dff,#0072ff,#0076ff,#007bff,#0080ff,#0088ff,#0098ff,#00abff,#00bdff,#00ceff,#00deff,#00ecff,#00f6ff,#00fdff,#05fffa,#0cfff3,#12ffed,#19ffe6,#20ffdf,#28ffd7,#31ffce,#3dffc2,#4affb5,#59ffa6,#67ff98,#76ff89,#87ff78,#97ff68,#a7ff58,#b7ff48,#c8ff37,#daff25,#ebff14,#faff05,#fff500,#ffdd00,#ffae00,#ff8400,#f3ff0c,#00e1ff,#0072ff,#0063ff,#005cff,#0052ff,#0046ff,#003aff,#002dff,#0021ff,#0015ff,#000aff,#0000fe,#0000f5,#0000ee)"></div><div style="top:193.18px;height:2.51px;background:linear-gradient(90deg,#0000e5,#0000ea,#0000f3,#0000fc,#0007ff,#0012ff,#001eff,#002aff,#0036ff,#0043ff,#004eff,#0059ff,#0061ff,#0066ff,#0075ff,#00a8ff,#00deff,#00e6ff,#00d3ff,#00b7ff,#0098ff,#007eff,#006eff,#0067ff,#0063ff,#005fff,#005dff,#005bff,#005aff,#005aff,#005bff,#005eff,#0060ff,#0063ff,#0067ff,#006bff,#0070ff,#0074ff,#0079ff,#007fff,#0087ff,#0098ff,#00acff,#00c0ff,#00d2ff,#00e3ff,#00f1ff,#00fbff,#04fffb,#0bfff4,#11ffee,#18ffe7,#1fffe0,#26ffd9,#2effd1,#39ffc6,#45ffba,#53ffac,#62ff9d,#72ff8d,#82ff7d,#93ff6c,#a3ff5c,#b3ff4c,#c5ff3a,#d8ff27,#eaff15,#f9ff06,#fff700,#ffe400,#ffbf00,#ff8400,#ff9100,#83ff7c,#009fff,#0068ff,#0061ff,#0059ff,#004eff,#0042ff,#0036ff,#0029ff,#001dff,#0012ff,#0007ff,#0000fb,#0000f2,#0000eb)"></div><div style="top:195.19px;height:2.51px;background:linear-gradient(90deg,#0000e2,#0000e8,#0000f0,#0000f9,#0004ff,#000eff,#001aff,#0026ff,#0032ff,#003eff,#004aff,#0055ff,#005eff,#0064ff,#006cff,#008dff,#00caff,#00e7ff,#00ddff,#00c4ff,#00a6ff,#0089ff,#0073ff,#0068ff,#0062ff,#005fff,#005bff,#0059ff,#0058ff,#0057ff,#0059ff,#005bff,#005eff,#0061ff,#0065ff,#0069ff,#006eff,#0073ff,#0078ff,#007eff,#0086ff,#0097ff,#00adff,#00c2ff,#00d6ff,#00e8ff,#00f5ff,#00ffff,#09fff6,#10ffef,#17ffe8,#1dffe2,#24ffdb,#2cffd3,#36ffc9,#41ffbe,#4effb1,#5cffa3,#6bff94,#7cff83,#8dff72,#9eff61,#aeff51,#c0ff3f,#d4ff2b,#e7ff18,#f8ff07,#fff900,#ffe900,#ffca00,#ff9300,#ff6400,#ffd700,#0efff1,#007bff,#0064ff,#005eff,#0055ff,#004aff,#003eff,#0031ff,#0025ff,#0019ff,#000eff,#0003ff,#0000f9,#0000f0,#0000e9)"></div><div style="top:197.21px;height:2.51px;background:linear-gradient(90deg,#0000e0,#0000e6,#0000ed,#0000f6,#0000ff,#000bff,#0016ff,#0021ff,#002dff,#003aff,#0046ff,#0051ff,#005bff,#0062ff,#0068ff,#0079ff,#00aeff,#00dfff,#00e4ff,#00d1ff,#00b5ff,#0097ff,#007cff,#006bff,#0063ff,#005eff,#005bff,#0058ff,#0056ff,#0055ff,#0056ff,#0059ff,#005cff,#0060ff,#0063ff,#0068ff,#006dff,#0072ff,#0077ff,#007dff,#0085ff,#0096ff,#00adff,#00c4ff,#00d9ff,#00ebff,#00f9ff,#04fffb,#0dfff2,#15ffea,#1cffe3,#23ffdc,#2affd5,#33ffcc,#3effc1,#4affb5,#57ffa8,#65ff9a,#75ff8a,#86ff79,#97ff68,#a7ff58,#b9ff46,#ccff33,#e1ff1e,#f4ff0b,#fffb00,#ffed00,#ffd200,#ffa200,#ff6200,#ff6f00,#acff53,#00b3ff,#006bff,#0062ff,#005bff,#0051ff,#0045ff,#0039ff,#002dff,#0021ff,#0015ff,#000aff,#0000ff,#0000f6,#0000ed,#0000e7)"></div><div style="top:199.22px;height:2.51px;background:linear-gradient(90deg,#0000de,#0000e4,#0000eb,#0000f3,#0000fc,#0007ff,#0012ff,#001dff,#0029ff,#0035ff,#0041ff,#004dff,#0057ff,#005fff,#0065ff,#006eff,#0091ff,#00ccff,#00e6ff,#00ddff,#00c4ff,#00a7ff,#008aff,#0072ff,#0065ff,#005fff,#005bff,#0058ff,#0055ff,#0054ff,#0055ff,#0057ff,#005bff,#005eff,#0062ff,#0067ff,#006cff,#0071ff,#0077ff,#007dff,#0085ff,#0096ff,#00aeff,#00c6ff,#00dcff,#00efff,#00fcff,#08fff7,#11ffee,#1affe5,#21ffde,#28ffd7,#31ffce,#3bffc4,#47ffb8,#53ffac,#60ff9f,#6eff91,#7eff81,#8fff70,#a0ff5f,#b1ff4e,#c3ff3c,#d8ff27,#eeff11,#ffff00,#fff200,#ffdb00,#ffb100,#ff6f00,#ff4400,#ffbe00,#24ffdb,#0082ff,#0065ff,#005fff,#0057ff,#004cff,#0041ff,#0035ff,#0028ff,#001dff,#0011ff,#0007ff,#0000fc,#0000f3,#0000eb,#0000e5)"></div><div style="top:201.23px;height:2.51px;background:linear-gradient(90deg,#0000dc,#0000e1,#0000e8,#0000f0,#0000f9,#0003ff,#000eff,#0019ff,#0024ff,#0030ff,#003cff,#0048ff,#0053ff,#005cff,#0062ff,#0068ff,#007aff,#00aeff,#00deff,#00e5ff,#00d3ff,#00b8ff,#009bff,#007fff,#006bff,#0061ff,#005cff,#0058ff,#0055ff,#0054ff,#0054ff,#0056ff,#005aff,#005eff,#0062ff,#0066ff,#006bff,#0071ff,#0077ff,#007dff,#0085ff,#0097ff,#00afff,#00c8ff,#00dfff,#00f1ff,#00ffff,#0bfff4,#15ffea,#1effe1,#26ffd9,#2effd1,#38ffc7,#44ffbb,#50ffaf,#5cffa3,#69ff96,#77ff88,#87ff78,#98ff67,#a8ff57,#b9ff46,#cdff32,#e3ff1c,#f7ff08,#fff800,#ffe500,#ffc100,#ff8500,#ff4200,#ff5e00,#b6ff49,#00bbff,#006dff,#0062ff,#005cff,#0052ff,#0047ff,#003cff,#0030ff,#0024ff,#0018ff,#000dff,#0003ff,#0000f9,#0000f0,#0000e8,#0000e2)"></div><div style="top:203.24px;height:2.51px;background:linear-gradient(90deg,#0000da,#0000df,#0000e6,#0000ed,#0000f6,#0000ff,#000aff,#0014ff,#0020ff,#002bff,#0037ff,#0043ff,#004eff,#0058ff,#0060ff,#0065ff,#006eff,#008fff,#00c9ff,#00e5ff,#00dfff,#00c9ff,#00adff,#0090ff,#0076ff,#0066ff,#005eff,#005aff,#0057ff,#0055ff,#0055ff,#0056ff,#005aff,#005eff,#0062ff,#0067ff,#006cff,#0071ff,#0077ff,#007dff,#0086ff,#0098ff,#00b2ff,#00cbff,#00e2ff,#00f4ff,#03fffc,#0efff1,#19ffe6,#22ffdd,#2bffd4,#35ffca,#40ffbf,#4cffb3,#59ffa6,#65ff9a,#72ff8d,#80ff7f,#90ff6f,#9fff60,#afff50,#c2ff3d,#d7ff28,#edff12,#ffff00,#fff000,#ffd500,#ffa000,#ff5600,#ff3700,#ffc500,#21ffde,#0083ff,#0066ff,#005fff,#0058ff,#004eff,#0042ff,#0037ff,#002bff,#001fff,#0014ff,#0009ff,#0000ff,#0000f5,#0000ed,#0000e6,#0000e0)"></div><div style="top:205.26px;height:2.51px;background:linear-gradient(90deg,#0000d8,#0000dd,#0000e3,#0000eb,#0000f3,#0000fb,#0006ff,#0010ff,#001bff,#0026ff,#0032ff,#003eff,#0049ff,#0053ff,#005cff,#0062ff,#0068ff,#0079ff,#00a8ff,#00d9ff,#00e6ff,#00d8ff,#00bfff,#00a3ff,#0087ff,#0071ff,#0063ff,#005dff,#0059ff,#0056ff,#0056ff,#0057ff,#005bff,#005fff,#0063ff,#0067ff,#006cff,#0072ff,#0078ff,#007eff,#0088ff,#009cff,#00b6ff,#00cfff,#00e6ff,#00f8ff,#06fff9,#11ffee,#1cffe3,#26ffd9,#30ffcf,#3cffc3,#49ffb6,#55ffaa,#62ff9d,#6eff91,#7bff84,#89ff76,#98ff67,#a6ff59,#b7ff48,#caff35,#e0ff1f,#f5ff0a,#fffa00,#ffe700,#ffc000,#ff7a00,#ff3700,#ff6d00,#99ff66,#00b2ff,#006dff,#0062ff,#005cff,#0053ff,#0049ff,#003dff,#0032ff,#0026ff,#001bff,#0010ff,#0005ff,#0000fb,#0000f2,#0000ea,#0000e3,#0000de)"></div><div style="top:207.27px;height:2.51px;background:linear-gradient(90deg,#0000d6,#0000db,#0000e1,#0000e8,#0000ef,#0000f8,#0002ff,#000cff,#0016ff,#0021ff,#002dff,#0038ff,#0044ff,#004eff,#0058ff,#0060ff,#0065ff,#006cff,#0088ff,#00beff,#00e2ff,#00e3ff,#00d0ff,#00b7ff,#009cff,#0081ff,#006dff,#0062ff,#005cff,#0059ff,#0058ff,#005aff,#005cff,#0060ff,#0064ff,#0069ff,#006eff,#0073ff,#0079ff,#007fff,#008bff,#00a1ff,#00bbff,#00d5ff,#00ebff,#00fcff,#09fff6,#15ffea,#20ffdf,#2bffd4,#37ffc8,#44ffbb,#52ffad,#5fffa0,#6cff93,#78ff87,#85ff7a,#92ff6d,#9fff60,#adff52,#beff41,#d2ff2d,#e8ff17,#fbff04,#fff400,#ffdc00,#ffa700,#ff5800,#ff4500,#ffef00,#01fffe,#007dff,#0065ff,#005fff,#0058ff,#004eff,#0043ff,#0038ff,#002cff,#0021ff,#0016ff,#000bff,#0002ff,#0000f7,#0000ef,#0000e8,#0000e1,#0000dc)"></div><div style="top:209.28px;height:2.51px;background:linear-gradient(90deg,#0000d4,#0000d9,#0000df,#0000e5,#0000ec,#0000f4,#0000fd,#0008ff,#0012ff,#001cff,#0028ff,#0033ff,#003eff,#0049ff,#0053ff,#005cff,#0062ff,#0067ff,#0074ff,#009bff,#00cfff,#00e5ff,#00deff,#00caff,#00b0ff,#0096ff,#007dff,#006bff,#0061ff,#005dff,#005cff,#005cff,#005fff,#0062ff,#0066ff,#006bff,#0070ff,#0075ff,#007bff,#0082ff,#0090ff,#00a9ff,#00c3ff,#00ddff,#00f1ff,#01fffe,#0efff1,#19ffe6,#24ffdb,#31ffce,#3fffc0,#4effb1,#5cffa3,#69ff96,#76ff89,#83ff7c,#8fff70,#9bff64,#a7ff58,#b5ff4a,#c7ff38,#dbff24,#f0ff0f,#fffd00,#ffee00,#ffce00,#ff8d00,#ff5000,#ff9f00,#63ff9c,#009fff,#006aff,#0062ff,#005cff,#0053ff,#0049ff,#003eff,#0032ff,#0027ff,#001cff,#0011ff,#0007ff,#0000fd,#0000f4,#0000ec,#0000e5,#0000de,#0000d9)"></div><div style="top:211.29px;height:2.51px;background:linear-gradient(90deg,#0000d2,#0000d7,#0000dc,#0000e2,#0000e9,#0000f1,#0000f9,#0003ff,#000dff,#0017ff,#0022ff,#002dff,#0038ff,#0043ff,#004eff,#0057ff,#005fff,#0064ff,#006aff,#007eff,#00adff,#00daff,#00e6ff,#00daff,#00c5ff,#00acff,#0092ff,#007bff,#006bff,#0063ff,#0060ff,#0060ff,#0062ff,#0065ff,#0069ff,#006dff,#0072ff,#0077ff,#007dff,#0086ff,#0099ff,#00b3ff,#00ceff,#00e6ff,#00f8ff,#07fff8,#14ffeb,#1fffe0,#2bffd4,#39ffc6,#49ffb6,#59ffa6,#67ff98,#75ff8a,#82ff7d,#8fff70,#99ff66,#a4ff5b,#afff50,#beff41,#d0ff2f,#e4ff1b,#f8ff07,#fff800,#ffe500,#ffbc00,#ff7d00,#ff8500,#baff45,#00d3ff,#0075ff,#0064ff,#005fff,#0057ff,#004eff,#0043ff,#0038ff,#002dff,#0022ff,#0017ff,#000dff,#0003ff,#0000f9,#0000f1,#0000e9,#0000e2,#0000dc,#0000d7)"></div><div style="top:213.30px;height:2.51px;background:linear-gradient(90deg,#0000d1,#0000d4,#0000da,#0000e0,#0000e6,#0000ee,#0000f6,#0000fe,#0009ff,#0012ff,#001dff,#0028ff,#0033ff,#003eff,#0048ff,#0052ff,#005bff,#0061ff,#0066ff,#006eff,#008aff,#00bdff,#00e1ff,#00e4ff,#00d6ff,#00c1ff,#00a9ff,#0091ff,#007cff,#006dff,#0066ff,#0064ff,#0065ff,#0068ff,#006cff,#0070ff,#0075ff,#007aff,#0081ff,#008dff,#00a4ff,#00bfff,#00d9ff,#00f0ff,#01fffe,#0ffff0,#1bffe4,#26ffd9,#34ffcb,#44ffbb,#55ffaa,#65ff9a,#74ff8b,#82ff7d,#8fff70,#9aff65,#a4ff5b,#aeff51,#b9ff46,#c8ff37,#daff25,#edff12,#feff01,#fff200,#ffd900,#ffad00,#ff9800,#efff10,#0efff1,#0087ff,#0067ff,#0061ff,#005aff,#0052ff,#0048ff,#003dff,#0032ff,#0027ff,#001dff,#0012ff,#0008ff,#0000fe,#0000f5,#0000ed,#0000e6,#0000e0,#0000da,#0000d5)"></div><div style="top:215.32px;height:2.51px;background:linear-gradient(90deg,#0000cf,#0000d2,#0000d8,#0000dd,#0000e4,#0000ea,#0000f2,#0000fa,#0004ff,#000eff,#0018ff,#0022ff,#002dff,#0038ff,#0042ff,#004dff,#0056ff,#005dff,#0063ff,#0067ff,#0074ff,#0098ff,#00c9ff,#00e4ff,#00e3ff,#00d4ff,#00bfff,#00a8ff,#0092ff,#007fff,#0072ff,#006cff,#006aff,#006cff,#006fff,#0073ff,#0078ff,#007eff,#0087ff,#0098ff,#00b2ff,#00cdff,#00e6ff,#00faff,#0afff5,#18ffe7,#24ffdb,#31ffce,#40ffbf,#51ffae,#62ff9d,#73ff8c,#82ff7d,#90ff6f,#9cff63,#a6ff59,#afff50,#b9ff46,#c5ff3a,#d3ff2c,#e5ff1a,#f7ff08,#fffa00,#ffe900,#ffcd00,#ffba00,#fbff04,#3bffc4,#009eff,#006cff,#0063ff,#005dff,#0056ff,#004cff,#0042ff,#0037ff,#002dff,#0022ff,#0017ff,#000dff,#0004ff,#0000fa,#0000f2,#0000ea,#0000e3,#0000dd,#0000d7,#0000d3)"></div><div style="top:217.33px;height:2.51px;background:linear-gradient(90deg,#0000cd,#0000d0,#0000d5,#0000db,#0000e1,#0000e7,#0000ee,#0000f6,#0000ff,#0009ff,#0012ff,#001dff,#0027ff,#0032ff,#003cff,#0047ff,#0050ff,#0059ff,#005fff,#0064ff,#006aff,#007aff,#00a3ff,#00d0ff,#00e5ff,#00e2ff,#00d3ff,#00bfff,#00aaff,#0096ff,#0085ff,#0079ff,#0073ff,#0072ff,#0074ff,#0077ff,#007cff,#0083ff,#0090ff,#00a7ff,#00c2ff,#00dcff,#00f3ff,#06fff9,#15ffea,#23ffdc,#32ffcd,#40ffbf,#50ffaf,#61ff9e,#72ff8d,#82ff7d,#91ff6e,#9eff61,#a8ff57,#b2ff4d,#bcff43,#c6ff39,#d2ff2d,#e0ff1f,#f0ff0f,#ffff00,#fff200,#ffe000,#ffd500,#f3ff0c,#54ffab,#00b4ff,#0072ff,#0065ff,#005fff,#0058ff,#0050ff,#0046ff,#003cff,#0031ff,#0027ff,#001cff,#0012ff,#0008ff,#0000fe,#0000f6,#0000ee,#0000e7,#0000e1,#0000db,#0000d5,#0000d1)"></div><div style="top:219.34px;height:2.51px;background:linear-gradient(90deg,#0000cb,#0000ce,#0000d3,#0000d8,#0000de,#0000e4,#0000eb,#0000f2,#0000fa,#0004ff,#000dff,#0017ff,#0021ff,#002cff,#0036ff,#0040ff,#004aff,#0053ff,#005bff,#0061ff,#0065ff,#006cff,#0081ff,#00aaff,#00d4ff,#00e5ff,#00e1ff,#00d3ff,#00c1ff,#00aeff,#009dff,#008eff,#0083ff,#007dff,#007bff,#007dff,#0082ff,#008cff,#009fff,#00b8ff,#00d3ff,#00ecff,#01fffe,#12ffed,#22ffdd,#33ffcc,#44ffbb,#54ffab,#64ff9b,#73ff8c,#83ff7c,#92ff6d,#a0ff5f,#abff54,#b6ff49,#c0ff3f,#caff35,#d5ff2a,#e1ff1e,#eeff11,#fbff04,#fff800,#ffeb00,#ffe600,#e6ff19,#5effa1,#00c5ff,#0079ff,#0066ff,#0061ff,#005bff,#0053ff,#004aff,#0040ff,#0036ff,#002bff,#0021ff,#0017ff,#000dff,#0004ff,#0000fa,#0000f2,#0000eb,#0000e4,#0000de,#0000d8,#0000d3,#0000cf)"></div><div style="top:221.35px;height:2.51px;background:linear-gradient(90deg,#0000c9,#0000cc,#0000d1,#0000d6,#0000db,#0000e1,#0000e8,#0000ef,#0000f6,#0000fe,#0008ff,#0012ff,#001bff,#0025ff,#0030ff,#003aff,#0044ff,#004dff,#0056ff,#005dff,#0062ff,#0066ff,#006eff,#0085ff,#00afff,#00d5ff,#00e5ff,#00e2ff,#00d5ff,#00c5ff,#00b5ff,#00a6ff,#0099ff,#008fff,#0089ff,#0088ff,#008dff,#009bff,#00b2ff,#00cbff,#00e4ff,#00faff,#0dfff2,#20ffdf,#33ffcc,#47ffb8,#5affa5,#6bff94,#7aff85,#87ff78,#95ff6a,#a2ff5d,#aeff51,#baff45,#c4ff3b,#cfff30,#d9ff26,#e4ff1b,#efff10,#faff05,#fffa00,#fff200,#fff200,#dcff23,#5fffa0,#00cfff,#007fff,#0068ff,#0062ff,#005dff,#0056ff,#004dff,#0043ff,#0039ff,#002fff,#0025ff,#001bff,#0011ff,#0008ff,#0000fe,#0000f6,#0000ee,#0000e7,#0000e1,#0000db,#0000d6,#0000d1,#0000cd)"></div><div style="top:223.37px;height:2.51px;background:linear-gradient(90deg,#0000c7,#0000cb,#0000cf,#0000d4,#0000d9,#0000de,#0000e4,#0000eb,#0000f2,#0000fa,#0003ff,#000cff,#0016ff,#001fff,#0029ff,#0033ff,#003dff,#0047ff,#0050ff,#0058ff,#005eff,#0063ff,#0067ff,#0070ff,#0088ff,#00b1ff,#00d5ff,#00e5ff,#00e3ff,#00d9ff,#00cbff,#00bdff,#00b1ff,#00a6ff,#009fff,#009cff,#00a2ff,#00b1ff,#00c7ff,#00deff,#00f4ff,#09fff6,#1cffe3,#31ffce,#48ffb7,#60ff9f,#74ff8b,#83ff7c,#90ff6f,#9bff64,#a7ff58,#b2ff4d,#beff41,#caff35,#d5ff2a,#dfff20,#e9ff16,#f3ff0c,#fcff03,#fffa00,#fff500,#fffc00,#d0ff2f,#5bffa4,#00d3ff,#0082ff,#0069ff,#0063ff,#005eff,#0058ff,#0050ff,#0046ff,#003dff,#0033ff,#0029ff,#001fff,#0015ff,#000cff,#0003ff,#0000fa,#0000f2,#0000eb,#0000e4,#0000de,#0000d9,#0000d4,#0000cf,#0000cb)"></div><div style="top:225.38px;height:2.51px;background:linear-gradient(90deg,#0000c5,#0000c9,#0000cd,#0000d1,#0000d6,#0000dc,#0000e1,#0000e8,#0000ee,#0000f6,#0000fe,#0007ff,#0010ff,#0019ff,#0023ff,#002dff,#0036ff,#0040ff,#0049ff,#0052ff,#0059ff,#005fff,#0063ff,#0068ff,#0071ff,#0088ff,#00afff,#00d2ff,#00e3ff,#00e5ff,#00ddff,#00d3ff,#00c7ff,#00beff,#00b8ff,#00b7ff,#00beff,#00cbff,#00dcff,#00f0ff,#04fffb,#17ffe8,#2cffd3,#46ffb9,#62ff9d,#7aff85,#8dff72,#9bff64,#a6ff59,#afff50,#b9ff46,#c4ff3b,#d0ff2f,#dbff24,#e6ff19,#efff10,#f8ff07,#ffff00,#fff900,#fff700,#f8ff07,#bfff40,#4fffb0,#00d0ff,#0084ff,#006aff,#0063ff,#005fff,#0059ff,#0052ff,#0049ff,#0040ff,#0036ff,#002cff,#0023ff,#0019ff,#0010ff,#0007ff,#0000fd,#0000f5,#0000ee,#0000e7,#0000e1,#0000db,#0000d6,#0000d1,#0000cd,#0000c9)"></div><div style="top:227.39px;height:2.51px;background:linear-gradient(90deg,#0000c4,#0000c7,#0000cb,#0000cf,#0000d4,#0000d9,#0000de,#0000e4,#0000eb,#0000f1,#0000f9,#0002ff,#000aff,#0013ff,#001dff,#0026ff,#0030ff,#0039ff,#0042ff,#004bff,#0053ff,#005aff,#0060ff,#0064ff,#0068ff,#0070ff,#0086ff,#00aaff,#00ccff,#00e1ff,#00e6ff,#00e2ff,#00dbff,#00d4ff,#00d0ff,#00d1ff,#00d7ff,#00e1ff,#00f0ff,#01fffe,#12ffed,#27ffd8,#41ffbe,#60ff9f,#7dff82,#94ff6b,#a5ff5a,#b1ff4e,#bbff44,#c3ff3c,#cdff32,#d8ff27,#e3ff1c,#edff12,#f5ff0a,#fcff03,#fffc00,#fff800,#fffb00,#ecff13,#aaff55,#3affc5,#00c7ff,#0083ff,#006aff,#0064ff,#0060ff,#005aff,#0053ff,#004bff,#0042ff,#0039ff,#002fff,#0026ff,#001cff,#0013ff,#000aff,#0002ff,#0000f9,#0000f1,#0000ea,#0000e4,#0000de,#0000d9,#0000d4,#0000cf,#0000cb,#0000c7)"></div><div style="top:229.40px;height:2.51px;background:linear-gradient(90deg,#0000c2,#0000c5,#0000c9,#0000cd,#0000d1,#0000d6,#0000db,#0000e1,#0000e7,#0000ed,#0000f4,#0000fc,#0005ff,#000eff,#0016ff,#0020ff,#0029ff,#0032ff,#003bff,#0044ff,#004dff,#0054ff,#005bff,#0060ff,#0064ff,#0068ff,#006fff,#0082ff,#00a1ff,#00c3ff,#00dbff,#00e5ff,#00e6ff,#00e4ff,#00e3ff,#00e4ff,#00eaff,#00f4ff,#02fffd,#11ffee,#23ffdc,#3bffc4,#5affa5,#7bff84,#96ff69,#abff54,#baff45,#c6ff39,#d0ff2f,#d9ff26,#e2ff1d,#ebff14,#f4ff0b,#fbff04,#fffd00,#fff900,#fff800,#fbff04,#d8ff27,#8bff74,#1effe1,#00b8ff,#007fff,#006aff,#0064ff,#0060ff,#005bff,#0054ff,#004cff,#0044ff,#003bff,#0032ff,#0029ff,#001fff,#0016ff,#000dff,#0005ff,#0000fc,#0000f4,#0000ed,#0000e7,#0000e1,#0000db,#0000d6,#0000d1,#0000cd,#0000c9,#0000c5)"></div><div style="top:231.42px;height:2.51px;background:linear-gradient(90deg,#0000c0,#0000c3,#0000c7,#0000cb,#0000cf,#0000d4,#0000d9,#0000de,#0000e3,#0000ea,#0000f0,#0000f7,#0000ff,#0008ff,#0010ff,#0019ff,#0022ff,#002bff,#0034ff,#003dff,#0046ff,#004eff,#0055ff,#005bff,#0060ff,#0064ff,#0067ff,#006dff,#007cff,#0096ff,#00b6ff,#00d1ff,#00e1ff,#00e9ff,#00edff,#00f2ff,#00faff,#06fff9,#13ffec,#23ffdc,#37ffc8,#53ffac,#75ff8a,#95ff6a,#adff52,#c0ff3f,#cfff30,#dbff24,#e5ff1a,#edff12,#f5ff0a,#fcff03,#fffd00,#fff900,#fff800,#fffe00,#eaff15,#b6ff49,#5fffa0,#00f9ff,#00a6ff,#0079ff,#0069ff,#0064ff,#0060ff,#005bff,#0055ff,#004dff,#0045ff,#003dff,#0034ff,#002bff,#0022ff,#0019ff,#0010ff,#0008ff,#0000ff,#0000f7,#0000f0,#0000e9,#0000e3,#0000de,#0000d8,#0000d4,#0000cf,#0000cb,#0000c7,#0000c3)"></div><div style="top:233.43px;height:2.51px;background:linear-gradient(90deg,#0000be,#0000c1,#0000c5,#0000c9,#0000cd,#0000d1,#0000d6,#0000db,#0000e0,#0000e6,#0000ec,#0000f3,#0000fa,#0002ff,#000aff,#0013ff,#001bff,#0024ff,#002dff,#0036ff,#003eff,#0046ff,#004eff,#0055ff,#005bff,#0060ff,#0063ff,#0066ff,#006bff,#0076ff,#008aff,#00a5ff,#00c1ff,#00d8ff,#00eaff,#00f9ff,#08fff7,#15ffea,#25ffda,#38ffc7,#51ffae,#6fff90,#90ff6f,#adff52,#c3ff3c,#d4ff2b,#e3ff1c,#eeff11,#f6ff09,#fcff03,#fffd00,#fff900,#fff900,#fffe00,#edff12,#c5ff3a,#82ff7d,#29ffd6,#00d0ff,#0092ff,#0073ff,#0067ff,#0063ff,#005fff,#005bff,#0055ff,#004eff,#0046ff,#003eff,#0035ff,#002dff,#0024ff,#001bff,#0012ff,#000aff,#0002ff,#0000fa,#0000f2,#0000ec,#0000e6,#0000e0,#0000db,#0000d6,#0000d1,#0000cd,#0000c9,#0000c5,#0000c2)"></div><div style="top:235.44px;height:2.51px;background:linear-gradient(90deg,#0000bc,#0000bf,#0000c3,#0000c7,#0000cb,#0000cf,#0000d3,#0000d8,#0000dd,#0000e2,#0000e8,#0000ee,#0000f5,#0000fc,#0005ff,#000dff,#0015ff,#001dff,#0026ff,#002eff,#0037ff,#003fff,#0047ff,#004eff,#0055ff,#005aff,#005fff,#0062ff,#0065ff,#0069ff,#0070ff,#007dff,#0092ff,#00adff,#00cbff,#00e8ff,#02fffd,#1affe5,#32ffcd,#4cffb3,#69ff96,#88ff77,#a6ff59,#c0ff3f,#d5ff2a,#e5ff1a,#f1ff0e,#f8ff07,#fcff03,#feff01,#fdff02,#f6ff09,#e3ff1c,#bfff40,#86ff79,#3bffc4,#00ebff,#00a9ff,#0080ff,#006dff,#0066ff,#0062ff,#005fff,#005aff,#0055ff,#004eff,#0046ff,#003fff,#0036ff,#002eff,#0025ff,#001dff,#0015ff,#000cff,#0004ff,#0000fc,#0000f5,#0000ee,#0000e8,#0000e2,#0000dd,#0000d8,#0000d3,#0000cf,#0000ca,#0000c6,#0000c3,#0000c0)"></div><div style="top:237.45px;height:2.51px;background:linear-gradient(90deg,#0000ba,#0000bd,#0000c1,#0000c5,#0000c8,#0000cc,#0000d1,#0000d5,#0000da,#0000df,#0000e4,#0000ea,#0000f0,#0000f7,#0000fe,#0007ff,#000eff,#0016ff,#001fff,#0027ff,#002fff,#0037ff,#003fff,#0047ff,#004eff,#0054ff,#0059ff,#005eff,#0061ff,#0064ff,#0067ff,#006bff,#0073ff,#0081ff,#0098ff,#00b4ff,#00d5ff,#00f7ff,#1dffe2,#42ffbd,#66ff99,#87ff78,#a5ff5a,#beff41,#d2ff2d,#dfff20,#e4ff1b,#e3ff1c,#dcff23,#d0ff2f,#bcff43,#9bff64,#6bff94,#2effd1,#00ebff,#00b2ff,#0089ff,#0073ff,#0069ff,#0064ff,#0061ff,#005eff,#0059ff,#0054ff,#004dff,#0046ff,#003fff,#0037ff,#002fff,#0027ff,#001eff,#0016ff,#000eff,#0006ff,#0000fe,#0000f7,#0000f0,#0000ea,#0000e4,#0000df,#0000da,#0000d5,#0000d0,#0000cc,#0000c8,#0000c4,#0000c1,#0000be)"></div><div style="top:239.46px;height:2.51px;background:linear-gradient(90deg,#0000b9,#0000bb,#0000bf,#0000c3,#0000c6,#0000ca,#0000ce,#0000d2,#0000d7,#0000dc,#0000e1,#0000e6,#0000ec,#0000f2,#0000f9,#0001ff,#0008ff,#0010ff,#0018ff,#0020ff,#0028ff,#0030ff,#0037ff,#003fff,#0046ff,#004dff,#0053ff,#0058ff,#005cff,#0060ff,#0063ff,#0065ff,#0068ff,#006cff,#0074ff,#0082ff,#0096ff,#00b1ff,#00d3ff,#00f9ff,#20ffdf,#42ffbd,#60ff9f,#79ff86,#89ff76,#8fff70,#8cff73,#7fff80,#6aff95,#4effb1,#2affd5,#00ffff,#00d1ff,#00a8ff,#0088ff,#0074ff,#006aff,#0066ff,#0063ff,#0060ff,#005cff,#0058ff,#0053ff,#004cff,#0046ff,#003eff,#0037ff,#002fff,#0027ff,#001fff,#0017ff,#0010ff,#0008ff,#0001ff,#0000f9,#0000f2,#0000ec,#0000e6,#0000e1,#0000db,#0000d7,#0000d2,#0000ce,#0000ca,#0000c6,#0000c2,#0000bf,#0000bc)"></div><div style="top:241.48px;height:2.51px;background:linear-gradient(90deg,#0000b7,#0000b9,#0000bd,#0000c0,#0000c4,#0000c8,#0000cc,#0000d0,#0000d4,#0000d9,#0000dd,#0000e2,#0000e8,#0000ee,#0000f4,#0000fa,#0002ff,#000aff,#0011ff,#0018ff,#0020ff,#0028ff,#002fff,#0037ff,#003eff,#0045ff,#004bff,#0051ff,#0056ff,#005bff,#005eff,#0061ff,#0063ff,#0065ff,#0068ff,#006bff,#0072ff,#007cff,#008bff,#009fff,#00b6ff,#00ccff,#00e0ff,#00f1ff,#00fbff,#00fbff,#00f3ff,#00e5ff,#00d2ff,#00bcff,#00a5ff,#008fff,#007dff,#0071ff,#006aff,#0066ff,#0063ff,#0061ff,#005eff,#005aff,#0056ff,#0051ff,#004bff,#0044ff,#003eff,#0036ff,#002fff,#0028ff,#0020ff,#0018ff,#0011ff,#0009ff,#0002ff,#0000fa,#0000f4,#0000ed,#0000e8,#0000e2,#0000dd,#0000d8,#0000d4,#0000d0,#0000cc,#0000c8,#0000c4,#0000c0,#0000bd,#0000ba)"></div><div style="top:243.49px;height:2.51px;background:linear-gradient(90deg,#0000b5,#0000b8,#0000bb,#0000be,#0000c2,#0000c6,#0000c9,#0000cd,#0000d1,#0000d6,#0000da,#0000df,#0000e4,#0000e9,#0000ef,#0000f5,#0000fc,#0003ff,#000aff,#0012ff,#0019ff,#0020ff,#0028ff,#002fff,#0036ff,#003dff,#0043ff,#0049ff,#004fff,#0054ff,#0058ff,#005cff,#005fff,#0061ff,#0063ff,#0065ff,#0067ff,#0069ff,#006cff,#0072ff,#0078ff,#007fff,#0086ff,#008cff,#008fff,#008fff,#008aff,#0084ff,#007eff,#0077ff,#0070ff,#006bff,#0068ff,#0065ff,#0063ff,#0061ff,#005fff,#005cff,#0058ff,#0054ff,#004eff,#0049ff,#0043ff,#003cff,#0036ff,#002eff,#0027ff,#0020ff,#0019ff,#0011ff,#000aff,#0003ff,#0000fb,#0000f5,#0000ef,#0000e9,#0000e4,#0000df,#0000da,#0000d5,#0000d1,#0000cd,#0000c9,#0000c5,#0000c2,#0000be,#0000bb,#0000b8)"></div><div style="top:245.50px;height:2.51px;background:linear-gradient(90deg,#0000b3,#0000b6,#0000b9,#0000bc,#0000c0,#0000c3,#0000c7,#0000cb,#0000cf,#0000d3,#0000d7,#0000db,#0000e0,#0000e5,#0000eb,#0000f0,#0000f6,#0000fd,#0004ff,#000bff,#0012ff,#0019ff,#0020ff,#0027ff,#002eff,#0034ff,#003bff,#0041ff,#0047ff,#004cff,#0051ff,#0055ff,#0059ff,#005cff,#005eff,#0060ff,#0062ff,#0063ff,#0065ff,#0066ff,#0067ff,#0068ff,#006aff,#006bff,#006bff,#006bff,#006aff,#0069ff,#0068ff,#0066ff,#0065ff,#0063ff,#0062ff,#0060ff,#005eff,#005cff,#0059ff,#0055ff,#0051ff,#004cff,#0046ff,#0041ff,#003aff,#0034ff,#002dff,#0027ff,#0020ff,#0018ff,#0011ff,#000bff,#0004ff,#0000fc,#0000f6,#0000f0,#0000ea,#0000e5,#0000e0,#0000db,#0000d7,#0000d2,#0000ce,#0000cb,#0000c7,#0000c3,#0000c0,#0000bc,#0000b9,#0000b6)"></div><div style="top:247.51px;height:2.51px;background:linear-gradient(90deg,#0000b1,#0000b4,#0000b7,#0000ba,#0000be,#0000c1,#0000c5,#0000c8,#0000cc,#0000d0,#0000d4,#0000d8,#0000dd,#0000e1,#0000e6,#0000ec,#0000f1,#0000f7,#0000fd,#0004ff,#000bff,#0012ff,#0018ff,#001fff,#0026ff,#002cff,#0032ff,#0038ff,#003eff,#0043ff,#0049ff,#004dff,#0051ff,#0055ff,#0058ff,#005bff,#005dff,#005fff,#0060ff,#0061ff,#0062ff,#0063ff,#0063ff,#0063ff,#0064ff,#0063ff,#0063ff,#0063ff,#0062ff,#0061ff,#0060ff,#005fff,#005dff,#005bff,#0058ff,#0055ff,#0051ff,#004dff,#0048ff,#0043ff,#003eff,#0038ff,#0032ff,#002cff,#0025ff,#001fff,#0018ff,#0011ff,#000bff,#0004ff,#0000fd,#0000f7,#0000f1,#0000eb,#0000e6,#0000e1,#0000dc,#0000d8,#0000d4,#0000d0,#0000cc,#0000c8,#0000c5,#0000c1,#0000be,#0000ba,#0000b7,#0000b4)"></div><div style="top:249.53px;height:2.51px;background:linear-gradient(90deg,#0000af,#0000b2,#0000b5,#0000b8,#0000bc,#0000bf,#0000c2,#0000c6,#0000c9,#0000cd,#0000d1,#0000d5,#0000d9,#0000de,#0000e2,#0000e7,#0000ec,#0000f2,#0000f7,#0000fd,#0004ff,#000bff,#0011ff,#0017ff,#001eff,#0024ff,#002aff,#0030ff,#0035ff,#003bff,#0040ff,#0045ff,#0049ff,#004dff,#0050ff,#0053ff,#0056ff,#0058ff,#005aff,#005cff,#005dff,#005eff,#005eff,#005eff,#005fff,#005eff,#005eff,#005eff,#005dff,#005cff,#005aff,#0058ff,#0056ff,#0053ff,#0050ff,#004dff,#0049ff,#0044ff,#0040ff,#003bff,#0035ff,#0030ff,#002aff,#0024ff,#001dff,#0017ff,#0011ff,#000aff,#0004ff,#0000fd,#0000f7,#0000f1,#0000ec,#0000e7,#0000e2,#0000dd,#0000d9,#0000d5,#0000d1,#0000cd,#0000c9,#0000c6,#0000c2,#0000bf,#0000bc,#0000b8,#0000b5,#0000b2)"></div><div style="top:251.54px;height:2.51px;background:linear-gradient(90deg,#0000ae,#0000b0,#0000b3,#0000b6,#0000ba,#0000bd,#0000c0,#0000c4,#0000c7,#0000cb,#0000ce,#0000d2,#0000d6,#0000da,#0000de,#0000e3,#0000e8,#0000ed,#0000f2,#0000f7,#0000fd,#0004ff,#000aff,#0010ff,#0016ff,#001cff,#0022ff,#0027ff,#002dff,#0032ff,#0037ff,#003cff,#0040ff,#0044ff,#0048ff,#004bff,#004eff,#0051ff,#0053ff,#0054ff,#0056ff,#0057ff,#0058ff,#0058ff,#0058ff,#0058ff,#0058ff,#0057ff,#0056ff,#0054ff,#0053ff,#0050ff,#004eff,#004bff,#0048ff,#0044ff,#0040ff,#003cff,#0037ff,#0032ff,#002dff,#0027ff,#0021ff,#001cff,#0016ff,#0010ff,#000aff,#0004ff,#0000fd,#0000f7,#0000f2,#0000ed,#0000e7,#0000e3,#0000de,#0000da,#0000d6,#0000d2,#0000ce,#0000ca,#0000c7,#0000c3,#0000c0,#0000bd,#0000ba,#0000b6,#0000b3,#0000b0)"></div><div style="top:253.55px;height:2.51px;background:linear-gradient(90deg,#0000ac,#0000ae,#0000b1,#0000b4,#0000b8,#0000bb,#0000be,#0000c1,#0000c5,#0000c8,#0000cb,#0000cf,#0000d3,#0000d7,#0000db,#0000df,#0000e3,#0000e8,#0000ed,#0000f2,#0000f7,#0000fd,#0003ff,#0009ff,#000eff,#0014ff,#001aff,#001fff,#0024ff,#0029ff,#002eff,#0033ff,#0037ff,#003bff,#003fff,#0042ff,#0045ff,#0048ff,#004aff,#004cff,#004dff,#004fff,#004fff,#0050ff,#0050ff,#0050ff,#004fff,#004fff,#004dff,#004cff,#004aff,#0048ff,#0045ff,#0042ff,#003fff,#003bff,#0037ff,#0033ff,#002eff,#0029ff,#0024ff,#001fff,#0019ff,#0014ff,#000eff,#0009ff,#0003ff,#0000fc,#0000f7,#0000f2,#0000ed,#0000e8,#0000e3,#0000df,#0000da,#0000d6,#0000d3,#0000cf,#0000cb,#0000c8,#0000c4,#0000c1,#0000be,#0000bb,#0000b8,#0000b4,#0000b1,#0000af)"></div><div style="top:255.56px;height:2.51px;background:linear-gradient(90deg,#0000aa,#0000ac,#0000af,#0000b2,#0000b6,#0000b9,#0000bc,#0000bf,#0000c2,#0000c5,#0000c9,#0000cc,#0000d0,#0000d3,#0000d7,#0000db,#0000df,#0000e4,#0000e8,#0000ed,#0000f2,#0000f7,#0000fc,#0002ff,#0007ff,#000dff,#0012ff,#0017ff,#001cff,#0021ff,#0026ff,#002aff,#002eff,#0032ff,#0036ff,#0039ff,#003cff,#003fff,#0041ff,#0043ff,#0045ff,#0046ff,#0047ff,#0047ff,#0047ff,#0047ff,#0047ff,#0046ff,#0044ff,#0043ff,#0041ff,#003fff,#003cff,#0039ff,#0036ff,#0032ff,#002eff,#002aff,#0026ff,#0021ff,#001cff,#0017ff,#0012ff,#000cff,#0007ff,#0002ff,#0000fc,#0000f6,#0000f1,#0000ed,#0000e8,#0000e3,#0000df,#0000db,#0000d7,#0000d3,#0000d0,#0000cc,#0000c9,#0000c5,#0000c2,#0000bf,#0000bc,#0000b9,#0000b5,#0000b2,#0000af,#0000ad)"></div><div style="top:257.58px;height:2.51px;background:linear-gradient(90deg,#0000a8,#0000aa,#0000ad,#0000b0,#0000b4,#0000b7,#0000ba,#0000bd,#0000c0,#0000c3,#0000c6,#0000ca,#0000cd,#0000d0,#0000d4,#0000d8,#0000db,#0000df,#0000e4,#0000e8,#0000ec,#0000f1,#0000f6,#0000fb,#0001ff,#0006ff,#000aff,#000fff,#0014ff,#0019ff,#001dff,#0022ff,#0026ff,#0029ff,#002dff,#0030ff,#0033ff,#0036ff,#0038ff,#003aff,#003bff,#003dff,#003eff,#003eff,#003eff,#003eff,#003dff,#003dff,#003bff,#003aff,#0038ff,#0036ff,#0033ff,#0030ff,#002dff,#0029ff,#0026ff,#0021ff,#001dff,#0019ff,#0014ff,#000fff,#000aff,#0005ff,#0000ff,#0000fb,#0000f6,#0000f1,#0000ec,#0000e8,#0000e3,#0000df,#0000db,#0000d7,#0000d4,#0000d0,#0000cd,#0000c9,#0000c6,#0000c3,#0000c0,#0000bd,#0000ba,#0000b7,#0000b3,#0000b0,#0000ad,#0000ab)"></div><div style="top:259.59px;height:2.51px;background:linear-gradient(90deg,#0000a6,#0000a8,#0000ac,#0000af,#0000b2,#0000b5,#0000b8,#0000bb,#0000be,#0000c1,#0000c4,#0000c7,#0000ca,#0000ce,#0000d1,#0000d5,#0000d8,#0000dc,#0000e0,#0000e4,#0000e8,#0000ec,#0000f1,#0000f5,#0000fa,#0000ff,#0004ff,#0009ff,#000dff,#0012ff,#0016ff,#001aff,#001eff,#0022ff,#0025ff,#0028ff,#002bff,#002eff,#0030ff,#0032ff,#0033ff,#0034ff,#0035ff,#0036ff,#0036ff,#0036ff,#0035ff,#0034ff,#0033ff,#0032ff,#0030ff,#002eff,#002bff,#0028ff,#0025ff,#0022ff,#001eff,#001aff,#0016ff,#0012ff,#000dff,#0009ff,#0004ff,#0000fe,#0000fa,#0000f5,#0000f1,#0000ec,#0000e8,#0000e4,#0000e0,#0000dc,#0000d8,#0000d4,#0000d1,#0000ce,#0000ca,#0000c7,#0000c4,#0000c1,#0000be,#0000bb,#0000b8,#0000b5,#0000b2,#0000af,#0000ab,#0000a9)"></div></div></div>
</div></body></html>
